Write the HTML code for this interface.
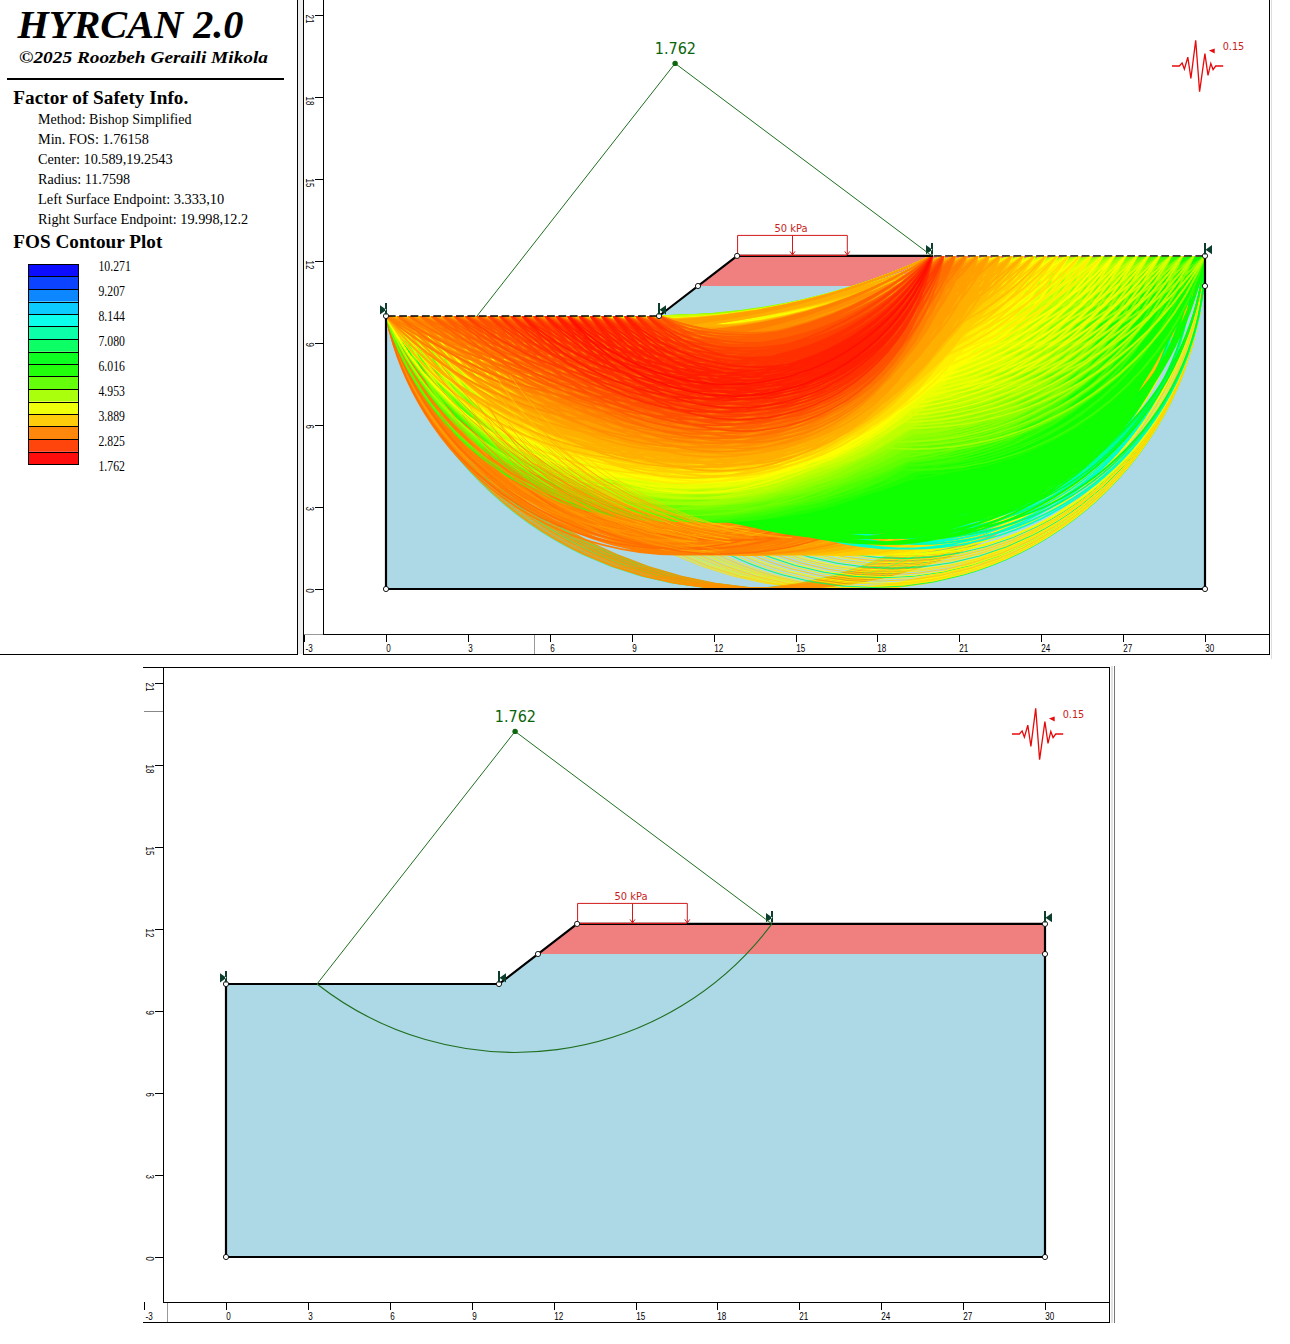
<!DOCTYPE html>
<html><head><meta charset="utf-8"><title>HYRCAN 2.0</title>
<style>
html,body{margin:0;padding:0;background:#fff}
svg{display:block}
svg{font-family:"Liberation Serif",serif}
.tah{font-family:"DejaVu Sans Condensed","DejaVu Sans","Liberation Sans",sans-serif}
.ari{font-family:"Liberation Sans",sans-serif}
.b{font-weight:bold}
.bi{font-weight:bold;font-style:italic}
</style></head><body>
<svg width="1290" height="1344" viewBox="0 0 1290 1344">
<rect width="1290" height="1344" fill="#fff"/>
<text x="17.5" y="38.4" class="bi" font-size="40" textLength="226" lengthAdjust="spacingAndGlyphs">HYRCAN 2.0</text>
<text x="19" y="63.4" class="bi" font-size="17.3" textLength="249" lengthAdjust="spacingAndGlyphs">©2025 Roozbeh Geraili Mikola</text>
<rect x="7" y="78" width="277" height="2" fill="#000"/>
<text x="13.3" y="103.6" class="b" font-size="18.6" textLength="175" lengthAdjust="spacingAndGlyphs">Factor of Safety Info.</text>
<text x="38" y="124" font-size="15" textLength="153.5" lengthAdjust="spacingAndGlyphs">Method: Bishop Simplified</text>
<text x="38" y="144.1" font-size="15" textLength="110.8" lengthAdjust="spacingAndGlyphs">Min. FOS: 1.76158</text>
<text x="38" y="164.1" font-size="15" textLength="134.6" lengthAdjust="spacingAndGlyphs">Center: 10.589,19.2543</text>
<text x="38" y="184.2" font-size="15" textLength="92.1" lengthAdjust="spacingAndGlyphs">Radius: 11.7598</text>
<text x="38" y="204.2" font-size="15" textLength="186.3" lengthAdjust="spacingAndGlyphs">Left Surface Endpoint: 3.333,10</text>
<text x="38" y="224.2" font-size="15" textLength="210.1" lengthAdjust="spacingAndGlyphs">Right Surface Endpoint: 19.998,12.2</text>
<text x="13.3" y="248.2" class="b" font-size="18.6" textLength="149" lengthAdjust="spacingAndGlyphs">FOS Contour Plot</text>
<rect x="28" y="264" width="50" height="12.5" fill="rgb(12,12,255)"/>
<rect x="28" y="276.5" width="50" height="12.5" fill="rgb(12,67,255)"/>
<rect x="28" y="289" width="50" height="12.5" fill="rgb(12,135,255)"/>
<rect x="28" y="301.5" width="50" height="12.5" fill="rgb(12,203,255)"/>
<rect x="28" y="314" width="50" height="12.5" fill="rgb(12,255,237)"/>
<rect x="28" y="326.5" width="50" height="12.5" fill="rgb(12,255,169)"/>
<rect x="28" y="339" width="50" height="12.5" fill="rgb(12,255,101)"/>
<rect x="28" y="351.5" width="50" height="12.5" fill="rgb(12,255,33)"/>
<rect x="28" y="364" width="50" height="12.5" fill="rgb(33,255,12)"/>
<rect x="28" y="376.5" width="50" height="12.5" fill="rgb(101,255,12)"/>
<rect x="28" y="389" width="50" height="12.5" fill="rgb(170,255,12)"/>
<rect x="28" y="401.5" width="50" height="12.5" fill="rgb(238,255,12)"/>
<rect x="28" y="414" width="50" height="12.5" fill="rgb(255,204,12)"/>
<rect x="28" y="426.5" width="50" height="12.5" fill="rgb(255,136,12)"/>
<rect x="28" y="439" width="50" height="12.5" fill="rgb(255,68,12)"/>
<rect x="28" y="451.5" width="50" height="12.5" fill="rgb(255,12,12)"/>
<g stroke="#000" stroke-width="1" fill="none" shape-rendering="crispEdges">
<rect x="28.5" y="264.5" width="50" height="200"/>
<line x1="28" y1="276.5" x2="79" y2="276.5"/>
<line x1="28" y1="289.5" x2="79" y2="289.5"/>
<line x1="28" y1="302.5" x2="79" y2="302.5"/>
<line x1="28" y1="314.5" x2="79" y2="314.5"/>
<line x1="28" y1="326.5" x2="79" y2="326.5"/>
<line x1="28" y1="339.5" x2="79" y2="339.5"/>
<line x1="28" y1="352.5" x2="79" y2="352.5"/>
<line x1="28" y1="364.5" x2="79" y2="364.5"/>
<line x1="28" y1="376.5" x2="79" y2="376.5"/>
<line x1="28" y1="389.5" x2="79" y2="389.5"/>
<line x1="28" y1="402.5" x2="79" y2="402.5"/>
<line x1="28" y1="414.5" x2="79" y2="414.5"/>
<line x1="28" y1="426.5" x2="79" y2="426.5"/>
<line x1="28" y1="439.5" x2="79" y2="439.5"/>
<line x1="28" y1="452.5" x2="79" y2="452.5"/>
</g>
<text x="98.5" y="271.1" font-size="13.6" textLength="32.3" lengthAdjust="spacingAndGlyphs">10.271</text>
<text x="98.5" y="296.1" font-size="13.6" textLength="26.4" lengthAdjust="spacingAndGlyphs">9.207</text>
<text x="98.5" y="321.1" font-size="13.6" textLength="26.4" lengthAdjust="spacingAndGlyphs">8.144</text>
<text x="98.5" y="346.1" font-size="13.6" textLength="26.4" lengthAdjust="spacingAndGlyphs">7.080</text>
<text x="98.5" y="371.1" font-size="13.6" textLength="26.4" lengthAdjust="spacingAndGlyphs">6.016</text>
<text x="98.5" y="396.1" font-size="13.6" textLength="26.4" lengthAdjust="spacingAndGlyphs">4.953</text>
<text x="98.5" y="421.1" font-size="13.6" textLength="26.4" lengthAdjust="spacingAndGlyphs">3.889</text>
<text x="98.5" y="446.1" font-size="13.6" textLength="26.4" lengthAdjust="spacingAndGlyphs">2.825</text>
<text x="98.5" y="471.1" font-size="13.6" textLength="26.4" lengthAdjust="spacingAndGlyphs">1.762</text>
<g stroke="#000" stroke-width="1" shape-rendering="crispEdges"><line x1="297.5" y1="0" x2="297.5" y2="655"/><line x1="0" y1="654.5" x2="298" y2="654.5"/></g>
<rect x="298" y="0" width="5" height="654" fill="#eee"/>
<defs><clipPath id="cp"><polygon points="386,589 1205,589 1205,256 737.1,256 659,316 386,316"/></clipPath></defs>
<polygon points="386,589 1205,589 1205,286 698,286 659,316 386,316" fill="#add8e6"/>
<polygon points="698,286 1205,286 1205,255.9 737.1,255.9" fill="#f08080"/>
<g fill="none" clip-path="url(#cp)" stroke-width="0.8">
<path stroke="#00ffaf" d="M386 316A360.9 360.9 0 0 0 1095.8 256M386 316A375.1 375.1 0 0 0 1119.7 256M386 316A389.8 389.8 0 0 0 1143.6 256M386 316A405 405 0 0 0 1167.5 256M386 316A420.7 420.7 0 0 0 1191.3 256"/>
<path stroke="#00ff1f" d="M386 316A366.9 366.9 0 0 0 1106 256M386 316A383.5 383.5 0 0 0 1133.3 256M386 316A392 392 0 0 0 1147 256M386 316A400.6 400.6 0 0 0 1160.6 256M386 316A409.4 409.4 0 0 0 1174.3 256M386 316A418.4 418.4 0 0 0 1187.9 256M386 316A427.5 427.5 0 0 0 1201.6 256"/>
<path stroke="#dfff00" d="M489.7 316A364.1 364.1 0 0 0 1205 256M517 316A348.3 348.3 0 0 0 1205 256"/>
<path stroke="#ffef00" d="M473.4 316A373.9 373.9 0 0 0 1205 256M500.7 316A357.7 357.7 0 0 0 1205 256M528 316A342.1 342.1 0 0 0 1205 256M484.3 316A367.3 367.3 0 0 0 1205 256M511.6 316A351.4 351.4 0 0 0 1205 256M538.9 316A336.1 336.1 0 0 0 1205 256"/>
<path stroke="#ffdf00" d="M467.9 316A377.2 377.2 0 0 0 1205 256M495.2 316A360.9 360.9 0 0 0 1205 256M522.5 316A345.2 345.2 0 0 0 1205 256"/>
<path stroke="#ffcf00" d="M478.8 316A370.6 370.6 0 0 0 1205 256M506.1 316A354.5 354.5 0 0 0 1205 256M533.4 316A339.1 339.1 0 0 0 1205 256"/>
<path stroke="#ff9f00" d="M386 316A362.9 362.9 0 0 0 1099.2 256M386 316A371 371 0 0 0 1112.9 256M386 316A379.3 379.3 0 0 0 1126.5 256M386 316A387.7 387.7 0 0 0 1140.2 256M386 316A396.3 396.3 0 0 0 1153.8 256M386 316A413.9 413.9 0 0 0 1181.1 256M386 316A423 423 0 0 0 1194.8 256"/>
<path stroke="#ff8f00" d="M386 316A368.9 368.9 0 0 0 1109.5 256M386 316A377.2 377.2 0 0 0 1123.1 256M386 316A385.6 385.6 0 0 0 1136.8 256M386 316A394.1 394.1 0 0 0 1150.4 256M386 316A402.8 402.8 0 0 0 1164.1 256M386 316A411.7 411.7 0 0 0 1177.7 256M386 316A429.8 429.8 0 0 0 1205 256M386 316A364.9 364.9 0 0 0 1102.6 256M386 316A373 373 0 0 0 1116.3 256M386 316A381.4 381.4 0 0 0 1129.9 256M386 316A398.4 398.4 0 0 0 1157.2 256M386 316A407.2 407.2 0 0 0 1170.9 256M386 316A416.1 416.1 0 0 0 1184.5 256M386 316A425.2 425.2 0 0 0 1198.2 256"/>
</g>
<g fill="none" clip-path="url(#cp)" stroke-width="0.9">
<path stroke="#00ff5f" d="M547.1 316A331.7 331.7 0 0 0 1205 256M566.7 316A322 322 0 0 0 1205 256M586.4 316A312.2 312.2 0 0 0 1205 256M606 316A302.5 302.5 0 0 0 1205 256"/>
<path stroke="#ffff00" d="M556.9 316A326.8 326.8 0 0 0 1205 256M570 316A320.3 320.3 0 0 0 1205 256M583.1 316A313.8 313.8 0 0 0 1205 256M596.2 316A307.4 307.4 0 0 0 1205 256M609.3 316A300.9 300.9 0 0 0 1205 256"/>
<path stroke="#ffef00" d="M550.3 316A330.1 330.1 0 0 0 1205 256M563.5 316A323.6 323.6 0 0 0 1205 256M576.6 316A317.1 317.1 0 0 0 1205 256M589.7 316A310.6 310.6 0 0 0 1205 256M602.8 316A304.1 304.1 0 0 0 1205 256"/>
<path stroke="#ffdf00" d="M553.6 316A328.5 328.5 0 0 0 1205 256M579.8 316A315.5 315.5 0 0 0 1205 256M592.9 316A309 309 0 0 0 1205 256"/>
<path stroke="#ffcf00" d="M560.2 316A325.2 325.2 0 0 0 1205 256M573.3 316A318.7 318.7 0 0 0 1205 256M599.5 316A305.7 305.7 0 0 0 1205 256M612.6 316A299.2 299.2 0 0 0 1205 256"/>
</g>
<g fill="none" clip-path="url(#cp)" stroke-width="1.7">
<path stroke="#dfff00" d="M602.1 316A293.2 293.2 0 0 0 1182.2 256"/>
<path stroke="#efff00" d="M613.5 316A298.8 298.8 0 0 0 1205 256M602.1 316A298.8 298.8 0 0 0 1193.6 256M579.4 316A287.5 287.5 0 0 0 1148.1 256"/>
<path stroke="#ffff00" d="M556.6 316A313.9 313.9 0 0 0 1170.9 256M579.4 316A293.2 293.2 0 0 0 1159.5 256M568 316A325.3 325.3 0 0 0 1205 256M545.2 316A313.9 313.9 0 0 0 1159.5 256M533.9 316A276.3 276.3 0 0 0 1079.9 256M568 316A287.5 287.5 0 0 0 1136.8 256M556.6 316A281.9 281.9 0 0 0 1114 256M590.8 316A293.2 293.2 0 0 0 1170.9 256M556.6 316A319.6 319.6 0 0 0 1182.2 256M579.4 316A319.6 319.6 0 0 0 1205 256M511.1 316A270.7 270.7 0 0 0 1045.8 256"/>
<path stroke="#ffef00" d="M579.4 316A298.8 298.8 0 0 0 1170.9 256M533.9 316A313.9 313.9 0 0 0 1148.1 256M522.5 316A281.9 281.9 0 0 0 1079.9 256M545.2 316A281.9 281.9 0 0 0 1102.6 256M545.2 316A319.6 319.6 0 0 0 1170.9 256M533.9 316A281.9 281.9 0 0 0 1091.2 256M568 316A293.2 293.2 0 0 0 1148.1 256M499.8 316A296.8 296.8 0 0 0 1079.9 256M556.6 316A325.2 325.2 0 0 0 1193.6 256M556.6 316A287.5 287.5 0 0 0 1125.4 256M590.8 316A298.8 298.8 0 0 0 1182.2 256M511.1 316A276.3 276.3 0 0 0 1057.1 256M511.1 316A308.2 308.2 0 0 0 1114 256M533.9 316A319.5 319.5 0 0 0 1159.5 256M522.5 316A287.5 287.5 0 0 0 1091.2 256M568 316A319.6 319.6 0 0 0 1193.6 256M545.2 316A287.5 287.5 0 0 0 1114 256"/>
<path stroke="#ffdf00" d="M545.2 316A325.2 325.2 0 0 0 1182.2 256M477 316A291.1 291.1 0 0 0 1045.8 256M533.9 316A287.5 287.5 0 0 0 1102.6 256M568 316A298.8 298.8 0 0 0 1159.5 256M556.6 316A293.2 293.2 0 0 0 1136.8 256M499.8 316A337.9 337.9 0 0 0 1148.1 256M522.5 316A325.2 325.2 0 0 0 1159.5 256M511.1 316A281.9 281.9 0 0 0 1068.5 256M499.8 316A270.7 270.7 0 0 0 1034.4 256M511.1 316A313.8 313.8 0 0 0 1125.4 256M533.9 316A325.2 325.2 0 0 0 1170.9 256M499.8 316A302.5 302.5 0 0 0 1091.2 256M522.5 316A308.2 308.2 0 0 0 1125.4 256M488.4 316A296.8 296.8 0 0 0 1068.5 256M488.4 316A281.9 281.9 0 0 0 1045.8 256M522.5 316A293.2 293.2 0 0 0 1102.6 256M545.2 316A293.2 293.2 0 0 0 1125.4 256M533.9 316A308.2 308.2 0 0 0 1136.8 256M488.4 316A366.5 366.5 0 0 0 1182.2 256M522.5 316A276.3 276.3 0 0 0 1068.5 256M533.9 316A293.2 293.2 0 0 0 1114 256M499.8 316A343.7 343.7 0 0 0 1159.5 256M556.6 316A298.8 298.8 0 0 0 1148.1 256M511.1 316A302.5 302.5 0 0 0 1102.6 256"/>
<path stroke="#ffcf00" d="M488.4 316A313.8 313.8 0 0 0 1102.6 256M511.1 316A343.8 343.8 0 0 0 1170.9 256M488.4 316A374.4 374.4 0 0 0 1193.6 256M465.6 316A332 332 0 0 0 1102.6 256M454.2 316A291 291 0 0 0 1023 256M511.1 316A319.5 319.5 0 0 0 1136.8 256M511.1 316A287.5 287.5 0 0 0 1079.9 256M477 316A296.8 296.8 0 0 0 1057.1 256M499.8 316A276.3 276.3 0 0 0 1045.8 256M465.6 316A270.7 270.7 0 0 0 1000.2 256M477 316A358.7 358.7 0 0 0 1159.5 256M477 316A332 332 0 0 0 1114 256M499.8 316A351.1 351.1 0 0 0 1170.9 256M522.5 316A313.9 313.9 0 0 0 1136.8 256M499.8 316A325.2 325.2 0 0 0 1136.8 256M499.8 316A293.2 293.2 0 0 0 1079.9 256M488.4 316A337.9 337.9 0 0 0 1136.8 256M488.4 316A382.4 382.4 0 0 0 1205 256M511.1 316A351.2 351.2 0 0 0 1182.2 256M488.4 316A287.5 287.5 0 0 0 1057.1 256M522.5 316A298.8 298.8 0 0 0 1114 256M545.2 316A298.8 298.8 0 0 0 1136.8 256M499.8 316A308.2 308.2 0 0 0 1102.6 256M477 316A313.8 313.8 0 0 0 1091.2 256M488.4 316A270.7 270.7 0 0 0 1023 256M477 316A366.4 366.4 0 0 0 1170.9 256M499.8 316A358.8 358.8 0 0 0 1182.2 256M454.2 316A326.1 326.1 0 0 0 1079.9 256M533.9 316A298.8 298.8 0 0 0 1125.4 256M465.6 316A302.4 302.4 0 0 0 1057.1 256M488.4 316A302.5 302.5 0 0 0 1079.9 256M477 316A270.7 270.7 0 0 0 1011.6 256M465.6 316A374.2 374.2 0 0 0 1170.9 256M488.4 316A319.5 319.5 0 0 0 1114 256M511.1 316A325.2 325.2 0 0 0 1148.1 256M511.1 316A293.2 293.2 0 0 0 1091.2 256M499.8 316A281.9 281.9 0 0 0 1057.1 256M477 316A374.3 374.3 0 0 0 1182.2 256M477 316A287.5 287.5 0 0 0 1045.8 256M499.8 316A366.6 366.6 0 0 0 1193.6 256M465.6 316A276.3 276.3 0 0 0 1011.6 256M465.6 316A291.1 291.1 0 0 0 1034.4 256M522.5 316A319.5 319.5 0 0 0 1148.1 256"/>
<path stroke="#ffbf00" d="M488.4 316A343.7 343.7 0 0 0 1148.1 256M465.6 316A382.3 382.3 0 0 0 1182.2 256M465.6 316A337.7 337.7 0 0 0 1114 256M454.2 316A296.7 296.7 0 0 0 1034.4 256M477 316A302.4 302.4 0 0 0 1068.5 256M454.2 316A407.1 407.1 0 0 0 1205 256M442.9 316A276.3 276.3 0 0 0 988.9 256M499.8 316A313.8 313.8 0 0 0 1114 256M477 316A337.8 337.8 0 0 0 1125.4 256M477 316A382.4 382.4 0 0 0 1193.6 256M454.2 316A350.9 350.9 0 0 0 1125.4 256M499.8 316A374.5 374.5 0 0 0 1205 256M477 316A319.4 319.4 0 0 0 1102.6 256M442.9 316A291 291 0 0 0 1011.6 256M488.4 316A276.3 276.3 0 0 0 1034.4 256M431.5 316A270.7 270.7 0 0 0 966.1 256M465.6 316A390.4 390.4 0 0 0 1193.6 256M442.9 316A337.6 337.6 0 0 0 1091.2 256M499.8 316A298.8 298.8 0 0 0 1091.2 256M488.4 316A351.1 351.1 0 0 0 1159.5 256M465.6 316A326.2 326.2 0 0 0 1091.2 256M477 316A276.3 276.3 0 0 0 1023 256M488.4 316A325.1 325.1 0 0 0 1125.4 256M465.6 316A293.2 293.2 0 0 0 1045.8 256M488.4 316A293.2 293.2 0 0 0 1068.5 256M454.2 316A313.7 313.7 0 0 0 1068.5 256M477 316A390.5 390.5 0 0 0 1205 256M454.2 316A358.5 358.5 0 0 0 1136.8 256M454.2 316A331.9 331.9 0 0 0 1091.2 256M499.8 316A287.5 287.5 0 0 0 1068.5 256M465.6 316A281.9 281.9 0 0 0 1023 256M454.2 316A270.7 270.7 0 0 0 988.9 256M465.6 316A308.1 308.1 0 0 0 1068.5 256M488.4 316A308.1 308.1 0 0 0 1091.2 256M465.6 316A398.8 398.8 0 0 0 1205 256M465.6 316A343.5 343.5 0 0 0 1125.4 256M442.9 316A390.3 390.3 0 0 0 1170.9 256M488.4 316A358.7 358.7 0 0 0 1170.9 256M442.9 316A326 326 0 0 0 1068.5 256M420.1 316A270.7 270.7 0 0 0 954.8 256M431.5 316A302.3 302.3 0 0 0 1023 256M454.2 316A287.5 287.5 0 0 0 1023 256M477 316A343.6 343.6 0 0 0 1136.8 256M454.2 316A366.3 366.3 0 0 0 1148.1 256M511.1 316A298.8 298.8 0 0 0 1102.6 256M499.8 316A319.5 319.5 0 0 0 1125.4 256M465.6 316A296.7 296.7 0 0 0 1045.8 256M442.9 316A281.9 281.9 0 0 0 1000.2 256M477 316A293.2 293.2 0 0 0 1057.1 256M442.9 316A308 308 0 0 0 1045.8 256M431.5 316A276.3 276.3 0 0 0 977.5 256M442.9 316A398.6 398.6 0 0 0 1182.2 256M442.9 316A343.4 343.4 0 0 0 1102.6 256M465.6 316A350.9 350.9 0 0 0 1136.8 256M431.5 316A291 291 0 0 0 1000.2 256"/>
<path stroke="#ffaf00" d="M465.6 316A325.1 325.1 0 0 0 1102.6 256M454.2 316A302.4 302.4 0 0 0 1045.8 256M477 316A281.9 281.9 0 0 0 1034.4 256M477 316A308.1 308.1 0 0 0 1079.9 256M431.5 316A382 382 0 0 0 1148.1 256M454.2 316A374.2 374.2 0 0 0 1159.5 256M431.5 316A337.5 337.5 0 0 0 1079.9 256M477 316A351 351 0 0 0 1148.1 256M477 316A325.1 325.1 0 0 0 1114 256M442.9 316A296.7 296.7 0 0 0 1023 256M420.1 316A302.3 302.3 0 0 0 1011.6 256M465.6 316A313.8 313.8 0 0 0 1079.9 256M442.9 316A407 407 0 0 0 1193.6 256M465.6 316A358.6 358.6 0 0 0 1148.1 256M442.9 316A350.8 350.8 0 0 0 1114 256M454.2 316A276.3 276.3 0 0 0 1000.2 256M465.6 316A298.8 298.8 0 0 0 1057.1 256M420.1 316A276.3 276.3 0 0 0 966.1 256M488.4 316A298.8 298.8 0 0 0 1079.9 256M431.5 316A390.2 390.2 0 0 0 1159.5 256M454.2 316A382.2 382.2 0 0 0 1170.9 256M454.2 316A337.7 337.7 0 0 0 1102.6 256M454.2 316A319.4 319.4 0 0 0 1079.9 256M420.1 316A290.9 290.9 0 0 0 988.9 256M431.5 316A325.9 325.9 0 0 0 1057.1 256M408.8 316A276.3 276.3 0 0 0 954.8 256M442.9 316A313.7 313.7 0 0 0 1057.1 256M442.9 316A415.6 415.6 0 0 0 1205 256M465.6 316A287.5 287.5 0 0 0 1034.4 256M420.1 316A381.9 381.9 0 0 0 1136.8 256M442.9 316A358.4 358.4 0 0 0 1125.4 256M465.6 316A366.3 366.3 0 0 0 1159.5 256M420.1 316A337.4 337.4 0 0 0 1068.5 256M442.9 316A331.8 331.8 0 0 0 1079.9 256M408.8 316A290.9 290.9 0 0 0 977.5 256M431.5 316A281.9 281.9 0 0 0 988.9 256M442.9 316A270.7 270.7 0 0 0 977.5 256M442.9 316A298.8 298.8 0 0 0 1034.4 256M431.5 316A308 308 0 0 0 1034.4 256M431.5 316A398.5 398.5 0 0 0 1170.9 256M431.5 316A343.3 343.3 0 0 0 1091.2 256M454.2 316A390.4 390.4 0 0 0 1182.2 256M408.8 316A337.4 337.4 0 0 0 1057.1 256M454.2 316A293.2 293.2 0 0 0 1034.4 256M442.9 316A287.5 287.5 0 0 0 1011.6 256M477 316A298.8 298.8 0 0 0 1068.5 256M420.1 316A390.1 390.1 0 0 0 1148.1 256M442.9 316A366.2 366.2 0 0 0 1136.8 256M420.1 316A325.8 325.8 0 0 0 1045.8 256M397.4 316A325.6 325.6 0 0 0 1023 256M431.5 316A296.7 296.7 0 0 0 1011.6 256"/>
<path stroke="#ff9f00" d="M454.2 316A281.9 281.9 0 0 0 1011.6 256M454.2 316A308.1 308.1 0 0 0 1057.1 256M431.5 316A406.9 406.9 0 0 0 1182.2 256M454.2 316A398.7 398.7 0 0 0 1193.6 256M408.8 316A390 390 0 0 0 1136.8 256M454.2 316A343.5 343.5 0 0 0 1114 256M431.5 316A350.7 350.7 0 0 0 1102.6 256M431.5 316A325 325 0 0 0 1068.5 256M408.8 316A325.7 325.7 0 0 0 1034.4 256M420.1 316A281.9 281.9 0 0 0 977.5 256M397.4 316A296.5 296.5 0 0 0 977.5 256M442.9 316A302.4 302.4 0 0 0 1034.4 256M420.1 316A308 308 0 0 0 1023 256M420.1 316A398.4 398.4 0 0 0 1159.5 256M420.1 316A343.2 343.2 0 0 0 1079.9 256M442.9 316A374.1 374.1 0 0 0 1148.1 256M465.6 316A319.4 319.4 0 0 0 1091.2 256M408.8 316A281.9 281.9 0 0 0 966.1 256M408.8 316A307.9 307.9 0 0 0 1011.6 256M431.5 316A313.7 313.7 0 0 0 1045.8 256M431.5 316A415.5 415.5 0 0 0 1193.6 256M408.8 316A398.3 398.3 0 0 0 1148.1 256M408.8 316A343.2 343.2 0 0 0 1068.5 256M431.5 316A358.4 358.4 0 0 0 1114 256M431.5 316A331.7 331.7 0 0 0 1068.5 256M454.2 316A325.1 325.1 0 0 0 1091.2 256M420.1 316A296.6 296.6 0 0 0 1000.2 256M386 316A319.7 319.7 0 0 0 1000.2 256M431.5 316A298.8 298.8 0 0 0 1023 256M386 316A276.3 276.3 0 0 0 932 256M397.4 316A406.5 406.5 0 0 0 1148.1 256M420.1 316A406.8 406.8 0 0 0 1170.9 256M442.9 316A319.4 319.4 0 0 0 1068.5 256M442.9 316A382.1 382.1 0 0 0 1159.5 256M420.1 316A350.6 350.6 0 0 0 1091.2 256M386 316A290.8 290.8 0 0 0 954.8 256M420.1 316A325 325 0 0 0 1057.1 256M397.4 316A350.5 350.5 0 0 0 1068.5 256M408.8 316A296.6 296.6 0 0 0 988.9 256M397.4 316A270.7 270.7 0 0 0 932 256M431.5 316A287.5 287.5 0 0 0 1000.2 256M431.5 316A424.1 424.1 0 0 0 1205 256M408.8 316A406.7 406.7 0 0 0 1159.5 256M431.5 316A366.1 366.1 0 0 0 1125.4 256M408.8 316A350.5 350.5 0 0 0 1079.9 256M397.4 316A287.5 287.5 0 0 0 966.1 256M454.2 316A298.8 298.8 0 0 0 1045.8 256M397.4 316A313.6 313.6 0 0 0 1011.6 256M420.1 316A313.6 313.6 0 0 0 1034.4 256M397.4 316A415.1 415.1 0 0 0 1159.5 256M420.1 316A415.4 415.4 0 0 0 1182.2 256M420.1 316A358.3 358.3 0 0 0 1102.6 256M397.4 316A358.1 358.1 0 0 0 1079.9 256M420.1 316A331.6 331.6 0 0 0 1057.1 256M397.4 316A331.5 331.5 0 0 0 1034.4 256M442.9 316A293.2 293.2 0 0 0 1023 256M420.1 316A298.8 298.8 0 0 0 1011.6 256"/>
<path stroke="#ff8f00" d="M408.8 316A313.6 313.6 0 0 0 1023 256M386 316A441.4 441.4 0 0 0 1182.2 256M408.8 316A415.2 415.2 0 0 0 1170.9 256M386 316A381.6 381.6 0 0 0 1102.6 256M431.5 316A374 374 0 0 0 1136.8 256M408.8 316A358.2 358.2 0 0 0 1091.2 256M386 316A337.2 337.2 0 0 0 1034.4 256M408.8 316A331.6 331.6 0 0 0 1045.8 256M408.8 316A270.7 270.7 0 0 0 943.4 256M408.8 316A298.8 298.8 0 0 0 1000.2 256M397.4 316A302.2 302.2 0 0 0 988.9 256M420.1 316A287.5 287.5 0 0 0 988.9 256M397.4 316A423.8 423.8 0 0 0 1170.9 256M420.1 316A424 424 0 0 0 1193.6 256M386 316A281.9 281.9 0 0 0 943.4 256M420.1 316A366 366 0 0 0 1114 256M397.4 316A365.8 365.8 0 0 0 1091.2 256M397.4 316A319.8 319.8 0 0 0 1011.6 256M386 316A307.9 307.9 0 0 0 988.9 256M408.8 316A287.5 287.5 0 0 0 977.5 256M397.4 316A276.3 276.3 0 0 0 943.4 256M386 316A450.4 450.4 0 0 0 1193.6 256M408.8 316A423.9 423.9 0 0 0 1182.2 256M431.5 316A319.4 319.4 0 0 0 1057.1 256M386 316A389.7 389.7 0 0 0 1114 256M408.8 316A365.9 365.9 0 0 0 1102.6 256M397.4 316A290.9 290.9 0 0 0 966.1 256M386 316A325.5 325.5 0 0 0 1011.6 256M397.4 316A432.6 432.6 0 0 0 1182.2 256M420.1 316A432.8 432.8 0 0 0 1205 256M420.1 316A373.9 373.9 0 0 0 1125.4 256M397.4 316A373.7 373.7 0 0 0 1102.6 256M442.9 316A325.1 325.1 0 0 0 1079.9 256M386 316A296.5 296.5 0 0 0 966.1 256M408.8 316A302.3 302.3 0 0 0 1000.2 256M386 316A459.6 459.6 0 0 0 1205 256M408.8 316A432.7 432.7 0 0 0 1193.6 256M386 316A398 398 0 0 0 1125.4 256M408.8 316A373.8 373.8 0 0 0 1114 256M386 316A343 343 0 0 0 1045.8 256M431.5 316A293.2 293.2 0 0 0 1011.6 256M397.4 316A441.5 441.5 0 0 0 1193.6 256M397.4 316A293.2 293.2 0 0 0 977.5 256M397.4 316A319.3 319.3 0 0 0 1023 256M420.1 316A319.3 319.3 0 0 0 1045.8 256M397.4 316A381.7 381.7 0 0 0 1114 256M397.4 316A337.3 337.3 0 0 0 1045.8 256"/>
<path stroke="#ff7f00" d="M408.8 316A441.6 441.6 0 0 0 1205 256M408.8 316A319.3 319.3 0 0 0 1034.4 256M386 316A406.4 406.4 0 0 0 1136.8 256M408.8 316A381.8 381.8 0 0 0 1125.4 256M386 316A324.9 324.9 0 0 0 1023 256M397.4 316A281.9 281.9 0 0 0 954.8 256M386 316A350.4 350.4 0 0 0 1057.1 256M386 316A298.8 298.8 0 0 0 977.5 256M397.4 316A307.9 307.9 0 0 0 1000.2 256M397.4 316A450.6 450.6 0 0 0 1205 256M397.4 316A389.9 389.9 0 0 0 1125.4 256M420.1 316A293.2 293.2 0 0 0 1000.2 256M386 316A287.5 287.5 0 0 0 954.8 256M386 316A313.6 313.6 0 0 0 1000.2 256M386 316A415 415 0 0 0 1148.1 256M408.8 316A293.2 293.2 0 0 0 988.9 256M386 316A358 358 0 0 0 1068.5 256M386 316A331.4 331.4 0 0 0 1023 256M397.4 316A398.2 398.2 0 0 0 1136.8 256M397.4 316A343.1 343.1 0 0 0 1057.1 256M386 316A302.2 302.2 0 0 0 977.5 256M386 316A423.7 423.7 0 0 0 1159.5 256M386 316A365.7 365.7 0 0 0 1079.9 256M397.4 316A324.9 324.9 0 0 0 1034.4 256M397.4 316A298.8 298.8 0 0 0 988.9 256M386 316A432.4 432.4 0 0 0 1170.9 256"/>
<path stroke="#ff6f00" d="M386 316A373.6 373.6 0 0 0 1091.2 256M408.8 316A325 325 0 0 0 1045.8 256M386 316A293.2 293.2 0 0 0 966.1 256M386 316A319.2 319.2 0 0 0 1011.6 256"/>
</g>
<g fill="none" clip-path="url(#cp)" stroke-width="1.7">
<path stroke="#00ffcf" d="M613.5 316A287.5 287.5 0 0 0 1182.2 256M613.5 316A293.2 293.2 0 0 0 1193.6 256M613.5 316A302.7 302.7 0 0 0 1205 256M624.9 316A276.3 276.3 0 0 0 1170.9 256M624.9 316A281.9 281.9 0 0 0 1182.2 256M624.9 316A287.5 287.5 0 0 0 1193.6 256M624.9 316A293.2 293.2 0 0 0 1205 256"/>
<path stroke="#00ffbf" d="M602.1 316A308.3 308.3 0 0 0 1205 256M636.2 316A281.9 281.9 0 0 0 1193.6 256M636.2 316A276.3 276.3 0 0 0 1182.2 256M636.2 316A270.7 270.7 0 0 0 1170.9 256"/>
<path stroke="#00ffaf" d="M636.2 316A265.1 265.1 0 0 0 1159.5 256M624.9 316A291.4 291.4 0 0 0 1193.6 256M636.2 316A287.5 287.5 0 0 0 1205 256M636.2 316A285.7 285.7 0 0 0 1193.6 256M636.2 316A280.1 280.1 0 0 0 1182.2 256"/>
<path stroke="#00ff9f" d="M624.9 316A285.7 285.7 0 0 0 1182.2 256M613.5 316A297 297 0 0 0 1193.6 256M636.2 316A291.4 291.4 0 0 0 1205 256M624.9 316A297 297 0 0 0 1205 256"/>
<path stroke="#00ff8f" d="M602.1 316A315.4 315.4 0 0 0 1205 256M636.2 316A274.4 274.4 0 0 0 1170.9 256"/>
<path stroke="#00ff7f" d="M647.6 316A276.3 276.3 0 0 0 1193.6 256M613.5 316A309.7 309.7 0 0 0 1205 256M647.6 316A270.7 270.7 0 0 0 1182.2 256"/>
<path stroke="#00ff6f" d="M647.6 316A265.1 265.1 0 0 0 1170.9 256M647.6 316A253.9 253.9 0 0 0 1148.1 256M647.6 316A281.9 281.9 0 0 0 1205 256M647.6 316A259.5 259.5 0 0 0 1159.5 256"/>
<path stroke="#00ff5f" d="M647.6 316A280.1 280.1 0 0 0 1193.6 256M647.6 316A274.4 274.4 0 0 0 1182.2 256M647.6 316A268.8 268.8 0 0 0 1170.9 256M647.6 316A263.2 263.2 0 0 0 1159.5 256M613.5 316A303.9 303.9 0 0 0 1193.6 256"/>
<path stroke="#00ff4f" d="M647.6 316A285.7 285.7 0 0 0 1205 256M624.9 316A298.2 298.2 0 0 0 1193.6 256M636.2 316A292.5 292.5 0 0 0 1193.6 256M624.9 316A303.9 303.9 0 0 0 1205 256M636.2 316A298.2 298.2 0 0 0 1205 256"/>
<path stroke="#00ff3f" d="M647.6 316A269.6 269.6 0 0 0 1159.5 256M636.2 316A286.7 286.7 0 0 0 1182.2 256M647.6 316A292.5 292.5 0 0 0 1205 256M624.9 316A292.4 292.4 0 0 0 1182.2 256M613.5 316A320.8 320.8 0 0 0 1205 256M659 316A242.7 242.7 0 0 0 1136.8 256M647.6 316A286.8 286.8 0 0 0 1193.6 256"/>
<path stroke="#00ff2f" d="M659 316A270.7 270.7 0 0 0 1193.6 256M647.6 316A281.1 281.1 0 0 0 1182.2 256M659 316A265.1 265.1 0 0 0 1182.2 256M659 316A259.5 259.5 0 0 0 1170.9 256"/>
<path stroke="#00ff1f" d="M659 316A276.3 276.3 0 0 0 1205 256M659 316A248.2 248.2 0 0 0 1148.1 256M647.6 316A275.3 275.3 0 0 0 1170.9 256M659 316A253.9 253.9 0 0 0 1159.5 256M659 316A274.5 274.5 0 0 0 1193.6 256M659 316A268.8 268.8 0 0 0 1182.2 256M659 316A251.9 251.9 0 0 0 1148.1 256M659 316A263.2 263.2 0 0 0 1170.9 256"/>
<path stroke="#00ff0f" d="M624.9 316A315 315 0 0 0 1205 256M659 316A257.5 257.5 0 0 0 1159.5 256M659 316A280.1 280.1 0 0 0 1205 256M624.9 316A309.1 309.1 0 0 0 1193.6 256M659 316A258.2 258.2 0 0 0 1148.1 256M636.2 316A281 281 0 0 0 1170.9 256M659 316A275.4 275.4 0 0 0 1182.2 256M659 316A281.1 281.1 0 0 0 1193.6 256"/>
<path stroke="#00ff00" d="M659 316A269.6 269.6 0 0 0 1170.9 256M659 316A263.9 263.9 0 0 0 1159.5 256M659 316A286.8 286.8 0 0 0 1205 256"/>
<path stroke="#0fff00" d="M386 316A405.6 405.6 0 0 0 1114 256M386 316A414.8 414.8 0 0 0 1125.4 256M386 316A424.2 424.2 0 0 0 1136.8 256M386 316A459.9 459.9 0 0 0 1148.1 256M386 316A433.7 433.7 0 0 0 1148.1 256M386 316A470.8 470.8 0 0 0 1159.5 256M386 316A443.4 443.4 0 0 0 1159.5 256M386 316A521.8 521.8 0 0 0 1170.9 256M386 316A481.8 481.8 0 0 0 1170.9 256M386 316A453.1 453.1 0 0 0 1170.9 256M386 316A534.7 534.7 0 0 0 1182.2 256M386 316A493.1 493.1 0 0 0 1182.2 256M386 316A463.1 463.1 0 0 0 1182.2 256M386 316A609 609 0 0 0 1193.6 256M386 316A547.8 547.8 0 0 0 1193.6 256M386 316A504.4 504.4 0 0 0 1193.6 256M386 316A473.1 473.1 0 0 0 1193.6 256M386 316A1566 1566 0 0 0 1205 256M386 316A1099.1 1099.1 0 0 0 1205 256M386 316A717.3 717.3 0 0 0 1205 256M386 316A624.6 624.6 0 0 0 1205 256M386 316A561 561 0 0 0 1205 256M386 316A515.9 515.9 0 0 0 1205 256M386 316A483.4 483.4 0 0 0 1205 256M397.4 316A387.9 387.9 0 0 0 1102.6 256M397.4 316A396.8 396.8 0 0 0 1114 256M397.4 316A405.9 405.9 0 0 0 1125.4 256M397.4 316A415.1 415.1 0 0 0 1136.8 256M397.4 316A449.6 449.6 0 0 0 1148.1 256M397.4 316A424.4 424.4 0 0 0 1148.1 256M397.4 316A460.4 460.4 0 0 0 1159.5 256M397.4 316A434 434 0 0 0 1159.5 256M397.4 316A510.1 510.1 0 0 0 1170.9 256M397.4 316A471.3 471.3 0 0 0 1170.9 256M397.4 316A443.6 443.6 0 0 0 1170.9 256M397.4 316A580.1 580.1 0 0 0 1182.2 256M397.4 316A522.7 522.7 0 0 0 1182.2 256M397.4 316A482.3 482.3 0 0 0 1182.2 256M397.4 316A453.4 453.4 0 0 0 1182.2 256M397.4 316A595.2 595.2 0 0 0 1193.6 256M397.4 316A535.6 535.6 0 0 0 1193.6 256M397.4 316A493.6 493.6 0 0 0 1193.6 256M397.4 316A463.4 463.4 0 0 0 1193.6 256M397.4 316A2805.6 2805.6 0 0 0 1205 256M397.4 316A1539.1 1539.1 0 0 0 1205 256M397.4 316A1076.4 1076.4 0 0 0 1205 256M397.4 316A840.9 840.9 0 0 0 1205 256M397.4 316A701.1 701.1 0 0 0 1205 256M397.4 316A610.5 610.5 0 0 0 1205 256M397.4 316A548.6 548.6 0 0 0 1205 256M397.4 316A504.9 504.9 0 0 0 1205 256M397.4 316A473.4 473.4 0 0 0 1205 256M408.8 316A379.3 379.3 0 0 0 1102.6 256M408.8 316A388.1 388.1 0 0 0 1114 256M408.8 316A397 397 0 0 0 1125.4 256M408.8 316A406.1 406.1 0 0 0 1136.8 256M408.8 316A439.6 439.6 0 0 0 1148.1 256M408.8 316A415.3 415.3 0 0 0 1148.1 256M408.8 316A450.1 450.1 0 0 0 1159.5 256M408.8 316A424.7 424.7 0 0 0 1159.5 256M408.8 316A498.4 498.4 0 0 0 1170.9 256M408.8 316A460.9 460.9 0 0 0 1170.9 256M408.8 316A434.2 434.2 0 0 0 1170.9 256M408.8 316A566.7 566.7 0 0 0 1182.2 256M408.8 316A510.9 510.9 0 0 0 1182.2 256M408.8 316A471.8 471.8 0 0 0 1182.2 256M408.8 316A443.9 443.9 0 0 0 1182.2 256M408.8 316A666.8 666.8 0 0 0 1193.6 256M408.8 316A581.5 581.5 0 0 0 1193.6 256M408.8 316A523.5 523.5 0 0 0 1193.6 256M408.8 316A482.8 482.8 0 0 0 1193.6 256M408.8 316A453.6 453.6 0 0 0 1193.6 256M408.8 316A2786.4 2786.4 0 0 0 1205 256M408.8 316A1512.4 1512.4 0 0 0 1205 256M408.8 316A1053.9 1053.9 0 0 0 1205 256M408.8 316A822.1 822.1 0 0 0 1205 256M408.8 316A685.1 685.1 0 0 0 1205 256M408.8 316A596.7 596.7 0 0 0 1205 256M408.8 316A536.5 536.5 0 0 0 1205 256M408.8 316A494 494 0 0 0 1205 256M408.8 316A463.6 463.6 0 0 0 1205 256M420.1 316A370.9 370.9 0 0 0 1102.6 256M420.1 316A379.5 379.5 0 0 0 1114 256M420.1 316A388.3 388.3 0 0 0 1125.4 256M420.1 316A397.2 397.2 0 0 0 1136.8 256M420.1 316A429.6 429.6 0 0 0 1148.1 256M420.1 316A406.3 406.3 0 0 0 1148.1 256M420.1 316A474.7 474.7 0 0 0 1159.5 256M420.1 316A440 440 0 0 0 1159.5 256M420.1 316A415.6 415.6 0 0 0 1159.5 256M420.1 316A486.8 486.8 0 0 0 1170.9 256M420.1 316A450.5 450.5 0 0 0 1170.9 256M420.1 316A424.9 424.9 0 0 0 1170.9 256M420.1 316A553.4 553.4 0 0 0 1182.2 256M420.1 316A499.2 499.2 0 0 0 1182.2 256M420.1 316A461.3 461.3 0 0 0 1182.2 256M420.1 316A434.5 434.5 0 0 0 1182.2 256M420.1 316A1437.3 1437.3 0 0 0 1193.6 256M420.1 316A1000.4 1000.4 0 0 0 1193.6 256M420.1 316A780.7 780.7 0 0 0 1193.6 256M420.1 316A651.3 651.3 0 0 0 1193.6 256M420.1 316A568.1 568.1 0 0 0 1193.6 256M420.1 316A511.7 511.7 0 0 0 1193.6 256M420.1 316A472.2 472.2 0 0 0 1193.6 256M420.1 316A444.1 444.1 0 0 0 1193.6 256M420.1 316A2767.6 2767.6 0 0 0 1205 256M420.1 316A1485.4 1485.4 0 0 0 1205 256M420.1 316A1031.4 1031.4 0 0 0 1205 256M420.1 316A803.4 803.4 0 0 0 1205 256M420.1 316A669.2 669.2 0 0 0 1205 256M420.1 316A582.9 582.9 0 0 0 1205 256M420.1 316A524.3 524.3 0 0 0 1205 256M420.1 316A483.2 483.2 0 0 0 1205 256M420.1 316A453.9 453.9 0 0 0 1205 256M431.5 316A362.6 362.6 0 0 0 1102.6 256M431.5 316A371.1 371.1 0 0 0 1114 256M431.5 316A379.7 379.7 0 0 0 1125.4 256M431.5 316A409.6 409.6 0 0 0 1136.8 256M431.5 316A388.5 388.5 0 0 0 1136.8 256M431.5 316A419.7 419.7 0 0 0 1148.1 256M431.5 316A397.4 397.4 0 0 0 1148.1 256M431.5 316A463.4 463.4 0 0 0 1159.5 256M431.5 316A430 430 0 0 0 1159.5 256M431.5 316A406.5 406.5 0 0 0 1159.5 256M431.5 316A475.4 475.4 0 0 0 1170.9 256M431.5 316A440.4 440.4 0 0 0 1170.9 256M431.5 316A415.8 415.8 0 0 0 1170.9 256M431.5 316A540.1 540.1 0 0 0 1182.2 256M431.5 316A487.5 487.5 0 0 0 1182.2 256M431.5 316A450.9 450.9 0 0 0 1182.2 256M431.5 316A425.1 425.1 0 0 0 1182.2 256M431.5 316A2644.5 2644.5 0 0 0 1193.6 256M431.5 316A1411 1411 0 0 0 1193.6 256M431.5 316A978.5 978.5 0 0 0 1193.6 256M431.5 316A762.4 762.4 0 0 0 1193.6 256M431.5 316A635.8 635.8 0 0 0 1193.6 256M431.5 316A554.7 554.7 0 0 0 1193.6 256M431.5 316A499.9 499.9 0 0 0 1193.6 256M431.5 316A461.8 461.8 0 0 0 1193.6 256M431.5 316A434.7 434.7 0 0 0 1193.6 256M431.5 316A2749.1 2749.1 0 0 0 1205 256M431.5 316A1458.9 1458.9 0 0 0 1205 256M431.5 316A1009.2 1009.2 0 0 0 1205 256M431.5 316A785 785 0 0 0 1205 256M431.5 316A653.6 653.6 0 0 0 1205 256M431.5 316A569.4 569.4 0 0 0 1205 256M431.5 316A512.5 512.5 0 0 0 1205 256M431.5 316A472.7 472.7 0 0 0 1205 256M431.5 316A444.4 444.4 0 0 0 1205 256M442.9 316A354.6 354.6 0 0 0 1102.6 256M442.9 316A362.8 362.8 0 0 0 1114 256M442.9 316A371.3 371.3 0 0 0 1125.4 256M442.9 316A400.1 400.1 0 0 0 1136.8 256M442.9 316A379.9 379.9 0 0 0 1136.8 256M442.9 316A410 410 0 0 0 1148.1 256M442.9 316A388.7 388.7 0 0 0 1148.1 256M442.9 316A452.4 452.4 0 0 0 1159.5 256M442.9 316A420.1 420.1 0 0 0 1159.5 256M442.9 316A397.6 397.6 0 0 0 1159.5 256M442.9 316A464.1 464.1 0 0 0 1170.9 256M442.9 316A430.4 430.4 0 0 0 1170.9 256M442.9 316A406.7 406.7 0 0 0 1170.9 256M442.9 316A527.2 527.2 0 0 0 1182.2 256M442.9 316A476.1 476.1 0 0 0 1182.2 256M442.9 316A440.8 440.8 0 0 0 1182.2 256M442.9 316A416 416 0 0 0 1182.2 256M442.9 316A2626.6 2626.6 0 0 0 1193.6 256M442.9 316A1384.6 1384.6 0 0 0 1193.6 256M442.9 316A956.5 956.5 0 0 0 1193.6 256M442.9 316A744.2 744.2 0 0 0 1193.6 256M442.9 316A620.4 620.4 0 0 0 1193.6 256M442.9 316A541.4 541.4 0 0 0 1193.6 256M442.9 316A488.3 488.3 0 0 0 1193.6 256M442.9 316A451.4 451.4 0 0 0 1193.6 256M442.9 316A425.3 425.3 0 0 0 1193.6 256M442.9 316A2730.9 2730.9 0 0 0 1205 256M442.9 316A1432.1 1432.1 0 0 0 1205 256M442.9 316A987 987 0 0 0 1205 256M442.9 316A766.6 766.6 0 0 0 1205 256M442.9 316A638.1 638.1 0 0 0 1205 256M442.9 316A556 556 0 0 0 1205 256M442.9 316A500.7 500.7 0 0 0 1205 256M442.9 316A462.2 462.2 0 0 0 1205 256M442.9 316A434.9 434.9 0 0 0 1205 256M454.2 316A320.3 320.3 0 0 0 1068.5 256M454.2 316A348.8 348.8 0 0 0 1102.6 256M454.2 316A354.8 354.8 0 0 0 1114 256M454.2 316A363 363 0 0 0 1125.4 256M454.2 316A390.7 390.7 0 0 0 1136.8 256M454.2 316A371.5 371.5 0 0 0 1136.8 256M454.2 316A400.5 400.5 0 0 0 1148.1 256M454.2 316A380.1 380.1 0 0 0 1148.1 256M454.2 316A441.4 441.4 0 0 0 1159.5 256M454.2 316A410.4 410.4 0 0 0 1159.5 256M454.2 316A388.9 388.9 0 0 0 1159.5 256M454.2 316A500.4 500.4 0 0 0 1170.9 256M454.2 316A453 453 0 0 0 1170.9 256M454.2 316A420.5 420.5 0 0 0 1170.9 256M454.2 316A397.8 397.8 0 0 0 1170.9 256M454.2 316A905.4 905.4 0 0 0 1182.2 256M454.2 316A588.2 588.2 0 0 0 1182.2 256M454.2 316A514.3 514.3 0 0 0 1182.2 256M454.2 316A464.8 464.8 0 0 0 1182.2 256M454.2 316A430.7 430.7 0 0 0 1182.2 256M454.2 316A406.9 406.9 0 0 0 1182.2 256M454.2 316A2609 2609 0 0 0 1193.6 256M454.2 316A1358.6 1358.6 0 0 0 1193.6 256M454.2 316A934.9 934.9 0 0 0 1193.6 256M454.2 316A726.4 726.4 0 0 0 1193.6 256M454.2 316A605.3 605.3 0 0 0 1193.6 256M454.2 316A528.4 528.4 0 0 0 1193.6 256M454.2 316A476.8 476.8 0 0 0 1193.6 256M454.2 316A441.2 441.2 0 0 0 1193.6 256M454.2 316A416.2 416.2 0 0 0 1193.6 256M454.2 316A2713.1 2713.1 0 0 0 1205 256M454.2 316A1405.2 1405.2 0 0 0 1205 256M454.2 316A964.7 964.7 0 0 0 1205 256M454.2 316A748.2 748.2 0 0 0 1205 256M454.2 316A622.6 622.6 0 0 0 1205 256M454.2 316A542.6 542.6 0 0 0 1205 256M454.2 316A489 489 0 0 0 1205 256M454.2 316A451.7 451.7 0 0 0 1205 256M454.2 316A425.5 425.5 0 0 0 1205 256M465.6 316A320.4 320.4 0 0 0 1079.9 256M465.6 316A348.9 348.9 0 0 0 1114 256M465.6 316A354.9 354.9 0 0 0 1125.4 256M465.6 316A381.4 381.4 0 0 0 1136.8 256M465.6 316A363.1 363.1 0 0 0 1136.8 256M465.6 316A391.1 391.1 0 0 0 1148.1 256M465.6 316A371.7 371.7 0 0 0 1148.1 256M465.6 316A430.7 430.7 0 0 0 1159.5 256M465.6 316A400.8 400.8 0 0 0 1159.5 256M465.6 316A380.3 380.3 0 0 0 1159.5 256M465.6 316A488 488 0 0 0 1170.9 256M465.6 316A442.1 442.1 0 0 0 1170.9 256M465.6 316A410.7 410.7 0 0 0 1170.9 256M465.6 316A389.1 389.1 0 0 0 1170.9 256M465.6 316A1286.9 1286.9 0 0 0 1182.2 256M465.6 316A884.2 884.2 0 0 0 1182.2 256M465.6 316A687.3 687.3 0 0 0 1182.2 256M465.6 316A573.5 573.5 0 0 0 1182.2 256M465.6 316A501.6 501.6 0 0 0 1182.2 256M465.6 316A453.7 453.7 0 0 0 1182.2 256M465.6 316A420.8 420.8 0 0 0 1182.2 256M465.6 316A398 398 0 0 0 1182.2 256M465.6 316A2591.9 2591.9 0 0 0 1193.6 256M465.6 316A1332.4 1332.4 0 0 0 1193.6 256M465.6 316A913.3 913.3 0 0 0 1193.6 256M465.6 316A708.6 708.6 0 0 0 1193.6 256M465.6 316A590.3 590.3 0 0 0 1193.6 256M465.6 316A515.4 515.4 0 0 0 1193.6 256M465.6 316A465.5 465.5 0 0 0 1193.6 256M465.6 316A431.1 431.1 0 0 0 1193.6 256M465.6 316A407.1 407.1 0 0 0 1193.6 256M465.6 316A2695.8 2695.8 0 0 0 1205 256M465.6 316A1378.7 1378.7 0 0 0 1205 256M465.6 316A942.9 942.9 0 0 0 1205 256M465.6 316A730.2 730.2 0 0 0 1205 256M465.6 316A607.4 607.4 0 0 0 1205 256M465.6 316A529.6 529.6 0 0 0 1205 256M465.6 316A477.5 477.5 0 0 0 1205 256M465.6 316A441.6 441.6 0 0 0 1205 256M465.6 316A416.4 416.4 0 0 0 1205 256M477 316A314.7 314.7 0 0 0 1079.9 256M477 316A320.5 320.5 0 0 0 1091.2 256M477 316A326.3 326.3 0 0 0 1102.6 256M477 316A343.1 343.1 0 0 0 1114 256M477 316A349.1 349.1 0 0 0 1125.4 256M477 316A372.5 372.5 0 0 0 1136.8 256M477 316A355.1 355.1 0 0 0 1136.8 256M477 316A381.8 381.8 0 0 0 1148.1 256M477 316A363.3 363.3 0 0 0 1148.1 256M477 316A420.1 420.1 0 0 0 1159.5 256M477 316A391.4 391.4 0 0 0 1159.5 256M477 316A371.8 371.8 0 0 0 1159.5 256M477 316A475.7 475.7 0 0 0 1170.9 256M477 316A431.3 431.3 0 0 0 1170.9 256M477 316A401.1 401.1 0 0 0 1170.9 256M477 316A380.5 380.5 0 0 0 1170.9 256M477 316A1261.4 1261.4 0 0 0 1182.2 256M477 316A863.2 863.2 0 0 0 1182.2 256M477 316A670 670 0 0 0 1182.2 256M477 316A558.9 558.9 0 0 0 1182.2 256M477 316A489 489 0 0 0 1182.2 256M477 316A442.7 442.7 0 0 0 1182.2 256M477 316A411.1 411.1 0 0 0 1182.2 256M477 316A389.2 389.2 0 0 0 1182.2 256M477 316A2575.1 2575.1 0 0 0 1193.6 256M477 316A1306.3 1306.3 0 0 0 1193.6 256M477 316A891.8 891.8 0 0 0 1193.6 256M477 316A690.9 690.9 0 0 0 1193.6 256M477 316A575.5 575.5 0 0 0 1193.6 256M477 316A502.7 502.7 0 0 0 1193.6 256M477 316A454.3 454.3 0 0 0 1193.6 256M477 316A421.2 421.2 0 0 0 1193.6 256M477 316A398.2 398.2 0 0 0 1193.6 256M477 316A2678.8 2678.8 0 0 0 1205 256M477 316A1352 1352 0 0 0 1205 256M477 316A921 921 0 0 0 1205 256M477 316A712.3 712.3 0 0 0 1205 256M477 316A592.3 592.3 0 0 0 1205 256M477 316A516.6 516.6 0 0 0 1205 256M477 316A466.1 466.1 0 0 0 1205 256M477 316A431.4 431.4 0 0 0 1205 256M477 316A407.3 407.3 0 0 0 1205 256M488.4 316A291.1 291.1 0 0 0 1057.1 256M488.4 316A314.8 314.8 0 0 0 1091.2 256M488.4 316A320.5 320.5 0 0 0 1102.6 256M488.4 316A337.3 337.3 0 0 0 1114 256M488.4 316A326.3 326.3 0 0 0 1114 256M488.4 316A343.2 343.2 0 0 0 1125.4 256M488.4 316A332.1 332.1 0 0 0 1125.4 256M488.4 316A366.5 366.5 0 0 0 1136.8 256M488.4 316A349.2 349.2 0 0 0 1136.8 256M488.4 316A372.8 372.8 0 0 0 1148.1 256M488.4 316A355.2 355.2 0 0 0 1148.1 256M488.4 316A409.6 409.6 0 0 0 1159.5 256M488.4 316A382.1 382.1 0 0 0 1159.5 256M488.4 316A363.4 363.4 0 0 0 1159.5 256M488.4 316A463.5 463.5 0 0 0 1170.9 256M488.4 316A420.7 420.7 0 0 0 1170.9 256M488.4 316A391.7 391.7 0 0 0 1170.9 256M488.4 316A372 372 0 0 0 1170.9 256M488.4 316A2457.4 2457.4 0 0 0 1182.2 256M488.4 316A1236 1236 0 0 0 1182.2 256M488.4 316A842.4 842.4 0 0 0 1182.2 256M488.4 316A652.9 652.9 0 0 0 1182.2 256M488.4 316A544.6 544.6 0 0 0 1182.2 256M488.4 316A476.7 476.7 0 0 0 1182.2 256M488.4 316A431.9 431.9 0 0 0 1182.2 256M488.4 316A401.5 401.5 0 0 0 1182.2 256M488.4 316A380.6 380.6 0 0 0 1182.2 256M488.4 316A2558.8 2558.8 0 0 0 1193.6 256M488.4 316A1280.3 1280.3 0 0 0 1193.6 256M488.4 316A870.6 870.6 0 0 0 1193.6 256M488.4 316A673.5 673.5 0 0 0 1193.6 256M488.4 316A560.8 560.8 0 0 0 1193.6 256M488.4 316A490.1 490.1 0 0 0 1193.6 256M488.4 316A443.3 443.3 0 0 0 1193.6 256M488.4 316A411.4 411.4 0 0 0 1193.6 256M488.4 316A389.4 389.4 0 0 0 1193.6 256M488.4 316A2662.4 2662.4 0 0 0 1205 256M488.4 316A1325.5 1325.5 0 0 0 1205 256M488.4 316A899.3 899.3 0 0 0 1205 256M488.4 316A694.5 694.5 0 0 0 1205 256M488.4 316A577.4 577.4 0 0 0 1205 256M488.4 316A503.7 503.7 0 0 0 1205 256M488.4 316A454.9 454.9 0 0 0 1205 256M488.4 316A421.5 421.5 0 0 0 1205 256M488.4 316A398.4 398.4 0 0 0 1205 256M499.8 316A265.1 265.1 0 0 0 1023 256M499.8 316A285.5 285.5 0 0 0 1057.1 256M499.8 316A291.2 291.2 0 0 0 1068.5 256M499.8 316A309.1 309.1 0 0 0 1091.2 256M499.8 316A314.8 314.8 0 0 0 1102.6 256M499.8 316A331.4 331.4 0 0 0 1114 256M499.8 316A320.6 320.6 0 0 0 1114 256M499.8 316A337.4 337.4 0 0 0 1125.4 256M499.8 316A326.4 326.4 0 0 0 1125.4 256M499.8 316A360.4 360.4 0 0 0 1136.8 256M499.8 316A343.4 343.4 0 0 0 1136.8 256M499.8 316A332.2 332.2 0 0 0 1136.8 256M499.8 316A366.8 366.8 0 0 0 1148.1 256M499.8 316A349.4 349.4 0 0 0 1148.1 256M499.8 316A399.5 399.5 0 0 0 1159.5 256M499.8 316A373.1 373.1 0 0 0 1159.5 256M499.8 316A355.4 355.4 0 0 0 1159.5 256M499.8 316A794.4 794.4 0 0 0 1170.9 256M499.8 316A451.5 451.5 0 0 0 1170.9 256M499.8 316A410.1 410.1 0 0 0 1170.9 256M499.8 316A382.4 382.4 0 0 0 1170.9 256M499.8 316A363.6 363.6 0 0 0 1170.9 256M499.8 316A2441.8 2441.8 0 0 0 1182.2 256M499.8 316A1210.7 1210.7 0 0 0 1182.2 256M499.8 316A821.8 821.8 0 0 0 1182.2 256M499.8 316A636.1 636.1 0 0 0 1182.2 256M499.8 316A530.4 530.4 0 0 0 1182.2 256M499.8 316A464.5 464.5 0 0 0 1182.2 256M499.8 316A421.2 421.2 0 0 0 1182.2 256M499.8 316A392 392 0 0 0 1182.2 256M499.8 316A372.1 372.1 0 0 0 1182.2 256M499.8 316A2543.1 2543.1 0 0 0 1193.6 256M499.8 316A1254.4 1254.4 0 0 0 1193.6 256M499.8 316A849.5 849.5 0 0 0 1193.6 256M499.8 316A656.3 656.3 0 0 0 1193.6 256M499.8 316A546.4 546.4 0 0 0 1193.6 256M499.8 316A477.7 477.7 0 0 0 1193.6 256M499.8 316A432.4 432.4 0 0 0 1193.6 256M499.8 316A401.8 401.8 0 0 0 1193.6 256M499.8 316A380.8 380.8 0 0 0 1193.6 256M499.8 316A2646.4 2646.4 0 0 0 1205 256M499.8 316A1299 1299 0 0 0 1205 256M499.8 316A877.8 877.8 0 0 0 1205 256M499.8 316A677 677 0 0 0 1205 256M499.8 316A562.6 562.6 0 0 0 1205 256M499.8 316A491.1 491.1 0 0 0 1205 256M499.8 316A443.8 443.8 0 0 0 1205 256M499.8 316A411.7 411.7 0 0 0 1205 256M499.8 316A389.6 389.6 0 0 0 1205 256M511.1 316A265.1 265.1 0 0 0 1034.4 256M511.1 316A285.5 285.5 0 0 0 1068.5 256M511.1 316A291.2 291.2 0 0 0 1079.9 256M511.1 316A296.8 296.8 0 0 0 1091.2 256M511.1 316A309.1 309.1 0 0 0 1102.6 256M511.1 316A314.9 314.9 0 0 0 1114 256M511.1 316A331.6 331.6 0 0 0 1125.4 256M511.1 316A320.7 320.7 0 0 0 1125.4 256M511.1 316A337.6 337.6 0 0 0 1136.8 256M511.1 316A326.5 326.5 0 0 0 1136.8 256M511.1 316A360.7 360.7 0 0 0 1148.1 256M511.1 316A343.5 343.5 0 0 0 1148.1 256M511.1 316A332.2 332.2 0 0 0 1148.1 256M511.1 316A393.2 393.2 0 0 0 1159.5 256M511.1 316A367 367 0 0 0 1159.5 256M511.1 316A349.5 349.5 0 0 0 1159.5 256M511.1 316A338 338 0 0 0 1159.5 256M511.1 316A774.8 774.8 0 0 0 1170.9 256M511.1 316A440 440 0 0 0 1170.9 256M511.1 316A400 400 0 0 0 1170.9 256M511.1 316A373.4 373.4 0 0 0 1170.9 256M511.1 316A355.5 355.5 0 0 0 1170.9 256M511.1 316A2426.8 2426.8 0 0 0 1182.2 256M511.1 316A1185.2 1185.2 0 0 0 1182.2 256M511.1 316A801.1 801.1 0 0 0 1182.2 256M511.1 316A619.2 619.2 0 0 0 1182.2 256M511.1 316A516.3 516.3 0 0 0 1182.2 256M511.1 316A452.4 452.4 0 0 0 1182.2 256M511.1 316A410.7 410.7 0 0 0 1182.2 256M511.1 316A382.6 382.6 0 0 0 1182.2 256M511.1 316A363.7 363.7 0 0 0 1182.2 256M511.1 316A2527.8 2527.8 0 0 0 1193.6 256M511.1 316A1228.7 1228.7 0 0 0 1193.6 256M511.1 316A828.6 828.6 0 0 0 1193.6 256M511.1 316A639.3 639.3 0 0 0 1193.6 256M511.1 316A532.1 532.1 0 0 0 1193.6 256M511.1 316A465.5 465.5 0 0 0 1193.6 256M511.1 316A421.8 421.8 0 0 0 1193.6 256M511.1 316A392.3 392.3 0 0 0 1193.6 256M511.1 316A372.3 372.3 0 0 0 1193.6 256M511.1 316A358.9 358.9 0 0 0 1193.6 256M511.1 316A2631 2631 0 0 0 1205 256M511.1 316A1272.7 1272.7 0 0 0 1205 256M511.1 316A856.4 856.4 0 0 0 1205 256M511.1 316A659.6 659.6 0 0 0 1205 256M511.1 316A548.1 548.1 0 0 0 1205 256M511.1 316A478.6 478.6 0 0 0 1205 256M511.1 316A433 433 0 0 0 1205 256M511.1 316A402.1 402.1 0 0 0 1205 256M511.1 316A380.9 380.9 0 0 0 1205 256M511.1 316A366.6 366.6 0 0 0 1205 256M522.5 316A259.5 259.5 0 0 0 1034.4 256M522.5 316A265.1 265.1 0 0 0 1045.8 256M522.5 316A270.7 270.7 0 0 0 1057.1 256M522.5 316A279.9 279.9 0 0 0 1068.5 256M522.5 316A285.5 285.5 0 0 0 1079.9 256M522.5 316A291.2 291.2 0 0 0 1091.2 256M522.5 316A303.4 303.4 0 0 0 1102.6 256M522.5 316A296.9 296.9 0 0 0 1102.6 256M522.5 316A309.2 309.2 0 0 0 1114 256M522.5 316A302.5 302.5 0 0 0 1114 256M522.5 316A325.8 325.8 0 0 0 1125.4 256M522.5 316A315 315 0 0 0 1125.4 256M522.5 316A331.7 331.7 0 0 0 1136.8 256M522.5 316A320.7 320.7 0 0 0 1136.8 256M522.5 316A354.7 354.7 0 0 0 1148.1 256M522.5 316A337.7 337.7 0 0 0 1148.1 256M522.5 316A326.5 326.5 0 0 0 1148.1 256M522.5 316A386.8 386.8 0 0 0 1159.5 256M522.5 316A361 361 0 0 0 1159.5 256M522.5 316A343.7 343.7 0 0 0 1159.5 256M522.5 316A332.3 332.3 0 0 0 1159.5 256M522.5 316A1130.1 1130.1 0 0 0 1170.9 256M522.5 316A764.4 764.4 0 0 0 1170.9 256M522.5 316A433.1 433.1 0 0 0 1170.9 256M522.5 316A393.7 393.7 0 0 0 1170.9 256M522.5 316A367.3 367.3 0 0 0 1170.9 256M522.5 316A349.7 349.7 0 0 0 1170.9 256M522.5 316A338.1 338.1 0 0 0 1170.9 256M522.5 316A2412.3 2412.3 0 0 0 1182.2 256M522.5 316A1160.7 1160.7 0 0 0 1182.2 256M522.5 316A781.3 781.3 0 0 0 1182.2 256M522.5 316A603.1 603.1 0 0 0 1182.2 256M522.5 316A502.8 502.8 0 0 0 1182.2 256M522.5 316A440.8 440.8 0 0 0 1182.2 256M522.5 316A400.5 400.5 0 0 0 1182.2 256M522.5 316A373.6 373.6 0 0 0 1182.2 256M522.5 316A355.6 355.6 0 0 0 1182.2 256M522.5 316A343.8 343.8 0 0 0 1182.2 256M522.5 316A2513.2 2513.2 0 0 0 1193.6 256M522.5 316A1202.7 1202.7 0 0 0 1193.6 256M522.5 316A807.7 807.7 0 0 0 1193.6 256M522.5 316A622.3 622.3 0 0 0 1193.6 256M522.5 316A517.9 517.9 0 0 0 1193.6 256M522.5 316A453.3 453.3 0 0 0 1193.6 256M522.5 316A411.2 411.2 0 0 0 1193.6 256M522.5 316A382.9 382.9 0 0 0 1193.6 256M522.5 316A363.9 363.9 0 0 0 1193.6 256M522.5 316A351.3 351.3 0 0 0 1193.6 256M522.5 316A2616.2 2616.2 0 0 0 1205 256M522.5 316A1246.4 1246.4 0 0 0 1205 256M522.5 316A835.3 835.3 0 0 0 1205 256M522.5 316A642.5 642.5 0 0 0 1205 256M522.5 316A533.8 533.8 0 0 0 1205 256M522.5 316A466.4 466.4 0 0 0 1205 256M522.5 316A422.3 422.3 0 0 0 1205 256M522.5 316A392.6 392.6 0 0 0 1205 256M522.5 316A372.4 372.4 0 0 0 1205 256M522.5 316A358.9 358.9 0 0 0 1205 256M533.9 316A259.5 259.5 0 0 0 1045.8 256M533.9 316A265.1 265.1 0 0 0 1057.1 256M533.9 316A274.3 274.3 0 0 0 1068.5 256M533.9 316A270.7 270.7 0 0 0 1068.5 256M533.9 316A279.9 279.9 0 0 0 1079.9 256M533.9 316A285.6 285.6 0 0 0 1091.2 256M533.9 316A297.7 297.7 0 0 0 1102.6 256M533.9 316A291.2 291.2 0 0 0 1102.6 256M533.9 316A303.5 303.5 0 0 0 1114 256M533.9 316A296.9 296.9 0 0 0 1114 256M533.9 316A309.3 309.3 0 0 0 1125.4 256M533.9 316A302.5 302.5 0 0 0 1125.4 256M533.9 316A325.9 325.9 0 0 0 1136.8 256M533.9 316A315 315 0 0 0 1136.8 256M533.9 316A348.7 348.7 0 0 0 1148.1 256M533.9 316A331.9 331.9 0 0 0 1148.1 256M533.9 316A320.8 320.8 0 0 0 1148.1 256M533.9 316A380.5 380.5 0 0 0 1159.5 256M533.9 316A355 355 0 0 0 1159.5 256M533.9 316A337.8 337.8 0 0 0 1159.5 256M533.9 316A326.6 326.6 0 0 0 1159.5 256M533.9 316A1116.9 1116.9 0 0 0 1170.9 256M533.9 316A754 754 0 0 0 1170.9 256M533.9 316A426.3 426.3 0 0 0 1170.9 256M533.9 316A387.3 387.3 0 0 0 1170.9 256M533.9 316A361.3 361.3 0 0 0 1170.9 256M533.9 316A343.8 343.8 0 0 0 1170.9 256M533.9 316A332.3 332.3 0 0 0 1170.9 256M533.9 316A2398.4 2398.4 0 0 0 1182.2 256M533.9 316A1147.3 1147.3 0 0 0 1182.2 256M533.9 316A770.8 770.8 0 0 0 1182.2 256M533.9 316A594.4 594.4 0 0 0 1182.2 256M533.9 316A495.2 495.2 0 0 0 1182.2 256M533.9 316A434 434 0 0 0 1182.2 256M533.9 316A394.2 394.2 0 0 0 1182.2 256M533.9 316A367.6 367.6 0 0 0 1182.2 256M533.9 316A349.8 349.8 0 0 0 1182.2 256M533.9 316A338.1 338.1 0 0 0 1182.2 256M533.9 316A2499.2 2499.2 0 0 0 1193.6 256M533.9 316A1177.7 1177.7 0 0 0 1193.6 256M533.9 316A787.7 787.7 0 0 0 1193.6 256M533.9 316A606.1 606.1 0 0 0 1193.6 256M533.9 316A504.4 504.4 0 0 0 1193.6 256M533.9 316A441.7 441.7 0 0 0 1193.6 256M533.9 316A401 401 0 0 0 1193.6 256M533.9 316A373.9 373.9 0 0 0 1193.6 256M533.9 316A355.8 355.8 0 0 0 1193.6 256M533.9 316A343.9 343.9 0 0 0 1193.6 256M533.9 316A2602.1 2602.1 0 0 0 1205 256M533.9 316A1220 1220 0 0 0 1205 256M533.9 316A814.2 814.2 0 0 0 1205 256M533.9 316A625.3 625.3 0 0 0 1205 256M533.9 316A519.5 519.5 0 0 0 1205 256M533.9 316A454.2 454.2 0 0 0 1205 256M533.9 316A411.6 411.6 0 0 0 1205 256M533.9 316A383.2 383.2 0 0 0 1205 256M533.9 316A364 364 0 0 0 1205 256M533.9 316A351.3 351.3 0 0 0 1205 256M545.2 316A253.9 253.9 0 0 0 1045.8 256M545.2 316A259.5 259.5 0 0 0 1057.1 256M545.2 316A265.1 265.1 0 0 0 1068.5 256M545.2 316A274.3 274.3 0 0 0 1079.9 256M545.2 316A270.7 270.7 0 0 0 1079.9 256M545.2 316A279.9 279.9 0 0 0 1091.2 256M545.2 316A276.3 276.3 0 0 0 1091.2 256M545.2 316A285.6 285.6 0 0 0 1102.6 256M545.2 316A297.8 297.8 0 0 0 1114 256M545.2 316A291.2 291.2 0 0 0 1114 256M545.2 316A303.6 303.6 0 0 0 1125.4 256M545.2 316A296.9 296.9 0 0 0 1125.4 256M545.2 316A320.1 320.1 0 0 0 1136.8 256M545.2 316A309.3 309.3 0 0 0 1136.8 256M545.2 316A302.6 302.6 0 0 0 1136.8 256M545.2 316A326.1 326.1 0 0 0 1148.1 256M545.2 316A315.1 315.1 0 0 0 1148.1 256M545.2 316A308.2 308.2 0 0 0 1148.1 256M545.2 316A374.1 374.1 0 0 0 1159.5 256M545.2 316A348.9 348.9 0 0 0 1159.5 256M545.2 316A332 332 0 0 0 1159.5 256M545.2 316A320.9 320.9 0 0 0 1159.5 256M545.2 316A1103.7 1103.7 0 0 0 1170.9 256M545.2 316A743.6 743.6 0 0 0 1170.9 256M545.2 316A419.5 419.5 0 0 0 1170.9 256M545.2 316A381 381 0 0 0 1170.9 256M545.2 316A355.2 355.2 0 0 0 1170.9 256M545.2 316A338 338 0 0 0 1170.9 256M545.2 316A326.6 326.6 0 0 0 1170.9 256M545.2 316A2385.2 2385.2 0 0 0 1182.2 256M545.2 316A1134 1134 0 0 0 1182.2 256M545.2 316A760.4 760.4 0 0 0 1182.2 256M545.2 316A585.7 585.7 0 0 0 1182.2 256M545.2 316A487.7 487.7 0 0 0 1182.2 256M545.2 316A427.2 427.2 0 0 0 1182.2 256M545.2 316A387.8 387.8 0 0 0 1182.2 256M545.2 316A361.5 361.5 0 0 0 1182.2 256M545.2 316A343.9 343.9 0 0 0 1182.2 256M545.2 316A332.4 332.4 0 0 0 1182.2 256M545.2 316A2485.9 2485.9 0 0 0 1193.6 256M545.2 316A1164.3 1164.3 0 0 0 1193.6 256M545.2 316A777.2 777.2 0 0 0 1193.6 256M545.2 316A597.4 597.4 0 0 0 1193.6 256M545.2 316A496.8 496.8 0 0 0 1193.6 256M545.2 316A434.8 434.8 0 0 0 1193.6 256M545.2 316A394.6 394.6 0 0 0 1193.6 256M545.2 316A367.8 367.8 0 0 0 1193.6 256M545.2 316A349.9 349.9 0 0 0 1193.6 256M545.2 316A338.2 338.2 0 0 0 1193.6 256M545.2 316A2588.7 2588.7 0 0 0 1205 256M545.2 316A1194.6 1194.6 0 0 0 1205 256M545.2 316A793.9 793.9 0 0 0 1205 256M545.2 316A609 609 0 0 0 1205 256M545.2 316A505.9 505.9 0 0 0 1205 256M545.2 316A442.5 442.5 0 0 0 1205 256M545.2 316A401.4 401.4 0 0 0 1205 256M545.2 316A374.1 374.1 0 0 0 1205 256M545.2 316A355.9 355.9 0 0 0 1205 256M545.2 316A343.9 343.9 0 0 0 1205 256M556.6 316A253.9 253.9 0 0 0 1057.1 256M556.6 316A259.5 259.5 0 0 0 1068.5 256M556.6 316A265.1 265.1 0 0 0 1079.9 256M556.6 316A274.3 274.3 0 0 0 1091.2 256M556.6 316A270.7 270.7 0 0 0 1091.2 256M556.6 316A280 280 0 0 0 1102.6 256M556.6 316A276.3 276.3 0 0 0 1102.6 256M556.6 316A292.1 292.1 0 0 0 1114 256M556.6 316A285.6 285.6 0 0 0 1114 256M556.6 316A297.9 297.9 0 0 0 1125.4 256M556.6 316A291.3 291.3 0 0 0 1125.4 256M556.6 316A314.3 314.3 0 0 0 1136.8 256M556.6 316A303.6 303.6 0 0 0 1136.8 256M556.6 316A296.9 296.9 0 0 0 1136.8 256M556.6 316A320.2 320.2 0 0 0 1148.1 256M556.6 316A309.4 309.4 0 0 0 1148.1 256M556.6 316A302.6 302.6 0 0 0 1148.1 256M556.6 316A342.9 342.9 0 0 0 1159.5 256M556.6 316A326.2 326.2 0 0 0 1159.5 256M556.6 316A315.2 315.2 0 0 0 1159.5 256M556.6 316A308.2 308.2 0 0 0 1159.5 256M556.6 316A1090.7 1090.7 0 0 0 1170.9 256M556.6 316A733.3 733.3 0 0 0 1170.9 256M556.6 316A412.6 412.6 0 0 0 1170.9 256M556.6 316A374.6 374.6 0 0 0 1170.9 256M556.6 316A349.2 349.2 0 0 0 1170.9 256M556.6 316A332.1 332.1 0 0 0 1170.9 256M556.6 316A320.9 320.9 0 0 0 1170.9 256M556.6 316A2372.7 2372.7 0 0 0 1182.2 256M556.6 316A1120.7 1120.7 0 0 0 1182.2 256M556.6 316A749.9 749.9 0 0 0 1182.2 256M556.6 316A577.1 577.1 0 0 0 1182.2 256M556.6 316A480.1 480.1 0 0 0 1182.2 256M556.6 316A420.3 420.3 0 0 0 1182.2 256M556.6 316A381.4 381.4 0 0 0 1182.2 256M556.6 316A355.5 355.5 0 0 0 1182.2 256M556.6 316A338.1 338.1 0 0 0 1182.2 256M556.6 316A326.7 326.7 0 0 0 1182.2 256M556.6 316A2473.3 2473.3 0 0 0 1193.6 256M556.6 316A1150.9 1150.9 0 0 0 1193.6 256M556.6 316A766.6 766.6 0 0 0 1193.6 256M556.6 316A588.6 588.6 0 0 0 1193.6 256M556.6 316A489.2 489.2 0 0 0 1193.6 256M556.6 316A428 428 0 0 0 1193.6 256M556.6 316A388.3 388.3 0 0 0 1193.6 256M556.6 316A361.8 361.8 0 0 0 1193.6 256M556.6 316A344.1 344.1 0 0 0 1193.6 256M556.6 316A332.5 332.5 0 0 0 1193.6 256M556.6 316A2576 2576 0 0 0 1205 256M556.6 316A1181 1181 0 0 0 1205 256M556.6 316A783.3 783.3 0 0 0 1205 256M556.6 316A600.2 600.2 0 0 0 1205 256M556.6 316A498.3 498.3 0 0 0 1205 256M556.6 316A435.7 435.7 0 0 0 1205 256M556.6 316A395.1 395.1 0 0 0 1205 256M556.6 316A368.1 368.1 0 0 0 1205 256M556.6 316A350 350 0 0 0 1205 256M556.6 316A338.2 338.2 0 0 0 1205 256M568 316A242.7 242.7 0 0 0 1045.8 256M568 316A248.2 248.2 0 0 0 1057.1 256M568 316A253.9 253.9 0 0 0 1068.5 256M568 316A263 263 0 0 0 1079.9 256M568 316A259.5 259.5 0 0 0 1079.9 256M568 316A268.7 268.7 0 0 0 1091.2 256M568 316A265.1 265.1 0 0 0 1091.2 256M568 316A274.3 274.3 0 0 0 1102.6 256M568 316A270.7 270.7 0 0 0 1102.6 256M568 316A286.4 286.4 0 0 0 1114 256M568 316A280 280 0 0 0 1114 256M568 316A276.3 276.3 0 0 0 1114 256M568 316A292.2 292.2 0 0 0 1125.4 256M568 316A285.6 285.6 0 0 0 1125.4 256M568 316A281.9 281.9 0 0 0 1125.4 256M568 316A297.9 297.9 0 0 0 1136.8 256M568 316A291.3 291.3 0 0 0 1136.8 256M568 316A314.4 314.4 0 0 0 1148.1 256M568 316A303.7 303.7 0 0 0 1148.1 256M568 316A296.9 296.9 0 0 0 1148.1 256M568 316A336.9 336.9 0 0 0 1159.5 256M568 316A320.4 320.4 0 0 0 1159.5 256M568 316A309.4 309.4 0 0 0 1159.5 256M568 316A302.6 302.6 0 0 0 1159.5 256M568 316A1077.7 1077.7 0 0 0 1170.9 256M568 316A722.9 722.9 0 0 0 1170.9 256M568 316A368.3 368.3 0 0 0 1170.9 256M568 316A343.2 343.2 0 0 0 1170.9 256M568 316A326.3 326.3 0 0 0 1170.9 256M568 316A315.2 315.2 0 0 0 1170.9 256M568 316A308.3 308.3 0 0 0 1170.9 256M568 316A2361.1 2361.1 0 0 0 1182.2 256M568 316A1107.6 1107.6 0 0 0 1182.2 256M568 316A739.5 739.5 0 0 0 1182.2 256M568 316A568.4 568.4 0 0 0 1182.2 256M568 316A472.6 472.6 0 0 0 1182.2 256M568 316A413.5 413.5 0 0 0 1182.2 256M568 316A375.1 375.1 0 0 0 1182.2 256M568 316A349.4 349.4 0 0 0 1182.2 256M568 316A332.3 332.3 0 0 0 1182.2 256M568 316A321 321 0 0 0 1182.2 256M568 316A313.9 313.9 0 0 0 1182.2 256M568 316A2461.5 2461.5 0 0 0 1193.6 256M568 316A1137.5 1137.5 0 0 0 1193.6 256M568 316A756.1 756.1 0 0 0 1193.6 256M568 316A579.9 579.9 0 0 0 1193.6 256M568 316A481.6 481.6 0 0 0 1193.6 256M568 316A421.1 421.1 0 0 0 1193.6 256M568 316A381.9 381.9 0 0 0 1193.6 256M568 316A355.7 355.7 0 0 0 1193.6 256M568 316A338.2 338.2 0 0 0 1193.6 256M568 316A326.7 326.7 0 0 0 1193.6 256M568 316A2564.1 2564.1 0 0 0 1205 256M568 316A1167.6 1167.6 0 0 0 1205 256M568 316A772.7 772.7 0 0 0 1205 256M568 316A591.5 591.5 0 0 0 1205 256M568 316A490.7 490.7 0 0 0 1205 256M568 316A428.8 428.8 0 0 0 1205 256M568 316A388.7 388.7 0 0 0 1205 256M568 316A362 362 0 0 0 1205 256M568 316A344.2 344.2 0 0 0 1205 256M568 316A332.5 332.5 0 0 0 1205 256M579.4 316A242.7 242.7 0 0 0 1057.1 256M579.4 316A248.2 248.2 0 0 0 1068.5 256M579.4 316A253.9 253.9 0 0 0 1079.9 256M579.4 316A263 263 0 0 0 1091.2 256M579.4 316A259.5 259.5 0 0 0 1091.2 256M579.4 316A268.7 268.7 0 0 0 1102.6 256M579.4 316A265.1 265.1 0 0 0 1102.6 256M579.4 316A274.3 274.3 0 0 0 1114 256M579.4 316A270.7 270.7 0 0 0 1114 256M579.4 316A280 280 0 0 0 1125.4 256M579.4 316A276.3 276.3 0 0 0 1125.4 256M579.4 316A292.2 292.2 0 0 0 1136.8 256M579.4 316A285.6 285.6 0 0 0 1136.8 256M579.4 316A281.9 281.9 0 0 0 1136.8 256M579.4 316A298 298 0 0 0 1148.1 256M579.4 316A291.3 291.3 0 0 0 1148.1 256M579.4 316A314.5 314.5 0 0 0 1159.5 256M579.4 316A303.7 303.7 0 0 0 1159.5 256M579.4 316A297 297 0 0 0 1159.5 256M579.4 316A1064.9 1064.9 0 0 0 1170.9 256M579.4 316A712.6 712.6 0 0 0 1170.9 256M579.4 316A361.9 361.9 0 0 0 1170.9 256M579.4 316A337.1 337.1 0 0 0 1170.9 256M579.4 316A320.5 320.5 0 0 0 1170.9 256M579.4 316A309.5 309.5 0 0 0 1170.9 256M579.4 316A302.6 302.6 0 0 0 1170.9 256M579.4 316A2350.3 2350.3 0 0 0 1182.2 256M579.4 316A1094.6 1094.6 0 0 0 1182.2 256M579.4 316A729.2 729.2 0 0 0 1182.2 256M579.4 316A559.8 559.8 0 0 0 1182.2 256M579.4 316A406.7 406.7 0 0 0 1182.2 256M579.4 316A368.7 368.7 0 0 0 1182.2 256M579.4 316A343.4 343.4 0 0 0 1182.2 256M579.4 316A326.4 326.4 0 0 0 1182.2 256M579.4 316A315.3 315.3 0 0 0 1182.2 256M579.4 316A308.3 308.3 0 0 0 1182.2 256M579.4 316A2450.7 2450.7 0 0 0 1193.6 256M579.4 316A1124.3 1124.3 0 0 0 1193.6 256M579.4 316A745.7 745.7 0 0 0 1193.6 256M579.4 316A571.3 571.3 0 0 0 1193.6 256M579.4 316A474.1 474.1 0 0 0 1193.6 256M579.4 316A414.3 414.3 0 0 0 1193.6 256M579.4 316A375.5 375.5 0 0 0 1193.6 256M579.4 316A349.7 349.7 0 0 0 1193.6 256M579.4 316A332.4 332.4 0 0 0 1193.6 256M579.4 316A321 321 0 0 0 1193.6 256M579.4 316A313.9 313.9 0 0 0 1193.6 256M579.4 316A2553.2 2553.2 0 0 0 1205 256M579.4 316A1154.2 1154.2 0 0 0 1205 256M579.4 316A762.2 762.2 0 0 0 1205 256M579.4 316A582.8 582.8 0 0 0 1205 256M579.4 316A483.1 483.1 0 0 0 1205 256M579.4 316A421.9 421.9 0 0 0 1205 256M579.4 316A382.3 382.3 0 0 0 1205 256M579.4 316A356 356 0 0 0 1205 256M579.4 316A338.3 338.3 0 0 0 1205 256M579.4 316A326.8 326.8 0 0 0 1205 256M590.8 316A237.1 237.1 0 0 0 1057.1 256M590.8 316A242.7 242.7 0 0 0 1068.5 256M590.8 316A248.2 248.2 0 0 0 1079.9 256M590.8 316A253.9 253.9 0 0 0 1091.2 256M590.8 316A263.1 263.1 0 0 0 1102.6 256M590.8 316A259.5 259.5 0 0 0 1102.6 256M590.8 316A268.7 268.7 0 0 0 1114 256M590.8 316A265.1 265.1 0 0 0 1114 256M590.8 316A274.4 274.4 0 0 0 1125.4 256M590.8 316A270.7 270.7 0 0 0 1125.4 256M590.8 316A286.5 286.5 0 0 0 1136.8 256M590.8 316A280 280 0 0 0 1136.8 256M590.8 316A276.3 276.3 0 0 0 1136.8 256M590.8 316A292.3 292.3 0 0 0 1148.1 256M590.8 316A285.7 285.7 0 0 0 1148.1 256M590.8 316A281.9 281.9 0 0 0 1148.1 256M590.8 316A308.7 308.7 0 0 0 1159.5 256M590.8 316A298 298 0 0 0 1159.5 256M590.8 316A291.3 291.3 0 0 0 1159.5 256M590.8 316A287.5 287.5 0 0 0 1159.5 256M590.8 316A1052.1 1052.1 0 0 0 1170.9 256M590.8 316A702.4 702.4 0 0 0 1170.9 256M590.8 316A331.1 331.1 0 0 0 1170.9 256M590.8 316A314.7 314.7 0 0 0 1170.9 256M590.8 316A303.8 303.8 0 0 0 1170.9 256M590.8 316A297 297 0 0 0 1170.9 256M590.8 316A2340.5 2340.5 0 0 0 1182.2 256M590.8 316A1081.6 1081.6 0 0 0 1182.2 256M590.8 316A718.8 718.8 0 0 0 1182.2 256M590.8 316A551.1 551.1 0 0 0 1182.2 256M590.8 316A362.4 362.4 0 0 0 1182.2 256M590.8 316A337.4 337.4 0 0 0 1182.2 256M590.8 316A320.6 320.6 0 0 0 1182.2 256M590.8 316A309.6 309.6 0 0 0 1182.2 256M590.8 316A302.6 302.6 0 0 0 1182.2 256M590.8 316A2440.8 2440.8 0 0 0 1193.6 256M590.8 316A1111.2 1111.2 0 0 0 1193.6 256M590.8 316A735.3 735.3 0 0 0 1193.6 256M590.8 316A562.6 562.6 0 0 0 1193.6 256M590.8 316A466.5 466.5 0 0 0 1193.6 256M590.8 316A407.5 407.5 0 0 0 1193.6 256M590.8 316A369.2 369.2 0 0 0 1193.6 256M590.8 316A343.7 343.7 0 0 0 1193.6 256M590.8 316A326.6 326.6 0 0 0 1193.6 256M590.8 316A315.3 315.3 0 0 0 1193.6 256M590.8 316A308.3 308.3 0 0 0 1193.6 256M590.8 316A2543.3 2543.3 0 0 0 1205 256M590.8 316A1140.9 1140.9 0 0 0 1205 256M590.8 316A751.7 751.7 0 0 0 1205 256M590.8 316A574 574 0 0 0 1205 256M590.8 316A475.5 475.5 0 0 0 1205 256M590.8 316A415.1 415.1 0 0 0 1205 256M590.8 316A376 376 0 0 0 1205 256M590.8 316A349.9 349.9 0 0 0 1205 256M590.8 316A332.5 332.5 0 0 0 1205 256M590.8 316A321.1 321.1 0 0 0 1205 256M590.8 316A314 314 0 0 0 1205 256M602.1 316A225.9 225.9 0 0 0 1045.8 256M602.1 316A231.5 231.5 0 0 0 1057.1 256M602.1 316A237.1 237.1 0 0 0 1068.5 256M602.1 316A246.2 246.2 0 0 0 1079.9 256M602.1 316A242.7 242.7 0 0 0 1079.9 256M602.1 316A251.8 251.8 0 0 0 1091.2 256M602.1 316A248.2 248.2 0 0 0 1091.2 256M602.1 316A257.4 257.4 0 0 0 1102.6 256M602.1 316A253.9 253.9 0 0 0 1102.6 256M602.1 316A263.1 263.1 0 0 0 1114 256M602.1 316A259.5 259.5 0 0 0 1114 256M602.1 316A268.7 268.7 0 0 0 1125.4 256M602.1 316A265.1 265.1 0 0 0 1125.4 256M602.1 316A274.4 274.4 0 0 0 1136.8 256M602.1 316A270.7 270.7 0 0 0 1136.8 256M602.1 316A286.6 286.6 0 0 0 1148.1 256M602.1 316A280 280 0 0 0 1148.1 256M602.1 316A276.3 276.3 0 0 0 1148.1 256M602.1 316A292.3 292.3 0 0 0 1159.5 256M602.1 316A285.7 285.7 0 0 0 1159.5 256M602.1 316A281.9 281.9 0 0 0 1159.5 256M602.1 316A1039.5 1039.5 0 0 0 1170.9 256M602.1 316A692.2 692.2 0 0 0 1170.9 256M602.1 316A308.8 308.8 0 0 0 1170.9 256M602.1 316A298.1 298.1 0 0 0 1170.9 256M602.1 316A291.3 291.3 0 0 0 1170.9 256M602.1 316A287.5 287.5 0 0 0 1170.9 256M602.1 316A2331.8 2331.8 0 0 0 1182.2 256M602.1 316A1068.8 1068.8 0 0 0 1182.2 256M602.1 316A708.5 708.5 0 0 0 1182.2 256M602.1 316A331.4 331.4 0 0 0 1182.2 256M602.1 316A314.8 314.8 0 0 0 1182.2 256M602.1 316A303.8 303.8 0 0 0 1182.2 256M602.1 316A297 297 0 0 0 1182.2 256M602.1 316A2432.1 2432.1 0 0 0 1193.6 256M602.1 316A1098.2 1098.2 0 0 0 1193.6 256M602.1 316A724.9 724.9 0 0 0 1193.6 256M602.1 316A553.9 553.9 0 0 0 1193.6 256M602.1 316A362.8 362.8 0 0 0 1193.6 256M602.1 316A337.6 337.6 0 0 0 1193.6 256M602.1 316A320.7 320.7 0 0 0 1193.6 256M602.1 316A309.6 309.6 0 0 0 1193.6 256M602.1 316A302.6 302.6 0 0 0 1193.6 256M602.1 316A2534.5 2534.5 0 0 0 1205 256M602.1 316A1127.7 1127.7 0 0 0 1205 256M602.1 316A741.2 741.2 0 0 0 1205 256M602.1 316A565.3 565.3 0 0 0 1205 256M602.1 316A467.9 467.9 0 0 0 1205 256M602.1 316A408.2 408.2 0 0 0 1205 256M602.1 316A369.6 369.6 0 0 0 1205 256M602.1 316A343.9 343.9 0 0 0 1205 256M602.1 316A326.7 326.7 0 0 0 1205 256M613.5 316A220.3 220.3 0 0 0 1045.8 256M613.5 316A225.9 225.9 0 0 0 1057.1 256M613.5 316A231.5 231.5 0 0 0 1068.5 256M613.5 316A237.1 237.1 0 0 0 1079.9 256M613.5 316A246.2 246.2 0 0 0 1091.2 256M613.5 316A242.7 242.7 0 0 0 1091.2 256M613.5 316A251.8 251.8 0 0 0 1102.6 256M613.5 316A248.2 248.2 0 0 0 1102.6 256M613.5 316A257.5 257.5 0 0 0 1114 256M613.5 316A253.9 253.9 0 0 0 1114 256M613.5 316A263.1 263.1 0 0 0 1125.4 256M613.5 316A259.5 259.5 0 0 0 1125.4 256M613.5 316A275.2 275.2 0 0 0 1136.8 256M613.5 316A268.7 268.7 0 0 0 1136.8 256M613.5 316A265.1 265.1 0 0 0 1136.8 256M613.5 316A274.4 274.4 0 0 0 1148.1 256M613.5 316A270.7 270.7 0 0 0 1148.1 256M613.5 316A286.6 286.6 0 0 0 1159.5 256M613.5 316A280 280 0 0 0 1159.5 256M613.5 316A276.3 276.3 0 0 0 1159.5 256M613.5 316A292.4 292.4 0 0 0 1170.9 256M613.5 316A285.7 285.7 0 0 0 1170.9 256M613.5 316A281.9 281.9 0 0 0 1170.9 256M613.5 316A2324.3 2324.3 0 0 0 1182.2 256M613.5 316A1056.2 1056.2 0 0 0 1182.2 256M613.5 316A698.3 698.3 0 0 0 1182.2 256M613.5 316A309 309 0 0 0 1182.2 256M613.5 316A298.1 298.1 0 0 0 1182.2 256M613.5 316A291.3 291.3 0 0 0 1182.2 256M613.5 316A2424.5 2424.5 0 0 0 1193.6 256M613.5 316A1085.4 1085.4 0 0 0 1193.6 256M613.5 316A714.5 714.5 0 0 0 1193.6 256M613.5 316A545.3 545.3 0 0 0 1193.6 256M613.5 316A331.6 331.6 0 0 0 1193.6 256M613.5 316A314.9 314.9 0 0 0 1193.6 256M613.5 316A2526.9 2526.9 0 0 0 1205 256M613.5 316A1114.7 1114.7 0 0 0 1205 256M613.5 316A730.8 730.8 0 0 0 1205 256M613.5 316A556.7 556.7 0 0 0 1205 256M613.5 316A363.2 363.2 0 0 0 1205 256M613.5 316A337.8 337.8 0 0 0 1205 256M624.9 316A203.6 203.6 0 0 0 1023 256M624.9 316A209.2 209.2 0 0 0 1034.4 256M624.9 316A214.7 214.7 0 0 0 1045.8 256M624.9 316A223.7 223.7 0 0 0 1057.1 256M624.9 316A220.3 220.3 0 0 0 1057.1 256M624.9 316A229.3 229.3 0 0 0 1068.5 256M624.9 316A225.9 225.9 0 0 0 1068.5 256M624.9 316A235 235 0 0 0 1079.9 256M624.9 316A231.5 231.5 0 0 0 1079.9 256M624.9 316A240.6 240.6 0 0 0 1091.2 256M624.9 316A237.1 237.1 0 0 0 1091.2 256M624.9 316A246.2 246.2 0 0 0 1102.6 256M624.9 316A242.7 242.7 0 0 0 1102.6 256M624.9 316A251.8 251.8 0 0 0 1114 256M624.9 316A248.2 248.2 0 0 0 1114 256M624.9 316A257.5 257.5 0 0 0 1125.4 256M624.9 316A253.9 253.9 0 0 0 1125.4 256M624.9 316A263.1 263.1 0 0 0 1136.8 256M624.9 316A259.5 259.5 0 0 0 1136.8 256M624.9 316A268.8 268.8 0 0 0 1148.1 256M624.9 316A265.1 265.1 0 0 0 1148.1 256M624.9 316A281 281 0 0 0 1159.5 256M624.9 316A274.4 274.4 0 0 0 1159.5 256M624.9 316A270.7 270.7 0 0 0 1159.5 256M624.9 316A286.7 286.7 0 0 0 1170.9 256M624.9 316A280.1 280.1 0 0 0 1170.9 256M624.9 316A2318.1 2318.1 0 0 0 1182.2 256M624.9 316A1043.6 1043.6 0 0 0 1182.2 256M624.9 316A688 688 0 0 0 1182.2 256M624.9 316A303.1 303.1 0 0 0 1182.2 256M624.9 316A2418.3 2418.3 0 0 0 1193.6 256M624.9 316A1072.6 1072.6 0 0 0 1193.6 256M624.9 316A704.2 704.2 0 0 0 1193.6 256M624.9 316A2520.7 2520.7 0 0 0 1205 256M624.9 316A1101.7 1101.7 0 0 0 1205 256M624.9 316A720.4 720.4 0 0 0 1205 256M624.9 316A548 548 0 0 0 1205 256M636.2 316A192.5 192.5 0 0 0 1011.6 256M636.2 316A198 198 0 0 0 1023 256M636.2 316A206.9 206.9 0 0 0 1034.4 256M636.2 316A203.6 203.6 0 0 0 1034.4 256M636.2 316A212.5 212.5 0 0 0 1045.8 256M636.2 316A209.2 209.2 0 0 0 1045.8 256M636.2 316A218.1 218.1 0 0 0 1057.1 256M636.2 316A214.7 214.7 0 0 0 1057.1 256M636.2 316A223.7 223.7 0 0 0 1068.5 256M636.2 316A220.3 220.3 0 0 0 1068.5 256M636.2 316A229.4 229.4 0 0 0 1079.9 256M636.2 316A225.9 225.9 0 0 0 1079.9 256M636.2 316A235 235 0 0 0 1091.2 256M636.2 316A231.5 231.5 0 0 0 1091.2 256M636.2 316A240.6 240.6 0 0 0 1102.6 256M636.2 316A237.1 237.1 0 0 0 1102.6 256M636.2 316A252.3 252.3 0 0 0 1114 256M636.2 316A246.2 246.2 0 0 0 1114 256M636.2 316A242.7 242.7 0 0 0 1114 256M636.2 316A258.1 258.1 0 0 0 1125.4 256M636.2 316A251.9 251.9 0 0 0 1125.4 256M636.2 316A248.2 248.2 0 0 0 1125.4 256M636.2 316A263.8 263.8 0 0 0 1136.8 256M636.2 316A257.5 257.5 0 0 0 1136.8 256M636.2 316A253.9 253.9 0 0 0 1136.8 256M636.2 316A263.1 263.1 0 0 0 1148.1 256M636.2 316A259.5 259.5 0 0 0 1148.1 256M636.2 316A268.8 268.8 0 0 0 1159.5 256M636.2 316A2215.4 2215.4 0 0 0 1170.9 256M636.2 316A2313.4 2313.4 0 0 0 1182.2 256M636.2 316A1031.2 1031.2 0 0 0 1182.2 256M636.2 316A2413.6 2413.6 0 0 0 1193.6 256M636.2 316A1060.1 1060.1 0 0 0 1193.6 256M636.2 316A693.9 693.9 0 0 0 1193.6 256M636.2 316A2516 2516 0 0 0 1205 256M636.2 316A1088.9 1088.9 0 0 0 1205 256M636.2 316A710 710 0 0 0 1205 256M647.6 316A175.9 175.9 0 0 0 988.9 256M647.6 316A181.4 181.4 0 0 0 1000.2 256M647.6 316A187 187 0 0 0 1011.6 256M647.6 316A195.8 195.8 0 0 0 1023 256M647.6 316A192.5 192.5 0 0 0 1023 256M647.6 316A201.4 201.4 0 0 0 1034.4 256M647.6 316A198 198 0 0 0 1034.4 256M647.6 316A207 207 0 0 0 1045.8 256M647.6 316A203.6 203.6 0 0 0 1045.8 256M647.6 316A212.6 212.6 0 0 0 1057.1 256M647.6 316A209.2 209.2 0 0 0 1057.1 256M647.6 316A218.2 218.2 0 0 0 1068.5 256M647.6 316A214.7 214.7 0 0 0 1068.5 256M647.6 316A229.5 229.5 0 0 0 1079.9 256M647.6 316A223.8 223.8 0 0 0 1079.9 256M647.6 316A220.3 220.3 0 0 0 1079.9 256M647.6 316A235.2 235.2 0 0 0 1091.2 256M647.6 316A229.4 229.4 0 0 0 1091.2 256M647.6 316A225.9 225.9 0 0 0 1091.2 256M647.6 316A240.9 240.9 0 0 0 1102.6 256M647.6 316A235 235 0 0 0 1102.6 256M647.6 316A231.5 231.5 0 0 0 1102.6 256M647.6 316A246.7 246.7 0 0 0 1114 256M647.6 316A240.6 240.6 0 0 0 1114 256M647.6 316A237.1 237.1 0 0 0 1114 256M647.6 316A252.4 252.4 0 0 0 1125.4 256M647.6 316A246.3 246.3 0 0 0 1125.4 256M647.6 316A242.7 242.7 0 0 0 1125.4 256M647.6 316A258.1 258.1 0 0 0 1136.8 256M647.6 316A251.9 251.9 0 0 0 1136.8 256M647.6 316A248.2 248.2 0 0 0 1136.8 256M647.6 316A263.8 263.8 0 0 0 1148.1 256M647.6 316A257.5 257.5 0 0 0 1148.1 256M647.6 316A2212.4 2212.4 0 0 0 1170.9 256M647.6 316A2310.4 2310.4 0 0 0 1182.2 256M647.6 316A1019 1019 0 0 0 1182.2 256M647.6 316A2410.6 2410.6 0 0 0 1193.6 256M647.6 316A1047.6 1047.6 0 0 0 1193.6 256M647.6 316A683.7 683.7 0 0 0 1193.6 256M647.6 316A2513 2513 0 0 0 1205 256M647.6 316A1076.3 1076.3 0 0 0 1205 256M647.6 316A699.7 699.7 0 0 0 1205 256M659 316A159.4 159.4 0 0 0 966.1 256M659 316A164.9 164.9 0 0 0 977.5 256M659 316A173.6 173.6 0 0 0 988.9 256M659 316A170.4 170.4 0 0 0 988.9 256M659 316A179.1 179.1 0 0 0 1000.2 256M659 316A175.9 175.9 0 0 0 1000.2 256M659 316A184.7 184.7 0 0 0 1011.6 256M659 316A181.4 181.4 0 0 0 1011.6 256M659 316A190.3 190.3 0 0 0 1023 256M659 316A187 187 0 0 0 1023 256M659 316A201.1 201.1 0 0 0 1034.4 256M659 316A195.8 195.8 0 0 0 1034.4 256M659 316A192.5 192.5 0 0 0 1034.4 256M659 316A206.8 206.8 0 0 0 1045.8 256M659 316A201.4 201.4 0 0 0 1045.8 256M659 316A198 198 0 0 0 1045.8 256M659 316A212.5 212.5 0 0 0 1057.1 256M659 316A207 207 0 0 0 1057.1 256M659 316A203.6 203.6 0 0 0 1057.1 256M659 316A218.2 218.2 0 0 0 1068.5 256M659 316A212.6 212.6 0 0 0 1068.5 256M659 316A209.2 209.2 0 0 0 1068.5 256M659 316A232.6 232.6 0 0 0 1079.9 256M659 316A223.9 223.9 0 0 0 1079.9 256M659 316A218.2 218.2 0 0 0 1079.9 256M659 316A214.7 214.7 0 0 0 1079.9 256M659 316A238.5 238.5 0 0 0 1091.2 256M659 316A229.6 229.6 0 0 0 1091.2 256M659 316A223.8 223.8 0 0 0 1091.2 256M659 316A220.3 220.3 0 0 0 1091.2 256M659 316A235.3 235.3 0 0 0 1102.6 256M659 316A229.4 229.4 0 0 0 1102.6 256M659 316A225.9 225.9 0 0 0 1102.6 256M659 316A241 241 0 0 0 1114 256M659 316A235 235 0 0 0 1114 256M659 316A231.5 231.5 0 0 0 1114 256M659 316A246.7 246.7 0 0 0 1125.4 256M659 316A240.6 240.6 0 0 0 1125.4 256M659 316A237.1 237.1 0 0 0 1125.4 256M659 316A252.4 252.4 0 0 0 1136.8 256M659 316A246.3 246.3 0 0 0 1136.8 256M659 316A2309.3 2309.3 0 0 0 1182.2 256M659 316A2409.5 2409.5 0 0 0 1193.6 256M659 316A1035.4 1035.4 0 0 0 1193.6 256M659 316A2511.9 2511.9 0 0 0 1205 256M659 316A1063.9 1063.9 0 0 0 1205 256M511.1 316A354.4 354.4 0 0 0 1136.8 256M386 316A859.9 859.9 0 0 0 1205 256M420.1 316A2662.8 2662.8 0 0 0 1193.6 256M613.5 316A1027 1027 0 0 0 1170.9 256M556.6 316A565.4 565.4 0 0 0 1170.9 256M636.2 316A187 187 0 0 0 1000.2 256M442.9 316A320.2 320.2 0 0 0 1057.1 256M545.2 316A574.1 574.1 0 0 0 1170.9 256M533.9 316A582.7 582.7 0 0 0 1170.9 256M613.5 316A303 303 0 0 0 1170.9 256M386 316A2825.1 2825.1 0 0 0 1205 256M420.1 316A362.4 362.4 0 0 0 1091.2 256M659 316A195.5 195.5 0 0 0 1023 256M442.9 316A513.1 513.1 0 0 0 1170.9 256M545.2 316A342.6 342.6 0 0 0 1148.1 256M659 316A689.4 689.4 0 0 0 1205 256M511.1 316A1143.4 1143.4 0 0 0 1170.9 256M556.6 316A268.6 268.6 0 0 0 1079.9 256M613.5 316A280.9 280.9 0 0 0 1148.1 256M488.4 316A814.8 814.8 0 0 0 1170.9 256M408.8 316A486 486 0 0 0 1159.5 256M579.4 316A465 465 0 0 0 1182.2 256M386 316A396.5 396.5 0 0 0 1102.6 256M465.6 316A342.9 342.9 0 0 0 1102.6 256M420.1 316A419.3 419.3 0 0 0 1136.8 256M636.2 316A275.3 275.3 0 0 0 1159.5 256M602.1 316A220.3 220.3 0 0 0 1034.4 256M442.9 316A926.8 926.8 0 0 0 1182.2 256M522.5 316A591.4 591.4 0 0 0 1170.9 256M408.8 316A429.1 429.1 0 0 0 1136.8 256M659 316A2211.3 2211.3 0 0 0 1170.9 256M579.4 316A330.9 330.9 0 0 0 1159.5 256M624.9 316A331.8 331.8 0 0 0 1205 256M613.5 316A682 682 0 0 0 1170.9 256M397.4 316A682.6 682.6 0 0 0 1193.6 256M397.4 316A439.1 439.1 0 0 0 1136.8 256M624.9 316A2220.1 2220.1 0 0 0 1170.9 256M579.4 316A286.5 286.5 0 0 0 1125.4 256M579.4 316A308.6 308.6 0 0 0 1148.1 256M408.8 316A1022.3 1022.3 0 0 0 1193.6 256M431.5 316A354.4 354.4 0 0 0 1091.2 256M613.5 316A2226.2 2226.2 0 0 0 1170.9 256M454.2 316A1312.5 1312.5 0 0 0 1182.2 256M602.1 316A459 459 0 0 0 1193.6 256M568 316A556.8 556.8 0 0 0 1170.9 256M613.5 316A356.5 356.5 0 0 0 1193.6 256M533.9 316A319.9 319.9 0 0 0 1125.4 256M636.2 316A309.2 309.2 0 0 0 1205 256M465.6 316A314.6 314.6 0 0 0 1068.5 256M579.4 316A2252.1 2252.1 0 0 0 1170.9 256M590.8 316A399.8 399.8 0 0 0 1182.2 256M442.9 316A603.2 603.2 0 0 0 1182.2 256M590.8 316A257.4 257.4 0 0 0 1091.2 256M556.6 316A367.8 367.8 0 0 0 1159.5 256M647.6 316A190.2 190.2 0 0 0 1011.6 256M488.4 316A265.1 265.1 0 0 0 1011.6 256M511.1 316A303.4 303.4 0 0 0 1091.2 256M499.8 316A1167.5 1167.5 0 0 0 1170.9 256M602.1 316A280.8 280.8 0 0 0 1136.8 256M613.5 316A460.4 460.4 0 0 0 1205 256M602.1 316A542.5 542.5 0 0 0 1182.2 256M522.5 316A493.7 493.7 0 0 0 1170.9 256M488.4 316A309 309 0 0 0 1079.9 256M477 316A2473.5 2473.5 0 0 0 1182.2 256M636.2 316A303.3 303.3 0 0 0 1193.6 256M533.9 316A486.1 486.1 0 0 0 1170.9 256M533.9 316A253.9 253.9 0 0 0 1034.4 256M579.4 316A548.2 548.2 0 0 0 1170.9 256M465.6 316A372.2 372.2 0 0 0 1125.4 256M659 316A268 268 0 0 0 1148.1 256M511.1 316A600 600 0 0 0 1170.9 256M556.6 316A716.5 716.5 0 0 0 1159.5 256M408.8 316A370.7 370.7 0 0 0 1091.2 256M568 316A405.8 405.8 0 0 0 1170.9 256M659 316A244.3 244.3 0 0 0 1102.6 256M602.1 316A400.6 400.6 0 0 0 1193.6 256M590.8 316A457.5 457.5 0 0 0 1182.2 256M488.4 316A399 399 0 0 0 1148.1 256M590.8 316A231.5 231.5 0 0 0 1045.8 256M613.5 316A325.3 325.3 0 0 0 1182.2 256M579.4 316A696.1 696.1 0 0 0 1159.5 256M511.1 316A501.2 501.2 0 0 0 1170.9 256M454.2 316A704.7 704.7 0 0 0 1182.2 256M568 316A2262.8 2262.8 0 0 0 1170.9 256M545.2 316A314.1 314.1 0 0 0 1125.4 256M556.6 316A336.6 336.6 0 0 0 1148.1 256M613.5 316A533.9 533.9 0 0 0 1182.2 256M545.2 316A478.6 478.6 0 0 0 1170.9 256M556.6 316A248.2 248.2 0 0 0 1045.8 256M465.6 316A2490.1 2490.1 0 0 0 1182.2 256M477 316A835.2 835.2 0 0 0 1170.9 256M590.8 316A2242.3 2242.3 0 0 0 1170.9 256M386 316A593.7 593.7 0 0 0 1182.2 256M602.1 316A2233.7 2233.7 0 0 0 1170.9 256M624.9 316A1014.7 1014.7 0 0 0 1170.9 256M659 316A189.8 189.8 0 0 0 1011.6 256M499.8 316A514.6 514.6 0 0 0 1170.9 256M659 316A1007 1007 0 0 0 1182.2 256M545.2 316A726.8 726.8 0 0 0 1159.5 256M556.6 316A2274.3 2274.3 0 0 0 1170.9 256M602.1 316A275.1 275.1 0 0 0 1125.4 256M511.1 316A325.6 325.6 0 0 0 1114 256M397.4 316A1044.6 1044.6 0 0 0 1193.6 256M568 316A706.3 706.3 0 0 0 1159.5 256M659 316A279.8 279.8 0 0 0 1170.9 256M522.5 316A297.7 297.7 0 0 0 1091.2 256M431.5 316A618.2 618.2 0 0 0 1182.2 256M499.8 316A616 616 0 0 0 1170.9 256M442.9 316A348.6 348.6 0 0 0 1091.2 256M533.9 316A737.1 737.1 0 0 0 1159.5 256M442.9 316A1338.2 1338.2 0 0 0 1182.2 256M397.4 316A2700.3 2700.3 0 0 0 1193.6 256M522.5 316A348.4 348.4 0 0 0 1136.8 256M431.5 316A948.1 948.1 0 0 0 1182.2 256M659 316A273.9 273.9 0 0 0 1159.5 256M386 316A698.5 698.5 0 0 0 1193.6 256M408.8 316A1463.4 1463.4 0 0 0 1193.6 256M556.6 316A471 471 0 0 0 1170.9 256M386 316A387.6 387.6 0 0 0 1091.2 256M545.2 316A292 292 0 0 0 1102.6 256M499.8 316A303.3 303.3 0 0 0 1079.9 256M602.1 316A356 356 0 0 0 1182.2 256M636.2 316A1002.5 1002.5 0 0 0 1170.9 256M499.8 316A439 439 0 0 0 1159.5 256M431.5 316A525.9 525.9 0 0 0 1170.9 256M602.1 316A325.1 325.1 0 0 0 1170.9 256M590.8 316A280.8 280.8 0 0 0 1125.4 256M624.9 316A536.7 536.7 0 0 0 1193.6 256M613.5 316A451.4 451.4 0 0 0 1193.6 256M511.1 316A386.3 386.3 0 0 0 1148.1 256M568 316A308.4 308.4 0 0 0 1136.8 256M488.4 316A1192.5 1192.5 0 0 0 1170.9 256M397.4 316A379.1 379.1 0 0 0 1091.2 256M545.2 316A2286.7 2286.7 0 0 0 1170.9 256M602.1 316A302.9 302.9 0 0 0 1159.5 256M613.5 316A214.7 214.7 0 0 0 1034.4 256M533.9 316A342.4 342.4 0 0 0 1136.8 256M454.2 316A430.1 430.1 0 0 0 1148.1 256M636.2 316A677.9 677.9 0 0 0 1182.2 256M465.6 316A419.5 419.5 0 0 0 1148.1 256M397.4 316A1489.8 1489.8 0 0 0 1193.6 256M477 316A409.1 409.1 0 0 0 1148.1 256M499.8 316A392.7 392.7 0 0 0 1148.1 256M465.6 316A855.7 855.7 0 0 0 1170.9 256M522.5 316A425.4 425.4 0 0 0 1159.5 256M511.1 316A432.2 432.2 0 0 0 1159.5 256M488.4 316A285.5 285.5 0 0 0 1045.8 256M454.2 316A2507 2507 0 0 0 1182.2 256M408.8 316A798.9 798.9 0 0 0 1193.6 256M397.4 316A497.6 497.6 0 0 0 1159.5 256M636.2 316A201.4 201.4 0 0 0 1023 256M579.4 316A1035.3 1035.3 0 0 0 1159.5 256M386 316A2719.5 2719.5 0 0 0 1193.6 256M522.5 316A747.4 747.4 0 0 0 1159.5 256M499.8 316A279.8 279.8 0 0 0 1045.8 256M454.2 316A381.1 381.1 0 0 0 1125.4 256M533.9 316A2299.7 2299.7 0 0 0 1170.9 256M556.6 316A286.3 286.3 0 0 0 1102.6 256M568 316A361.5 361.5 0 0 0 1159.5 256M442.9 316A390.4 390.4 0 0 0 1125.4 256M488.4 316A528.7 528.7 0 0 0 1170.9 256M624.9 316A452.8 452.8 0 0 0 1205 256M408.8 316A2681.4 2681.4 0 0 0 1193.6 256M590.8 316A355.6 355.6 0 0 0 1170.9 256M556.6 316A1060.7 1060.7 0 0 0 1159.5 256M442.9 316A722.4 722.4 0 0 0 1182.2 256M420.1 316A538.8 538.8 0 0 0 1170.9 256M420.1 316A354.2 354.2 0 0 0 1079.9 256M477 316A366.2 366.2 0 0 0 1125.4 256M386 316A449.2 449.2 0 0 0 1136.8 256M579.4 316A399 399 0 0 0 1170.9 256M613.5 316A401.4 401.4 0 0 0 1205 256M488.4 316A450.5 450.5 0 0 0 1159.5 256M431.5 316A1363.8 1363.8 0 0 0 1182.2 256M477 316A462.5 462.5 0 0 0 1159.5 256M522.5 316A2313.5 2313.5 0 0 0 1170.9 256M442.9 316A2524.4 2524.4 0 0 0 1182.2 256M590.8 316A686 686 0 0 0 1159.5 256M386 316A509.2 509.2 0 0 0 1159.5 256M533.9 316A418.6 418.6 0 0 0 1159.5 256M590.8 316A251.8 251.8 0 0 0 1079.9 256M477 316A337.1 337.1 0 0 0 1102.6 256M488.4 316A331.3 331.3 0 0 0 1102.6 256M636.2 316A539.4 539.4 0 0 0 1205 256M431.5 316A320.1 320.1 0 0 0 1045.8 256M568 316A1048 1048 0 0 0 1159.5 256M488.4 316A632.7 632.7 0 0 0 1170.9 256M568 316A463.5 463.5 0 0 0 1170.9 256M477 316A1217.3 1217.3 0 0 0 1170.9 256M386 316A1066.8 1066.8 0 0 0 1193.6 256M522.5 316A380 380 0 0 0 1148.1 256M477 316A542.7 542.7 0 0 0 1170.9 256M511.1 316A757.8 757.8 0 0 0 1159.5 256M511.1 316A279.9 279.9 0 0 0 1057.1 256M397.4 316A370.5 370.5 0 0 0 1079.9 256"/>
<path stroke="#1fff00" d="M545.2 316A1073.6 1073.6 0 0 0 1159.5 256M522.5 316A274.2 274.2 0 0 0 1057.1 256M511.1 316A259.5 259.5 0 0 0 1023 256M624.9 316A671.9 671.9 0 0 0 1170.9 256M431.5 316A2542.1 2542.1 0 0 0 1182.2 256M590.8 316A539.7 539.7 0 0 0 1170.9 256M613.5 316A240.6 240.6 0 0 0 1079.9 256M386 316A1516.1 1516.1 0 0 0 1193.6 256M511.1 316A2327.8 2327.8 0 0 0 1170.9 256M602.1 316A675.8 675.8 0 0 0 1159.5 256M408.8 316A552 552 0 0 0 1170.9 256M397.4 316A817.5 817.5 0 0 0 1193.6 256M533.9 316A1086.6 1086.6 0 0 0 1159.5 256M545.2 316A411.8 411.8 0 0 0 1159.5 256M590.8 316A1022.7 1022.7 0 0 0 1159.5 256M465.6 316A1242.3 1242.3 0 0 0 1170.9 256M408.8 316A362.2 362.2 0 0 0 1079.9 256M602.1 316A1010.3 1010.3 0 0 0 1159.5 256M465.6 316A557 557 0 0 0 1170.9 256M533.9 316A373.6 373.6 0 0 0 1148.1 256M499.8 316A2342.7 2342.7 0 0 0 1170.9 256M613.5 316A393.8 393.8 0 0 0 1193.6 256M442.9 316A440.8 440.8 0 0 0 1148.1 256M590.8 316A324.8 324.8 0 0 0 1159.5 256M408.8 316A319.9 319.9 0 0 0 1023 256M408.8 316A418.9 418.9 0 0 0 1125.4 256M579.4 316A280.7 280.7 0 0 0 1114 256M647.6 316A990.5 990.5 0 0 0 1170.9 256M420.1 316A409.2 409.2 0 0 0 1125.4 256M590.8 316A275 275 0 0 0 1114 256M431.5 316A399.7 399.7 0 0 0 1125.4 256M545.2 316A268.6 268.6 0 0 0 1068.5 256M431.5 316A740.1 740.1 0 0 0 1182.2 256M636.2 316A269.5 269.5 0 0 0 1148.1 256M420.1 316A633.5 633.5 0 0 0 1182.2 256M624.9 316A252.3 252.3 0 0 0 1102.6 256M499.8 316A768.1 768.1 0 0 0 1159.5 256M431.5 316A451.7 451.7 0 0 0 1148.1 256M579.4 316A302.6 302.6 0 0 0 1136.8 256M522.5 316A1099.6 1099.6 0 0 0 1159.5 256M477 316A265.1 265.1 0 0 0 1000.2 256M579.4 316A456 456 0 0 0 1170.9 256M477 316A649.4 649.4 0 0 0 1170.9 256M454.2 316A314.5 314.5 0 0 0 1057.1 256M624.9 316A325.6 325.6 0 0 0 1193.6 256M556.6 316A263 263 0 0 0 1068.5 256M465.6 316A474.6 474.6 0 0 0 1159.5 256M522.5 316A319.8 319.8 0 0 0 1114 256M624.9 316A356.9 356.9 0 0 0 1205 256M636.2 316A297.3 297.3 0 0 0 1182.2 256M420.1 316A462.7 462.7 0 0 0 1148.1 256M568 316A330.6 330.6 0 0 0 1148.1 256M454.2 316A876.5 876.5 0 0 0 1170.9 256M499.8 316A354.1 354.1 0 0 0 1125.4 256M488.4 316A360.1 360.1 0 0 0 1125.4 256M420.1 316A969.8 969.8 0 0 0 1182.2 256M465.6 316A336.9 336.9 0 0 0 1091.2 256M647.6 316A667.8 667.8 0 0 0 1182.2 256M465.6 316A285.4 285.4 0 0 0 1023 256M579.4 316A257.4 257.4 0 0 0 1079.9 256M579.4 316A237.1 237.1 0 0 0 1045.8 256M477 316A308.9 308.9 0 0 0 1068.5 256M454.2 316A342.8 342.8 0 0 0 1091.2 256M636.2 316A2119.5 2119.5 0 0 0 1159.5 256M556.6 316A405 405 0 0 0 1159.5 256M488.4 316A2358.2 2358.2 0 0 0 1170.9 256M545.2 316A336.3 336.3 0 0 0 1136.8 256M454.2 316A486.8 486.8 0 0 0 1159.5 256M465.6 316A2390.4 2390.4 0 0 0 1170.9 256M386 316A378.9 378.9 0 0 0 1079.9 256M613.5 316A998 998 0 0 0 1159.5 256M579.4 316A355.1 355.1 0 0 0 1159.5 256M556.6 316A308.3 308.3 0 0 0 1125.4 256M624.9 316A263.7 263.7 0 0 0 1125.4 256M533.9 316A314 314 0 0 0 1114 256M511.1 316A1112.7 1112.7 0 0 0 1159.5 256M408.8 316A648.8 648.8 0 0 0 1182.2 256M624.9 316A297.2 297.2 0 0 0 1170.9 256M465.6 316A666.4 666.4 0 0 0 1170.9 256M636.2 316A661.8 661.8 0 0 0 1170.9 256M386 316A836.1 836.1 0 0 0 1193.6 256M442.9 316A499.3 499.3 0 0 0 1159.5 256M659 316A673.6 673.6 0 0 0 1193.6 256M477 316A2374.1 2374.1 0 0 0 1170.9 256M408.8 316A2578.5 2578.5 0 0 0 1182.2 256M545.2 316A367.3 367.3 0 0 0 1148.1 256M533.9 316A292 292 0 0 0 1091.2 256M579.4 316A2156 2156 0 0 0 1159.5 256M408.8 316A991.5 991.5 0 0 0 1182.2 256M545.2 316A308.2 308.2 0 0 0 1114 256M454.2 316A571.5 571.5 0 0 0 1170.9 256M613.5 316A2130.3 2130.3 0 0 0 1159.5 256M420.1 316A1389.7 1389.7 0 0 0 1182.2 256M590.8 316A302.8 302.8 0 0 0 1148.1 256M556.6 316A242.7 242.7 0 0 0 1034.4 256M647.6 316A303.4 303.4 0 0 0 1205 256M556.6 316A553.8 553.8 0 0 0 1159.5 256M659 316A2115.5 2115.5 0 0 0 1159.5 256M488.4 316A787.5 787.5 0 0 0 1159.5 256M613.5 316A665.8 665.8 0 0 0 1159.5 256M454.2 316A1267.3 1267.3 0 0 0 1170.9 256M602.1 316A2137.7 2137.7 0 0 0 1159.5 256M624.9 316A258 258 0 0 0 1114 256M442.9 316A342.6 342.6 0 0 0 1079.9 256M545.2 316A562.4 562.4 0 0 0 1159.5 256M499.8 316A1126 1126 0 0 0 1159.5 256M533.9 316A571 571 0 0 0 1159.5 256M613.5 316A234.9 234.9 0 0 0 1068.5 256M397.4 316A2597.2 2597.2 0 0 0 1182.2 256M442.9 316A897.4 897.4 0 0 0 1170.9 256M511.1 316A297.6 297.6 0 0 0 1079.9 256M647.6 316A212.4 212.4 0 0 0 1045.8 256M499.8 316A325.5 325.5 0 0 0 1102.6 256M556.6 316A330.3 330.3 0 0 0 1136.8 256M624.9 316A275.2 275.2 0 0 0 1148.1 256M397.4 316A565.3 565.3 0 0 0 1170.9 256M602.1 316A450 450 0 0 0 1182.2 256M590.8 316A225.9 225.9 0 0 0 1034.4 256M590.8 316A246.1 246.1 0 0 0 1068.5 256M522.5 316A291.9 291.9 0 0 0 1079.9 256M431.5 316A348.4 348.4 0 0 0 1079.9 256M545.2 316A286.3 286.3 0 0 0 1091.2 256M408.8 316A1415.5 1415.5 0 0 0 1182.2 256M397.4 316A362 362 0 0 0 1068.5 256M613.5 316A349.7 349.7 0 0 0 1182.2 256M624.9 316A394.6 394.6 0 0 0 1205 256M420.1 316A320 320 0 0 0 1034.4 256M647.6 316A2116.5 2116.5 0 0 0 1159.5 256M522.5 316A253.9 253.9 0 0 0 1023 256M602.1 316A393 393 0 0 0 1182.2 256M420.1 316A2560.1 2560.1 0 0 0 1182.2 256M659 316A184.1 184.1 0 0 0 1000.2 256M522.5 316A579.6 579.6 0 0 0 1159.5 256M568 316A302.5 302.5 0 0 0 1125.4 256M477 316A285.4 285.4 0 0 0 1034.4 256M488.4 316A303.2 303.2 0 0 0 1068.5 256M556.6 316A2178.1 2178.1 0 0 0 1159.5 256M590.8 316A2146.3 2146.3 0 0 0 1159.5 256M397.4 316A428.7 428.7 0 0 0 1125.4 256M511.1 316A319.6 319.6 0 0 0 1102.6 256M454.2 316A371.9 371.9 0 0 0 1114 256M397.4 316A664.2 664.2 0 0 0 1182.2 256M568 316A689.7 689.7 0 0 0 1148.1 256M465.6 316A308.8 308.8 0 0 0 1057.1 256M602.1 316A531.1 531.1 0 0 0 1170.9 256M386 316A438.6 438.6 0 0 0 1125.4 256M511.1 316A348.1 348.1 0 0 0 1125.4 256M556.6 316A361 361 0 0 0 1148.1 256M488.4 316A279.8 279.8 0 0 0 1034.4 256M488.4 316A392.1 392.1 0 0 0 1136.8 256M590.8 316A392.2 392.2 0 0 0 1170.9 256M442.9 316A586.1 586.1 0 0 0 1170.9 256M477 316A807.6 807.6 0 0 0 1159.5 256M568 316A2166.6 2166.6 0 0 0 1159.5 256M568 316A398.2 398.2 0 0 0 1159.5 256M613.5 316A297.1 297.1 0 0 0 1159.5 256M408.8 316A473.9 473.9 0 0 0 1148.1 256M568 316A545.3 545.3 0 0 0 1159.5 256M556.6 316A699.8 699.8 0 0 0 1148.1 256M408.8 316A354 354 0 0 0 1068.5 256M522.5 316A484.5 484.5 0 0 0 1159.5 256M568 316A280.7 280.7 0 0 0 1102.6 256M454.2 316A2407.2 2407.2 0 0 0 1170.9 256M545.2 316A710 710 0 0 0 1148.1 256M386 316A370.3 370.3 0 0 0 1068.5 256M522.5 316A342.1 342.1 0 0 0 1125.4 256M647.6 316A223.8 223.8 0 0 0 1068.5 256M420.1 316A758.1 758.1 0 0 0 1182.2 256M386 316A361.8 361.8 0 0 0 1057.1 256M579.4 316A536.7 536.7 0 0 0 1159.5 256M647.6 316A206.7 206.7 0 0 0 1034.4 256M533.9 316A477 477 0 0 0 1159.5 256M442.9 316A1292.4 1292.4 0 0 0 1170.9 256M624.9 316A2124.2 2124.2 0 0 0 1159.5 256M545.2 316A248.2 248.2 0 0 0 1034.4 256M590.8 316A269.3 269.3 0 0 0 1102.6 256M590.8 316A669.5 669.5 0 0 0 1148.1 256M545.2 316A2190.3 2190.3 0 0 0 1159.5 256M511.1 316A588.2 588.2 0 0 0 1159.5 256M579.4 316A324.6 324.6 0 0 0 1148.1 256M624.9 316A269.5 269.5 0 0 0 1136.8 256M465.6 316A408.5 408.5 0 0 0 1136.8 256M386 316A578.6 578.6 0 0 0 1170.9 256"/>
<path stroke="#2fff00" d="M533.9 316A2203.2 2203.2 0 0 0 1159.5 256M511.1 316A492 492 0 0 0 1159.5 256M397.4 316A1013.1 1013.1 0 0 0 1182.2 256M397.4 316A485.2 485.2 0 0 0 1148.1 256M636.2 316A973.9 973.9 0 0 0 1159.5 256M477 316A398.5 398.5 0 0 0 1136.8 256M545.2 316A469.4 469.4 0 0 0 1159.5 256M579.4 316A679.6 679.6 0 0 0 1148.1 256M647.6 316A218.1 218.1 0 0 0 1057.1 256M647.6 316A184.7 184.7 0 0 0 1000.2 256M442.9 316A2424.3 2424.3 0 0 0 1170.9 256M397.4 316A1441.1 1441.1 0 0 0 1182.2 256M454.2 316A683.5 683.5 0 0 0 1170.9 256M533.9 316A720.2 720.2 0 0 0 1148.1 256M499.8 316A499.5 499.5 0 0 0 1159.5 256M488.4 316A1149.6 1149.6 0 0 0 1159.5 256M590.8 316A993.4 993.4 0 0 0 1148.1 256M431.5 316A511.9 511.9 0 0 0 1159.5 256M465.6 316A265.1 265.1 0 0 0 988.9 256M499.8 316A259.5 259.5 0 0 0 1011.6 256M613.5 316A209.2 209.2 0 0 0 1023 256M568 316A1018.2 1018.2 0 0 0 1148.1 256M522.5 316A2216.8 2216.8 0 0 0 1159.5 256M511.1 316A379.4 379.4 0 0 0 1136.8 256M624.9 316A525.4 525.4 0 0 0 1182.2 256M579.4 316A275 275 0 0 0 1102.6 256M590.8 316A448.5 448.5 0 0 0 1170.9 256M602.1 316A349.3 349.3 0 0 0 1170.9 256M431.5 316A390 390 0 0 0 1114 256M397.4 316A353.8 353.8 0 0 0 1057.1 256M499.8 316A596.9 596.9 0 0 0 1159.5 256M477 316A331.1 331.1 0 0 0 1091.2 256M499.8 316A385.8 385.8 0 0 0 1136.8 256M613.5 316A229.3 229.3 0 0 0 1057.1 256M613.5 316A442.5 442.5 0 0 0 1182.2 256M511.1 316A274.2 274.2 0 0 0 1045.8 256M636.2 316A235.2 235.2 0 0 0 1079.9 256M386 316A496.7 496.7 0 0 0 1148.1 256M556.6 316A461.9 461.9 0 0 0 1159.5 256M442.9 316A380.8 380.8 0 0 0 1114 256M477 316A359.8 359.8 0 0 0 1114 256M442.9 316A314.4 314.4 0 0 0 1045.8 256M647.6 316A170.4 170.4 0 0 0 977.5 256M477 316A1174.1 1174.1 0 0 0 1159.5 256M465.6 316A365.9 365.9 0 0 0 1114 256M511.1 316A2231 2231 0 0 0 1159.5 256M624.9 316A985.9 985.9 0 0 0 1159.5 256M613.5 316A319.1 319.1 0 0 0 1170.9 256M408.8 316A776.2 776.2 0 0 0 1182.2 256M556.6 316A1030.8 1030.8 0 0 0 1148.1 256M454.2 316A285.4 285.4 0 0 0 1011.6 256M579.4 316A1005.8 1005.8 0 0 0 1148.1 256M511.1 316A424.5 424.5 0 0 0 1148.1 256M420.1 316A399.4 399.4 0 0 0 1114 256M522.5 316A730.4 730.4 0 0 0 1148.1 256M545.2 316A1043.5 1043.5 0 0 0 1148.1 256M420.1 316A348.2 348.2 0 0 0 1068.5 256M420.1 316A524.6 524.6 0 0 0 1159.5 256M499.8 316A2245.8 2245.8 0 0 0 1159.5 256M636.2 316A229.5 229.5 0 0 0 1068.5 256M488.4 316A438.1 438.1 0 0 0 1148.1 256M636.2 316A181.4 181.4 0 0 0 988.9 256M613.5 316A522.6 522.6 0 0 0 1170.9 256M408.8 316A265.1 265.1 0 0 0 932 256M579.4 316A251.8 251.8 0 0 0 1068.5 256M556.6 316A257.4 257.4 0 0 0 1057.1 256M647.6 316A261.9 261.9 0 0 0 1125.4 256M579.4 316A391.4 391.4 0 0 0 1159.5 256M533.9 316A268.6 268.6 0 0 0 1057.1 256M636.2 316A528.1 528.1 0 0 0 1193.6 256M454.2 316A418.9 418.9 0 0 0 1136.8 256M488.4 316A512.9 512.9 0 0 0 1159.5 256M613.5 316A269.4 269.4 0 0 0 1125.4 256M522.5 316A417.7 417.7 0 0 0 1148.1 256M431.5 316A918.4 918.4 0 0 0 1170.9 256M442.9 316A700.8 700.8 0 0 0 1170.9 256M533.9 316A1056.3 1056.3 0 0 0 1148.1 256M590.8 316A348.8 348.8 0 0 0 1159.5 256M499.8 316A431.3 431.3 0 0 0 1148.1 256M442.9 316A429.4 429.4 0 0 0 1136.8 256M533.9 316A410.9 410.9 0 0 0 1148.1 256M602.1 316A318.8 318.8 0 0 0 1159.5 256M522.5 316A373.1 373.1 0 0 0 1136.8 256M465.6 316A827.7 827.7 0 0 0 1159.5 256M568 316A257.4 257.4 0 0 0 1068.5 256M602.1 316A297 297 0 0 0 1148.1 256M511.1 316A740.7 740.7 0 0 0 1148.1 256M568 316A354.6 354.6 0 0 0 1148.1 256M602.1 316A981.2 981.2 0 0 0 1148.1 256M579.4 316A231.5 231.5 0 0 0 1034.4 256M590.8 316A296.8 296.8 0 0 0 1136.8 256M431.5 316A601 601 0 0 0 1170.9 256M613.5 316A263.7 263.7 0 0 0 1114 256M477 316A2276.7 2276.7 0 0 0 1159.5 256M533.9 316A366.8 366.8 0 0 0 1136.8 256M408.8 316A537.5 537.5 0 0 0 1159.5 256M477 316A526.8 526.8 0 0 0 1159.5 256M602.1 316A659.5 659.5 0 0 0 1148.1 256M420.1 316A2459.6 2459.6 0 0 0 1170.9 256M659 316A978.7 978.7 0 0 0 1170.9 256M431.5 316A440.1 440.1 0 0 0 1136.8 256M477 316A303.1 303.1 0 0 0 1057.1 256M533.9 316A336.1 336.1 0 0 0 1125.4 256M613.5 316A386.2 386.2 0 0 0 1182.2 256M488.4 316A259.5 259.5 0 0 0 1000.2 256M568 316A324.3 324.3 0 0 0 1136.8 256M454.2 316A336.8 336.8 0 0 0 1079.9 256M386 316A2616.1 2616.1 0 0 0 1182.2 256M386 316A680 680 0 0 0 1182.2 256M624.9 316A291.3 291.3 0 0 0 1159.5 256M488.4 316A612.7 612.7 0 0 0 1159.5 256M568 316A454.4 454.4 0 0 0 1159.5 256M499.8 316A297.5 297.5 0 0 0 1068.5 256M556.6 316A302.3 302.3 0 0 0 1114 256M590.8 316A528.2 528.2 0 0 0 1159.5 256M522.5 316A313.8 313.8 0 0 0 1102.6 256M420.1 316A314.2 314.2 0 0 0 1023 256M522.5 316A268.6 268.6 0 0 0 1045.8 256M624.9 316A319.3 319.3 0 0 0 1182.2 256M545.2 316A263 263 0 0 0 1057.1 256M522.5 316A1069.2 1069.2 0 0 0 1148.1 256M488.4 316A2261 2261 0 0 0 1159.5 256M408.8 316A2477.7 2477.7 0 0 0 1170.9 256M431.5 316A1317.7 1317.7 0 0 0 1170.9 256M647.6 316A297.4 297.4 0 0 0 1193.6 256M397.4 316A794.3 794.3 0 0 0 1182.2 256M386 316A353.6 353.6 0 0 0 1045.8 256M477 316A449.5 449.5 0 0 0 1148.1 256M545.2 316A330 330 0 0 0 1125.4 256M545.2 316A404.1 404.1 0 0 0 1148.1 256M499.8 316A347.8 347.8 0 0 0 1114 256M386 316A428.2 428.2 0 0 0 1114 256M533.9 316A308 308 0 0 0 1102.6 256M420.1 316A939.5 939.5 0 0 0 1170.9 256M636.2 316A246.6 246.6 0 0 0 1102.6 256M408.8 316A408.8 408.8 0 0 0 1114 256M397.4 316A418.4 418.4 0 0 0 1114 256M488.4 316A353.8 353.8 0 0 0 1114 256M431.5 316A314.3 314.3 0 0 0 1034.4 256M420.1 316A615.9 615.9 0 0 0 1170.9 256M465.6 316A1198.5 1198.5 0 0 0 1159.5 256M431.5 316A2441.8 2441.8 0 0 0 1170.9 256M647.6 316A651.8 651.8 0 0 0 1170.9 256M420.1 316A1342.8 1342.8 0 0 0 1170.9 256M477 316A629.3 629.3 0 0 0 1159.5 256M590.8 316A2052.4 2052.4 0 0 0 1148.1 256M465.6 316A461.5 461.5 0 0 0 1148.1 256M636.2 316A2025.8 2025.8 0 0 0 1148.1 256M624.9 316A2030.4 2030.4 0 0 0 1148.1 256M624.9 316A655.7 655.7 0 0 0 1159.5 256M579.4 316A446.9 446.9 0 0 0 1159.5 256M431.5 316A342.4 342.4 0 0 0 1068.5 256M511.1 316A1082.1 1082.1 0 0 0 1148.1 256M613.5 316A969.1 969.1 0 0 0 1148.1 256M442.9 316A2326.3 2326.3 0 0 0 1159.5 256M454.2 316A848 848 0 0 0 1159.5 256M454.2 316A265.1 265.1 0 0 0 977.5 256M533.9 316A286.2 286.2 0 0 0 1079.9 256M636.2 316A240.9 240.9 0 0 0 1091.2 256M602.1 316A269.4 269.4 0 0 0 1114 256M556.6 316A280.6 280.6 0 0 0 1091.2 256M624.9 316A443.9 443.9 0 0 0 1193.6 256M624.9 316A350.1 350.1 0 0 0 1193.6 256M454.2 316A473.5 473.5 0 0 0 1148.1 256M579.4 316A296.7 296.7 0 0 0 1125.4 256M659 316A291.6 291.6 0 0 0 1193.6 256M408.8 316A348 348 0 0 0 1057.1 256M499.8 316A751 751 0 0 0 1148.1 256M568 316A296.5 296.5 0 0 0 1114 256M408.8 316A285.2 285.2 0 0 0 966.1 256M511.1 316A291.8 291.8 0 0 0 1068.5 256M556.6 316A397.3 397.3 0 0 0 1148.1 256M386 316A1035.1 1035.1 0 0 0 1182.2 256M624.9 316A957.1 957.1 0 0 0 1148.1 256M477 316A279.8 279.8 0 0 0 1023 256M602.1 316A519.7 519.7 0 0 0 1159.5 256M636.2 316A645.8 645.8 0 0 0 1159.5 256M647.6 316A179.1 179.1 0 0 0 988.9 256M488.4 316A297.4 297.4 0 0 0 1057.1 256M488.4 316A325.3 325.3 0 0 0 1091.2 256M579.4 316A269.2 269.2 0 0 0 1091.2 256M659 316A657.7 657.7 0 0 0 1182.2 256M602.1 316A240.5 240.5 0 0 0 1068.5 256M568 316A2072.6 2072.6 0 0 0 1148.1 256M386 316A1467 1467 0 0 0 1182.2 256M465.6 316A2292.9 2292.9 0 0 0 1159.5 256M613.5 316A223.7 223.7 0 0 0 1045.8 256M613.5 316A2036.5 2036.5 0 0 0 1148.1 256M499.8 316A319.5 319.5 0 0 0 1091.2 256M454.2 316A308.7 308.7 0 0 0 1045.8 256M545.2 316A280.5 280.5 0 0 0 1079.9 256M465.6 316A540.8 540.8 0 0 0 1159.5 256M568 316A274.9 274.9 0 0 0 1091.2 256M602.1 316A2043.9 2043.9 0 0 0 1148.1 256M659 316A285.7 285.7 0 0 0 1182.2 256M613.5 316A257.9 257.9 0 0 0 1102.6 256M545.2 316A360.5 360.5 0 0 0 1136.8 256M454.2 316A1222.9 1222.9 0 0 0 1159.5 256"/>
<path stroke="#3fff00" d="M442.9 316A868.5 868.5 0 0 0 1159.5 256M442.9 316A371.5 371.5 0 0 0 1102.6 256M408.8 316A631.1 631.1 0 0 0 1170.9 256M420.1 316A450.9 450.9 0 0 0 1136.8 256M647.6 316A962.1 962.1 0 0 0 1159.5 256M659 316A2021.7 2021.7 0 0 0 1148.1 256M579.4 316A2062 2062 0 0 0 1148.1 256M488.4 316A761.3 761.3 0 0 0 1148.1 256M454.2 316A365.5 365.5 0 0 0 1102.6 256M408.8 316A1368.2 1368.2 0 0 0 1170.9 256M454.2 316A2309.4 2309.4 0 0 0 1159.5 256M613.5 316A649.5 649.5 0 0 0 1148.1 256M590.8 316A318.6 318.6 0 0 0 1148.1 256M408.8 316A960.9 960.9 0 0 0 1170.9 256M442.9 316A285.3 285.3 0 0 0 1000.2 256M442.9 316A1247.5 1247.5 0 0 0 1159.5 256M602.1 316A385.4 385.4 0 0 0 1170.9 256M511.1 316A253.9 253.9 0 0 0 1011.6 256M613.5 316A203.6 203.6 0 0 0 1011.6 256M556.6 316A2083.9 2083.9 0 0 0 1148.1 256M579.4 316A348.3 348.3 0 0 0 1148.1 256M568 316A237.1 237.1 0 0 0 1034.4 256M545.2 316A2096 2096 0 0 0 1148.1 256M659 316A168.1 168.1 0 0 0 977.5 256M431.5 316A718.3 718.3 0 0 0 1170.9 256M647.6 316A2022.8 2022.8 0 0 0 1148.1 256M408.8 316A461.9 461.9 0 0 0 1136.8 256M431.5 316A380.4 380.4 0 0 0 1102.6 256M579.4 316A318.3 318.3 0 0 0 1136.8 256M602.1 316A441 441 0 0 0 1170.9 256M397.4 316A550.6 550.6 0 0 0 1159.5 256M465.6 316A397.9 397.9 0 0 0 1125.4 256M499.8 316A1095.2 1095.2 0 0 0 1148.1 256M659 316A209.1 209.1 0 0 0 1034.4 256M545.2 316A550.7 550.7 0 0 0 1148.1 256M533.9 316A2108.9 2108.9 0 0 0 1148.1 256M659 316A250.2 250.2 0 0 0 1114 256M454.2 316A555 555 0 0 0 1159.5 256M442.9 316A308.6 308.6 0 0 0 1034.4 256M511.1 316A341.8 341.8 0 0 0 1114 256M545.2 316A242.7 242.7 0 0 0 1023 256M408.8 316A314.1 314.1 0 0 0 1011.6 256M556.6 316A354.1 354.1 0 0 0 1136.8 256M647.6 316A530.7 530.7 0 0 0 1205 256M397.4 316A473.1 473.1 0 0 0 1136.8 256M386 316A285.1 285.1 0 0 0 943.4 256M556.6 316A542.2 542.2 0 0 0 1148.1 256M397.4 316A285.2 285.2 0 0 0 954.8 256M568 316A533.7 533.7 0 0 0 1148.1 256M533.9 316A559.3 559.3 0 0 0 1148.1 256M590.8 316A384.6 384.6 0 0 0 1159.5 256M568 316A390.5 390.5 0 0 0 1148.1 256M522.5 316A2122.3 2122.3 0 0 0 1148.1 256M579.4 316A246.1 246.1 0 0 0 1057.1 256M602.1 316A291 291 0 0 0 1136.8 256M499.8 316A274.2 274.2 0 0 0 1034.4 256M465.6 316A645.8 645.8 0 0 0 1159.5 256M488.4 316A1108.3 1108.3 0 0 0 1148.1 256M602.1 316A263.6 263.6 0 0 0 1102.6 256M568 316A673 673 0 0 0 1136.8 256M636.2 316A945.4 945.4 0 0 0 1148.1 256M556.6 316A683.1 683.1 0 0 0 1136.8 256M636.2 316A325.8 325.8 0 0 0 1205 256M442.9 316A485.7 485.7 0 0 0 1148.1 256M511.1 316A2136.4 2136.4 0 0 0 1148.1 256M442.9 316A569.4 569.4 0 0 0 1159.5 256M556.6 316A237.1 237.1 0 0 0 1023 256M442.9 316A265.1 265.1 0 0 0 966.1 256M465.6 316A330.9 330.9 0 0 0 1079.9 256M624.9 316A639.6 639.6 0 0 0 1148.1 256M386 316A563.8 563.8 0 0 0 1159.5 256M533.9 316A248.2 248.2 0 0 0 1023 256M545.2 316A693.2 693.2 0 0 0 1136.8 256M522.5 316A567.8 567.8 0 0 0 1148.1 256M420.1 316A735.8 735.8 0 0 0 1170.9 256M556.6 316A324 324 0 0 0 1125.4 256M647.6 316A291.5 291.5 0 0 0 1182.2 256M397.4 316A408.4 408.4 0 0 0 1102.6 256M477 316A391.5 391.5 0 0 0 1125.4 256M590.8 316A290.9 290.9 0 0 0 1125.4 256M579.4 316A663 663 0 0 0 1136.8 256M431.5 316A2343.5 2343.5 0 0 0 1159.5 256M613.5 316A342.9 342.9 0 0 0 1170.9 256M613.5 316A291.1 291.1 0 0 0 1148.1 256M602.1 316A342.5 342.5 0 0 0 1159.5 256M386 316A812.7 812.7 0 0 0 1182.2 256M533.9 316A703.3 703.3 0 0 0 1136.8 256M613.5 316A252.2 252.2 0 0 0 1091.2 256M408.8 316A398.9 398.9 0 0 0 1102.6 256M568 316A988.6 988.6 0 0 0 1136.8 256M533.9 316A467.8 467.8 0 0 0 1148.1 256M465.6 316A303 303 0 0 0 1045.8 256M431.5 316A498 498 0 0 0 1148.1 256M636.2 316A291.4 291.4 0 0 0 1170.9 256M624.9 316A218.1 218.1 0 0 0 1045.8 256M420.1 316A389.6 389.6 0 0 0 1102.6 256M533.9 316A263 263 0 0 0 1045.8 256M397.4 316A2496.1 2496.1 0 0 0 1170.9 256M488.4 316A2166 2166 0 0 0 1148.1 256M545.2 316A302.2 302.2 0 0 0 1102.6 256M624.9 316A514.1 514.1 0 0 0 1170.9 256M556.6 316A1001 1001 0 0 0 1136.8 256M590.8 316A653.1 653.1 0 0 0 1136.8 256M511.1 316A576.4 576.4 0 0 0 1148.1 256M647.6 316A519.5 519.5 0 0 0 1193.6 256M659 316A214.9 214.9 0 0 0 1045.8 256M420.1 316A2361.1 2361.1 0 0 0 1159.5 256M522.5 316A475.3 475.3 0 0 0 1148.1 256M386 316A347.6 347.6 0 0 0 1034.4 256M579.4 316A976.3 976.3 0 0 0 1136.8 256M579.4 316A525.2 525.2 0 0 0 1148.1 256M477 316A780.4 780.4 0 0 0 1148.1 256M545.2 316A460.3 460.3 0 0 0 1148.1 256M590.8 316A439.5 439.5 0 0 0 1159.5 256M590.8 316A964.1 964.1 0 0 0 1136.8 256M499.8 316A378.9 378.9 0 0 0 1125.4 256M511.1 316A482.8 482.8 0 0 0 1148.1 256M465.6 316A359.5 359.5 0 0 0 1102.6 256M624.9 316A198 198 0 0 0 1011.6 256M477 316A325.1 325.1 0 0 0 1079.9 256M454.2 316A407.9 407.9 0 0 0 1125.4 256M545.2 316A1013.5 1013.5 0 0 0 1136.8 256M624.9 316A387 387 0 0 0 1193.6 256M386 316A2514.7 2514.7 0 0 0 1170.9 256M477 316A259.5 259.5 0 0 0 988.9 256M454.2 316A662.6 662.6 0 0 0 1159.5 256M659 316A297.5 297.5 0 0 0 1205 256M499.8 316A2150.9 2150.9 0 0 0 1148.1 256M442.9 316A418.3 418.3 0 0 0 1125.4 256M408.8 316A2378.9 2378.9 0 0 0 1159.5 256M590.8 316A516.7 516.7 0 0 0 1148.1 256M397.4 316A314 314 0 0 0 1000.2 256M659 316A220.8 220.8 0 0 0 1057.1 256M420.1 316A510.6 510.6 0 0 0 1148.1 256M533.9 316A1026.1 1026.1 0 0 0 1136.8 256M442.9 316A336.6 336.6 0 0 0 1068.5 256M568 316A251.7 251.7 0 0 0 1057.1 256M556.6 316A452.8 452.8 0 0 0 1148.1 256M488.4 316A385.2 385.2 0 0 0 1125.4 256M613.5 316A285.2 285.2 0 0 0 1136.8 256M511.1 316A313.7 313.7 0 0 0 1091.2 256M556.6 316A296.4 296.4 0 0 0 1102.6 256M659 316A178.5 178.5 0 0 0 988.9 256M522.5 316A713.4 713.4 0 0 0 1136.8 256M397.4 316A646.3 646.3 0 0 0 1170.9 256M545.2 316A257.3 257.3 0 0 0 1045.8 256M431.5 316A285.3 285.3 0 0 0 988.9 256M522.5 316A335.8 335.8 0 0 0 1114 256M431.5 316A889.1 889.1 0 0 0 1159.5 256M397.4 316A347.8 347.8 0 0 0 1045.8 256M602.1 316A234.9 234.9 0 0 0 1057.1 256M431.5 316A1272.1 1272.1 0 0 0 1159.5 256M568 316A318 318 0 0 0 1125.4 256M511.1 316A416.7 416.7 0 0 0 1136.8 256M636.2 316A516.8 516.8 0 0 0 1182.2 256M613.5 316A511.2 511.2 0 0 0 1159.5 256M636.2 316A445.3 445.3 0 0 0 1205 256M408.8 316A753.7 753.7 0 0 0 1170.9 256M454.2 316A2213.7 2213.7 0 0 0 1148.1 256M477 316A1131.5 1131.5 0 0 0 1148.1 256M602.1 316A952.1 952.1 0 0 0 1136.8 256M488.4 316A430.3 430.3 0 0 0 1136.8 256M568 316A347.8 347.8 0 0 0 1136.8 256M533.9 316A329.7 329.7 0 0 0 1114 256M636.2 316A319.5 319.5 0 0 0 1193.6 256M579.4 316A383.7 383.7 0 0 0 1148.1 256M420.1 316A342.2 342.2 0 0 0 1057.1 256M499.8 316A490.3 490.3 0 0 0 1148.1 256M602.1 316A285.1 285.1 0 0 0 1125.4 256M659 316A950.5 950.5 0 0 0 1159.5 256M659 316A256.1 256.1 0 0 0 1125.4 256M465.6 316A279.7 279.7 0 0 0 1011.6 256M442.9 316A679.6 679.6 0 0 0 1159.5 256M522.5 316A307.8 307.8 0 0 0 1091.2 256M522.5 316A366.2 366.2 0 0 0 1125.4 256M488.4 316A497.8 497.8 0 0 0 1148.1 256M533.9 316A403.1 403.1 0 0 0 1136.8 256M499.8 316A585 585 0 0 0 1148.1 256M613.5 316A312.8 312.8 0 0 0 1159.5 256M386 316A484.3 484.3 0 0 0 1136.8 256M511.1 316A372.6 372.6 0 0 0 1125.4 256M397.4 316A1393.4 1393.4 0 0 0 1170.9 256M602.1 316A643.1 643.1 0 0 0 1136.8 256M499.8 316A423.5 423.5 0 0 0 1136.8 256M511.1 316A723.6 723.6 0 0 0 1136.8 256M465.6 316A800.3 800.3 0 0 0 1148.1 256M568 316A445.4 445.4 0 0 0 1148.1 256M590.8 316A342 342 0 0 0 1148.1 256M511.1 316A268.5 268.5 0 0 0 1034.4 256M522.5 316A1038.8 1038.8 0 0 0 1136.8 256M397.4 316A982.3 982.3 0 0 0 1170.9 256M579.4 316A290.7 290.7 0 0 0 1114 256M522.5 316A409.9 409.9 0 0 0 1136.8 256M522.5 316A248.2 248.2 0 0 0 1011.6 256M613.5 316A433.5 433.5 0 0 0 1170.9 256M545.2 316A323.7 323.7 0 0 0 1114 256M477 316A2181.5 2181.5 0 0 0 1148.1 256M397.4 316A2397.1 2397.1 0 0 0 1159.5 256M556.6 316A274.8 274.8 0 0 0 1079.9 256M431.5 316A583.9 583.9 0 0 0 1159.5 256M431.5 316A265.1 265.1 0 0 0 954.8 256M522.5 316A286.1 286.1 0 0 0 1068.5 256M431.5 316A308.5 308.5 0 0 0 1023 256M533.9 316A280.4 280.4 0 0 0 1068.5 256M568 316A269.1 269.1 0 0 0 1079.9 256M602.1 316A214.7 214.7 0 0 0 1023 256M488.4 316A347.5 347.5 0 0 0 1102.6 256"/>
<path stroke="#4fff00" d="M488.4 316A593.6 593.6 0 0 0 1148.1 256M420.1 316A1296.9 1296.9 0 0 0 1159.5 256M465.6 316A2197.4 2197.4 0 0 0 1148.1 256M386 316A2415.5 2415.5 0 0 0 1159.5 256M602.1 316A257.9 257.9 0 0 0 1091.2 256M465.6 316A1155.5 1155.5 0 0 0 1148.1 256M454.2 316A330.7 330.7 0 0 0 1068.5 256M408.8 316A342 342 0 0 0 1045.8 256M602.1 316A377.8 377.8 0 0 0 1159.5 256M511.1 316A1051.6 1051.6 0 0 0 1136.8 256M579.4 316A225.9 225.9 0 0 0 1023 256M624.9 316A313.1 313.1 0 0 0 1170.9 256M386 316A661.6 661.6 0 0 0 1170.9 256M499.8 316A291.7 291.7 0 0 0 1057.1 256M624.9 316A1938.8 1938.8 0 0 0 1136.8 256M477 316A437.1 437.1 0 0 0 1136.8 256M477 316A297.3 297.3 0 0 0 1045.8 256M454.2 316A1179.4 1179.4 0 0 0 1148.1 256M454.2 316A820.1 820.1 0 0 0 1148.1 256M602.1 316A312.6 312.6 0 0 0 1148.1 256M420.1 316A909.9 909.9 0 0 0 1159.5 256M624.9 316A343.4 343.4 0 0 0 1182.2 256M477 316A353.5 353.5 0 0 0 1102.6 256M386 316A418 418 0 0 0 1102.6 256M465.6 316A448.5 448.5 0 0 0 1136.8 256M431.5 316A428.8 428.8 0 0 0 1125.4 256M386 316A313.9 313.9 0 0 0 988.9 256M659 316A1930.2 1930.2 0 0 0 1136.8 256M613.5 316A378.6 378.6 0 0 0 1170.9 256M602.1 316A432 432 0 0 0 1159.5 256M647.6 316A279.7 279.7 0 0 0 1159.5 256M590.8 316A312.3 312.3 0 0 0 1136.8 256M545.2 316A396.4 396.4 0 0 0 1136.8 256M488.4 316A319.3 319.3 0 0 0 1079.9 256M590.8 316A1960.7 1960.7 0 0 0 1136.8 256M613.5 316A949.7 949.7 0 0 0 988.9 256M624.9 316A435 435 0 0 0 1182.2 256M420.1 316A439.4 439.4 0 0 0 1125.4 256M420.1 316A380.1 380.1 0 0 0 1091.2 256M602.1 316A1952.2 1952.2 0 0 0 1136.8 256M568 316A1980.7 1980.7 0 0 0 1136.8 256M624.9 316A928.5 928.5 0 0 0 1136.8 256M579.4 316A1970.2 1970.2 0 0 0 1136.8 256M590.8 316A284.9 284.9 0 0 0 1114 256M386 316A1418.6 1418.6 0 0 0 1170.9 256M420.1 316A598.7 598.7 0 0 0 1159.5 256M499.8 316A733.8 733.8 0 0 0 1136.8 256M556.6 316A1991.9 1991.9 0 0 0 1136.8 256M533.9 316A2016.6 2016.6 0 0 0 1136.8 256M408.8 316A450.2 450.2 0 0 0 1125.4 256M533.9 316A359.9 359.9 0 0 0 1125.4 256M420.1 316A285.3 285.3 0 0 0 977.5 256M545.2 316A2003.9 2003.9 0 0 0 1136.8 256M636.2 316A629.7 629.7 0 0 0 1148.1 256M477 316A511.1 511.1 0 0 0 1148.1 256M408.8 316A523.3 523.3 0 0 0 1148.1 256M613.5 316A940.2 940.2 0 0 0 1136.8 256M397.4 316A308.2 308.2 0 0 0 988.9 256M408.8 316A1321.5 1321.5 0 0 0 1159.5 256M499.8 316A313.5 313.5 0 0 0 1079.9 256M590.8 316A263.5 263.5 0 0 0 1091.2 256M431.5 316A371.2 371.2 0 0 0 1091.2 256M511.1 316A248.2 248.2 0 0 0 1000.2 256M568 316A231.5 231.5 0 0 0 1023 256M647.6 316A267.8 267.8 0 0 0 1136.8 256M545.2 316A353.6 353.6 0 0 0 1125.4 256M556.6 316A389.6 389.6 0 0 0 1136.8 256M647.6 316A933.8 933.8 0 0 0 1148.1 256M624.9 316A944.1 944.1 0 0 0 988.9 256M386 316A1003.6 1003.6 0 0 0 1170.9 256M499.8 316A253.9 253.9 0 0 0 1000.2 256M659 316A162.6 162.6 0 0 0 966.1 256M499.8 316A1064.5 1064.5 0 0 0 1136.8 256M579.4 316A437.9 437.9 0 0 0 1148.1 256M602.1 316A508.2 508.2 0 0 0 1148.1 256M590.8 316A377 377 0 0 0 1148.1 256M579.4 316A341.5 341.5 0 0 0 1136.8 256M420.1 316A265.1 265.1 0 0 0 943.4 256M488.4 316A274.1 274.1 0 0 0 1023 256M624.9 316A212.5 212.5 0 0 0 1034.4 256M636.2 316A1934.2 1934.2 0 0 0 1136.8 256M522.5 316A2029.9 2029.9 0 0 0 1136.8 256M442.9 316A2230.4 2230.4 0 0 0 1148.1 256M636.2 316A505.6 505.6 0 0 0 1170.9 256M659 316A154 154 0 0 0 954.8 256M511.1 316A2043.8 2043.8 0 0 0 1136.8 256M613.5 316A1944.9 1944.9 0 0 0 1136.8 256M647.6 316A1931.3 1931.3 0 0 0 1136.8 256M647.6 316A285.6 285.6 0 0 0 1170.9 256M442.9 316A365.2 365.2 0 0 0 1091.2 256M454.2 316A302.9 302.9 0 0 0 1034.4 256M499.8 316A268.5 268.5 0 0 0 1023 256M488.4 316A744 744 0 0 0 1136.8 256M420.1 316A308.4 308.4 0 0 0 1011.6 256M408.8 316A930.7 930.7 0 0 0 1159.5 256M408.8 316A389.2 389.2 0 0 0 1091.2 256M465.6 316A524.9 524.9 0 0 0 1148.1 256M431.5 316A2247.4 2247.4 0 0 0 1148.1 256M397.4 316A536.1 536.1 0 0 0 1148.1 256M386 316A308.1 308.1 0 0 0 977.5 256M408.8 316A613.5 613.5 0 0 0 1159.5 256M659 316A262.1 262.1 0 0 0 1136.8 256M477 316A609.3 609.3 0 0 0 1148.1 256M465.6 316A324.9 324.9 0 0 0 1068.5 256M636.2 316A939.8 939.8 0 0 0 988.9 256M590.8 316A240.5 240.5 0 0 0 1057.1 256M511.1 316A335.4 335.4 0 0 0 1102.6 256M488.4 316A1077.4 1077.4 0 0 0 1136.8 256M397.4 316A341.8 341.8 0 0 0 1034.4 256M488.4 316A2073.1 2073.1 0 0 0 1136.8 256M499.8 316A341.5 341.5 0 0 0 1102.6 256M420.1 316A2264.7 2264.7 0 0 0 1148.1 256M431.5 316A696.7 696.7 0 0 0 1159.5 256M499.8 316A2058.2 2058.2 0 0 0 1136.8 256M647.6 316A635.8 635.8 0 0 0 1159.5 256M431.5 316A279.6 279.6 0 0 0 977.5 256M397.4 316A771.6 771.6 0 0 0 1170.9 256M454.2 316A460.4 460.4 0 0 0 1136.8 256M613.5 316A633.3 633.3 0 0 0 1136.8 256M465.6 316A259.5 259.5 0 0 0 977.5 256M624.9 316A246.5 246.5 0 0 0 1091.2 256M579.4 316A312 312 0 0 0 1125.4 256M602.1 316A956.3 956.3 0 0 0 988.9 256M533.9 316A302 302 0 0 0 1091.2 256M454.2 316A538.8 538.8 0 0 0 1148.1 256M431.5 316A259.5 259.5 0 0 0 943.4 256M556.6 316A317.7 317.7 0 0 0 1114 256M602.1 316A229.3 229.3 0 0 0 1045.8 256M568 316A290.6 290.6 0 0 0 1102.6 256M590.8 316A430.4 430.4 0 0 0 1148.1 256M533.9 316A242.7 242.7 0 0 0 1011.6 256M386 316A549.1 549.1 0 0 0 1148.1 256M568 316A656.4 656.4 0 0 0 1125.4 256M556.6 316A530.5 530.5 0 0 0 1136.8 256M545.2 316A539 539 0 0 0 1136.8 256M556.6 316A666.3 666.3 0 0 0 1125.4 256M522.5 316A262.9 262.9 0 0 0 1034.4 256M568 316A382.8 382.8 0 0 0 1136.8 256M659 316A226.7 226.7 0 0 0 1068.5 256M442.9 316A472.3 472.3 0 0 0 1136.8 256M647.6 316A273.7 273.7 0 0 0 1148.1 256M454.2 316A279.7 279.7 0 0 0 1000.2 256M533.9 316A547.5 547.5 0 0 0 1136.8 256M579.4 316A646.5 646.5 0 0 0 1125.4 256M579.4 316A947 947 0 0 0 1125.4 256M647.6 316A937 937 0 0 0 988.9 256M624.9 316A623.4 623.4 0 0 0 1136.8 256M442.9 316A1203.4 1203.4 0 0 0 1148.1 256M442.9 316A330.5 330.5 0 0 0 1057.1 256M568 316A959.1 959.1 0 0 0 1125.4 256M545.2 316A296.2 296.2 0 0 0 1091.2 256M465.6 316A2104.1 2104.1 0 0 0 1136.8 256M420.1 316A259.5 259.5 0 0 0 932 256M602.1 316A252.1 252.1 0 0 0 1079.9 256M454.2 316A397.3 397.3 0 0 0 1114 256M659 316A522.1 522.1 0 0 0 1205 256M556.6 316A971.3 971.3 0 0 0 1125.4 256M386 316A407.9 407.9 0 0 0 1091.2 256M420.1 316A336.2 336.2 0 0 0 1045.8 256M568 316A246.1 246.1 0 0 0 1045.8 256M442.9 316A840.1 840.1 0 0 0 1148.1 256M545.2 316A676.3 676.3 0 0 0 1125.4 256M568 316A522.1 522.1 0 0 0 1136.8 256M636.2 316A350.6 350.6 0 0 0 1205 256M397.4 316A398.5 398.5 0 0 0 1091.2 256M624.9 316A379.4 379.4 0 0 0 1182.2 256M431.5 316A336.4 336.4 0 0 0 1057.1 256M477 316A384.6 384.6 0 0 0 1114 256M465.6 316A625.7 625.7 0 0 0 1148.1 256M545.2 316A983.6 983.6 0 0 0 1125.4 256M465.6 316A353.1 353.1 0 0 0 1091.2 256M590.8 316A935 935 0 0 0 1125.4 256M556.6 316A347.3 347.3 0 0 0 1125.4 256M431.5 316A484.5 484.5 0 0 0 1136.8 256M397.4 316A1346.4 1346.4 0 0 0 1159.5 256M636.2 316A313.3 313.3 0 0 0 1182.2 256M659 316A641.8 641.8 0 0 0 1170.9 256M397.4 316A461.2 461.2 0 0 0 1125.4 256M397.4 316A2300.2 2300.2 0 0 0 1148.1 256M477 316A274.1 274.1 0 0 0 1011.6 256M420.1 316A714.1 714.1 0 0 0 1159.5 256M590.8 316A636.6 636.6 0 0 0 1125.4 256M465.6 316A274.1 274.1 0 0 0 1000.2 256M647.6 316A508.3 508.3 0 0 0 1182.2 256M408.8 316A2282.3 2282.3 0 0 0 1148.1 256M613.5 316A336.2 336.2 0 0 0 1159.5 256M636.2 316A916.9 916.9 0 0 0 1136.8 256M522.5 316A556 556 0 0 0 1136.8 256M636.2 316A285.5 285.5 0 0 0 1159.5 256M386 316A2318.3 2318.3 0 0 0 1148.1 256M636.2 316A261.8 261.8 0 0 0 1114 256M568 316A311.7 311.7 0 0 0 1114 256M659 316A935.9 935.9 0 0 0 988.9 256M499.8 316A372 372 0 0 0 1114 256M533.9 316A458.6 458.6 0 0 0 1136.8 256M602.1 316A335.7 335.7 0 0 0 1148.1 256M442.9 316A302.8 302.8 0 0 0 1023 256M386 316A472.3 472.3 0 0 0 1125.4 256M579.4 316A284.8 284.8 0 0 0 1102.6 256M477 316A754.3 754.3 0 0 0 1136.8 256M465.6 316A391 391 0 0 0 1114 256M533.9 316A686.4 686.4 0 0 0 1125.4 256M454.2 316A359.2 359.2 0 0 0 1091.2 256M386 316A789.5 789.5 0 0 0 1170.9 256M477 316A2088.4 2088.4 0 0 0 1136.8 256M431.5 316A1227.4 1227.4 0 0 0 1148.1 256M533.9 316A996 996 0 0 0 1125.4 256M579.4 316A513.6 513.6 0 0 0 1136.8 256M431.5 316A2153.4 2153.4 0 0 0 1136.8 256M420.1 316A279.6 279.6 0 0 0 966.1 256M454.2 316A642.1 642.1 0 0 0 1148.1 256"/>
<path stroke="#5fff00" d="M545.2 316A274.8 274.8 0 0 0 1068.5 256M511.1 316A564.6 564.6 0 0 0 1136.8 256M624.9 316A240.8 240.8 0 0 0 1079.9 256M477 316A1090.4 1090.4 0 0 0 1136.8 256M522.5 316A301.9 301.9 0 0 0 1079.9 256M556.6 316A251.7 251.7 0 0 0 1045.8 256M636.2 316A436.4 436.4 0 0 0 1193.6 256M590.8 316A257.8 257.8 0 0 0 1079.9 256M511.1 316A473.6 473.6 0 0 0 1136.8 256M522.5 316A329.4 329.4 0 0 0 1102.6 256M522.5 316A466.1 466.1 0 0 0 1136.8 256M545.2 316A451.2 451.2 0 0 0 1136.8 256M613.5 316A888.2 888.2 0 0 0 977.5 256M602.1 316A306.3 306.3 0 0 0 1136.8 256M533.9 316A323.4 323.4 0 0 0 1102.6 256M659 316A922.4 922.4 0 0 0 1148.1 256M488.4 316A378.3 378.3 0 0 0 1114 256M465.6 316A1113.2 1113.2 0 0 0 1136.8 256M533.9 316A257.3 257.3 0 0 0 1034.4 256M636.2 316A387.8 387.8 0 0 0 1205 256M431.5 316A860.3 860.3 0 0 0 1148.1 256M511.1 316A307.7 307.7 0 0 0 1079.9 256M613.5 316A911.5 911.5 0 0 0 1125.4 256M590.8 316A279 279 0 0 0 1102.6 256M386 316A1371.2 1371.2 0 0 0 1159.5 256M522.5 316A696.4 696.4 0 0 0 1125.4 256M522.5 316A1008.6 1008.6 0 0 0 1125.4 256M420.1 316A370.8 370.8 0 0 0 1079.9 256M397.4 316A951.8 951.8 0 0 0 1159.5 256M568 316A341 341 0 0 0 1125.4 256M545.2 316A237.1 237.1 0 0 0 1011.6 256M624.9 316A206.9 206.9 0 0 0 1023 256M397.4 316A628.6 628.6 0 0 0 1159.5 256M624.9 316A235.1 235.1 0 0 0 1068.5 256M602.1 316A923.2 923.2 0 0 0 1125.4 256M613.5 316A499.8 499.8 0 0 0 1148.1 256M522.5 316A280.4 280.4 0 0 0 1057.1 256M408.8 316A308.3 308.3 0 0 0 1000.2 256M556.6 316A269.1 269.1 0 0 0 1068.5 256M579.4 316A263.5 263.5 0 0 0 1079.9 256M465.6 316A773.1 773.1 0 0 0 1136.8 256M556.6 316A443.7 443.7 0 0 0 1136.8 256M511.1 316A286 286 0 0 0 1057.1 256M442.9 316A407.2 407.2 0 0 0 1114 256M590.8 316A335.2 335.2 0 0 0 1136.8 256M442.9 316A552.9 552.9 0 0 0 1148.1 256M579.4 316A376.1 376.1 0 0 0 1136.8 256M624.9 316A285.3 285.3 0 0 0 1148.1 256M386 316A279.5 279.5 0 0 0 932 256M431.5 316A417.6 417.6 0 0 0 1114 256M624.9 316A882.7 882.7 0 0 0 977.5 256M386 316A341.5 341.5 0 0 0 1023 256M465.6 316A297.3 297.3 0 0 0 1034.4 256M624.9 316A502.7 502.7 0 0 0 1159.5 256M420.1 316A1251.6 1251.6 0 0 0 1148.1 256M590.8 316A505.2 505.2 0 0 0 1136.8 256M499.8 316A286 286 0 0 0 1045.8 256M408.8 316A731.5 731.5 0 0 0 1159.5 256M488.4 316A291.6 291.6 0 0 0 1045.8 256M590.8 316A306 306 0 0 0 1125.4 256M613.5 316A424.6 424.6 0 0 0 1159.5 256M408.8 316A279.6 279.6 0 0 0 954.8 256M613.5 316A1855.4 1855.4 0 0 0 1125.4 256M511.1 316A365.7 365.7 0 0 0 1114 256M545.2 316A1914 1914 0 0 0 1125.4 256M579.4 316A1880.6 1880.6 0 0 0 1125.4 256M499.8 316A481 481 0 0 0 1136.8 256M454.2 316A2120.2 2120.2 0 0 0 1136.8 256M568 316A1890.9 1890.9 0 0 0 1125.4 256M556.6 316A1902.1 1902.1 0 0 0 1125.4 256M602.1 316A626.8 626.8 0 0 0 1125.4 256M590.8 316A1871.2 1871.2 0 0 0 1125.4 256M397.4 316A388.8 388.8 0 0 0 1079.9 256M602.1 316A894.7 894.7 0 0 0 977.5 256M397.4 316A279.5 279.5 0 0 0 943.4 256M602.1 316A370.2 370.2 0 0 0 1148.1 256M420.1 316A428 428 0 0 0 1114 256M499.8 316A573.1 573.1 0 0 0 1136.8 256M488.4 316A488.5 488.5 0 0 0 1136.8 256M613.5 316A306.6 306.6 0 0 0 1148.1 256M477 316A319.1 319.1 0 0 0 1068.5 256M499.8 316A415.7 415.7 0 0 0 1125.4 256M613.5 316A371 371 0 0 0 1159.5 256M636.2 316A878.4 878.4 0 0 0 977.5 256M522.5 316A402.2 402.2 0 0 0 1125.4 256M442.9 316A2136.6 2136.6 0 0 0 1136.8 256M624.9 316A306.8 306.8 0 0 0 1159.5 256M477 316A347.1 347.1 0 0 0 1091.2 256M511.1 316A1021.2 1021.2 0 0 0 1125.4 256M568 316A436.3 436.3 0 0 0 1136.8 256M465.6 316A436.1 436.1 0 0 0 1125.4 256M408.8 316A379.7 379.7 0 0 0 1079.9 256M533.9 316A1926.5 1926.5 0 0 0 1125.4 256M624.9 316A336.6 336.6 0 0 0 1170.9 256M420.1 316A496.8 496.8 0 0 0 1136.8 256M431.5 316A567.2 567.2 0 0 0 1148.1 256M659 316A1840.8 1840.8 0 0 0 1125.4 256M590.8 316A220.3 220.3 0 0 0 1023 256M522.5 316A1939.7 1939.7 0 0 0 1125.4 256M511.1 316A706.5 706.5 0 0 0 1125.4 256M454.2 316A259.5 259.5 0 0 0 966.1 256M386 316A643.7 643.7 0 0 0 1159.5 256M613.5 316A617 617 0 0 0 1125.4 256M420.1 316A880.7 880.7 0 0 0 1148.1 256M420.1 316A302.6 302.6 0 0 0 1000.2 256M647.6 316A238.3 238.3 0 0 0 1079.9 256M442.9 316A279.7 279.7 0 0 0 988.9 256M624.9 316A426 426 0 0 0 1170.9 256M647.6 316A164.9 164.9 0 0 0 966.1 256M511.1 316A408.9 408.9 0 0 0 1125.4 256M624.9 316A192.5 192.5 0 0 0 1000.2 256M386 316A972.9 972.9 0 0 0 1159.5 256M488.4 316A253.9 253.9 0 0 0 988.9 256M477 316A429.3 429.3 0 0 0 1125.4 256M590.8 316A234.9 234.9 0 0 0 1045.8 256M613.5 316A279.3 279.3 0 0 0 1125.4 256M488.4 316A581.6 581.6 0 0 0 1136.8 256M488.4 316A268.5 268.5 0 0 0 1011.6 256M602.1 316A1862.7 1862.7 0 0 0 1125.4 256M602.1 316A423 423 0 0 0 1148.1 256M624.9 316A1849.4 1849.4 0 0 0 1125.4 256M511.1 316A1953.4 1953.4 0 0 0 1125.4 256M499.8 316A1033.8 1033.8 0 0 0 1125.4 256M499.8 316A248.2 248.2 0 0 0 988.9 256M499.8 316A1967.6 1967.6 0 0 0 1125.4 256M545.2 316A388.6 388.6 0 0 0 1125.4 256M647.6 316A905.6 905.6 0 0 0 1136.8 256M647.6 316A875.6 875.6 0 0 0 977.5 256M636.2 316A273.6 273.6 0 0 0 1136.8 256M442.9 316A358.8 358.8 0 0 0 1079.9 256M533.9 316A395.4 395.4 0 0 0 1125.4 256M647.6 316A244.2 244.2 0 0 0 1091.2 256M408.8 316A509.2 509.2 0 0 0 1136.8 256M533.9 316A353.1 353.1 0 0 0 1114 256M636.2 316A343.8 343.8 0 0 0 1193.6 256M488.4 316A313.3 313.3 0 0 0 1068.5 256M499.8 316A716.6 716.6 0 0 0 1125.4 256M556.6 316A290.4 290.4 0 0 0 1091.2 256M636.2 316A1844.8 1844.8 0 0 0 1125.4 256M488.4 316A422.5 422.5 0 0 0 1125.4 256M522.5 316A359.4 359.4 0 0 0 1114 256M602.1 316A279.1 279.1 0 0 0 1114 256M624.9 316A229.4 229.4 0 0 0 1057.1 256M613.5 316A1013.3 1013.3 0 0 0 1000.2 256M636.2 316A267.7 267.7 0 0 0 1125.4 256M408.8 316A335.9 335.9 0 0 0 1034.4 256M545.2 316A346.8 346.8 0 0 0 1114 256M420.1 316A581.7 581.7 0 0 0 1148.1 256M624.9 316A900 900 0 0 0 1125.4 256M442.9 316A658.8 658.8 0 0 0 1148.1 256M454.2 316A324.7 324.7 0 0 0 1057.1 256M465.6 316A2012.9 2012.9 0 0 0 1125.4 256M477 316A1997.4 1997.4 0 0 0 1125.4 256M602.1 316A209.2 209.2 0 0 0 1011.6 256M624.9 316A279.4 279.4 0 0 0 1136.8 256M454.2 316A1136.7 1136.7 0 0 0 1136.8 256M454.2 316A274 274 0 0 0 988.9 256M386 316A398.1 398.1 0 0 0 1079.9 256M408.8 316A2187.8 2187.8 0 0 0 1136.8 256M545.2 316A317.4 317.4 0 0 0 1102.6 256M636.2 316A494.3 494.3 0 0 0 1159.5 256M397.4 316A521.9 521.9 0 0 0 1136.8 256M477 316A496 496 0 0 0 1136.8 256M659 316A874.5 874.5 0 0 0 977.5 256M624.9 316A491.4 491.4 0 0 0 1148.1 256M431.5 316A364.8 364.8 0 0 0 1079.9 256M647.6 316A619.9 619.9 0 0 0 1148.1 256M579.4 316A428.8 428.8 0 0 0 1136.8 256M602.1 316A496.8 496.8 0 0 0 1136.8 256M397.4 316A2205.3 2205.3 0 0 0 1136.8 256M624.9 316A273.5 273.5 0 0 0 1125.4 256M624.9 316A1007.7 1007.7 0 0 0 1000.2 256M579.4 316A334.7 334.7 0 0 0 1125.4 256M420.1 316A2170.4 2170.4 0 0 0 1136.8 256M590.8 316A369.3 369.3 0 0 0 1136.8 256M408.8 316A1275.9 1275.9 0 0 0 1148.1 256M431.5 316A330.3 330.3 0 0 0 1045.8 256M568 316A284.6 284.6 0 0 0 1091.2 256M579.4 316A305.8 305.8 0 0 0 1114 256M454.2 316A792.7 792.7 0 0 0 1136.8 256M602.1 316A223.7 223.7 0 0 0 1034.4 256M408.8 316A438.6 438.6 0 0 0 1114 256M659 316A894.4 894.4 0 0 0 1136.8 256M499.8 316A335.1 335.1 0 0 0 1091.2 256M636.2 316A613.7 613.7 0 0 0 1136.8 256M386 316A335.5 335.5 0 0 0 1011.6 256M465.6 316A509.2 509.2 0 0 0 1136.8 256M431.5 316A302.7 302.7 0 0 0 1011.6 256M556.6 316A381.9 381.9 0 0 0 1125.4 256M454.2 316A447.4 447.4 0 0 0 1125.4 256M556.6 316A311.4 311.4 0 0 0 1102.6 256M511.1 316A262.9 262.9 0 0 0 1023 256M408.8 316A302.5 302.5 0 0 0 988.9 256M397.4 316A449.4 449.4 0 0 0 1114 256M533.9 316A296.1 296.1 0 0 0 1079.9 256M579.4 316A278.8 278.8 0 0 0 1091.2 256M442.9 316A2044.9 2044.9 0 0 0 1125.4 256M465.6 316A253.9 253.9 0 0 0 966.1 256M488.4 316A1982.3 1982.3 0 0 0 1125.4 256M488.4 316A341.1 341.1 0 0 0 1091.2 256M602.1 316A300 300 0 0 0 1125.4 256M647.6 316A1841.9 1841.9 0 0 0 1125.4 256M613.5 316A246.5 246.5 0 0 0 1079.9 256M568 316A929.6 929.6 0 0 0 1114 256M602.1 316A1020 1020 0 0 0 1000.2 256M386 316A460.3 460.3 0 0 0 1114 256M397.4 316A749.2 749.2 0 0 0 1159.5 256M431.5 316A1183.6 1183.6 0 0 0 1136.8 256M579.4 316A917.7 917.7 0 0 0 1114 256M624.9 316A371.9 371.9 0 0 0 1170.9 256M442.9 316A1160.1 1160.1 0 0 0 1136.8 256M590.8 316A252.1 252.1 0 0 0 1068.5 256M613.5 316A273.4 273.4 0 0 0 1114 256M556.6 316A941.7 941.7 0 0 0 1114 256M636.2 316A1003.4 1003.4 0 0 0 1000.2 256M477 316A590.2 590.2 0 0 0 1136.8 256M545.2 316A290.3 290.3 0 0 0 1079.9 256M556.6 316A231.5 231.5 0 0 0 1011.6 256M442.9 316A459.3 459.3 0 0 0 1125.4 256M545.2 316A953.8 953.8 0 0 0 1114 256M431.5 316A675.6 675.6 0 0 0 1148.1 256M397.4 316A1300 1300 0 0 0 1148.1 256M465.6 316A318.9 318.9 0 0 0 1057.1 256M613.5 316A300.3 300.3 0 0 0 1136.8 256M579.4 316A240.5 240.5 0 0 0 1045.8 256M488.4 316A1046.6 1046.6 0 0 0 1125.4 256M454.2 316A390.3 390.3 0 0 0 1102.6 256M568 316A639.7 639.7 0 0 0 1114 256M659 316A511 511 0 0 0 1193.6 256M556.6 316A649.6 649.6 0 0 0 1114 256"/>
<path stroke="#6fff00" d="M579.4 316A629.9 629.9 0 0 0 1114 256M522.5 316A242.7 242.7 0 0 0 1000.2 256M477 316A1059.4 1059.4 0 0 0 1125.4 256M659 316A626 626 0 0 0 1159.5 256M590.8 316A905.9 905.9 0 0 0 1114 256M488.4 316A726.7 726.7 0 0 0 1125.4 256M602.1 316A328.9 328.9 0 0 0 1136.8 256M568 316A375.2 375.2 0 0 0 1125.4 256M602.1 316A894.3 894.3 0 0 0 1114 256M408.8 316A901.2 901.2 0 0 0 1148.1 256M545.2 316A659.5 659.5 0 0 0 1114 256M636.2 316A279.5 279.5 0 0 0 1148.1 256M442.9 316A259.5 259.5 0 0 0 954.8 256M442.9 316A812.3 812.3 0 0 0 1136.8 256M636.2 316A888.6 888.6 0 0 0 1125.4 256M568 316A225.9 225.9 0 0 0 1011.6 256M533.9 316A966 966 0 0 0 1114 256M556.6 316A340.5 340.5 0 0 0 1114 256M568 316A263.4 263.4 0 0 0 1068.5 256M545.2 316A527.3 527.3 0 0 0 1125.4 256M590.8 316A421.4 421.4 0 0 0 1136.8 256M636.2 316A307.1 307.1 0 0 0 1170.9 256M647.6 316A1000.5 1000.5 0 0 0 1000.2 256M499.8 316A307.5 307.5 0 0 0 1068.5 256M454.2 316A352.8 352.8 0 0 0 1079.9 256M386 316A2223.2 2223.2 0 0 0 1136.8 256M556.6 316A518.9 518.9 0 0 0 1125.4 256M636.2 316A195.8 195.8 0 0 0 1011.6 256M624.9 316A267.6 267.6 0 0 0 1114 256M624.9 316A261.6 261.6 0 0 0 1102.6 256M465.6 316A605.8 605.8 0 0 0 1136.8 256M442.9 316A396.7 396.7 0 0 0 1102.6 256M386 316A1324.4 1324.4 0 0 0 1148.1 256M579.4 316A257.7 257.7 0 0 0 1068.5 256M647.6 316A497.1 497.1 0 0 0 1170.9 256M624.9 316A607.3 607.3 0 0 0 1125.4 256M636.2 316A223.7 223.7 0 0 0 1057.1 256M636.2 316A380.2 380.2 0 0 0 1193.6 256M397.4 316A379.3 379.3 0 0 0 1068.5 256M568 316A510.5 510.5 0 0 0 1125.4 256M533.9 316A274.7 274.7 0 0 0 1057.1 256M499.8 316A1879.1 1879.1 0 0 0 1114 256M477 316A736.9 736.9 0 0 0 1125.4 256M590.8 316A299.8 299.8 0 0 0 1114 256M556.6 316A246.1 246.1 0 0 0 1034.4 256M442.9 316A297.1 297.1 0 0 0 1011.6 256M465.6 316A291.5 291.5 0 0 0 1023 256M465.6 316A1072.3 1072.3 0 0 0 1125.4 256M556.6 316A263.3 263.3 0 0 0 1057.1 256M590.8 316A620.1 620.1 0 0 0 1114 256M613.5 316A329.4 329.4 0 0 0 1148.1 256M454.2 316A2028.7 2028.7 0 0 0 1125.4 256M454.2 316A297.2 297.2 0 0 0 1023 256M408.8 316A596.3 596.3 0 0 0 1148.1 256M545.2 316A1826.1 1826.1 0 0 0 1114 256M533.9 316A669.4 669.4 0 0 0 1114 256M431.5 316A832.1 832.1 0 0 0 1136.8 256M386 316A766.9 766.9 0 0 0 1159.5 256M431.5 316A406.6 406.6 0 0 0 1102.6 256M636.2 316A427.5 427.5 0 0 0 1182.2 256M533.9 316A1838.5 1838.5 0 0 0 1114 256M397.4 316A302.4 302.4 0 0 0 977.5 256M647.6 316A319.8 319.8 0 0 0 1205 256M420.1 316A692.6 692.6 0 0 0 1148.1 256M533.9 316A535.7 535.7 0 0 0 1125.4 256M511.1 316A301.7 301.7 0 0 0 1068.5 256M556.6 316A1814.4 1814.4 0 0 0 1114 256M408.8 316A370.4 370.4 0 0 0 1068.5 256M579.4 316A502.1 502.1 0 0 0 1125.4 256M602.1 316A273.2 273.2 0 0 0 1102.6 256M465.6 316A384 384 0 0 0 1102.6 256M602.1 316A610.4 610.4 0 0 0 1114 256M511.1 316A280.3 280.3 0 0 0 1045.8 256M568 316A1803.3 1803.3 0 0 0 1114 256M613.5 316A828.8 828.8 0 0 0 966.1 256M454.2 316A523 523 0 0 0 1136.8 256M659 316A999.5 999.5 0 0 0 1000.2 256M511.1 316A329.1 329.1 0 0 0 1091.2 256M579.4 316A1793.1 1793.1 0 0 0 1114 256M636.2 316A559.8 559.8 0 0 0 988.9 256M442.9 316A274 274 0 0 0 977.5 256M590.8 316A328.4 328.4 0 0 0 1125.4 256M647.6 316A551.7 551.7 0 0 0 988.9 256M477 316A291.6 291.6 0 0 0 1034.4 256M522.5 316A323.1 323.1 0 0 0 1091.2 256M568 316A334.2 334.2 0 0 0 1114 256M397.4 316A335.7 335.7 0 0 0 1023 256M522.5 316A544.2 544.2 0 0 0 1125.4 256M602.1 316A1775.4 1775.4 0 0 0 1114 256M386 316A534.6 534.6 0 0 0 1136.8 256M545.2 316A269 269 0 0 0 1057.1 256M522.5 316A978.4 978.4 0 0 0 1114 256M624.9 316A568.3 568.3 0 0 0 988.9 256M408.8 316A329.9 329.9 0 0 0 1023 256M488.4 316A285.9 285.9 0 0 0 1034.4 256M386 316A388.4 388.4 0 0 0 1068.5 256M397.4 316A921.7 921.7 0 0 0 1148.1 256M465.6 316A747.1 747.1 0 0 0 1125.4 256M488.4 316A371.4 371.4 0 0 0 1102.6 256M613.5 316A882.8 882.8 0 0 0 1114 256M545.2 316A251.7 251.7 0 0 0 1034.4 256M659 316A544 544 0 0 0 988.9 256M522.5 316A257.3 257.3 0 0 0 1023 256M647.6 316A313.5 313.5 0 0 0 1193.6 256M454.2 316A253.9 253.9 0 0 0 954.8 256M590.8 316A1783.7 1783.7 0 0 0 1114 256M624.9 316A823.4 823.4 0 0 0 966.1 256M477 316A268.5 268.5 0 0 0 1000.2 256M545.2 316A442 442 0 0 0 1125.4 256M511.1 316A1865.1 1865.1 0 0 0 1114 256M522.5 316A1851.5 1851.5 0 0 0 1114 256M431.5 316A471.1 471.1 0 0 0 1125.4 256M477 316A313.1 313.1 0 0 0 1057.1 256M397.4 316A611 611 0 0 0 1148.1 256M579.4 316A368.4 368.4 0 0 0 1125.4 256M522.5 316A456.9 456.9 0 0 0 1125.4 256M613.5 316A577 577 0 0 0 988.9 256M420.1 316A2078.2 2078.2 0 0 0 1125.4 256M477 316A253.9 253.9 0 0 0 977.5 256M613.5 316A218.1 218.1 0 0 0 1034.4 256M511.1 316A990.8 990.8 0 0 0 1114 256M499.8 316A1003.3 1003.3 0 0 0 1114 256M613.5 316A363.5 363.5 0 0 0 1148.1 256M613.5 316A415.6 415.6 0 0 0 1148.1 256M420.1 316A364.4 364.4 0 0 0 1068.5 256M408.8 316A2095.3 2095.3 0 0 0 1125.4 256M636.2 316A218 218 0 0 0 1045.8 256M477 316A1908.5 1908.5 0 0 0 1114 256M613.5 316A1768.1 1768.1 0 0 0 1114 256M442.9 316A536.8 536.8 0 0 0 1136.8 256M533.9 316A449.4 449.4 0 0 0 1125.4 256M488.4 316A1893.6 1893.6 0 0 0 1114 256M386 316A302.3 302.3 0 0 0 966.1 256M568 316A305.5 305.5 0 0 0 1102.6 256M602.1 316A362.6 362.6 0 0 0 1136.8 256M431.5 316A2061.4 2061.4 0 0 0 1125.4 256M522.5 316A679.4 679.4 0 0 0 1114 256M613.5 316A267.4 267.4 0 0 0 1102.6 256M613.5 316A240.7 240.7 0 0 0 1068.5 256M624.9 316A187 187 0 0 0 988.9 256M590.8 316A493.7 493.7 0 0 0 1125.4 256M511.1 316A358.8 358.8 0 0 0 1102.6 256M647.6 316A250.1 250.1 0 0 0 1102.6 256M590.8 316A214.7 214.7 0 0 0 1011.6 256M659 316A1753.5 1753.5 0 0 0 1114 256M613.5 316A488.4 488.4 0 0 0 1136.8 256M636.2 316A337.1 337.1 0 0 0 1182.2 256M420.1 316A483.2 483.2 0 0 0 1125.4 256M522.5 316A274.6 274.6 0 0 0 1045.8 256M477 316A377.7 377.7 0 0 0 1102.6 256M647.6 316A1754.6 1754.6 0 0 0 1114 256M556.6 316A434.6 434.6 0 0 0 1125.4 256M624.9 316A1762.1 1762.1 0 0 0 1114 256M636.2 316A819.1 819.1 0 0 0 966.1 256M420.1 316A1207.2 1207.2 0 0 0 1136.8 256M386 316A378.8 378.8 0 0 0 1057.1 256M488.4 316A248.2 248.2 0 0 0 977.5 256M511.1 316A552.7 552.7 0 0 0 1125.4 256M386 316A296.4 296.4 0 0 0 954.8 256M431.5 316A296.9 296.9 0 0 0 1000.2 256M590.8 316A229.3 229.3 0 0 0 1034.4 256M420.1 316A330.1 330.1 0 0 0 1034.4 256M647.6 316A256 256 0 0 0 1114 256M636.2 316A418.6 418.6 0 0 0 1170.9 256M420.1 316A416.9 416.9 0 0 0 1102.6 256M511.1 316A464.3 464.3 0 0 0 1125.4 256M442.9 316A324.5 324.5 0 0 0 1045.8 256M431.5 316A550.8 550.8 0 0 0 1136.8 256M488.4 316A307.3 307.3 0 0 0 1057.1 256M499.8 316A407.9 407.9 0 0 0 1114 256M465.6 316A346.8 346.8 0 0 0 1079.9 256M647.6 316A437.7 437.7 0 0 0 1205 256M499.8 316A471.8 471.8 0 0 0 1125.4 256M386 316A942.5 942.5 0 0 0 1148.1 256M408.8 316A427.3 427.3 0 0 0 1102.6 256M499.8 316A365.1 365.1 0 0 0 1102.6 256M511.1 316A689.4 689.4 0 0 0 1114 256M408.8 316A495.5 495.5 0 0 0 1125.4 256M454.2 316A1939.4 1939.4 0 0 0 1114 256M624.9 316A329.9 329.9 0 0 0 1159.5 256M397.4 316A437.9 437.9 0 0 0 1102.6 256M454.2 316A622 622 0 0 0 1136.8 256M386 316A626 626 0 0 0 1148.1 256M556.6 316A284.5 284.5 0 0 0 1079.9 256M624.9 316A871.5 871.5 0 0 0 1114 256M533.9 316A237.1 237.1 0 0 0 1000.2 256M647.6 316A428.9 428.9 0 0 0 1193.6 256M568 316A427.2 427.2 0 0 0 1125.4 256M477 316A340.8 340.8 0 0 0 1079.9 256M499.8 316A561.2 561.2 0 0 0 1125.4 256M613.5 316A600.8 600.8 0 0 0 1114 256M431.5 316A358.4 358.4 0 0 0 1068.5 256M499.8 316A699.4 699.4 0 0 0 1114 256M397.4 316A370 370 0 0 0 1057.1 256M602.1 316A835.3 835.3 0 0 0 966.1 256M602.1 316A414 414 0 0 0 1136.8 256M647.6 316A816.3 816.3 0 0 0 966.1 256M442.9 316A1117.7 1117.7 0 0 0 1125.4 256M454.2 316A1094.6 1094.6 0 0 0 1125.4 256M568 316A278.7 278.7 0 0 0 1079.9 256M477 316A421.5 421.5 0 0 0 1114 256M442.9 316A253.9 253.9 0 0 0 943.4 256M408.8 316A1230.9 1230.9 0 0 0 1136.8 256M420.1 316A1988.1 1988.1 0 0 0 1114 256M431.5 316A274 274 0 0 0 966.1 256M511.1 316A401.2 401.2 0 0 0 1114 256M545.2 316A380.9 380.9 0 0 0 1114 256M533.9 316A346.2 346.2 0 0 0 1102.6 256M647.6 316A604 604 0 0 0 1136.8 256M613.5 316A1079.1 1079.1 0 0 0 1011.6 256M579.4 316A299.5 299.5 0 0 0 1102.6 256M533.9 316A317.1 317.1 0 0 0 1091.2 256M397.4 316A2112.6 2112.6 0 0 0 1125.4 256M533.9 316A387.7 387.7 0 0 0 1114 256M636.2 316A1757.5 1757.5 0 0 0 1114 256M386 316A2130.1 2130.1 0 0 0 1125.4 256M408.8 316A709.7 709.7 0 0 0 1148.1 256M647.6 316A877.5 877.5 0 0 0 1125.4 256M624.9 316A300.6 300.6 0 0 0 1148.1 256M522.5 316A352.5 352.5 0 0 0 1102.6 256M488.4 316A414.7 414.7 0 0 0 1114 256M545.2 316A311.1 311.1 0 0 0 1091.2 256M499.8 316A262.9 262.9 0 0 0 1011.6 256M636.2 316A597.6 597.6 0 0 0 1125.4 256M636.2 316A483 483 0 0 0 1148.1 256M659 316A866.6 866.6 0 0 0 1125.4 256M624.9 316A417.1 417.1 0 0 0 1159.5 256M488.4 316A1015.9 1015.9 0 0 0 1114 256M579.4 316A327.9 327.9 0 0 0 1114 256M420.1 316A852 852 0 0 0 1136.8 256M636.2 316A212.3 212.3 0 0 0 1034.4 256M659 316A815.3 815.3 0 0 0 966.1 256M590.8 316A273.1 273.1 0 0 0 1091.2 256M522.5 316A394.4 394.4 0 0 0 1114 256M624.9 316A480.1 480.1 0 0 0 1136.8 256M590.8 316A361.7 361.7 0 0 0 1125.4 256M579.4 316A419.8 419.8 0 0 0 1125.4 256M442.9 316A638.3 638.3 0 0 0 1136.8 256M602.1 316A1085.9 1085.9 0 0 0 1011.6 256M568 316A900.3 900.3 0 0 0 1102.6 256M397.4 316A329.7 329.7 0 0 0 1011.6 256M579.4 316A888.6 888.6 0 0 0 1102.6 256M556.6 316A912.1 912.1 0 0 0 1102.6 256"/>
<path stroke="#7fff00" d="M454.2 316A765.7 765.7 0 0 0 1125.4 256M602.1 316A246.4 246.4 0 0 0 1068.5 256M533.9 316A290.1 290.1 0 0 0 1068.5 256M397.4 316A1254.6 1254.6 0 0 0 1136.8 256M454.2 316A435 435 0 0 0 1114 256M465.6 316A1923.8 1923.8 0 0 0 1114 256M488.4 316A479.2 479.2 0 0 0 1125.4 256M579.4 316A234.9 234.9 0 0 0 1034.4 256M522.5 316A295.9 295.9 0 0 0 1068.5 256M477 316A486.7 486.7 0 0 0 1125.4 256M602.1 316A322.1 322.1 0 0 0 1125.4 256M590.8 316A963.8 963.8 0 0 0 988.9 256M477 316A1028.5 1028.5 0 0 0 1114 256M602.1 316A586 586 0 0 0 988.9 256M602.1 316A485.3 485.3 0 0 0 1125.4 256M499.8 316A328.8 328.8 0 0 0 1079.9 256M602.1 316A267.3 267.3 0 0 0 1091.2 256M579.4 316A252 252 0 0 0 1057.1 256M465.6 316A428.2 428.2 0 0 0 1114 256M465.6 316A494.2 494.2 0 0 0 1125.4 256M613.5 316A235 235 0 0 0 1057.1 256M488.4 316A334.8 334.8 0 0 0 1079.9 256M624.9 316A1073.5 1073.5 0 0 0 1011.6 256M590.8 316A877 877 0 0 0 1102.6 256M545.2 316A924.1 924.1 0 0 0 1102.6 256M511.1 316A1778.9 1778.9 0 0 0 1102.6 256M624.9 316A595 595 0 0 0 1000.2 256M533.9 316A1752.7 1752.7 0 0 0 1102.6 256M659 316A610.1 610.1 0 0 0 1148.1 256M613.5 316A322.6 322.6 0 0 0 1136.8 256M533.9 316A936.1 936.1 0 0 0 1102.6 256M556.6 316A374.2 374.2 0 0 0 1114 256M636.2 316A372.6 372.6 0 0 0 1182.2 256M590.8 316A293.5 293.5 0 0 0 1102.6 256M636.2 316A586.3 586.3 0 0 0 1000.2 256M454.2 316A291.4 291.4 0 0 0 1011.6 256M488.4 316A569.7 569.7 0 0 0 1125.4 256M454.2 316A318.7 318.7 0 0 0 1045.8 256M613.5 316A261.5 261.5 0 0 0 1091.2 256M420.1 316A273.9 273.9 0 0 0 954.8 256M442.9 316A785 785 0 0 0 1125.4 256M624.9 316A364.3 364.3 0 0 0 1159.5 256M613.5 316A604 604 0 0 0 1000.2 256M408.8 316A364 364 0 0 0 1057.1 256M659 316A499.8 499.8 0 0 0 1182.2 256M431.5 316A654.8 654.8 0 0 0 1136.8 256M556.6 316A1728.8 1728.8 0 0 0 1102.6 256M545.2 316A1740.4 1740.4 0 0 0 1102.6 256M602.1 316A865.6 865.6 0 0 0 1102.6 256M397.4 316A726.9 726.9 0 0 0 1148.1 256M488.4 316A709.4 709.4 0 0 0 1114 256M613.5 316A294.1 294.1 0 0 0 1125.4 256M636.2 316A330.3 330.3 0 0 0 1170.9 256M647.6 316A577.9 577.9 0 0 0 1000.2 256M613.5 316A771.6 771.6 0 0 0 954.8 256M568 316A623.1 623.1 0 0 0 1102.6 256M545.2 316A339.9 339.9 0 0 0 1102.6 256M579.4 316A613.3 613.3 0 0 0 1102.6 256M556.6 316A632.8 632.8 0 0 0 1102.6 256M477 316A578.2 578.2 0 0 0 1125.4 256M511.1 316A242.7 242.7 0 0 0 988.9 256M647.6 316A307.3 307.3 0 0 0 1182.2 256M408.8 316A872 872 0 0 0 1136.8 256M568 316A1717.9 1717.9 0 0 0 1102.6 256M420.1 316A565 565 0 0 0 1136.8 256M636.2 316A1069.1 1069.1 0 0 0 1011.6 256M647.6 316A201.1 201.1 0 0 0 1023 256M602.1 316A293.8 293.8 0 0 0 1114 256M465.6 316A268.4 268.4 0 0 0 988.9 256M568 316A257.7 257.7 0 0 0 1057.1 256M624.9 316A591.1 591.1 0 0 0 1114 256M579.4 316A1707.8 1707.8 0 0 0 1102.6 256M420.1 316A296.8 296.8 0 0 0 988.9 256M533.9 316A268.9 268.9 0 0 0 1045.8 256M397.4 316A507.9 507.9 0 0 0 1125.4 256M431.5 316A324.3 324.3 0 0 0 1034.4 256M408.8 316A273.9 273.9 0 0 0 943.4 256M568 316A367.5 367.5 0 0 0 1114 256M442.9 316A1955.4 1955.4 0 0 0 1114 256M636.2 316A860.4 860.4 0 0 0 1114 256M386 316A448.6 448.6 0 0 0 1102.6 256M556.6 316A333.6 333.6 0 0 0 1102.6 256M522.5 316A1765.5 1765.5 0 0 0 1102.6 256M431.5 316A1971.6 1971.6 0 0 0 1114 256M624.9 316A408.2 408.2 0 0 0 1148.1 256M431.5 316A253.9 253.9 0 0 0 932 256M488.4 316A1807 1807 0 0 0 1102.6 256M659 316A569.9 569.9 0 0 0 1000.2 256M442.9 316A352.4 352.4 0 0 0 1068.5 256M636.2 316A300.8 300.8 0 0 0 1159.5 256M568 316A240.5 240.5 0 0 0 1034.4 256M590.8 316A603.7 603.7 0 0 0 1102.6 256M590.8 316A1698.5 1698.5 0 0 0 1102.6 256M386 316A369.6 369.6 0 0 0 1045.8 256M545.2 316A642.6 642.6 0 0 0 1102.6 256M613.5 316A477 477 0 0 0 1125.4 256M499.8 316A1792.8 1792.8 0 0 0 1102.6 256M590.8 316A412.4 412.4 0 0 0 1125.4 256M590.8 316A321.6 321.6 0 0 0 1114 256M647.6 316A849.5 849.5 0 0 0 1114 256M477 316A719.5 719.5 0 0 0 1114 256M465.6 316A586.7 586.7 0 0 0 1125.4 256M511.1 316A960.5 960.5 0 0 0 1102.6 256M488.4 316A262.8 262.8 0 0 0 1000.2 256M477 316A285.8 285.8 0 0 0 1023 256M442.9 316A389.7 389.7 0 0 0 1091.2 256M522.5 316A948.3 948.3 0 0 0 1102.6 256M545.2 316A515.6 515.6 0 0 0 1114 256M602.1 316A1690.2 1690.2 0 0 0 1102.6 256M499.8 316A280.2 280.2 0 0 0 1034.4 256M431.5 316A1140.6 1140.6 0 0 0 1125.4 256M636.2 316A365.1 365.1 0 0 0 1170.9 256M647.6 316A1066.3 1066.3 0 0 0 1011.6 256M545.2 316A263.2 263.2 0 0 0 1045.8 256M454.2 316A1852.2 1852.2 0 0 0 1102.6 256M420.1 316A324.1 324.1 0 0 0 1023 256M545.2 316A231.5 231.5 0 0 0 1000.2 256M613.5 316A854.3 854.3 0 0 0 1102.6 256M386 316A520.4 520.4 0 0 0 1125.4 256M533.9 316A652.4 652.4 0 0 0 1102.6 256M579.4 316A220.3 220.3 0 0 0 1011.6 256M556.6 316A507.2 507.2 0 0 0 1114 256M442.9 316A446.3 446.3 0 0 0 1114 256M420.1 316A405.9 405.9 0 0 0 1091.2 256M568 316A498.8 498.8 0 0 0 1114 256M408.8 316A579.3 579.3 0 0 0 1136.8 256M386 316A329.4 329.4 0 0 0 1000.2 256M465.6 316A377.1 377.1 0 0 0 1091.2 256M465.6 316A1836.8 1836.8 0 0 0 1102.6 256M431.5 316A396 396 0 0 0 1091.2 256M454.2 316A346.4 346.4 0 0 0 1068.5 256M386 316A1278.3 1278.3 0 0 0 1136.8 256M499.8 316A301.5 301.5 0 0 0 1057.1 256M636.2 316A190.2 190.2 0 0 0 1000.2 256M556.6 316A305.1 305.1 0 0 0 1091.2 256M522.5 316A316.8 316.8 0 0 0 1079.9 256M386 316A744.5 744.5 0 0 0 1148.1 256M465.6 316A312.9 312.9 0 0 0 1045.8 256M624.9 316A766.2 766.2 0 0 0 954.8 256M477 316A1821.7 1821.7 0 0 0 1102.6 256M613.5 316A1683 1683 0 0 0 1102.6 256M397.4 316A892.3 892.3 0 0 0 1136.8 256M602.1 316A594.1 594.1 0 0 0 1102.6 256M545.2 316A246 246 0 0 0 1023 256M659 316A594.3 594.3 0 0 0 1136.8 256M477 316A248.2 248.2 0 0 0 966.1 256M624.9 316A323.1 323.1 0 0 0 1148.1 256M431.5 316A458.1 458.1 0 0 0 1114 256M431.5 316A1883.9 1883.9 0 0 0 1102.6 256M659 316A245.4 245.4 0 0 0 1079.9 256M386 316A2039.2 2039.2 0 0 0 1114 256M408.8 316A2004.9 2004.9 0 0 0 1114 256M533.9 316A524 524 0 0 0 1114 256M397.4 316A2021.9 2021.9 0 0 0 1114 256M636.2 316A1672.4 1672.4 0 0 0 1102.6 256M624.9 316A294.3 294.3 0 0 0 1136.8 256M624.9 316A356.7 356.7 0 0 0 1148.1 256M454.2 316A507.3 507.3 0 0 0 1125.4 256M659 316A518.4 518.4 0 0 0 977.5 256M579.4 316A490.5 490.5 0 0 0 1114 256M590.8 316A1027.6 1027.6 0 0 0 1000.2 256M647.6 316A525.8 525.8 0 0 0 977.5 256M442.9 316A318.5 318.5 0 0 0 1034.4 256M659 316A1065.2 1065.2 0 0 0 1011.6 256M511.1 316A322.8 322.8 0 0 0 1079.9 256M420.1 316A1163.6 1163.6 0 0 0 1125.4 256M613.5 316A355.9 355.9 0 0 0 1136.8 256M465.6 316A1041.2 1041.2 0 0 0 1114 256M454.2 316A1054 1054 0 0 0 1114 256M613.5 316A212.5 212.5 0 0 0 1023 256M511.1 316A257.2 257.2 0 0 0 1011.6 256M602.1 316A613.2 613.2 0 0 0 1000.2 256M647.6 316A1669.5 1669.5 0 0 0 1102.6 256M636.2 316A762 762 0 0 0 954.8 256M568 316A299.2 299.2 0 0 0 1091.2 256M613.5 316A198 198 0 0 0 1000.2 256M533.9 316A251.7 251.7 0 0 0 1023 256M397.4 316A593.9 593.9 0 0 0 1136.8 256M602.1 316A355 355 0 0 0 1125.4 256M636.2 316A533.6 533.6 0 0 0 977.5 256M636.2 316A206.7 206.7 0 0 0 1023 256M556.6 316A240.4 240.4 0 0 0 1023 256M408.8 316A416.2 416.2 0 0 0 1091.2 256M602.1 316A778 778 0 0 0 954.8 256M579.4 316A272.9 272.9 0 0 0 1079.9 256M636.2 316A255.9 255.9 0 0 0 1102.6 256M420.1 316A469.9 469.9 0 0 0 1114 256M579.4 316A360.7 360.7 0 0 0 1114 256M442.9 316A520.9 520.9 0 0 0 1125.4 256M624.9 316A1677 1677 0 0 0 1102.6 256M545.2 316A432.8 432.8 0 0 0 1114 256M454.2 316A383.4 383.4 0 0 0 1091.2 256M397.4 316A273.8 273.8 0 0 0 932 256M522.5 316A662.3 662.3 0 0 0 1102.6 256M624.9 316A541.8 541.8 0 0 0 977.5 256M613.5 316A406.6 406.6 0 0 0 1136.8 256M636.2 316A409.7 409.7 0 0 0 1159.5 256M545.2 316A284.3 284.3 0 0 0 1068.5 256M465.6 316A340.4 340.4 0 0 0 1068.5 256M647.6 316A485.9 485.9 0 0 0 1159.5 256M408.8 316A296.7 296.7 0 0 0 977.5 256M408.8 316A1186.7 1186.7 0 0 0 1125.4 256M647.6 316A759.2 759.2 0 0 0 954.8 256M477 316A370.8 370.8 0 0 0 1091.2 256M590.8 316A267.1 267.1 0 0 0 1079.9 256M636.2 316A244.1 244.1 0 0 0 1079.9 256M568 316A327.4 327.4 0 0 0 1102.6 256M647.6 316A420 420 0 0 0 1182.2 256M499.8 316A972.8 972.8 0 0 0 1102.6 256M602.1 316A240.7 240.7 0 0 0 1057.1 256M533.9 316A440.2 440.2 0 0 0 1114 256M431.5 316A804.3 804.3 0 0 0 1125.4 256M579.4 316A293.2 293.2 0 0 0 1091.2 256M613.5 316A229.3 229.3 0 0 0 1045.8 256M511.1 316A672.2 672.2 0 0 0 1102.6 256M408.8 316A268.2 268.2 0 0 0 932 256M511.1 316A274.5 274.5 0 0 0 1034.4 256M522.5 316A532.4 532.4 0 0 0 1114 256M624.9 316A843.2 843.2 0 0 0 1102.6 256M590.8 316A482.2 482.2 0 0 0 1114 256M613.5 316A631.1 631.1 0 0 0 1011.6 256M602.1 316A261.3 261.3 0 0 0 1079.9 256M420.1 316A671.4 671.4 0 0 0 1136.8 256M556.6 316A225.9 225.9 0 0 0 1000.2 256M556.6 316A278.5 278.5 0 0 0 1068.5 256M420.1 316A358 358 0 0 0 1057.1 256M477 316A307.1 307.1 0 0 0 1045.8 256M613.5 316A584.5 584.5 0 0 0 1102.6 256M659 316A1668.4 1668.4 0 0 0 1102.6 256M590.8 316A902.1 902.1 0 0 0 977.5 256M556.6 316A425.4 425.4 0 0 0 1114 256M613.5 316A287.8 287.8 0 0 0 1114 256M488.4 316A985.2 985.2 0 0 0 1102.6 256M499.8 316A358.2 358.2 0 0 0 1091.2 256M465.6 316A729.6 729.6 0 0 0 1114 256M613.5 316A716.6 716.6 0 0 0 943.4 256M511.1 316A540.8 540.8 0 0 0 1114 256M613.5 316A550.3 550.3 0 0 0 977.5 256M636.2 316A832.3 832.3 0 0 0 1102.6 256M499.8 316A462.5 462.5 0 0 0 1114 256M659 316A758.2 758.2 0 0 0 954.8 256"/>
<path stroke="#8fff00" d="M659 316A838.8 838.8 0 0 0 1114 256M454.2 316A268.4 268.4 0 0 0 977.5 256M454.2 316A602.2 602.2 0 0 0 1125.4 256M442.9 316A291.3 291.3 0 0 0 1000.2 256M636.2 316A250 250 0 0 0 1091.2 256M568 316A418.1 418.1 0 0 0 1114 256M522.5 316A1681.7 1681.7 0 0 0 1091.2 256M647.6 316A337.5 337.5 0 0 0 1193.6 256M499.8 316A549.2 549.2 0 0 0 1114 256M579.4 316A859.6 859.6 0 0 0 1091.2 256M511.1 316A455 455 0 0 0 1114 256M624.9 316A621.9 621.9 0 0 0 1011.6 256M522.5 316A447.6 447.6 0 0 0 1114 256M602.1 316A405 405 0 0 0 1125.4 256M568 316A871.1 871.1 0 0 0 1091.2 256M624.9 316A711.2 711.2 0 0 0 943.4 256M545.2 316A1656.9 1656.9 0 0 0 1091.2 256M454.2 316A739.7 739.7 0 0 0 1114 256M397.4 316A426.6 426.6 0 0 0 1091.2 256M386 316A437.1 437.1 0 0 0 1091.2 256M624.9 316A288.1 288.1 0 0 0 1125.4 256M590.8 316A848.2 848.2 0 0 0 1091.2 256M533.9 316A310.8 310.8 0 0 0 1079.9 256M636.2 316A612.9 612.9 0 0 0 1011.6 256M442.9 316A1867.9 1867.9 0 0 0 1102.6 256M636.2 316A238.2 238.2 0 0 0 1068.5 256M602.1 316A473.9 473.9 0 0 0 1114 256M579.4 316A321.1 321.1 0 0 0 1102.6 256M613.5 316A315.9 315.9 0 0 0 1125.4 256M556.6 316A882.7 882.7 0 0 0 1091.2 256M545.2 316A304.8 304.8 0 0 0 1079.9 256M511.1 316A393.4 393.4 0 0 0 1102.6 256M420.1 316A823.8 823.8 0 0 0 1125.4 256M488.4 316A364.5 364.5 0 0 0 1091.2 256M647.6 316A195.4 195.4 0 0 0 1011.6 256M590.8 316A246.3 246.3 0 0 0 1057.1 256M602.1 316A287.5 287.5 0 0 0 1102.6 256M545.2 316A894.5 894.5 0 0 0 1091.2 256M556.6 316A1645.4 1645.4 0 0 0 1091.2 256M590.8 316A354 354 0 0 0 1114 256M397.4 316A296.6 296.6 0 0 0 966.1 256M408.8 316A323.9 323.9 0 0 0 1011.6 256M636.2 316A581.6 581.6 0 0 0 1114 256M533.9 316A379.9 379.9 0 0 0 1102.6 256M408.8 316A688.3 688.3 0 0 0 1136.8 256M568 316A1634.6 1634.6 0 0 0 1091.2 256M647.6 316A588 588 0 0 0 1125.4 256M602.1 316A640.6 640.6 0 0 0 1011.6 256M397.4 316A363.6 363.6 0 0 0 1045.8 256M647.6 316A344.2 344.2 0 0 0 1205 256M522.5 316A345.6 345.6 0 0 0 1091.2 256M636.2 316A707.1 707.1 0 0 0 943.4 256M579.4 316A1624.5 1624.5 0 0 0 1091.2 256M499.8 316A1708.5 1708.5 0 0 0 1091.2 256M442.9 316A618.2 618.2 0 0 0 1125.4 256M522.5 316A237.1 237.1 0 0 0 988.9 256M522.5 316A289.9 289.9 0 0 0 1057.1 256M386 316A912.5 912.5 0 0 0 1136.8 256M647.6 316A301.1 301.1 0 0 0 1170.9 256M488.4 316A406.9 406.9 0 0 0 1102.6 256M465.6 316A1751.9 1751.9 0 0 0 1091.2 256M533.9 316A1669 1669 0 0 0 1091.2 256M647.6 316A604.2 604.2 0 0 0 1011.6 256M408.8 316A481.9 481.9 0 0 0 1114 256M602.1 316A837 837 0 0 0 1091.2 256M454.2 316A427.1 427.1 0 0 0 1102.6 256M647.6 316A373.4 373.4 0 0 0 1193.6 256M602.1 316A315.4 315.4 0 0 0 1114 256M408.8 316A290.9 290.9 0 0 0 966.1 256M397.4 316A1933.4 1933.4 0 0 0 1102.6 256M590.8 316A1615.3 1615.3 0 0 0 1091.2 256M511.1 316A295.7 295.7 0 0 0 1057.1 256M511.1 316A351.9 351.9 0 0 0 1091.2 256M386 316A363.2 363.2 0 0 0 1034.4 256M442.9 316A1075.8 1075.8 0 0 0 1114 256M579.4 316A410.7 410.7 0 0 0 1114 256M397.4 316A1209.9 1209.9 0 0 0 1125.4 256M499.8 316A682.1 682.1 0 0 0 1102.6 256M408.8 316A1916.6 1916.6 0 0 0 1102.6 256M431.5 316A534.6 534.6 0 0 0 1125.4 256M511.1 316A1694.9 1694.9 0 0 0 1091.2 256M477 316A1737.1 1737.1 0 0 0 1091.2 256M420.1 316A1900.1 1900.1 0 0 0 1102.6 256M522.5 316A251.6 251.6 0 0 0 1011.6 256M522.5 316A386.6 386.6 0 0 0 1102.6 256M568 316A251.9 251.9 0 0 0 1045.8 256M488.4 316A469.9 469.9 0 0 0 1114 256M477 316A997.7 997.7 0 0 0 1102.6 256M624.9 316A468.7 468.7 0 0 0 1125.4 256M647.6 316A704.3 704.3 0 0 0 943.4 256M408.8 316A357.6 357.6 0 0 0 1045.8 256M624.9 316A255.7 255.7 0 0 0 1091.2 256M636.2 316A323.6 323.6 0 0 0 1159.5 256M386 316A608.4 608.4 0 0 0 1136.8 256M522.5 316A918.3 918.3 0 0 0 1091.2 256M477 316A477.3 477.3 0 0 0 1114 256M488.4 316A1722.6 1722.6 0 0 0 1091.2 256M636.2 316A471.7 471.7 0 0 0 1136.8 256M499.8 316A400.1 400.1 0 0 0 1102.6 256M590.8 316A209.2 209.2 0 0 0 1000.2 256M397.4 316A494.1 494.1 0 0 0 1114 256M477 316A334.4 334.4 0 0 0 1068.5 256M602.1 316A559.1 559.1 0 0 0 977.5 256M602.1 316A1607.1 1607.1 0 0 0 1091.2 256M465.6 316A420.4 420.4 0 0 0 1102.6 256M465.6 316A248.2 248.2 0 0 0 954.8 256M533.9 316A906.3 906.3 0 0 0 1091.2 256M442.9 316A346 346 0 0 0 1057.1 256M465.6 316A285.7 285.7 0 0 0 1011.6 256M499.8 316A242.7 242.7 0 0 0 977.5 256M408.8 316A843.4 843.4 0 0 0 1125.4 256M590.8 316A1093.6 1093.6 0 0 0 1011.6 256M545.2 316A373.2 373.2 0 0 0 1102.6 256M420.1 316A1120.9 1120.9 0 0 0 1114 256M647.6 316A380.9 380.9 0 0 0 1205 256M579.4 316A596.8 596.8 0 0 0 1091.2 256M488.4 316A692.1 692.1 0 0 0 1102.6 256M579.4 316A229.2 229.2 0 0 0 1023 256M442.9 316A1782.5 1782.5 0 0 0 1091.2 256M556.6 316A366.5 366.5 0 0 0 1102.6 256M636.2 316A357.5 357.5 0 0 0 1159.5 256M488.4 316A328.4 328.4 0 0 0 1068.5 256M602.1 316A722.9 722.9 0 0 0 943.4 256M568 316A606.4 606.4 0 0 0 1091.2 256M647.6 316A821.7 821.7 0 0 0 1102.6 256M420.1 316A395.3 395.3 0 0 0 1079.9 256M488.4 316A557.7 557.7 0 0 0 1114 256M659 316A595.9 595.9 0 0 0 1011.6 256M431.5 316A1098.4 1098.4 0 0 0 1114 256M397.4 316A705.3 705.3 0 0 0 1136.8 256M624.9 316A316.4 316.4 0 0 0 1136.8 256M386 316A1233.1 1233.1 0 0 0 1125.4 256M590.8 316A314.8 314.8 0 0 0 1102.6 256M624.9 316A575 575 0 0 0 1102.6 256M465.6 316A1010.2 1010.2 0 0 0 1102.6 256M636.2 316A294.6 294.6 0 0 0 1148.1 256M386 316A506.4 506.4 0 0 0 1114 256M613.5 316A825.9 825.9 0 0 0 1091.2 256M522.5 316A268.8 268.8 0 0 0 1034.4 256M477 316A262.8 262.8 0 0 0 988.9 256M454.2 316A1767 1767 0 0 0 1091.2 256M408.8 316A1830.4 1830.4 0 0 0 1091.2 256M556.6 316A257.6 257.6 0 0 0 1045.8 256M420.1 316A548.5 548.5 0 0 0 1125.4 256M613.5 316A1599.9 1599.9 0 0 0 1091.2 256M659 316A703.3 703.3 0 0 0 943.4 256M613.5 316A348.3 348.3 0 0 0 1125.4 256M477 316A413.6 413.6 0 0 0 1102.6 256M545.2 316A333.1 333.1 0 0 0 1091.2 256M624.9 316A399.2 399.2 0 0 0 1136.8 256M431.5 316A318.3 318.3 0 0 0 1023 256M568 316A234.8 234.8 0 0 0 1023 256M590.8 316A587.2 587.2 0 0 0 1091.2 256M624.9 316A1594 1594 0 0 0 1091.2 256M533.9 316A339.3 339.3 0 0 0 1091.2 256M442.9 316A382.7 382.7 0 0 0 1079.9 256M499.8 316A274.4 274.4 0 0 0 1023 256M442.9 316A433.9 433.9 0 0 0 1102.6 256M613.5 316A206.9 206.9 0 0 0 1011.6 256M647.6 316A572.1 572.1 0 0 0 1114 256M442.9 316A268.3 268.3 0 0 0 966.1 256M556.6 316A616 616 0 0 0 1091.2 256M454.2 316A312.7 312.7 0 0 0 1034.4 256M488.4 316A280.1 280.1 0 0 0 1023 256M431.5 316A352 352 0 0 0 1057.1 256M477 316A566.2 566.2 0 0 0 1114 256M454.2 316A1022.8 1022.8 0 0 0 1102.6 256M545.2 316A625.7 625.7 0 0 0 1091.2 256M613.5 316A397.6 397.6 0 0 0 1125.4 256M499.8 316A295.5 295.5 0 0 0 1045.8 256M636.2 316A1589.5 1589.5 0 0 0 1091.2 256M659 316A578.5 578.5 0 0 0 1125.4 256M624.9 316A815 815 0 0 0 1091.2 256M397.4 316A290.8 290.8 0 0 0 954.8 256M659 316A148.5 148.5 0 0 0 943.4 256M590.8 316A403.3 403.3 0 0 0 1114 256M636.2 316A288.3 288.3 0 0 0 1136.8 256M647.6 316A276.1 276.1 0 0 0 1125.4 256M624.9 316A349.1 349.1 0 0 0 1136.8 256M624.9 316A223.7 223.7 0 0 0 1045.8 256M568 316A272.7 272.7 0 0 0 1068.5 256M386 316A1950.3 1950.3 0 0 0 1102.6 256M408.8 316A562.6 562.6 0 0 0 1125.4 256M431.5 316A445.1 445.1 0 0 0 1102.6 256M602.1 316A577.7 577.7 0 0 0 1091.2 256M624.9 316A281.8 281.8 0 0 0 1114 256M386 316A290.6 290.6 0 0 0 943.4 256M647.6 316A232.4 232.4 0 0 0 1068.5 256M499.8 316A1626.4 1626.4 0 0 0 1079.9 256M613.5 316A465.6 465.6 0 0 0 1114 256M602.1 316A234.9 234.9 0 0 0 1045.8 256M613.5 316A281.6 281.6 0 0 0 1102.6 256M613.5 316A663.7 663.7 0 0 0 932 256M556.6 316A298.8 298.8 0 0 0 1079.9 256M579.4 316A214.7 214.7 0 0 0 1000.2 256M442.9 316A758 758 0 0 0 1114 256M511.1 316A930.3 930.3 0 0 0 1091.2 256M397.4 316A323.6 323.6 0 0 0 1000.2 256M431.5 316A291.1 291.1 0 0 0 988.9 256M488.4 316A301.3 301.3 0 0 0 1045.8 256M477 316A1654.5 1654.5 0 0 0 1079.9 256M602.1 316A218.1 218.1 0 0 0 1023 256M533.9 316A263.2 263.2 0 0 0 1034.4 256M590.8 316A261.2 261.2 0 0 0 1068.5 256M568 316A359.8 359.8 0 0 0 1102.6 256M397.4 316A415.4 415.4 0 0 0 1079.9 256M590.8 316A287.2 287.2 0 0 0 1091.2 256M545.2 316A1575.5 1575.5 0 0 0 1079.9 256M579.4 316A267 267 0 0 0 1068.5 256M408.8 316A405.2 405.2 0 0 0 1079.9 256M465.6 316A484.8 484.8 0 0 0 1114 256M556.6 316A495.5 495.5 0 0 0 1102.6 256M624.9 316A658.4 658.4 0 0 0 932 256M647.6 316A294.8 294.8 0 0 0 1159.5 256M420.1 316A351.6 351.6 0 0 0 1045.8 256M568 316A292.9 292.9 0 0 0 1079.9 256M636.2 316A565.6 565.6 0 0 0 1102.6 256M522.5 316A1599.9 1599.9 0 0 0 1079.9 256M613.5 316A1147.1 1147.1 0 0 0 1023 256M511.1 316A251.6 251.6 0 0 0 1000.2 256M602.1 316A347.3 347.3 0 0 0 1114 256M454.2 316A492.3 492.3 0 0 0 1114 256M499.8 316A322.4 322.4 0 0 0 1068.5 256M499.8 316A942.5 942.5 0 0 0 1091.2 256M647.6 316A220.6 220.6 0 0 0 1045.8 256M511.1 316A1612.9 1612.9 0 0 0 1079.9 256M511.1 316A316.4 316.4 0 0 0 1068.5 256M568 316A487.2 487.2 0 0 0 1102.6 256M659 316A251.6 251.6 0 0 0 1091.2 256M431.5 316A389 389 0 0 0 1079.9 256M659 316A430.2 430.2 0 0 0 1205 256M431.5 316A634.4 634.4 0 0 0 1125.4 256M636.2 316A654.3 654.3 0 0 0 932 256M499.8 316A257.2 257.2 0 0 0 1000.2 256M647.6 316A1586.6 1586.6 0 0 0 1091.2 256M477 316A702.1 702.1 0 0 0 1102.6 256M533.9 316A231.5 231.5 0 0 0 988.9 256M602.1 316A1153.9 1153.9 0 0 0 1023 256M647.6 316A474.7 474.7 0 0 0 1148.1 256M533.9 316A635.4 635.4 0 0 0 1091.2 256M545.2 316A503.8 503.8 0 0 0 1102.6 256M647.6 316A226.5 226.5 0 0 0 1057.1 256M636.2 316A400.8 400.8 0 0 0 1148.1 256M647.6 316A411.1 411.1 0 0 0 1170.9 256M533.9 316A246 246 0 0 0 1011.6 256M579.4 316A478.9 478.9 0 0 0 1102.6 256M647.6 316A330.7 330.7 0 0 0 1182.2 256M624.9 316A249.8 249.8 0 0 0 1079.9 256M533.9 316A512.2 512.2 0 0 0 1102.6 256M533.9 316A1587.4 1587.4 0 0 0 1079.9 256M454.2 316A376.4 376.4 0 0 0 1079.9 256M659 316A295.1 295.1 0 0 0 1170.9 256M556.6 316A326.8 326.8 0 0 0 1091.2 256M522.5 316A645.2 645.2 0 0 0 1091.2 256M659 316A1585.5 1585.5 0 0 0 1091.2 256M397.4 316A357.2 357.2 0 0 0 1034.4 256M636.2 316A275.9 275.9 0 0 0 1114 256M568 316A1553.4 1553.4 0 0 0 1079.9 256M613.5 316A255.6 255.6 0 0 0 1079.9 256M442.9 316A1699.2 1699.2 0 0 0 1079.9 256M624.9 316A1141.4 1141.4 0 0 0 1023 256M579.4 316A353.1 353.1 0 0 0 1102.6 256M556.6 316A272.6 272.6 0 0 0 1057.1 256M431.5 316A777.1 777.1 0 0 0 1114 256M659 316A307.5 307.5 0 0 0 1193.6 256M636.2 316A282.1 282.1 0 0 0 1125.4 256M420.1 316A1814.2 1814.2 0 0 0 1091.2 256M556.6 316A1564.1 1564.1 0 0 0 1079.9 256M659 316A203.2 203.2 0 0 0 1023 256M533.9 316A284.1 284.1 0 0 0 1057.1 256M613.5 316A568.3 568.3 0 0 0 1091.2 256M636.2 316A804.4 804.4 0 0 0 1091.2 256M647.6 316A651.5 651.5 0 0 0 932 256M602.1 316A669.9 669.9 0 0 0 932 256M568 316A842 842 0 0 0 1079.9 256"/>
<path stroke="#9fff00" d="M636.2 316A175.9 175.9 0 0 0 977.5 256M659 316A488.6 488.6 0 0 0 1170.9 256M659 316A650.5 650.5 0 0 0 932 256M431.5 316A1798.2 1798.2 0 0 0 1091.2 256M465.6 316A712.1 712.1 0 0 0 1102.6 256M397.4 316A863.2 863.2 0 0 0 1125.4 256M454.2 316A340 340 0 0 0 1057.1 256M454.2 316A248.2 248.2 0 0 0 943.4 256M568 316A320.5 320.5 0 0 0 1091.2 256M545.2 316A864.9 864.9 0 0 0 1079.9 256M624.9 316A275.6 275.6 0 0 0 1102.6 256M613.5 316A309.1 309.1 0 0 0 1114 256M408.8 316A1143.4 1143.4 0 0 0 1114 256M602.1 316A281.3 281.3 0 0 0 1091.2 256M465.6 316A306.9 306.9 0 0 0 1034.4 256M420.1 316A318.1 318.1 0 0 0 1011.6 256M465.6 316A574.6 574.6 0 0 0 1114 256M386 316A425.8 425.8 0 0 0 1079.9 256M602.1 316A396 396 0 0 0 1114 256M579.4 316A830.6 830.6 0 0 0 1079.9 256M590.8 316A470.6 470.6 0 0 0 1102.6 256M647.6 316A214.8 214.8 0 0 0 1034.4 256M545.2 316A278.3 278.3 0 0 0 1057.1 256M590.8 316A819.5 819.5 0 0 0 1079.9 256M488.4 316A1640.3 1640.3 0 0 0 1079.9 256M590.8 316A240.6 240.6 0 0 0 1045.8 256M420.1 316A650.7 650.7 0 0 0 1125.4 256M579.4 316A1543.5 1543.5 0 0 0 1079.9 256M420.1 316A796.1 796.1 0 0 0 1114 256M556.6 316A853.4 853.4 0 0 0 1079.9 256M431.5 316A268.3 268.3 0 0 0 954.8 256M533.9 316A431 431 0 0 0 1102.6 256M386 316A722.3 722.3 0 0 0 1136.8 256M477 316A363.9 363.9 0 0 0 1079.9 256M420.1 316A456.8 456.8 0 0 0 1102.6 256M636.2 316A1137 1137 0 0 0 1023 256M647.6 316A365.9 365.9 0 0 0 1182.2 256M454.2 316A1684 1684 0 0 0 1079.9 256M590.8 316A1534.4 1534.4 0 0 0 1079.9 256M659 316A313.7 313.7 0 0 0 1205 256M659 316A257.8 257.8 0 0 0 1102.6 256M488.4 316A954.7 954.7 0 0 0 1091.2 256M659 316A288.8 288.8 0 0 0 1159.5 256M420.1 316A1730.4 1730.4 0 0 0 1079.9 256M477 316A280 280 0 0 0 1011.6 256M465.6 316A334 334 0 0 0 1057.1 256M454.2 316A583.1 583.1 0 0 0 1114 256M442.9 316A312.5 312.5 0 0 0 1023 256M431.5 316A1056.9 1056.9 0 0 0 1102.6 256M454.2 316A722.1 722.1 0 0 0 1102.6 256M556.6 316A416.3 416.3 0 0 0 1102.6 256M522.5 316A520.5 520.5 0 0 0 1102.6 256M579.4 316A314.3 314.3 0 0 0 1091.2 256M397.4 316A1166 1166 0 0 0 1114 256M624.9 316A243.9 243.9 0 0 0 1068.5 256M386 316A323.3 323.3 0 0 0 988.9 256M602.1 316A808.5 808.5 0 0 0 1079.9 256M511.1 316A528.9 528.9 0 0 0 1102.6 256M499.8 316A351.3 351.3 0 0 0 1079.9 256M659 316A811.2 811.2 0 0 0 1102.6 256M636.2 316A184.6 184.6 0 0 0 988.9 256M465.6 316A1669.1 1669.1 0 0 0 1079.9 256M545.2 316A423.6 423.6 0 0 0 1102.6 256M408.8 316A468.6 468.6 0 0 0 1102.6 256M545.2 316A240.4 240.4 0 0 0 1011.6 256M659 316A282.6 282.6 0 0 0 1148.1 256M442.9 316A1035.5 1035.5 0 0 0 1102.6 256M465.6 316A370.1 370.1 0 0 0 1079.9 256M602.1 316A1526.2 1526.2 0 0 0 1079.9 256M431.5 316A1714.6 1714.6 0 0 0 1079.9 256M624.9 316A201.3 201.3 0 0 0 1011.6 256M386 316A1863.5 1863.5 0 0 0 1091.2 256M602.1 316A308.6 308.6 0 0 0 1102.6 256M533.9 316A876.6 876.6 0 0 0 1079.9 256M659 316A493 493 0 0 0 966.1 256M477 316A967 967 0 0 0 1091.2 256M624.9 316A558.9 558.9 0 0 0 1091.2 256M624.9 316A309.6 309.6 0 0 0 1125.4 256M397.4 316A317.5 317.5 0 0 0 988.9 256M533.9 316A304.5 304.5 0 0 0 1068.5 256M522.5 316A888.4 888.4 0 0 0 1079.9 256M590.8 316A346.4 346.4 0 0 0 1102.6 256M454.2 316A285.6 285.6 0 0 0 1000.2 256M511.1 316A445.8 445.8 0 0 0 1102.6 256M397.4 316A576.9 576.9 0 0 0 1125.4 256M386 316A883.1 883.1 0 0 0 1125.4 256M420.1 316A291 291 0 0 0 977.5 256M397.4 316A480.5 480.5 0 0 0 1102.6 256M659 316A197.4 197.4 0 0 0 1011.6 256M397.4 316A1846.9 1846.9 0 0 0 1091.2 256M442.9 316A505.3 505.3 0 0 0 1114 256M511.1 316A655 655 0 0 0 1091.2 256M579.4 316A246.2 246.2 0 0 0 1045.8 256M568 316A220.3 220.3 0 0 0 1000.2 256M386 316A1188.7 1188.7 0 0 0 1114 256M647.6 316A1134.1 1134.1 0 0 0 1023 256M647.6 316A500.1 500.1 0 0 0 966.1 256M579.4 316A972.1 972.1 0 0 0 988.9 256M590.8 316A622.7 622.7 0 0 0 1000.2 256M386 316A1778.8 1778.8 0 0 0 1079.9 256M613.5 316A1519.1 1519.1 0 0 0 1079.9 256M636.2 316A350 350 0 0 0 1148.1 256M613.5 316A797.6 797.6 0 0 0 1079.9 256M408.8 316A667.1 667.1 0 0 0 1125.4 256M659 316A301.3 301.3 0 0 0 1182.2 256M522.5 316A438.4 438.4 0 0 0 1102.6 256M488.4 316A357.6 357.6 0 0 0 1079.9 256M636.2 316A316.8 316.8 0 0 0 1148.1 256M602.1 316A462.4 462.4 0 0 0 1102.6 256M522.5 316A310.5 310.5 0 0 0 1068.5 256M465.6 316A979.3 979.3 0 0 0 1091.2 256M568 316A408.9 408.9 0 0 0 1102.6 256M590.8 316A842.6 842.6 0 0 0 966.1 256M647.6 316A282.4 282.4 0 0 0 1136.8 256M465.6 316A279.9 279.9 0 0 0 1000.2 256M522.5 316A338.7 338.7 0 0 0 1079.9 256M647.6 316A288.6 288.6 0 0 0 1148.1 256M647.6 316A189.7 189.7 0 0 0 1000.2 256M488.4 316A242.7 242.7 0 0 0 966.1 256M465.6 316A262.8 262.8 0 0 0 977.5 256M511.1 316A289.7 289.7 0 0 0 1045.8 256M636.2 316A507.7 507.7 0 0 0 966.1 256M624.9 316A218 218 0 0 0 1034.4 256M636.2 316A460.5 460.5 0 0 0 1125.4 256M613.5 316A658.4 658.4 0 0 0 1023 256M624.9 316A1513.2 1513.2 0 0 0 1079.9 256M613.5 316A275.3 275.3 0 0 0 1091.2 256M499.8 316A664.8 664.8 0 0 0 1091.2 256M624.9 316A457.4 457.4 0 0 0 1114 256M454.2 316A1603.1 1603.1 0 0 0 1068.5 256M431.5 316A518.8 518.8 0 0 0 1114 256M431.5 316A285.3 285.3 0 0 0 977.5 256M590.8 316A595.3 595.3 0 0 0 988.9 256M386 316A591.3 591.3 0 0 0 1125.4 256M477 316A328 328 0 0 0 1057.1 256M431.5 316A345.6 345.6 0 0 0 1045.8 256M442.9 316A248.2 248.2 0 0 0 932 256M659 316A1133.1 1133.1 0 0 0 1023 256M579.4 316A286.9 286.9 0 0 0 1079.9 256M488.4 316A1560 1560 0 0 0 1068.5 256M511.1 316A1533.1 1533.1 0 0 0 1068.5 256M602.1 316A203.6 203.6 0 0 0 1000.2 256M624.9 316A649 649 0 0 0 1023 256M579.4 316A401.6 401.6 0 0 0 1102.6 256M420.1 316A268.3 268.3 0 0 0 943.4 256M545.2 316A225.9 225.9 0 0 0 988.9 256M488.4 316A322.1 322.1 0 0 0 1057.1 256M568 316A589.7 589.7 0 0 0 1079.9 256M511.1 316A237.1 237.1 0 0 0 977.5 256M624.9 316A515.6 515.6 0 0 0 966.1 256M511.1 316A900.2 900.2 0 0 0 1079.9 256M647.6 316A793.9 793.9 0 0 0 1091.2 256M590.8 316A223.6 223.6 0 0 0 1023 256M647.6 316A556.2 556.2 0 0 0 1102.6 256M522.5 316A283.9 283.9 0 0 0 1045.8 256M511.1 316A345 345 0 0 0 1079.9 256M386 316A317.3 317.3 0 0 0 977.5 256M522.5 316A378.9 378.9 0 0 0 1091.2 256M465.6 316A412.5 412.5 0 0 0 1091.2 256M613.5 316A340.6 340.6 0 0 0 1114 256M579.4 316A1036 1036 0 0 0 1000.2 256M590.8 316A650.3 650.3 0 0 0 1011.6 256M499.8 316A912.2 912.2 0 0 0 1079.9 256M556.6 316A251.8 251.8 0 0 0 1034.4 256M624.9 316A787 787 0 0 0 1079.9 256M488.4 316A460.6 460.6 0 0 0 1102.6 256M499.8 316A453.2 453.2 0 0 0 1102.6 256M602.1 316A668.1 668.1 0 0 0 1023 256M488.4 316A274.3 274.3 0 0 0 1011.6 256M659 316A562.7 562.7 0 0 0 1114 256M499.8 316A537.3 537.3 0 0 0 1102.6 256M579.4 316A580.2 580.2 0 0 0 1079.9 256M499.8 316A392.3 392.3 0 0 0 1091.2 256M590.8 316A570.7 570.7 0 0 0 1079.9 256M511.1 316A268.7 268.7 0 0 0 1023 256M533.9 316A1508 1508 0 0 0 1068.5 256M420.1 316A532.4 532.4 0 0 0 1114 256M556.6 316A1485 1485 0 0 0 1068.5 256M397.4 316A404.4 404.4 0 0 0 1068.5 256M636.2 316A1508.7 1508.7 0 0 0 1079.9 256M590.8 316A1161.7 1161.7 0 0 0 1023 256M613.5 316A192.5 192.5 0 0 0 988.9 256M545.2 316A365.5 365.5 0 0 0 1091.2 256M545.2 316A608.8 608.8 0 0 0 1079.9 256M636.2 316A639.7 639.7 0 0 0 1023 256M590.8 316A281 281 0 0 0 1079.9 256M386 316A356.7 356.7 0 0 0 1023 256M613.5 316A249.7 249.7 0 0 0 1068.5 256M624.9 316A341.5 341.5 0 0 0 1125.4 256M522.5 316A1520.3 1520.3 0 0 0 1068.5 256M556.6 316A599.2 599.2 0 0 0 1079.9 256M602.1 316A255.4 255.4 0 0 0 1068.5 256M545.2 316A326.2 326.2 0 0 0 1079.9 256M431.5 316A262.6 262.6 0 0 0 943.4 256M624.9 316A390.3 390.3 0 0 0 1125.4 256M408.8 316A394.6 394.6 0 0 0 1068.5 256M488.4 316A545.7 545.7 0 0 0 1102.6 256M408.8 316A351.2 351.2 0 0 0 1034.4 256M613.5 316A523.9 523.9 0 0 0 966.1 256M602.1 316A229.2 229.2 0 0 0 1034.4 256M624.9 316A238 238 0 0 0 1057.1 256M579.4 316A1102.1 1102.1 0 0 0 1011.6 256M579.4 316A261 261 0 0 0 1057.1 256M545.2 316A257.5 257.5 0 0 0 1034.4 256M477 316A405.8 405.8 0 0 0 1091.2 256M602.1 316A561.3 561.3 0 0 0 1079.9 256M545.2 316A1496.2 1496.2 0 0 0 1068.5 256M442.9 316A598.4 598.4 0 0 0 1114 256M533.9 316A332.5 332.5 0 0 0 1079.9 256M511.1 316A385.6 385.6 0 0 0 1091.2 256M533.9 316A372.2 372.2 0 0 0 1091.2 256M442.9 316A426 426 0 0 0 1091.2 256M647.6 316A324 324 0 0 0 1170.9 256M647.6 316A1505.8 1505.8 0 0 0 1079.9 256M613.5 316A388.7 388.7 0 0 0 1114 256M590.8 316A394.3 394.3 0 0 0 1102.6 256M442.9 316A732.2 732.2 0 0 0 1102.6 256M420.1 316A388.3 388.3 0 0 0 1068.5 256M488.4 316A295.3 295.3 0 0 0 1034.4 256M454.2 316A991.7 991.7 0 0 0 1091.2 256M636.2 316A549.6 549.6 0 0 0 1091.2 256M568 316A266.8 266.8 0 0 0 1057.1 256M408.8 316A815.3 815.3 0 0 0 1114 256M408.8 316A317.8 317.8 0 0 0 1000.2 256M431.5 316A1633.2 1633.2 0 0 0 1068.5 256M659 316A421.4 421.4 0 0 0 1193.6 256M488.4 316A674.7 674.7 0 0 0 1091.2 256M613.5 316A454.2 454.2 0 0 0 1102.6 256M647.6 316A173.6 173.6 0 0 0 977.5 256M431.5 316A382 382 0 0 0 1068.5 256M420.1 316A262.6 262.6 0 0 0 932 256M420.1 316A1078.9 1078.9 0 0 0 1102.6 256M545.2 316A298.5 298.5 0 0 0 1068.5 256M397.4 316A1762.4 1762.4 0 0 0 1079.9 256M647.6 316A463.4 463.4 0 0 0 1136.8 256M465.6 316A1588.4 1588.4 0 0 0 1068.5 256M499.8 316A1546.4 1546.4 0 0 0 1068.5 256M579.4 316A1464.6 1464.6 0 0 0 1068.5 256M568 316A1474.4 1474.4 0 0 0 1068.5 256M556.6 316A292.5 292.5 0 0 0 1068.5 256M590.8 316A308 308 0 0 0 1091.2 256M488.4 316A399 399 0 0 0 1091.2 256M602.1 316A339.7 339.7 0 0 0 1102.6 256M477 316A301.1 301.1 0 0 0 1034.4 256M386 316A414.6 414.6 0 0 0 1068.5 256M556.6 316A358.8 358.8 0 0 0 1091.2 256M386 316A492.7 492.7 0 0 0 1102.6 256M408.8 316A1100.9 1100.9 0 0 0 1102.6 256M442.9 316A1004.2 1004.2 0 0 0 1091.2 256M408.8 316A1746.3 1746.3 0 0 0 1079.9 256M602.1 316A275 275 0 0 0 1079.9 256M647.6 316A630.8 630.8 0 0 0 1023 256M454.2 316A419.2 419.2 0 0 0 1091.2 256M556.6 316A234.8 234.8 0 0 0 1011.6 256M431.5 316A750.2 750.2 0 0 0 1102.6 256M442.9 316A1618 1618 0 0 0 1068.5 256M397.4 316A1680.1 1680.1 0 0 0 1068.5 256M613.5 316A302.3 302.3 0 0 0 1102.6 256M499.8 316A251.6 251.6 0 0 0 988.9 256M488.4 316A257.2 257.2 0 0 0 988.9 256M590.8 316A1455.5 1455.5 0 0 0 1068.5 256M420.1 316A285.2 285.2 0 0 0 966.1 256M477 316A1574.1 1574.1 0 0 0 1068.5 256M477 316A468 468 0 0 0 1102.6 256M568 316A352.1 352.1 0 0 0 1091.2 256M613.5 316A552 552 0 0 0 1079.9 256M533.9 316A618.4 618.4 0 0 0 1079.9 256M647.6 316A358.3 358.3 0 0 0 1170.9 256M477 316A684.6 684.6 0 0 0 1091.2 256M659 316A477.5 477.5 0 0 0 1159.5 256"/>
<path stroke="#afff00" d="M556.6 316A824.2 824.2 0 0 0 1068.5 256M579.4 316A801.9 801.9 0 0 0 1068.5 256M465.6 316A475.4 475.4 0 0 0 1102.6 256M420.1 316A312 312 0 0 0 1000.2 256M454.2 316A482.8 482.8 0 0 0 1102.6 256M636.2 316A776.6 776.6 0 0 0 1079.9 256M397.4 316A683.8 683.8 0 0 0 1125.4 256M659 316A1504.7 1504.7 0 0 0 1079.9 256M431.5 316A614.3 614.3 0 0 0 1114 256M522.5 316A263.1 263.1 0 0 0 1023 256M477 316A936.3 936.3 0 0 0 1079.9 256M431.5 316A432.8 432.8 0 0 0 1091.2 256M590.8 316A790.9 790.9 0 0 0 1068.5 256M465.6 316A300.9 300.9 0 0 0 1023 256M522.5 316A628.1 628.1 0 0 0 1079.9 256M397.4 316A1122.9 1122.9 0 0 0 1102.6 256M636.2 316A310.1 310.1 0 0 0 1136.8 256M624.9 316A302.8 302.8 0 0 0 1114 256M420.1 316A443.9 443.9 0 0 0 1091.2 256M408.8 316A1664.2 1664.2 0 0 0 1068.5 256M397.4 316A834.6 834.6 0 0 0 1114 256M488.4 316A924.2 924.2 0 0 0 1079.9 256M568 316A229.2 229.2 0 0 0 1011.6 256M442.9 316A285.5 285.5 0 0 0 988.9 256M568 316A813 813 0 0 0 1068.5 256M568 316A475.5 475.5 0 0 0 1091.2 256M579.4 316A467.3 467.3 0 0 0 1091.2 256M602.1 316A1447.4 1447.4 0 0 0 1068.5 256M647.6 316A184.1 184.1 0 0 0 988.9 256M579.4 316A345.4 345.4 0 0 0 1091.2 256M465.6 316A694.5 694.5 0 0 0 1091.2 256M533.9 316A278.2 278.2 0 0 0 1045.8 256M624.9 316A212.3 212.3 0 0 0 1023 256M636.2 316A391.9 391.9 0 0 0 1136.8 256M431.5 316A312.3 312.3 0 0 0 1011.6 256M556.6 316A319.9 319.9 0 0 0 1079.9 256M488.4 316A1481.9 1481.9 0 0 0 1057.1 256M499.8 316A316.1 316.1 0 0 0 1057.1 256M602.1 316A212.5 212.5 0 0 0 1011.6 256M454.2 316A306.7 306.7 0 0 0 1023 256M602.1 316A780.1 780.1 0 0 0 1068.5 256M659 316A783.8 783.8 0 0 0 1091.2 256M545.2 316A492 492 0 0 0 1091.2 256M522.5 316A231.5 231.5 0 0 0 977.5 256M477 316A554.1 554.1 0 0 0 1102.6 256M556.6 316A483.8 483.8 0 0 0 1091.2 256M522.5 316A246 246 0 0 0 1000.2 256M568 316A313.7 313.7 0 0 0 1079.9 256M442.9 316A339.6 339.6 0 0 0 1045.8 256M533.9 316A847 847 0 0 0 1068.5 256M465.6 316A1509.8 1509.8 0 0 0 1057.1 256M659 316A191.5 191.5 0 0 0 1000.2 256M590.8 316A234.9 234.9 0 0 0 1034.4 256M545.2 316A272.4 272.4 0 0 0 1045.8 256M408.8 316A546.2 546.2 0 0 0 1114 256M613.5 316A1440.4 1440.4 0 0 0 1068.5 256M545.2 316A835.6 835.6 0 0 0 1068.5 256M454.2 316A262.7 262.7 0 0 0 966.1 256M420.1 316A630.3 630.3 0 0 0 1114 256M454.2 316A369.5 369.5 0 0 0 1068.5 256M454.2 316A279.8 279.8 0 0 0 988.9 256M659 316A622.2 622.2 0 0 0 1023 256M602.1 316A387 387 0 0 0 1102.6 256M465.6 316A562.5 562.5 0 0 0 1102.6 256M442.9 316A375.8 375.8 0 0 0 1068.5 256M636.2 316A170.4 170.4 0 0 0 966.1 256M602.1 316A301.8 301.8 0 0 0 1091.2 256M386 316A350.3 350.3 0 0 0 1011.6 256M408.8 316A455.6 455.6 0 0 0 1091.2 256M386 316A700.6 700.6 0 0 0 1125.4 256M408.8 316A285.1 285.1 0 0 0 954.8 256M590.8 316A459.1 459.1 0 0 0 1091.2 256M579.4 316A1170.3 1170.3 0 0 0 1023 256M477 316A242.7 242.7 0 0 0 954.8 256M613.5 316A769.5 769.5 0 0 0 1068.5 256M499.8 316A1468.5 1468.5 0 0 0 1057.1 256M386 316A854.1 854.1 0 0 0 1114 256M386 316A403.7 403.7 0 0 0 1057.1 256M624.9 316A542.8 542.8 0 0 0 1079.9 256M590.8 316A785.2 785.2 0 0 0 954.8 256M647.6 316A402.3 402.3 0 0 0 1159.5 256M522.5 316A1442.8 1442.8 0 0 0 1057.1 256M386 316A284.8 284.8 0 0 0 932 256M613.5 316A243.7 243.7 0 0 0 1057.1 256M545.2 316A1419 1419 0 0 0 1057.1 256M556.6 316A1407.9 1407.9 0 0 0 1057.1 256M442.9 316A306.5 306.5 0 0 0 1011.6 256M624.9 316A1434.5 1434.5 0 0 0 1068.5 256M579.4 316A240.5 240.5 0 0 0 1034.4 256M397.4 316A560.2 560.2 0 0 0 1114 256M454.2 316A571 571 0 0 0 1102.6 256M465.6 316A363.2 363.2 0 0 0 1068.5 256M636.2 316A342.4 342.4 0 0 0 1136.8 256M511.1 316A637.8 637.8 0 0 0 1079.9 256M533.9 316A500.3 500.3 0 0 0 1091.2 256M397.4 316A284.9 284.9 0 0 0 943.4 256M522.5 316A508.6 508.6 0 0 0 1091.2 256M522.5 316A858.6 858.6 0 0 0 1068.5 256M442.9 316A490.3 490.3 0 0 0 1102.6 256M602.1 316A532.4 532.4 0 0 0 966.1 256M397.4 316A393.9 393.9 0 0 0 1057.1 256M511.1 316A870.3 870.3 0 0 0 1068.5 256M454.2 316A333.6 333.6 0 0 0 1045.8 256M659 316A264 264 0 0 0 1114 256M511.1 316A1455.5 1455.5 0 0 0 1057.1 256M647.6 316A766.4 766.4 0 0 0 1079.9 256M408.8 316A344.8 344.8 0 0 0 1023 256M499.8 316A647.5 647.5 0 0 0 1079.9 256M568 316A286.6 286.6 0 0 0 1068.5 256M590.8 316A678.1 678.1 0 0 0 1023 256M545.2 316A414.4 414.4 0 0 0 1091.2 256M442.9 316A1538.9 1538.9 0 0 0 1057.1 256M420.1 316A345.2 345.2 0 0 0 1034.4 256M408.8 316A311.7 311.7 0 0 0 988.9 256M613.5 316A223.6 223.6 0 0 0 1034.4 256M636.2 316A1430 1430 0 0 0 1068.5 256M386 316A574.4 574.4 0 0 0 1114 256M602.1 316A450.9 450.9 0 0 0 1091.2 256M533.9 316A1430.7 1430.7 0 0 0 1057.1 256M522.5 316A304.1 304.1 0 0 0 1057.1 256M568 316A1397.5 1397.5 0 0 0 1057.1 256M408.8 316A1059.2 1059.2 0 0 0 1091.2 256M408.8 316A1584.3 1584.3 0 0 0 1057.1 256M420.1 316A1648.6 1648.6 0 0 0 1068.5 256M624.9 316A759.1 759.1 0 0 0 1068.5 256M579.4 316A910.3 910.3 0 0 0 977.5 256M465.6 316A948.5 948.5 0 0 0 1079.9 256M386 316A1145 1145 0 0 0 1102.6 256M624.9 316A446 446 0 0 0 1102.6 256M636.2 316A449.2 449.2 0 0 0 1114 256M647.6 316A1427.1 1427.1 0 0 0 1068.5 256M397.4 316A350.7 350.7 0 0 0 1023 256M568 316A246.2 246.2 0 0 0 1034.4 256M431.5 316A503.2 503.2 0 0 0 1102.6 256M465.6 316A257.1 257.1 0 0 0 966.1 256M579.4 316A280.6 280.6 0 0 0 1068.5 256M613.5 316A333 333 0 0 0 1102.6 256M431.5 316A1016.7 1016.7 0 0 0 1091.2 256M636.2 316A269.6 269.6 0 0 0 1102.6 256M522.5 316A429.1 429.1 0 0 0 1091.2 256M602.1 316A249.5 249.5 0 0 0 1057.1 256M477 316A1495.7 1495.7 0 0 0 1057.1 256M624.9 316A269.4 269.4 0 0 0 1091.2 256M647.6 316A257.5 257.5 0 0 0 1091.2 256M590.8 316A338.7 338.7 0 0 0 1091.2 256M420.1 316A769 769 0 0 0 1102.6 256M624.9 316A334 334 0 0 0 1114 256M568 316A214.7 214.7 0 0 0 988.9 256M568 316A399.8 399.8 0 0 0 1091.2 256M477 316A274.2 274.2 0 0 0 1000.2 256M636.2 316A303.3 303.3 0 0 0 1125.4 256M556.6 316A407.1 407.1 0 0 0 1091.2 256M454.2 316A704.4 704.4 0 0 0 1091.2 256M408.8 316A387.6 387.6 0 0 0 1057.1 256M579.4 316A1387.8 1387.8 0 0 0 1057.1 256M499.8 316A289.5 289.5 0 0 0 1034.4 256M454.2 316A1524.2 1524.2 0 0 0 1057.1 256M590.8 316A255.2 255.2 0 0 0 1057.1 256M636.2 316A232.3 232.3 0 0 0 1057.1 256M420.1 316A1037.7 1037.7 0 0 0 1091.2 256M454.2 316A960.7 960.7 0 0 0 1079.9 256M488.4 316A350.6 350.6 0 0 0 1068.5 256M647.6 316A540.3 540.3 0 0 0 1091.2 256M602.1 316A1224.1 1224.1 0 0 0 1034.4 256M659 316A1426.1 1426.1 0 0 0 1068.5 256M579.4 316A209.2 209.2 0 0 0 988.9 256M590.8 316A218 218 0 0 0 1011.6 256M533.9 316A421.8 421.8 0 0 0 1091.2 256M590.8 316A274.7 274.7 0 0 0 1068.5 256M624.9 316A296.1 296.1 0 0 0 1102.6 256M465.6 316A327.7 327.7 0 0 0 1045.8 256M511.1 316A310.1 310.1 0 0 0 1057.1 256M579.4 316A392.5 392.5 0 0 0 1091.2 256M420.1 316A1568.9 1568.9 0 0 0 1057.1 256M590.8 316A554.3 554.3 0 0 0 1068.5 256M659 316A270.2 270.2 0 0 0 1125.4 256M579.4 316A563.6 563.6 0 0 0 1068.5 256M397.4 316A467.3 467.3 0 0 0 1091.2 256M533.9 316A240.4 240.4 0 0 0 1000.2 256M647.6 316A251.3 251.3 0 0 0 1079.9 256M579.4 316A307.5 307.5 0 0 0 1079.9 256M624.9 316A381.4 381.4 0 0 0 1114 256M442.9 316A973 973 0 0 0 1079.9 256M477 316A356.9 356.9 0 0 0 1068.5 256M647.6 316A317.3 317.3 0 0 0 1159.5 256M602.1 316A198 198 0 0 0 988.9 256M499.8 316A268.6 268.6 0 0 0 1011.6 256M659 316A546.9 546.9 0 0 0 1102.6 256M659 316A412.5 412.5 0 0 0 1182.2 256M511.1 316A338.1 338.1 0 0 0 1068.5 256M647.6 316A269.9 269.9 0 0 0 1114 256M386 316A479.1 479.1 0 0 0 1091.2 256M556.6 316A582.4 582.4 0 0 0 1068.5 256M511.1 316A516.9 516.9 0 0 0 1091.2 256M442.9 316A714.4 714.4 0 0 0 1091.2 256M386 316A1696.1 1696.1 0 0 0 1068.5 256M590.8 316A1378.9 1378.9 0 0 0 1057.1 256M522.5 316A371.1 371.1 0 0 0 1079.9 256M522.5 316A1367.5 1367.5 0 0 0 1045.8 256M488.4 316A893.9 893.9 0 0 0 1068.5 256M499.8 316A237.1 237.1 0 0 0 966.1 256M659 316A467.9 467.9 0 0 0 954.8 256M613.5 316A295.5 295.5 0 0 0 1091.2 256M431.5 316A1553.8 1553.8 0 0 0 1057.1 256M568 316A573 573 0 0 0 1068.5 256M590.8 316A568.1 568.1 0 0 0 977.5 256M624.9 316A195.7 195.7 0 0 0 1000.2 256M408.8 316A787.7 787.7 0 0 0 1102.6 256M477 316A321.7 321.7 0 0 0 1045.8 256M602.1 316A545 545 0 0 0 1068.5 256M613.5 316A1217.2 1217.2 0 0 0 1034.4 256M499.8 316A443.8 443.8 0 0 0 1091.2 256M556.6 316A795.1 795.1 0 0 0 1057.1 256M499.8 316A384.5 384.5 0 0 0 1079.9 256M613.5 316A379.7 379.7 0 0 0 1102.6 256M499.8 316A525.3 525.3 0 0 0 1091.2 256M511.1 316A436.5 436.5 0 0 0 1091.2 256M499.8 316A882 882 0 0 0 1068.5 256M636.2 316A533.6 533.6 0 0 0 1079.9 256M408.8 316A646.4 646.4 0 0 0 1114 256M442.9 316A262.7 262.7 0 0 0 954.8 256M499.8 316A344.4 344.4 0 0 0 1068.5 256M579.4 316A773.2 773.2 0 0 0 1057.1 256M511.1 316A283.7 283.7 0 0 0 1034.4 256M442.9 316A418.1 418.1 0 0 0 1079.9 256M545.2 316A357.7 357.7 0 0 0 1079.9 256M602.1 316A1370.8 1370.8 0 0 0 1057.1 256M568 316A260.8 260.8 0 0 0 1045.8 256M636.2 316A748.9 748.9 0 0 0 1068.5 256M454.2 316A1447.5 1447.5 0 0 0 1045.8 256M499.8 316A1392.7 1392.7 0 0 0 1045.8 256M613.5 316A269.1 269.1 0 0 0 1079.9 256M659 316A466.3 466.3 0 0 0 1148.1 256M545.2 316A251.7 251.7 0 0 0 1023 256M431.5 316A306.2 306.2 0 0 0 1000.2 256M477 316A1419.5 1419.5 0 0 0 1045.8 256M442.9 316A579.4 579.4 0 0 0 1102.6 256M590.8 316A1231.9 1231.9 0 0 0 1034.4 256M568 316A784.1 784.1 0 0 0 1057.1 256M590.8 316A301.2 301.2 0 0 0 1079.9 256M431.5 316A339.2 339.2 0 0 0 1034.4 256M647.6 316A263.7 263.7 0 0 0 1102.6 256M442.9 316A279.7 279.7 0 0 0 977.5 256M613.5 316A442.8 442.8 0 0 0 1091.2 256M659 316A276.4 276.4 0 0 0 1136.8 256M647.6 316A474.7 474.7 0 0 0 954.8 256M477 316A295.1 295.1 0 0 0 1023 256M568 316A1111.4 1111.4 0 0 0 1011.6 256M477 316A257.1 257.1 0 0 0 977.5 256M488.4 316A657.3 657.3 0 0 0 1079.9 256M533.9 316A325.6 325.6 0 0 0 1068.5 256M397.4 316A311.5 311.5 0 0 0 977.5 256M602.1 316A332.1 332.1 0 0 0 1091.2 256M590.8 316A762.5 762.5 0 0 0 1057.1 256"/>
<path stroke="#bfff00" d="M659 316A220.6 220.6 0 0 0 1034.4 256M477 316A667.1 667.1 0 0 0 1079.9 256M624.9 316A1211.4 1211.4 0 0 0 1034.4 256M556.6 316A286.2 286.2 0 0 0 1057.1 256M613.5 316A1363.8 1363.8 0 0 0 1057.1 256M556.6 316A266.6 266.6 0 0 0 1045.8 256M556.6 316A246.1 246.1 0 0 0 1023 256M545.2 316A1344 1344 0 0 0 1045.8 256M533.9 316A364.4 364.4 0 0 0 1079.9 256M659 316A233 233 0 0 0 1057.1 256M545.2 316A806.3 806.3 0 0 0 1057.1 256M613.5 316A535.8 535.8 0 0 0 1068.5 256M488.4 316A251.5 251.5 0 0 0 977.5 256M477 316A397.9 397.9 0 0 0 1079.9 256M465.6 316A242.7 242.7 0 0 0 943.4 256M636.2 316A296.6 296.6 0 0 0 1114 256M545.2 316A591.9 591.9 0 0 0 1068.5 256M659 316A226.8 226.8 0 0 0 1045.8 256M590.8 316A385.2 385.2 0 0 0 1091.2 256M397.4 316A806.6 806.6 0 0 0 1102.6 256M533.9 316A257.4 257.4 0 0 0 1023 256M556.6 316A220.3 220.3 0 0 0 988.9 256M602.1 316A751.9 751.9 0 0 0 1057.1 256M511.1 316A377.8 377.8 0 0 0 1079.9 256M579.4 316A660.2 660.2 0 0 0 1011.6 256M636.2 316A263.4 263.4 0 0 0 1091.2 256M647.6 316A452.2 452.2 0 0 0 1125.4 256M636.2 316A383 383 0 0 0 1125.4 256M454.2 316A300.7 300.7 0 0 0 1011.6 256M659 316A455.2 455.2 0 0 0 1136.8 256M636.2 316A226.4 226.4 0 0 0 1045.8 256M420.1 316A431.6 431.6 0 0 0 1079.9 256M533.9 316A225.9 225.9 0 0 0 977.5 256M454.2 316A411.3 411.3 0 0 0 1079.9 256M533.9 316A601.4 601.4 0 0 0 1068.5 256M511.1 316A1379.9 1379.9 0 0 0 1045.8 256M488.4 316A1405.9 1405.9 0 0 0 1045.8 256M636.2 316A482 482 0 0 0 954.8 256M659 316A374.1 374.1 0 0 0 1205 256M431.5 316A594.5 594.5 0 0 0 1102.6 256M420.1 316A516.6 516.6 0 0 0 1102.6 256M647.6 316A350.8 350.8 0 0 0 1159.5 256M420.1 316A381.3 381.3 0 0 0 1057.1 256M533.9 316A298.2 298.2 0 0 0 1057.1 256M590.8 316A730 730 0 0 0 943.4 256M602.1 316A695.9 695.9 0 0 0 1034.4 256M397.4 316A662.7 662.7 0 0 0 1114 256M488.4 316A391.2 391.2 0 0 0 1079.9 256M442.9 316A333.2 333.2 0 0 0 1034.4 256M545.2 316A292.2 292.2 0 0 0 1057.1 256M659 316A172.9 172.9 0 0 0 977.5 256M522.5 316A331.8 331.8 0 0 0 1068.5 256M613.5 316A237.8 237.8 0 0 0 1045.8 256M568 316A344.4 344.4 0 0 0 1079.9 256M659 316A756.4 756.4 0 0 0 1079.9 256M636.2 316A334.9 334.9 0 0 0 1125.4 256M556.6 316A351 351 0 0 0 1079.9 256M420.1 316A1491.3 1491.3 0 0 0 1045.8 256M636.2 316A437.9 437.9 0 0 0 1102.6 256M454.2 316A257.1 257.1 0 0 0 954.8 256M386 316A393.1 393.1 0 0 0 1045.8 256M647.6 316A393.4 393.4 0 0 0 1148.1 256M647.6 316A738.9 738.9 0 0 0 1068.5 256M624.9 316A1358 1358 0 0 0 1057.1 256M465.6 316A466 466 0 0 0 1091.2 256M613.5 316A741.5 741.5 0 0 0 1057.1 256M636.2 316A1207 1207 0 0 0 1034.4 256M477 316A458.6 458.6 0 0 0 1091.2 256M488.4 316A451.2 451.2 0 0 0 1091.2 256M533.9 316A1355.5 1355.5 0 0 0 1045.8 256M579.4 316A688.2 688.2 0 0 0 1023 256M659 316A337.9 337.9 0 0 0 1205 256M556.6 316A1333.1 1333.1 0 0 0 1045.8 256M397.4 316A344.3 344.3 0 0 0 1011.6 256M386 316A1537 1537 0 0 0 1045.8 256M579.4 316A1240.7 1240.7 0 0 0 1034.4 256M386 316A1615.5 1615.5 0 0 0 1057.1 256M431.5 316A985.4 985.4 0 0 0 1079.9 256M568 316A1179.7 1179.7 0 0 0 1023 256M568 316A1322.8 1322.8 0 0 0 1045.8 256M636.2 316A257.2 257.2 0 0 0 1079.9 256M397.4 316A1080.7 1080.7 0 0 0 1091.2 256M408.8 316A530.2 530.2 0 0 0 1102.6 256M420.1 316A997.8 997.8 0 0 0 1079.9 256M602.1 316A295 295 0 0 0 1079.9 256M499.8 316A309.7 309.7 0 0 0 1045.8 256M465.6 316A404.6 404.6 0 0 0 1079.9 256M568 316A463.8 463.8 0 0 0 1079.9 256M613.5 316A686 686 0 0 0 1034.4 256M579.4 316A223.6 223.6 0 0 0 1011.6 256M488.4 316A533.6 533.6 0 0 0 1091.2 256M613.5 316A497.7 497.7 0 0 0 954.8 256M431.5 316A424.8 424.8 0 0 0 1079.9 256M522.5 316A829 829 0 0 0 1057.1 256M624.9 316A263.1 263.1 0 0 0 1079.9 256M442.9 316A368.8 368.8 0 0 0 1057.1 256M511.1 316A263 263 0 0 0 1011.6 256M636.2 316A1353.5 1353.5 0 0 0 1057.1 256M647.6 316A441 441 0 0 0 1114 256M624.9 316A489.7 489.7 0 0 0 954.8 256M579.4 316A632.3 632.3 0 0 0 1000.2 256M454.2 316A929.8 929.8 0 0 0 1068.5 256M420.1 316A338.8 338.8 0 0 0 1023 256M533.9 316A817.6 817.6 0 0 0 1057.1 256M477 316A905.8 905.8 0 0 0 1068.5 256M431.5 316A1476.5 1476.5 0 0 0 1045.8 256M556.6 316A313.1 313.1 0 0 0 1068.5 256M545.2 316A234.8 234.8 0 0 0 1000.2 256M511.1 316A231.5 231.5 0 0 0 966.1 256M397.4 316A1599.8 1599.8 0 0 0 1057.1 256M386 316A311.2 311.2 0 0 0 966.1 256M545.2 316A480.2 480.2 0 0 0 1079.9 256M386 316A1102.2 1102.2 0 0 0 1091.2 256M386 316A679.2 679.2 0 0 0 1114 256M624.9 316A526.6 526.6 0 0 0 1068.5 256M522.5 316A278 278 0 0 0 1034.4 256M488.4 316A268.5 268.5 0 0 0 1000.2 256M397.4 316A543.8 543.8 0 0 0 1102.6 256M545.2 316A319.3 319.3 0 0 0 1068.5 256M602.1 316A377.9 377.9 0 0 0 1091.2 256M465.6 316A917.8 917.8 0 0 0 1068.5 256M477 316A542 542 0 0 0 1091.2 256M431.5 316A724.4 724.4 0 0 0 1091.2 256M636.2 316A201 201 0 0 0 1011.6 256M397.4 316A1521.6 1521.6 0 0 0 1045.8 256M511.1 316A246 246 0 0 0 988.9 256M624.9 316A676.2 676.2 0 0 0 1034.4 256M647.6 316A1204.1 1204.1 0 0 0 1034.4 256M522.5 316A611 611 0 0 0 1068.5 256M556.6 316A472 472 0 0 0 1079.9 256M579.4 316A455.7 455.7 0 0 0 1079.9 256M647.6 316A310.5 310.5 0 0 0 1148.1 256M624.9 316A434.7 434.7 0 0 0 1091.2 256M624.9 316A731.3 731.3 0 0 0 1057.1 256M465.6 316A1433.3 1433.3 0 0 0 1045.8 256M386 316A305.1 305.1 0 0 0 954.8 256M590.8 316A706 706 0 0 0 1034.4 256M647.6 316A1350.6 1350.6 0 0 0 1057.1 256M465.6 316A550.4 550.4 0 0 0 1091.2 256M590.8 316A447.5 447.5 0 0 0 1079.9 256M408.8 316A442.7 442.7 0 0 0 1079.9 256M488.4 316A315.7 315.7 0 0 0 1045.8 256M579.4 316A1313.1 1313.1 0 0 0 1045.8 256M624.9 316A326.4 326.4 0 0 0 1102.6 256M442.9 316A1461.8 1461.8 0 0 0 1045.8 256M511.1 316A620.6 620.6 0 0 0 1068.5 256M431.5 316A279.5 279.5 0 0 0 966.1 256M659 316A239.2 239.2 0 0 0 1068.5 256M397.4 316A454.2 454.2 0 0 0 1079.9 256M533.9 316A272.2 272.2 0 0 0 1034.4 256M659 316A185.7 185.7 0 0 0 988.9 256M602.1 316A243.6 243.6 0 0 0 1045.8 256M511.1 316A1306.4 1306.4 0 0 0 1034.4 256M602.1 316A268.7 268.7 0 0 0 1068.5 256M431.5 316A1401.2 1401.2 0 0 0 1034.4 256M568 316A1250.2 1250.2 0 0 0 1034.4 256M659 316A331.2 331.2 0 0 0 1193.6 256M590.8 316A1304.3 1304.3 0 0 0 1045.8 256M465.6 316A274.1 274.1 0 0 0 988.9 256M579.4 316A337.7 337.7 0 0 0 1079.9 256M465.6 316A676.9 676.9 0 0 0 1079.9 256M613.5 316A325.4 325.4 0 0 0 1091.2 256M431.5 316A375 375 0 0 0 1057.1 256M647.6 316A524.5 524.5 0 0 0 1079.9 256M511.1 316A840.4 840.4 0 0 0 1057.1 256M442.9 316A257 257 0 0 0 943.4 256M636.2 316A220.5 220.5 0 0 0 1034.4 256M420.1 316A742.2 742.2 0 0 0 1091.2 256M659 316A1203.1 1203.1 0 0 0 1034.4 256M488.4 316A863.6 863.6 0 0 0 1057.1 256M465.6 316A1358.9 1358.9 0 0 0 1034.4 256M454.2 316A242.7 242.7 0 0 0 932 256M499.8 316A852 852 0 0 0 1057.1 256M602.1 316A1296.4 1296.4 0 0 0 1045.8 256M613.5 316A217.9 217.9 0 0 0 1023 256M624.9 316A181.4 181.4 0 0 0 977.5 256M579.4 316A604.7 604.7 0 0 0 988.9 256M442.9 316A480.8 480.8 0 0 0 1091.2 256M568 316A1045.2 1045.2 0 0 0 1000.2 256M533.9 316A488.5 488.5 0 0 0 1079.9 256M454.2 316A473.4 473.4 0 0 0 1091.2 256M636.2 316A666.8 666.8 0 0 0 1034.4 256M522.5 316A496.7 496.7 0 0 0 1079.9 256M659 316A1349.6 1349.6 0 0 0 1057.1 256M590.8 316A249.3 249.3 0 0 0 1045.8 256M659 316A531.2 531.2 0 0 0 1091.2 256M488.4 316A1332 1332 0 0 0 1034.4 256M579.4 316A274.3 274.3 0 0 0 1057.1 256M659 316A729.3 729.3 0 0 0 1068.5 256M602.1 316A439.4 439.4 0 0 0 1079.9 256M556.6 316A1260.3 1260.3 0 0 0 1034.4 256M454.2 316A686.8 686.8 0 0 0 1079.9 256M636.2 316A251 251 0 0 0 1068.5 256M420.1 316A306 306 0 0 0 988.9 256M636.2 316A721.3 721.3 0 0 0 1057.1 256M568 316A280.3 280.3 0 0 0 1057.1 256M590.8 316A676.9 676.9 0 0 0 932 256M579.4 316A234.8 234.8 0 0 0 1023 256M533.9 316A1282.4 1282.4 0 0 0 1034.4 256M556.6 316A229.2 229.2 0 0 0 1000.2 256M465.6 316A356.2 356.2 0 0 0 1057.1 256M545.2 316A405.2 405.2 0 0 0 1079.9 256M386 316A825.6 825.6 0 0 0 1102.6 256M568 316A240.4 240.4 0 0 0 1023 256M590.8 316A331.1 331.1 0 0 0 1079.9 256M454.2 316A362.5 362.5 0 0 0 1057.1 256M408.8 316A760.6 760.6 0 0 0 1091.2 256M579.4 316A255.1 255.1 0 0 0 1045.8 256M499.8 316A283.5 283.5 0 0 0 1023 256M420.1 316A610.3 610.3 0 0 0 1102.6 256M647.6 316A303.8 303.8 0 0 0 1136.8 256M624.9 316A372.4 372.4 0 0 0 1102.6 256M397.4 316A386.9 386.9 0 0 0 1045.8 256M613.5 316A1289.4 1289.4 0 0 0 1045.8 256M613.5 316A262.8 262.8 0 0 0 1068.5 256M647.6 316A343.3 343.3 0 0 0 1148.1 256M579.4 316A547 547 0 0 0 1057.1 256M397.4 316A1445.5 1445.5 0 0 0 1034.4 256M568 316A306.9 306.9 0 0 0 1068.5 256M442.9 316A696.6 696.6 0 0 0 1079.9 256M488.4 316A343.7 343.7 0 0 0 1057.1 256M386 316A465.9 465.9 0 0 0 1079.9 256M647.6 316A297.1 297.1 0 0 0 1125.4 256M568 316A390.6 390.6 0 0 0 1079.9 256M568 316A755.4 755.4 0 0 0 1045.8 256M408.8 316A380.6 380.6 0 0 0 1045.8 256M624.9 316A256.9 256.9 0 0 0 1068.5 256M522.5 316A419.8 419.8 0 0 0 1079.9 256M522.5 316A257.3 257.3 0 0 0 1011.6 256M556.6 316A1189.7 1189.7 0 0 0 1023 256M579.4 316A850.7 850.7 0 0 0 966.1 256M624.9 316A190.2 190.2 0 0 0 988.9 256M636.2 316A517.6 517.6 0 0 0 1068.5 256M454.2 316A327.2 327.2 0 0 0 1034.4 256M659 316A366.6 366.6 0 0 0 1193.6 256M386 316A343.8 343.8 0 0 0 1000.2 256M499.8 316A1319.1 1319.1 0 0 0 1034.4 256M488.4 316A289.3 289.3 0 0 0 1023 256M556.6 316A565.6 565.6 0 0 0 1057.1 256M579.4 316A300.6 300.6 0 0 0 1068.5 256M511.1 316A303.8 303.8 0 0 0 1045.8 256M545.2 316A777.2 777.2 0 0 0 1045.8 256M579.4 316A716.4 716.4 0 0 0 1034.4 256M659 316A443.1 443.1 0 0 0 943.4 256M556.6 316A397.9 397.9 0 0 0 1079.9 256M590.8 316A734.2 734.2 0 0 0 1045.8 256M590.8 316A537.8 537.8 0 0 0 1057.1 256M624.9 316A289.3 289.3 0 0 0 1091.2 256M386 316A1060.3 1060.3 0 0 0 1079.9 256M522.5 316A1294.2 1294.2 0 0 0 1034.4 256M477 316A1345.3 1345.3 0 0 0 1034.4 256M602.1 316A723.8 723.8 0 0 0 1045.8 256M477 316A349.9 349.9 0 0 0 1057.1 256M522.5 316A297.8 297.8 0 0 0 1045.8 256M568 316A556.3 556.3 0 0 0 1057.1 256M579.4 316A744.7 744.7 0 0 0 1045.8 256M420.1 316A279.4 279.4 0 0 0 954.8 256M545.2 316A1271.1 1271.1 0 0 0 1034.4 256M408.8 316A1506.4 1506.4 0 0 0 1045.8 256M533.9 316A412.5 412.5 0 0 0 1079.9 256M602.1 316A528.6 528.6 0 0 0 1057.1 256M636.2 316A327.3 327.3 0 0 0 1114 256M442.9 316A941.9 941.9 0 0 0 1068.5 256M613.5 316A370.7 370.7 0 0 0 1091.2 256M408.8 316A1018.2 1018.2 0 0 0 1079.9 256M556.6 316A766.2 766.2 0 0 0 1045.8 256M499.8 316A630.2 630.2 0 0 0 1068.5 256M624.9 316A1283.6 1283.6 0 0 0 1045.8 256M488.4 316A237.1 237.1 0 0 0 954.8 256M454.2 316A558.8 558.8 0 0 0 1091.2 256M408.8 316A626.1 626.1 0 0 0 1102.6 256M442.9 316A1386.9 1386.9 0 0 0 1034.4 256M408.8 316A1430.5 1430.5 0 0 0 1034.4 256M647.6 316A657.6 657.6 0 0 0 1034.4 256M659 316A444 444 0 0 0 1125.4 256M431.5 316A954.1 954.1 0 0 0 1068.5 256"/>
<path stroke="#cfff00" d="M590.8 316A203.6 203.6 0 0 0 988.9 256M397.4 316A1039.3 1039.3 0 0 0 1079.9 256M488.4 316A639.9 639.9 0 0 0 1068.5 256M568 316A981.1 981.1 0 0 0 988.9 256M511.1 316A505 505 0 0 0 1079.9 256M590.8 316A294.4 294.4 0 0 0 1068.5 256M431.5 316A488.2 488.2 0 0 0 1091.2 256M613.5 316A431.4 431.4 0 0 0 1079.9 256M477 316A251.5 251.5 0 0 0 966.1 256M602.1 316A505.9 505.9 0 0 0 954.8 256M647.6 316A384.5 384.5 0 0 0 1136.8 256M613.5 316A713.6 713.6 0 0 0 1045.8 256M420.1 316A374.3 374.3 0 0 0 1045.8 256M522.5 316A799.4 799.4 0 0 0 1045.8 256M386 316A557.7 557.7 0 0 0 1102.6 256M442.9 316A300.4 300.4 0 0 0 1000.2 256M465.6 316A887.2 887.2 0 0 0 1057.1 256M602.1 316A324.4 324.4 0 0 0 1079.9 256M613.5 316A519.5 519.5 0 0 0 1057.1 256M647.6 316A711.6 711.6 0 0 0 1057.1 256M499.8 316A513.3 513.3 0 0 0 1079.9 256M624.9 316A232.1 232.1 0 0 0 1045.8 256M659 316A167.3 167.3 0 0 0 966.1 256M636.2 316A374.1 374.1 0 0 0 1114 256M465.6 316A294.9 294.9 0 0 0 1011.6 256M647.6 316A449.6 449.6 0 0 0 943.4 256M499.8 316A434.5 434.5 0 0 0 1079.9 256M579.4 316A383.4 383.4 0 0 0 1079.9 256M442.9 316A567.2 567.2 0 0 0 1091.2 256M659 316A324.4 324.4 0 0 0 1182.2 256M465.6 316A1286.6 1286.6 0 0 0 1023 256M636.2 316A289.8 289.8 0 0 0 1102.6 256M386 316A386 386 0 0 0 1034.4 256M613.5 316A288.8 288.8 0 0 0 1079.9 256M545.2 316A575 575 0 0 0 1057.1 256M431.5 316A257 257 0 0 0 932 256M420.1 316A501 501 0 0 0 1091.2 256M636.2 316A1279.2 1279.2 0 0 0 1045.8 256M477 316A875.4 875.4 0 0 0 1057.1 256M511.1 316A427.1 427.1 0 0 0 1079.9 256M465.6 316A321.3 321.3 0 0 0 1034.4 256M408.8 316A279.3 279.3 0 0 0 943.4 256M454.2 316A1372.8 1372.8 0 0 0 1034.4 256M431.5 316A332.8 332.8 0 0 0 1023 256M613.5 316A201.3 201.3 0 0 0 1000.2 256M522.5 316A240.3 240.3 0 0 0 988.9 256M420.1 316A1415.8 1415.8 0 0 0 1034.4 256M408.8 316A338.3 338.3 0 0 0 1011.6 256M397.4 316A642 642 0 0 0 1102.6 256M556.6 316A260.6 260.6 0 0 0 1034.4 256M442.9 316A1314.1 1314.1 0 0 0 1023 256M533.9 316A788.3 788.3 0 0 0 1045.8 256M636.2 316A426.6 426.6 0 0 0 1091.2 256M590.8 316A376.1 376.1 0 0 0 1079.9 256M602.1 316A223.5 223.5 0 0 0 1023 256M499.8 316A337.4 337.4 0 0 0 1057.1 256M636.2 316A456.6 456.6 0 0 0 943.4 256M533.9 316A251.6 251.6 0 0 0 1011.6 256M568 316A698.4 698.4 0 0 0 1023 256M533.9 316A356.6 356.6 0 0 0 1068.5 256M647.6 316A168 168 0 0 0 966.1 256M624.9 316A703.7 703.7 0 0 0 1045.8 256M647.6 316A429.8 429.8 0 0 0 1102.6 256M511.1 316A369.9 369.9 0 0 0 1068.5 256M408.8 316A305.7 305.7 0 0 0 977.5 256M545.2 316A285.9 285.9 0 0 0 1045.8 256M636.2 316A214.6 214.6 0 0 0 1023 256M647.6 316A508.6 508.6 0 0 0 1068.5 256M590.8 316A212.4 212.4 0 0 0 1000.2 256M522.5 316A1223.1 1223.1 0 0 0 1023 256M533.9 316A291.8 291.8 0 0 0 1045.8 256M568 316A670.2 670.2 0 0 0 1011.6 256M568 316A726.8 726.8 0 0 0 1034.4 256M647.6 316A1276.3 1276.3 0 0 0 1045.8 256M545.2 316A266.4 266.4 0 0 0 1034.4 256M624.9 316A510.5 510.5 0 0 0 1057.1 256M408.8 316A514.4 514.4 0 0 0 1091.2 256M431.5 316A416.8 416.8 0 0 0 1068.5 256M408.8 316A1356.8 1356.8 0 0 0 1023 256M659 316A157.1 157.1 0 0 0 954.8 256M522.5 316A324.9 324.9 0 0 0 1057.1 256M659 316A403.7 403.7 0 0 0 1170.9 256M431.5 316A706.5 706.5 0 0 0 1079.9 256M454.2 316A274 274 0 0 0 977.5 256M454.2 316A403.4 403.4 0 0 0 1068.5 256M647.6 316A335.7 335.7 0 0 0 1136.8 256M556.6 316A343.3 343.3 0 0 0 1068.5 256M499.8 316A822.1 822.1 0 0 0 1045.8 256M386 316A1460.5 1460.5 0 0 0 1034.4 256M590.8 316A268.4 268.4 0 0 0 1057.1 256M386 316A1386.1 1386.1 0 0 0 1023 256M454.2 316A1300.2 1300.2 0 0 0 1023 256M499.8 316A1247.5 1247.5 0 0 0 1023 256M659 316A648.7 648.7 0 0 0 1034.4 256M488.4 316A383.3 383.3 0 0 0 1068.5 256M511.1 316A810.7 810.7 0 0 0 1045.8 256M477 316A1273.3 1273.3 0 0 0 1023 256M511.1 316A257.2 257.2 0 0 0 1000.2 256M499.8 316A231.5 231.5 0 0 0 954.8 256M397.4 316A779.1 779.1 0 0 0 1091.2 256M477 316A449.2 449.2 0 0 0 1079.9 256M488.4 316A441.8 441.8 0 0 0 1079.9 256M465.6 316A396.7 396.7 0 0 0 1068.5 256M533.9 316A584.4 584.4 0 0 0 1057.1 256M624.9 316A318.8 318.8 0 0 0 1091.2 256M420.1 316A423.6 423.6 0 0 0 1068.5 256M624.9 316A250.6 250.6 0 0 0 1057.1 256M397.4 316A441.3 441.3 0 0 0 1068.5 256M477 316A649.6 649.6 0 0 0 1068.5 256M659 316A1275.3 1275.3 0 0 0 1045.8 256M420.1 316A716.4 716.4 0 0 0 1079.9 256M522.5 316A363.3 363.3 0 0 0 1068.5 256M579.4 316A218 218 0 0 0 1000.2 256M602.1 316A368.9 368.9 0 0 0 1079.9 256M624.9 316A464 464 0 0 0 943.4 256M408.8 316A430.3 430.3 0 0 0 1068.5 256M522.5 316A593.8 593.8 0 0 0 1057.1 256M624.9 316A423.3 423.3 0 0 0 1079.9 256M477 316A268.4 268.4 0 0 0 988.9 256M602.1 316A262.5 262.5 0 0 0 1057.1 256M613.5 316A212.2 212.2 0 0 0 1011.6 256M545.2 316A349.9 349.9 0 0 0 1068.5 256M545.2 316A246 246 0 0 0 1011.6 256M659 316A359.1 359.1 0 0 0 1182.2 256M408.8 316A978.6 978.6 0 0 0 1068.5 256M556.6 316A306.2 306.2 0 0 0 1057.1 256M499.8 316A376.6 376.6 0 0 0 1068.5 256M397.4 316A379.8 379.8 0 0 0 1034.4 256M488.4 316A521.5 521.5 0 0 0 1079.9 256M397.4 316A998.6 998.6 0 0 0 1068.5 256M545.2 316A1200.3 1200.3 0 0 0 1023 256M613.5 316A256.6 256.6 0 0 0 1057.1 256M533.9 316A1211.5 1211.5 0 0 0 1023 256M636.2 316A694 694 0 0 0 1045.8 256M522.5 316A225.9 225.9 0 0 0 966.1 256M431.5 316A368 368 0 0 0 1045.8 256M602.1 316A237.6 237.6 0 0 0 1034.4 256M499.8 316A262.9 262.9 0 0 0 1000.2 256M420.1 316A1342.3 1342.3 0 0 0 1023 256M499.8 316A245.9 245.9 0 0 0 977.5 256M556.6 316A737.4 737.4 0 0 0 1034.4 256M442.9 316A410.1 410.1 0 0 0 1068.5 256M511.1 316A331.2 331.2 0 0 0 1057.1 256M420.1 316A966.3 966.3 0 0 0 1068.5 256M659 316A702.2 702.2 0 0 0 1057.1 256M465.6 316A659.3 659.3 0 0 0 1068.5 256M556.6 316A1121.2 1121.2 0 0 0 1011.6 256M636.2 316A195.3 195.3 0 0 0 1000.2 256M488.4 316A309.3 309.3 0 0 0 1034.4 256M477 316A529.9 529.9 0 0 0 1079.9 256M397.4 316A279.1 279.1 0 0 0 932 256M579.4 316A444 444 0 0 0 1068.5 256M431.5 316A575.6 575.6 0 0 0 1091.2 256M477 316A289.1 289.1 0 0 0 1011.6 256M442.9 316A326.8 326.8 0 0 0 1023 256M659 316A515.5 515.5 0 0 0 1079.9 256M556.6 316A460.3 460.3 0 0 0 1068.5 256M647.6 316A208.9 208.9 0 0 0 1023 256M511.1 316A1235.1 1235.1 0 0 0 1023 256M488.4 316A1260.2 1260.2 0 0 0 1023 256M454.2 316A899 899 0 0 0 1057.1 256M511.1 316A277.7 277.7 0 0 0 1023 256M590.8 316A436 436 0 0 0 1068.5 256M624.9 316A363.5 363.5 0 0 0 1091.2 256M386 316A797.7 797.7 0 0 0 1091.2 256M397.4 316A1371.4 1371.4 0 0 0 1023 256M408.8 316A273.4 273.4 0 0 0 932 256M477 316A390 390 0 0 0 1068.5 256M442.9 316A910.9 910.9 0 0 0 1057.1 256M454.2 316A669 669 0 0 0 1068.5 256M636.2 316A319.7 319.7 0 0 0 1102.6 256M636.2 316A365.2 365.2 0 0 0 1102.6 256M545.2 316A312.5 312.5 0 0 0 1057.1 256M659 316A317.7 317.7 0 0 0 1170.9 256M636.2 316A501.6 501.6 0 0 0 1057.1 256M568 316A336.6 336.6 0 0 0 1068.5 256M568 316A452.1 452.1 0 0 0 1068.5 256M602.1 316A288.2 288.2 0 0 0 1068.5 256M545.2 316A220.3 220.3 0 0 0 977.5 256M624.9 316A282.6 282.6 0 0 0 1079.9 256M590.8 316A229.1 229.1 0 0 0 1023 256M533.9 316A234.7 234.7 0 0 0 988.9 256M579.4 316A330 330 0 0 0 1068.5 256M442.9 316A471.3 471.3 0 0 0 1079.9 256M613.5 316A317.8 317.8 0 0 0 1079.9 256M613.5 316A471.7 471.7 0 0 0 943.4 256M397.4 316A305.4 305.4 0 0 0 966.1 256M533.9 316A318.7 318.7 0 0 0 1057.1 256M636.2 316A283.1 283.1 0 0 0 1091.2 256M647.6 316A245.1 245.1 0 0 0 1068.5 256M408.8 316A299.6 299.6 0 0 0 966.1 256M431.5 316A1328.1 1328.1 0 0 0 1023 256M590.8 316A243.4 243.4 0 0 0 1034.4 256M477 316A845.1 845.1 0 0 0 1045.8 256M488.4 316A833.5 833.5 0 0 0 1045.8 256M454.2 316A463.9 463.9 0 0 0 1079.9 256M477 316A315.3 315.3 0 0 0 1034.4 256M420.1 316A590.5 590.5 0 0 0 1091.2 256M477 316A1203.4 1203.4 0 0 0 1011.6 256M386 316A452.8 452.8 0 0 0 1068.5 256M647.6 316A290.4 290.4 0 0 0 1114 256M568 316A274 274 0 0 0 1045.8 256M465.6 316A456.5 456.5 0 0 0 1079.9 256M386 316A1313.8 1313.8 0 0 0 1011.6 256M420.1 316A332.3 332.3 0 0 0 1011.6 256M590.8 316A323.4 323.4 0 0 0 1068.5 256M397.4 316A527.8 527.8 0 0 0 1091.2 256M579.4 316A249.1 249.1 0 0 0 1034.4 256M647.6 316A159.4 159.4 0 0 0 954.8 256M533.9 316A476.6 476.6 0 0 0 1068.5 256M545.2 316A468.4 468.4 0 0 0 1068.5 256M397.4 316A337.8 337.8 0 0 0 1000.2 256M624.9 316A226.2 226.2 0 0 0 1034.4 256M386 316A658.2 658.2 0 0 0 1102.6 256M522.5 316A272 272 0 0 0 1023 256M465.6 316A251.4 251.4 0 0 0 954.8 256M602.1 316A427.9 427.9 0 0 0 1068.5 256M431.5 316A300.2 300.2 0 0 0 988.9 256M420.1 316A1271 1271 0 0 0 1011.6 256M659 316A432.9 432.9 0 0 0 1114 256M613.5 316A454.7 454.7 0 0 0 1011.6 256"/>
<path stroke="#dfff00" d="M511.1 316A603.3 603.3 0 0 0 1057.1 256M590.8 316A541.2 541.2 0 0 0 966.1 256M533.9 316A759.1 759.1 0 0 0 1034.4 256M647.6 316A684.5 684.5 0 0 0 1045.8 256M602.1 316A512.3 512.3 0 0 0 1045.8 256M488.4 316A283.3 283.3 0 0 0 1011.6 256M602.1 316A192.5 192.5 0 0 0 977.5 256M556.6 316A279.9 279.9 0 0 0 1045.8 256M590.8 316A521.3 521.3 0 0 0 1045.8 256M568 316A223.6 223.6 0 0 0 1000.2 256M386 316A541.4 541.4 0 0 0 1091.2 256M568 316A539.6 539.6 0 0 0 1045.8 256M499.8 316A612.9 612.9 0 0 0 1057.1 256M556.6 316A708.8 708.8 0 0 0 1023 256M545.2 316A748.2 748.2 0 0 0 1034.4 256M568 316A254.9 254.9 0 0 0 1034.4 256M442.9 316A273.9 273.9 0 0 0 966.1 256M477 316A237.1 237.1 0 0 0 943.4 256M647.6 316A328.2 328.2 0 0 0 1125.4 256M647.6 316A375.7 375.7 0 0 0 1125.4 256M613.5 316A470.9 470.9 0 0 0 1023 256M454.2 316A1229.7 1229.7 0 0 0 1011.6 256M659 316A143.1 143.1 0 0 0 932 256M568 316A300 300 0 0 0 1057.1 256M579.4 316A293.8 293.8 0 0 0 1057.1 256M659 316A418.5 418.5 0 0 0 932 256M408.8 316A606.1 606.1 0 0 0 1091.2 256M613.5 316A361.7 361.7 0 0 0 1079.9 256M488.4 316A622.4 622.4 0 0 0 1057.1 256M613.5 316A503.3 503.3 0 0 0 1045.8 256M579.4 316A530.4 530.4 0 0 0 1045.8 256M442.9 316A361.8 361.8 0 0 0 1045.8 256M465.6 316A288.9 288.9 0 0 0 1000.2 256M624.9 316A462.3 462.3 0 0 0 1023 256M624.9 316A446.2 446.2 0 0 0 1011.6 256M613.5 316A282 282 0 0 0 1068.5 256M659 316A311 311 0 0 0 1159.5 256M659 316A394.9 394.9 0 0 0 1159.5 256M556.6 316A388.7 388.7 0 0 0 1068.5 256M659 316A499.7 499.7 0 0 0 1068.5 256M465.6 316A538.2 538.2 0 0 0 1079.9 256M647.6 316A238.8 238.8 0 0 0 1057.1 256M397.4 316A1299.4 1299.4 0 0 0 1011.6 256M454.2 316A294.6 294.6 0 0 0 1000.2 256M636.2 316A437.9 437.9 0 0 0 1011.6 256M556.6 316A240.3 240.3 0 0 0 1011.6 256M454.2 316A355.5 355.5 0 0 0 1045.8 256M420.1 316A935 935 0 0 0 1057.1 256M511.1 316A781.1 781.1 0 0 0 1034.4 256M431.5 316A1257 1257 0 0 0 1011.6 256M454.2 316A546.5 546.5 0 0 0 1079.9 256M613.5 316A419.9 419.9 0 0 0 1068.5 256M602.1 316A463.2 463.2 0 0 0 1011.6 256M408.8 316A373.5 373.5 0 0 0 1034.4 256M408.8 316A947 947 0 0 0 1057.1 256M602.1 316A479.6 479.6 0 0 0 1023 256M465.6 316A314.9 314.9 0 0 0 1023 256M602.1 316A495.9 495.9 0 0 0 1034.4 256M579.4 316A793.2 793.2 0 0 0 954.8 256M408.8 316A733.9 733.9 0 0 0 1079.9 256M533.9 316A403.2 403.2 0 0 0 1068.5 256M545.2 316A1131.7 1131.7 0 0 0 1011.6 256M545.2 316A558 558 0 0 0 1045.8 256M511.1 316A1165.9 1165.9 0 0 0 1011.6 256M431.5 316A922.9 922.9 0 0 0 1057.1 256M420.1 316A486 486 0 0 0 1079.9 256M397.4 316A299.3 299.3 0 0 0 954.8 256M556.6 316A548.8 548.8 0 0 0 1045.8 256M522.5 316A484.8 484.8 0 0 0 1068.5 256M442.9 316A554.9 554.9 0 0 0 1079.9 256M386 316A1019.1 1019.1 0 0 0 1068.5 256M636.2 316A453.8 453.8 0 0 0 1023 256M499.8 316A303.4 303.4 0 0 0 1034.4 256M511.1 316A493 493 0 0 0 1068.5 256M442.9 316A678.8 678.8 0 0 0 1068.5 256M647.6 316A366.8 366.8 0 0 0 1114 256M647.6 316A492.8 492.8 0 0 0 1057.1 256M431.5 316A478.7 478.7 0 0 0 1079.9 256M477 316A343 343 0 0 0 1045.8 256M568 316A234.7 234.7 0 0 0 1011.6 256M636.2 316A415.3 415.3 0 0 0 1079.9 256M522.5 316A770.1 770.1 0 0 0 1034.4 256M454.2 316A868.3 868.3 0 0 0 1045.8 256M465.6 316A349.2 349.2 0 0 0 1045.8 256M465.6 316A1216.4 1216.4 0 0 0 1011.6 256M647.6 316A283.6 283.6 0 0 0 1102.6 256M636.2 316A276.4 276.4 0 0 0 1079.9 256M579.4 316A374.3 374.3 0 0 0 1068.5 256M659 316A264 264 0 0 0 1079.9 256M647.6 316A232.6 232.6 0 0 0 1045.8 256M545.2 316A396 396 0 0 0 1068.5 256M647.6 316A429.7 429.7 0 0 0 1011.6 256M568 316A381.5 381.5 0 0 0 1068.5 256M533.9 316A1142.7 1142.7 0 0 0 1011.6 256M545.2 316A229.1 229.1 0 0 0 988.9 256M488.4 316A1190.6 1190.6 0 0 0 1011.6 256M386 316A299 299 0 0 0 943.4 256M511.1 316A297.4 297.4 0 0 0 1034.4 256M397.4 316A752.1 752.1 0 0 0 1079.9 256M431.5 316A688.6 688.6 0 0 0 1068.5 256M465.6 316A856.7 856.7 0 0 0 1045.8 256M647.6 316A418.6 418.6 0 0 0 1091.2 256M613.5 316A487.1 487.1 0 0 0 1034.4 256M624.9 316A494.4 494.4 0 0 0 1045.8 256M659 316A304.3 304.3 0 0 0 1148.1 256M590.8 316A367.1 367.1 0 0 0 1068.5 256M511.1 316A417.8 417.8 0 0 0 1068.5 256M590.8 316A504.8 504.8 0 0 0 1034.4 256M624.9 316A206.6 206.6 0 0 0 1011.6 256M659 316A675.4 675.4 0 0 0 1045.8 256M499.8 316A330.5 330.5 0 0 0 1045.8 256M556.6 316A214.7 214.7 0 0 0 977.5 256M613.5 316A231.9 231.9 0 0 0 1034.4 256M386 316A440 440 0 0 0 1057.1 256M590.8 316A198 198 0 0 0 977.5 256M454.2 316A320.8 320.8 0 0 0 1023 256M647.6 316A203 203 0 0 0 1011.6 256M602.1 316A316.8 316.8 0 0 0 1068.5 256M568 316A642.2 642.2 0 0 0 1000.2 256M579.4 316A577.3 577.3 0 0 0 977.5 256M488.4 316A231.5 231.5 0 0 0 943.4 256M624.9 316A311.2 311.2 0 0 0 1079.9 256M613.5 316A250.3 250.3 0 0 0 1045.8 256M602.1 316A206.9 206.9 0 0 0 1000.2 256M397.4 316A331.3 331.3 0 0 0 988.9 256M647.6 316A276.9 276.9 0 0 0 1091.2 256M624.9 316A275.8 275.8 0 0 0 1068.5 256M522.5 316A410.5 410.5 0 0 0 1068.5 256M408.8 316A422.3 422.3 0 0 0 1057.1 256M386 316A337.3 337.3 0 0 0 988.9 256M397.4 316A429 429 0 0 0 1057.1 256M636.2 316A422 422 0 0 0 1000.2 256M647.6 316A320.6 320.6 0 0 0 1114 256M624.9 316A478.4 478.4 0 0 0 1034.4 256M386 316A378.9 378.9 0 0 0 1023 256M568 316A919.2 919.2 0 0 0 977.5 256M647.6 316A424.7 424.7 0 0 0 932 256M386 316A770.2 770.2 0 0 0 1079.9 256M636.2 316A312.2 312.2 0 0 0 1091.2 256M624.9 316A430.2 430.2 0 0 0 1000.2 256M602.1 316A256.2 256.2 0 0 0 1045.8 256M590.8 316A262.1 262.1 0 0 0 1045.8 256M579.4 316A268.1 268.1 0 0 0 1045.8 256M556.6 316A1054.9 1054.9 0 0 0 1000.2 256M408.8 316A1285.1 1285.1 0 0 0 1011.6 256M499.8 316A1178.1 1178.1 0 0 0 1011.6 256M477 316A632 632 0 0 0 1057.1 256M522.5 316A576.7 576.7 0 0 0 1045.8 256M488.4 316A803.6 803.6 0 0 0 1034.4 256M602.1 316A479.8 479.8 0 0 0 943.4 256M647.6 316A413.9 413.9 0 0 0 1000.2 256M545.2 316A260.4 260.4 0 0 0 1023 256M533.9 316A567.3 567.3 0 0 0 1045.8 256M636.2 316A244.7 244.7 0 0 0 1057.1 256M465.6 316A268.3 268.3 0 0 0 977.5 256M522.5 316A1154.1 1154.1 0 0 0 1011.6 256M442.9 316A1243.3 1243.3 0 0 0 1011.6 256M499.8 316A792.3 792.3 0 0 0 1034.4 256M659 316A421.6 421.6 0 0 0 1011.6 256M511.1 316A240.3 240.3 0 0 0 977.5 256M602.1 316A217.8 217.8 0 0 0 1011.6 256M624.9 316A412 412 0 0 0 1068.5 256M465.6 316A641.6 641.6 0 0 0 1057.1 256M454.2 316A251.4 251.4 0 0 0 943.4 256M488.4 316A375.4 375.4 0 0 0 1057.1 256M647.6 316A445.4 445.4 0 0 0 1023 256M420.1 316A299.9 299.9 0 0 0 977.5 256M613.5 316A438.5 438.5 0 0 0 1000.2 256M556.6 316A254.7 254.7 0 0 0 1023 256M556.6 316A335.5 335.5 0 0 0 1057.1 256M636.2 316A356.2 356.2 0 0 0 1091.2 256M590.8 316A287.6 287.6 0 0 0 1057.1 256M522.5 316A251.5 251.5 0 0 0 1000.2 256M431.5 316A294.1 294.1 0 0 0 977.5 256M624.9 316A220.3 220.3 0 0 0 1023 256M442.9 316A402.2 402.2 0 0 0 1057.1 256M647.6 316A226.4 226.4 0 0 0 1034.4 256M659 316A351.6 351.6 0 0 0 1170.9 256M624.9 316A354.5 354.5 0 0 0 1079.9 256M488.4 316A245.9 245.9 0 0 0 966.1 256M408.8 316A498.8 498.8 0 0 0 1079.9 256M636.2 316A485.7 485.7 0 0 0 1045.8 256M431.5 316A273.7 273.7 0 0 0 954.8 256M397.4 316A621.7 621.7 0 0 0 1091.2 256M499.8 316A501.2 501.2 0 0 0 1068.5 256M522.5 316A291.5 291.5 0 0 0 1034.4 256M579.4 316A513.8 513.8 0 0 0 1034.4 256M488.4 316A336.7 336.7 0 0 0 1045.8 256M488.4 316A432.4 432.4 0 0 0 1068.5 256M499.8 316A257.1 257.1 0 0 0 988.9 256M579.4 316A737.8 737.8 0 0 0 943.4 256M533.9 316A285.5 285.5 0 0 0 1034.4 256M636.2 316A431.5 431.5 0 0 0 932 256M499.8 316A425.1 425.1 0 0 0 1068.5 256M590.8 316A488.3 488.3 0 0 0 1023 256M522.5 316A318 318 0 0 0 1045.8 256M636.2 316A469.7 469.7 0 0 0 1034.4 256M533.9 316A266.2 266.2 0 0 0 1023 256M431.5 316A326.4 326.4 0 0 0 1011.6 256M659 316A406 406 0 0 0 1000.2 256M488.4 316A509.4 509.4 0 0 0 1068.5 256M522.5 316A355.4 355.4 0 0 0 1057.1 256M420.1 316A903.7 903.7 0 0 0 1045.8 256M397.4 316A512 512 0 0 0 1079.9 256M420.1 316A367.3 367.3 0 0 0 1034.4 256M465.6 316A388.8 388.8 0 0 0 1057.1 256M408.8 316A331.8 331.8 0 0 0 1000.2 256M659 316A270.7 270.7 0 0 0 1091.2 256M420.1 316A415.6 415.6 0 0 0 1057.1 256M602.1 316A359.9 359.9 0 0 0 1068.5 256M659 316A277.4 277.4 0 0 0 1102.6 256M602.1 316A281.4 281.4 0 0 0 1057.1 256M647.6 316A270.2 270.2 0 0 0 1079.9 256M431.5 316A563.2 563.2 0 0 0 1079.9 256M613.5 316A310.2 310.2 0 0 0 1068.5 256M659 316A377.2 377.2 0 0 0 1136.8 256M488.4 316A262.8 262.8 0 0 0 988.9 256M545.2 316A719.4 719.4 0 0 0 1023 256M579.4 316A432.4 432.4 0 0 0 1057.1 256M545.2 316A342.2 342.2 0 0 0 1057.1 256M659 316A386 386 0 0 0 1148.1 256M511.1 316A324.2 324.2 0 0 0 1045.8 256M386 316A978.7 978.7 0 0 0 1057.1 256M397.4 316A959.2 959.2 0 0 0 1057.1 256M556.6 316A448.5 448.5 0 0 0 1057.1 256M420.1 316A325.9 325.9 0 0 0 1000.2 256M477 316A382.1 382.1 0 0 0 1057.1 256M499.8 316A368.8 368.8 0 0 0 1057.1 256M442.9 316A880.1 880.1 0 0 0 1045.8 256"/>
<path stroke="#efff00" d="M431.5 316A891.9 891.9 0 0 0 1045.8 256M420.1 316A571.6 571.6 0 0 0 1079.9 256M442.9 316A320.4 320.4 0 0 0 1011.6 256M465.6 316A237.1 237.1 0 0 0 932 256M386 316A330.8 330.8 0 0 0 977.5 256M636.2 316A269.6 269.6 0 0 0 1068.5 256M386 316A637.5 637.5 0 0 0 1091.2 256M590.8 316A223.4 223.4 0 0 0 1011.6 256M647.6 316A398.2 398.2 0 0 0 988.9 256M545.2 316A305.6 305.6 0 0 0 1045.8 256M499.8 316A277.5 277.5 0 0 0 1011.6 256M477 316A308.9 308.9 0 0 0 1023 256M659 316A297.6 297.6 0 0 0 1136.8 256M579.4 316A322.3 322.3 0 0 0 1057.1 256M636.2 316A406.1 406.1 0 0 0 988.9 256M568 316A440.4 440.4 0 0 0 1057.1 256M511.1 316A225.9 225.9 0 0 0 954.8 256M408.8 316A366.4 366.4 0 0 0 1023 256M568 316A209.2 209.2 0 0 0 977.5 256M420.1 316A698.4 698.4 0 0 0 1068.5 256M568 316A328.9 328.9 0 0 0 1057.1 256M659 316A421.7 421.7 0 0 0 1102.6 256M522.5 316A740.8 740.8 0 0 0 1023 256M465.6 316A826.3 826.3 0 0 0 1034.4 256M454.2 316A395.5 395.5 0 0 0 1057.1 256M590.8 316A424.4 424.4 0 0 0 1057.1 256M556.6 316A680.4 680.4 0 0 0 1011.6 256M613.5 316A275.2 275.2 0 0 0 1057.1 256M431.5 316A361 361 0 0 0 1034.4 256M533.9 316A348.8 348.8 0 0 0 1057.1 256M511.1 316A586 586 0 0 0 1045.8 256M477 316A814.9 814.9 0 0 0 1034.4 256M602.1 316A446.9 446.9 0 0 0 1000.2 256M624.9 316A414.2 414.2 0 0 0 988.9 256M659 316A390.5 390.5 0 0 0 988.9 256M590.8 316A471.9 471.9 0 0 0 1011.6 256M659 316A437.1 437.1 0 0 0 1023 256M533.9 316A311.8 311.8 0 0 0 1045.8 256M465.6 316A447.1 447.1 0 0 0 1068.5 256M613.5 316A195.7 195.7 0 0 0 988.9 256M659 316A484.1 484.1 0 0 0 1057.1 256M499.8 316A595.5 595.5 0 0 0 1045.8 256M386 316A525.3 525.3 0 0 0 1079.9 256M579.4 316A497.2 497.2 0 0 0 1023 256M533.9 316A245.9 245.9 0 0 0 1000.2 256M659 316A290.8 290.8 0 0 0 1125.4 256M454.2 316A454.4 454.4 0 0 0 1068.5 256M454.2 316A288.6 288.6 0 0 0 988.9 256M408.8 316A708.2 708.2 0 0 0 1068.5 256M624.9 316A438.6 438.6 0 0 0 932 256M602.1 316A416.4 416.4 0 0 0 1057.1 256M613.5 316A187 187 0 0 0 977.5 256M511.1 316A362.1 362.1 0 0 0 1057.1 256M568 316A522.8 522.8 0 0 0 1034.4 256M442.9 316A354.7 354.7 0 0 0 1034.4 256M442.9 316A294.4 294.4 0 0 0 988.9 256M386 316A371.8 371.8 0 0 0 1011.6 256M477 316A439.7 439.7 0 0 0 1068.5 256M431.5 316A408.9 408.9 0 0 0 1057.1 256M533.9 316A730.1 730.1 0 0 0 1023 256M522.5 316A234.7 234.7 0 0 0 977.5 256M647.6 316A357.9 357.9 0 0 0 1102.6 256M659 316A344.1 344.1 0 0 0 1159.5 256M636.2 316A189.6 189.6 0 0 0 988.9 256M545.2 316A456.6 456.6 0 0 0 1057.1 256M477 316A283.1 283.1 0 0 0 1000.2 256M442.9 316A251.4 251.4 0 0 0 932 256M647.6 316A313.1 313.1 0 0 0 1102.6 256M613.5 316A352.7 352.7 0 0 0 1068.5 256M647.6 316A461.2 461.2 0 0 0 1034.4 256M636.2 316A238.5 238.5 0 0 0 1045.8 256M454.2 316A651.3 651.3 0 0 0 1057.1 256M659 316A284.1 284.1 0 0 0 1114 256M624.9 316A175.9 175.9 0 0 0 966.1 256M556.6 316A273.6 273.6 0 0 0 1034.4 256M397.4 316A725.4 725.4 0 0 0 1068.5 256M420.1 316A273.6 273.6 0 0 0 943.4 256M647.6 316A477 477 0 0 0 1045.8 256M397.4 316A372.7 372.7 0 0 0 1023 256M556.6 316A531.9 531.9 0 0 0 1034.4 256M579.4 316A243.2 243.2 0 0 0 1023 256M613.5 316A422.3 422.3 0 0 0 988.9 256M568 316A248.9 248.9 0 0 0 1023 256M442.9 316A660.9 660.9 0 0 0 1057.1 256M568 316A614.3 614.3 0 0 0 988.9 256M636.2 316A404 404 0 0 0 1068.5 256M477 316A517.7 517.7 0 0 0 1068.5 256M477 316A231.5 231.5 0 0 0 932 256M647.6 316A407.3 407.3 0 0 0 1079.9 256M624.9 316A269.1 269.1 0 0 0 1057.1 256M636.2 316A304.6 304.6 0 0 0 1079.9 256M613.5 316A408.5 408.5 0 0 0 1057.1 256M568 316A293.2 293.2 0 0 0 1045.8 256M386 316A939.5 939.5 0 0 0 1045.8 256M420.1 316A293.8 293.8 0 0 0 966.1 256M465.6 316A526 526 0 0 0 1068.5 256M511.1 316A271.8 271.8 0 0 0 1011.6 256M431.5 316A267.9 267.9 0 0 0 943.4 256M568 316A218 218 0 0 0 988.9 256M624.9 316A303.6 303.6 0 0 0 1068.5 256M533.9 316A220.3 220.3 0 0 0 966.1 256M397.4 316A927.5 927.5 0 0 0 1045.8 256M579.4 316A203.6 203.6 0 0 0 977.5 256M556.6 316A379.5 379.5 0 0 0 1057.1 256M579.4 316A229 229 0 0 0 1011.6 256M499.8 316A762.7 762.7 0 0 0 1023 256M431.5 316A469.1 469.1 0 0 0 1068.5 256M636.2 316A179.1 179.1 0 0 0 977.5 256M386 316A427.6 427.6 0 0 0 1045.8 256M454.2 316A534.2 534.2 0 0 0 1068.5 256M613.5 316A446.1 446.1 0 0 0 932 256M431.5 316A1188 1188 0 0 0 1000.2 256M545.2 316A279.6 279.6 0 0 0 1034.4 256M590.8 316A315.7 315.7 0 0 0 1057.1 256M408.8 316A1215.4 1215.4 0 0 0 1000.2 256M454.2 316A314.4 314.4 0 0 0 1011.6 256M556.6 316A299.4 299.4 0 0 0 1045.8 256M511.1 316A751.7 751.7 0 0 0 1023 256M624.9 316A244.4 244.4 0 0 0 1045.8 256M579.4 316A212.4 212.4 0 0 0 988.9 256M488.4 316A1123 1123 0 0 0 1000.2 256M499.8 316A297 297 0 0 0 1023 256M408.8 316A915.6 915.6 0 0 0 1045.8 256M442.9 316A461.7 461.7 0 0 0 1068.5 256M431.5 316A860.9 860.9 0 0 0 1034.4 256M533.9 316A464.7 464.7 0 0 0 1057.1 256M522.5 316A472.8 472.8 0 0 0 1057.1 256M408.8 316A586.4 586.4 0 0 0 1079.9 256M579.4 316A365.1 365.1 0 0 0 1057.1 256M659 316A336.5 336.5 0 0 0 1148.1 256M454.2 316A268.2 268.2 0 0 0 966.1 256M613.5 316A226 226 0 0 0 1023 256M442.9 316A849.3 849.3 0 0 0 1034.4 256M420.1 316A267.8 267.8 0 0 0 932 256M647.6 316A197.2 197.2 0 0 0 1000.2 256M454.2 316A837.8 837.8 0 0 0 1034.4 256M408.8 316A325.4 325.4 0 0 0 988.9 256M488.4 316A604.9 604.9 0 0 0 1045.8 256M602.1 316A309.1 309.1 0 0 0 1057.1 256M568 316A372.3 372.3 0 0 0 1057.1 256M590.8 316A514.5 514.5 0 0 0 954.8 256M659 316A329 329 0 0 0 1136.8 256M511.1 316A1098.8 1098.8 0 0 0 1000.2 256M465.6 316A1148.3 1148.3 0 0 0 1000.2 256M636.2 316A347.3 347.3 0 0 0 1079.9 256M545.2 316A386.7 386.7 0 0 0 1057.1 256M659 316A368.4 368.4 0 0 0 1125.4 256M431.5 316A319.9 319.9 0 0 0 1000.2 256M477 316A614.4 614.4 0 0 0 1045.8 256M545.2 316A240.2 240.2 0 0 0 1000.2 256M533.9 316A1076 1076 0 0 0 1000.2 256M454.2 316A348.5 348.5 0 0 0 1034.4 256M602.1 316A250 250 0 0 0 1034.4 256M533.9 316A550.2 550.2 0 0 0 1034.4 256M545.2 316A541.1 541.1 0 0 0 1034.4 256M420.1 316A360.2 360.2 0 0 0 1023 256M465.6 316A796.1 796.1 0 0 0 1023 256M624.9 316A400.6 400.6 0 0 0 1057.1 256M488.4 316A303 303 0 0 0 1023 256M442.9 316A1174.6 1174.6 0 0 0 1000.2 256M397.4 316A601.8 601.8 0 0 0 1079.9 256M477 316A245.8 245.8 0 0 0 954.8 256M420.1 316A476.4 476.4 0 0 0 1068.5 256M579.4 316A684.6 684.6 0 0 0 932 256M659 316A214.4 214.4 0 0 0 1023 256M602.1 316A430.6 430.6 0 0 0 988.9 256M624.9 316A345.5 345.5 0 0 0 1068.5 256M386 316A1243.5 1243.5 0 0 0 1000.2 256M556.6 316A223.6 223.6 0 0 0 988.9 256M590.8 316A255.9 255.9 0 0 0 1034.4 256M488.4 316A277.3 277.3 0 0 0 1000.2 256M602.1 316A201.3 201.3 0 0 0 988.9 256M477 316A784.9 784.9 0 0 0 1023 256M522.5 316A401.2 401.2 0 0 0 1057.1 256M408.8 316A293.5 293.5 0 0 0 954.8 256M465.6 316A342.2 342.2 0 0 0 1034.4 256M545.2 316A690.7 690.7 0 0 0 1011.6 256M522.5 316A266 266 0 0 0 1011.6 256M579.4 316A261.8 261.8 0 0 0 1034.4 256M647.6 316A305.6 305.6 0 0 0 1091.2 256M408.8 316A414.2 414.2 0 0 0 1045.8 256M659 316A452.7 452.7 0 0 0 1034.4 256M568 316A506.1 506.1 0 0 0 1023 256M420.1 316A407.5 407.5 0 0 0 1045.8 256M488.4 316A773.8 773.8 0 0 0 1023 256M397.4 316A420.9 420.9 0 0 0 1045.8 256M408.8 316A483.8 483.8 0 0 0 1068.5 256M499.8 316A1110.7 1110.7 0 0 0 1000.2 256M659 316A410.6 410.6 0 0 0 1091.2 256M636.2 316A232.3 232.3 0 0 0 1034.4 256M579.4 316A287 287 0 0 0 1045.8 256M465.6 316A262.5 262.5 0 0 0 966.1 256M590.8 316A280.8 280.8 0 0 0 1045.8 256M590.8 316A358 358 0 0 0 1057.1 256M397.4 316A496.4 496.4 0 0 0 1068.5 256M613.5 316A302.6 302.6 0 0 0 1057.1 256M602.1 316A231.7 231.7 0 0 0 1023 256M397.4 316A896 896 0 0 0 1034.4 256M624.9 316A200.9 200.9 0 0 0 1000.2 256M533.9 316A393.9 393.9 0 0 0 1057.1 256M477 316A1135.5 1135.5 0 0 0 1000.2 256M431.5 316A670.6 670.6 0 0 0 1057.1 256M590.8 316A455.4 455.4 0 0 0 1000.2 256M568 316A267.7 267.7 0 0 0 1034.4 256"/>
<path stroke="#ffff00" d="M522.5 316A1087.2 1087.2 0 0 0 1000.2 256M568 316A859.4 859.4 0 0 0 966.1 256M386 316A743.3 743.3 0 0 0 1068.5 256M602.1 316A274.6 274.6 0 0 0 1045.8 256M442.9 316A542.5 542.5 0 0 0 1068.5 256M659 316A468.4 468.4 0 0 0 1045.8 256M397.4 316A365.6 365.6 0 0 0 1011.6 256M556.6 316A234.6 234.6 0 0 0 1000.2 256M488.4 316A329.8 329.8 0 0 0 1034.4 256M408.8 316A884.3 884.3 0 0 0 1034.4 256M420.1 316A680.3 680.3 0 0 0 1057.1 256M488.4 316A423 423 0 0 0 1057.1 256M511.1 316A480.9 480.9 0 0 0 1057.1 256M431.5 316A550.8 550.8 0 0 0 1068.5 256M454.2 316A1161.3 1161.3 0 0 0 1000.2 256M556.6 316A990.7 990.7 0 0 0 988.9 256M533.9 316A229.1 229.1 0 0 0 977.5 256M386 316A617.2 617.2 0 0 0 1079.9 256M499.8 316A489.1 489.1 0 0 0 1057.1 256M408.8 316A690.1 690.1 0 0 0 1057.1 256M488.4 316A257 257 0 0 0 977.5 256M442.9 316A288.3 288.3 0 0 0 977.5 256M488.4 316A497.3 497.3 0 0 0 1057.1 256M602.1 316A453.9 453.9 0 0 0 932 256M499.8 316A240.3 240.3 0 0 0 966.1 256M579.4 316A480.6 480.6 0 0 0 1011.6 256M602.1 316A350.8 350.8 0 0 0 1057.1 256M386 316A292.9 292.9 0 0 0 932 256M397.4 316A293.2 293.2 0 0 0 943.4 256M420.1 316A872.6 872.6 0 0 0 1034.4 256M613.5 316A268.4 268.4 0 0 0 1045.8 256M420.1 316A1201.7 1201.7 0 0 0 1000.2 256M477 316A262.6 262.6 0 0 0 977.5 256M647.6 316A349.1 349.1 0 0 0 1091.2 256M397.4 316A1229.4 1229.4 0 0 0 1000.2 256M511.1 316A251.4 251.4 0 0 0 988.9 256M647.6 316A396.1 396.1 0 0 0 1068.5 256M499.8 316A415.7 415.7 0 0 0 1057.1 256M533.9 316A260.2 260.2 0 0 0 1011.6 256M636.2 316A297.1 297.1 0 0 0 1068.5 256M659 316A321.5 321.5 0 0 0 1125.4 256M522.5 316A559.5 559.5 0 0 0 1034.4 256M533.9 316A701.2 701.2 0 0 0 1011.6 256M659 316A208.3 208.3 0 0 0 1011.6 256M511.1 316A568.7 568.7 0 0 0 1034.4 256M545.2 316A1065.2 1065.2 0 0 0 1000.2 256M499.8 316A360.9 360.9 0 0 0 1045.8 256M545.2 316A334.4 334.4 0 0 0 1045.8 256M442.9 316A818.7 818.7 0 0 0 1023 256M465.6 316A623.9 623.9 0 0 0 1045.8 256M511.1 316A408.4 408.4 0 0 0 1057.1 256M556.6 316A515.1 515.1 0 0 0 1023 256M431.5 316A400.9 400.9 0 0 0 1045.8 256M522.5 316A347.6 347.6 0 0 0 1045.8 256M397.4 316A324.8 324.8 0 0 0 977.5 256M590.8 316A237.4 237.4 0 0 0 1023 256M511.1 316A291.1 291.1 0 0 0 1023 256M454.2 316A807.4 807.4 0 0 0 1023 256M454.2 316A633.5 633.5 0 0 0 1045.8 256M545.2 316A254.5 254.5 0 0 0 1011.6 256M568 316A428.7 428.7 0 0 0 1045.8 256M647.6 316A263.5 263.5 0 0 0 1068.5 256M477 316A374.2 374.2 0 0 0 1045.8 256M590.8 316A412.8 412.8 0 0 0 1045.8 256M602.1 316A404.9 404.9 0 0 0 1045.8 256M477 316A336 336 0 0 0 1034.4 256M613.5 316A343.7 343.7 0 0 0 1057.1 256M636.2 316A392.7 392.7 0 0 0 1057.1 256M465.6 316A308.5 308.5 0 0 0 1011.6 256M568 316A321.2 321.2 0 0 0 1045.8 256M522.5 316A285.1 285.1 0 0 0 1023 256M465.6 316A282.8 282.8 0 0 0 988.9 256M624.9 316A296 296 0 0 0 1057.1 256M499.8 316A225.9 225.9 0 0 0 943.4 256M647.6 316A191.3 191.3 0 0 0 988.9 256M386 316A509.6 509.6 0 0 0 1068.5 256M511.1 316A722.5 722.5 0 0 0 1011.6 256M556.6 316A652.1 652.1 0 0 0 1000.2 256M579.4 316A550.1 550.1 0 0 0 966.1 256M636.2 316A208.7 208.7 0 0 0 1011.6 256M533.9 316A341 341 0 0 0 1045.8 256M477 316A430.3 430.3 0 0 0 1057.1 256M465.6 316A437.6 437.6 0 0 0 1057.1 256M659 316A359.5 359.5 0 0 0 1114 256M431.5 316A353.9 353.9 0 0 0 1023 256M579.4 316A420.7 420.7 0 0 0 1045.8 256M511.1 316A317.3 317.3 0 0 0 1034.4 256M545.2 316A214.7 214.7 0 0 0 966.1 256M624.9 316A238.2 238.2 0 0 0 1034.4 256M647.6 316A298 298 0 0 0 1079.9 256M442.9 316A268.1 268.1 0 0 0 954.8 256M647.6 316A178.4 178.4 0 0 0 977.5 256M511.1 316A354.2 354.2 0 0 0 1045.8 256M613.5 316A397 397 0 0 0 1045.8 256M499.8 316A323.5 323.5 0 0 0 1034.4 256M636.2 316A262.9 262.9 0 0 0 1057.1 256M545.2 316A444.7 444.7 0 0 0 1045.8 256M454.2 316A387.5 387.5 0 0 0 1045.8 256M408.8 316A853.1 853.1 0 0 0 1023 256M522.5 316A711.8 711.8 0 0 0 1011.6 256M465.6 316A380.8 380.8 0 0 0 1045.8 256M386 316A419.5 419.5 0 0 0 1034.4 256M556.6 316A327.8 327.8 0 0 0 1045.8 256M420.1 316A559.2 559.2 0 0 0 1068.5 256M511.1 316A234.7 234.7 0 0 0 966.1 256M613.5 316A244.1 244.1 0 0 0 1034.4 256M533.9 316A304.9 304.9 0 0 0 1034.4 256M556.6 316A436.7 436.7 0 0 0 1045.8 256M386 316A907.8 907.8 0 0 0 1034.4 256M442.9 316A394.2 394.2 0 0 0 1045.8 256M659 316A250.6 250.6 0 0 0 1057.1 256M636.2 316A338.4 338.4 0 0 0 1068.5 256M477 316A505.5 505.5 0 0 0 1057.1 256M488.4 316A367.5 367.5 0 0 0 1045.8 256M420.1 316A841.6 841.6 0 0 0 1023 256M659 316A314 314 0 0 0 1114 256M659 316A257.3 257.3 0 0 0 1068.5 256M613.5 316A220.1 220.1 0 0 0 1011.6 256M511.1 316A265.8 265.8 0 0 0 1000.2 256M465.6 316A245.8 245.8 0 0 0 943.4 256M420.1 316A319.4 319.4 0 0 0 988.9 256M397.4 316A699.8 699.8 0 0 0 1057.1 256M590.8 316A217.7 217.7 0 0 0 1000.2 256M465.6 316A513.7 513.7 0 0 0 1057.1 256M522.5 316A311.1 311.1 0 0 0 1034.4 256M442.9 316A452.2 452.2 0 0 0 1057.1 256M454.2 316A262.4 262.4 0 0 0 954.8 256M477 316A755 755 0 0 0 1011.6 256M568 316A489.4 489.4 0 0 0 1011.6 256M442.9 316A314 314 0 0 0 1000.2 256M499.8 316A578.1 578.1 0 0 0 1034.4 256M442.9 316A347.7 347.7 0 0 0 1023 256M408.8 316A567.5 567.5 0 0 0 1068.5 256M636.2 316A226.1 226.1 0 0 0 1023 256M477 316A302.5 302.5 0 0 0 1011.6 256M488.4 316A587.4 587.4 0 0 0 1034.4 256M397.4 316A412.8 412.8 0 0 0 1034.4 256M590.8 316A308 308 0 0 0 1045.8 256M613.5 316A181.4 181.4 0 0 0 966.1 256M636.2 316A173.5 173.5 0 0 0 966.1 256M579.4 316A314.6 314.6 0 0 0 1045.8 256M386 316A716.7 716.7 0 0 0 1057.1 256M386 316A324.3 324.3 0 0 0 966.1 256M522.5 316A245.8 245.8 0 0 0 988.9 256M579.4 316A223.3 223.3 0 0 0 1000.2 256M647.6 316A382.6 382.6 0 0 0 977.5 256M556.6 316A267.3 267.3 0 0 0 1023 256M488.4 316A744.1 744.1 0 0 0 1011.6 256M659 316A375 375 0 0 0 977.5 256M659 316A399.4 399.4 0 0 0 1079.9 256M454.2 316A444.9 444.9 0 0 0 1057.1 256M431.5 316A830.1 830.1 0 0 0 1023 256M545.2 316A273.2 273.2 0 0 0 1023 256M659 316A243.9 243.9 0 0 0 1045.8 256M624.9 316A336.6 336.6 0 0 0 1057.1 256M602.1 316A301.5 301.5 0 0 0 1045.8 256M408.8 316A359.3 359.3 0 0 0 1011.6 256M590.8 316A206.8 206.8 0 0 0 988.9 256M431.5 316A288.1 288.1 0 0 0 966.1 256M386 316A364.7 364.7 0 0 0 1000.2 256M397.4 316A582.1 582.1 0 0 0 1068.5 256M556.6 316A248.7 248.7 0 0 0 1011.6 256M556.6 316A292.5 292.5 0 0 0 1034.4 256M613.5 316A206.5 206.5 0 0 0 1000.2 256M499.8 316A733.2 733.2 0 0 0 1011.6 256M545.2 316A524.1 524.1 0 0 0 1023 256M386 316A1175.2 1175.2 0 0 0 988.9 256M522.5 316A460.8 460.8 0 0 0 1045.8 256M647.6 316A256.7 256.7 0 0 0 1057.1 256M442.9 316A643 643 0 0 0 1045.8 256M533.9 316A452.7 452.7 0 0 0 1045.8 256M499.8 316A271.5 271.5 0 0 0 1000.2 256M386 316A317.7 317.7 0 0 0 954.8 256M647.6 316A340.2 340.2 0 0 0 1079.9 256M636.2 316A390.3 390.3 0 0 0 977.5 256M408.8 316A474.1 474.1 0 0 0 1057.1 256M431.5 316A652.6 652.6 0 0 0 1045.8 256M568 316A243 243 0 0 0 1011.6 256M420.1 316A662.2 662.2 0 0 0 1045.8 256M659 316A151.6 151.6 0 0 0 943.4 256M659 316A237.2 237.2 0 0 0 1034.4 256M568 316A363.1 363.1 0 0 0 1045.8 256M465.6 316A335.2 335.2 0 0 0 1023 256M488.4 316A296.6 296.6 0 0 0 1011.6 256M624.9 316A389.2 389.2 0 0 0 1045.8 256M545.2 316A377.4 377.4 0 0 0 1045.8 256M659 316A306.5 306.5 0 0 0 1102.6 256M613.5 316A294.9 294.9 0 0 0 1045.8 256M386 316A876.2 876.2 0 0 0 1023 256M659 316A202.1 202.1 0 0 0 1000.2 256M556.6 316A209.2 209.2 0 0 0 966.1 256M522.5 316A220.3 220.3 0 0 0 954.8 256"/>
<path stroke="#ffef00" d="M624.9 316A195.2 195.2 0 0 0 988.9 256M624.9 316A262.3 262.3 0 0 0 1045.8 256M420.1 316A1134.4 1134.4 0 0 0 988.9 256M624.9 316A398.2 398.2 0 0 0 977.5 256M533.9 316A279.2 279.2 0 0 0 1023 256M545.2 316A298.7 298.7 0 0 0 1034.4 256M420.1 316A466.8 466.8 0 0 0 1057.1 256M454.2 316A777.1 777.1 0 0 0 1011.6 256M568 316A801.7 801.7 0 0 0 954.8 256M386 316A494 494 0 0 0 1057.1 256M647.6 316A384.9 384.9 0 0 0 1057.1 256M397.4 316A864.6 864.6 0 0 0 1023 256M397.4 316A481.5 481.5 0 0 0 1057.1 256M442.9 316A530.2 530.2 0 0 0 1057.1 256M556.6 316A370.3 370.3 0 0 0 1045.8 256M477 316A277.1 277.1 0 0 0 988.9 256M602.1 316A267.8 267.8 0 0 0 1034.4 256M568 316A228.9 228.9 0 0 0 1000.2 256M522.5 316A391.8 391.8 0 0 0 1045.8 256M590.8 316A348.8 348.8 0 0 0 1045.8 256M590.8 316A274 274 0 0 0 1034.4 256M454.2 316A521.9 521.9 0 0 0 1057.1 256M579.4 316A464 464 0 0 0 1000.2 256M465.6 316A766 766 0 0 0 1011.6 256M408.8 316A406.2 406.2 0 0 0 1034.4 256M579.4 316A280.1 280.1 0 0 0 1034.4 256M579.4 316A356 356 0 0 0 1045.8 256M431.5 316A459.5 459.5 0 0 0 1057.1 256M477 316A1069.8 1069.8 0 0 0 988.9 256M477 316A256.9 256.9 0 0 0 966.1 256M442.9 316A262.3 262.3 0 0 0 943.4 256M602.1 316A341.7 341.7 0 0 0 1045.8 256M579.4 316A255.5 255.5 0 0 0 1023 256M636.2 316A256.2 256.2 0 0 0 1045.8 256M659 316A350.7 350.7 0 0 0 1102.6 256M533.9 316A240.1 240.1 0 0 0 988.9 256M533.9 316A384.6 384.6 0 0 0 1045.8 256M465.6 316A606.2 606.2 0 0 0 1034.4 256M590.8 316A488.1 488.1 0 0 0 943.4 256M522.5 316A542.3 542.3 0 0 0 1023 256M568 316A261.4 261.4 0 0 0 1023 256M397.4 316A1161.5 1161.5 0 0 0 988.9 256M659 316A299 299 0 0 0 1091.2 256M590.8 316A438.9 438.9 0 0 0 988.9 256M533.9 316A533.2 533.2 0 0 0 1023 256M420.1 316A353.1 353.1 0 0 0 1011.6 256M477 316A596.8 596.8 0 0 0 1034.4 256M647.6 316A250 250 0 0 0 1045.8 256M499.8 316A477 477 0 0 0 1045.8 256M659 316A388.3 388.3 0 0 0 1068.5 256M511.1 316A468.9 468.9 0 0 0 1045.8 256M454.2 316A341.5 341.5 0 0 0 1023 256M454.2 316A245.7 245.7 0 0 0 932 256M420.1 316A810.7 810.7 0 0 0 1011.6 256M624.9 316A232 232 0 0 0 1023 256M568 316A286.3 286.3 0 0 0 1034.4 256M613.5 316A406.2 406.2 0 0 0 977.5 256M499.8 316A1045.5 1045.5 0 0 0 988.9 256M602.1 316A225.8 225.8 0 0 0 1011.6 256M624.9 316A184.6 184.6 0 0 0 977.5 256M522.5 316A1022.4 1022.4 0 0 0 988.9 256M568 316A586.7 586.7 0 0 0 977.5 256M488.4 316A240.2 240.2 0 0 0 954.8 256M636.2 316A289.5 289.5 0 0 0 1057.1 256M499.8 316A406.3 406.3 0 0 0 1045.8 256M659 316A291.5 291.5 0 0 0 1079.9 256M454.2 316A282.6 282.6 0 0 0 977.5 256M454.2 316A1095 1095 0 0 0 988.9 256M420.1 316A287.8 287.8 0 0 0 954.8 256M636.2 316A164.9 164.9 0 0 0 954.8 256M636.2 316A381.4 381.4 0 0 0 1045.8 256M556.6 316A928.6 928.6 0 0 0 977.5 256M465.6 316A302.1 302.1 0 0 0 1000.2 256M613.5 316A334.7 334.7 0 0 0 1045.8 256M386 316A597.3 597.3 0 0 0 1068.5 256M647.6 316A290.5 290.5 0 0 0 1068.5 256M408.8 316A318.9 318.9 0 0 0 977.5 256M431.5 316A799.5 799.5 0 0 0 1011.6 256M408.8 316A671.9 671.9 0 0 0 1045.8 256M499.8 316A251.3 251.3 0 0 0 977.5 256M511.1 316A399.1 399.1 0 0 0 1045.8 256M590.8 316A231.5 231.5 0 0 0 1011.6 256M431.5 316A1121.1 1121.1 0 0 0 988.9 256M386 316A844.7 844.7 0 0 0 1011.6 256M602.1 316A393.3 393.3 0 0 0 1034.4 256M477 316A329 329 0 0 0 1023 256M602.1 316A414.3 414.3 0 0 0 977.5 256M545.2 316A1000.8 1000.8 0 0 0 988.9 256M488.4 316A1057.5 1057.5 0 0 0 988.9 256M488.4 316A225.9 225.9 0 0 0 932 256M647.6 316A220.3 220.3 0 0 0 1023 256M590.8 316A401.2 401.2 0 0 0 1034.4 256M386 316A691.2 691.2 0 0 0 1045.8 256M545.2 316A223.5 223.5 0 0 0 977.5 256M397.4 316A681.5 681.5 0 0 0 1045.8 256M624.9 316A214.4 214.4 0 0 0 1011.6 256M636.2 316A202.8 202.8 0 0 0 1000.2 256M454.2 316A308 308 0 0 0 1000.2 256M408.8 316A1147.9 1147.9 0 0 0 988.9 256M442.9 316A788.3 788.3 0 0 0 1011.6 256M636.2 316A329.5 329.5 0 0 0 1057.1 256M511.1 316A1033.8 1033.8 0 0 0 988.9 256M522.5 316A229.1 229.1 0 0 0 966.1 256M420.1 316A399.5 399.5 0 0 0 1034.4 256M431.5 316A392.8 392.8 0 0 0 1034.4 256M522.5 316A260 260 0 0 0 1000.2 256M465.6 316A1082.3 1082.3 0 0 0 988.9 256M647.6 316A154 154 0 0 0 943.4 256M442.9 316A386.2 386.2 0 0 0 1034.4 256M397.4 316A833.4 833.4 0 0 0 1011.6 256M647.6 316A331.3 331.3 0 0 0 1068.5 256M579.4 316A409 409 0 0 0 1034.4 256M556.6 316A498.2 498.2 0 0 0 1011.6 256M545.2 316A234.5 234.5 0 0 0 988.9 256M397.4 316A358.5 358.5 0 0 0 1000.2 256M568 316A203.6 203.6 0 0 0 966.1 256M477 316A420.8 420.8 0 0 0 1045.8 256M431.5 316A313.5 313.5 0 0 0 988.9 256M499.8 316A290.6 290.6 0 0 0 1011.6 256M408.8 316A554.9 554.9 0 0 0 1057.1 256M499.8 316A316.6 316.6 0 0 0 1023 256M613.5 316A237.8 237.8 0 0 0 1023 256M499.8 316A560.6 560.6 0 0 0 1023 256M602.1 316A212.1 212.1 0 0 0 1000.2 256M511.1 316A551.4 551.4 0 0 0 1023 256M408.8 316A287.4 287.4 0 0 0 943.4 256M533.9 316A1011.4 1011.4 0 0 0 988.9 256M420.1 316A546.7 546.7 0 0 0 1057.1 256M431.5 316A538.4 538.4 0 0 0 1057.1 256M624.9 316A288.4 288.4 0 0 0 1045.8 256M454.2 316A615.6 615.6 0 0 0 1034.4 256M499.8 316A234.6 234.6 0 0 0 954.8 256M442.9 316A625.1 625.1 0 0 0 1034.4 256M442.9 316A1108 1108 0 0 0 988.9 256M533.9 316A333.2 333.2 0 0 0 1034.4 256M647.6 316A243.3 243.3 0 0 0 1034.4 256M431.5 316A262.1 262.1 0 0 0 932 256M602.1 316A243.7 243.7 0 0 0 1023 256M579.4 316A237.2 237.2 0 0 0 1011.6 256M477 316A493.2 493.2 0 0 0 1045.8 256M488.4 316A485.1 485.1 0 0 0 1045.8 256M488.4 316A359.6 359.6 0 0 0 1034.4 256M556.6 316A424.8 424.8 0 0 0 1034.4 256M659 316A341.9 341.9 0 0 0 1091.2 256M556.6 316A320 320 0 0 0 1034.4 256M533.9 316A672.5 672.5 0 0 0 1000.2 256M408.8 316A822 822 0 0 0 1011.6 256M488.4 316A413.5 413.5 0 0 0 1045.8 256M613.5 316A385.6 385.6 0 0 0 1034.4 256M386 316A411.4 411.4 0 0 0 1023 256M613.5 316A261.7 261.7 0 0 0 1034.4 256M431.5 316A634.6 634.6 0 0 0 1034.4 256M568 316A416.9 416.9 0 0 0 1034.4 256M511.1 316A346.4 346.4 0 0 0 1034.4 256M511.1 316A284.7 284.7 0 0 0 1011.6 256M533.9 316A254.3 254.3 0 0 0 1000.2 256M465.6 316A372.9 372.9 0 0 0 1034.4 256M590.8 316A300.3 300.3 0 0 0 1034.4 256M602.1 316A293.8 293.8 0 0 0 1034.4 256M545.2 316A662.3 662.3 0 0 0 1000.2 256M408.8 316A312.4 312.4 0 0 0 966.1 256M624.9 316A255.5 255.5 0 0 0 1034.4 256M590.8 316A249.6 249.6 0 0 0 1023 256M636.2 316A249.4 249.4 0 0 0 1034.4 256M431.5 316A346.9 346.9 0 0 0 1011.6 256M579.4 316A306.9 306.9 0 0 0 1034.4 256M408.8 316A398.1 398.1 0 0 0 1023 256M511.1 316A693.4 693.4 0 0 0 1000.2 256M602.1 316A195.7 195.7 0 0 0 977.5 256M442.9 316A340.7 340.7 0 0 0 1011.6 256M522.5 316A339.8 339.8 0 0 0 1034.4 256M420.1 316A457.2 457.2 0 0 0 1045.8 256M454.2 316A379.5 379.5 0 0 0 1034.4 256M624.9 316A377.8 377.8 0 0 0 1034.4 256M488.4 316A322.8 322.8 0 0 0 1023 256M647.6 316A373.7 373.7 0 0 0 1045.8 256"/>
<path stroke="#ffdf00" d="M397.4 316A318.3 318.3 0 0 0 966.1 256M465.6 316A428 428 0 0 0 1045.8 256M624.9 316A327.6 327.6 0 0 0 1045.8 256M545.2 316A507.1 507.1 0 0 0 1011.6 256M499.8 316A265.5 265.5 0 0 0 988.9 256M659 316A179.9 179.9 0 0 0 977.5 256M386 316A479.1 479.1 0 0 0 1045.8 256M545.2 316A326.6 326.6 0 0 0 1034.4 256M454.2 316A435.3 435.3 0 0 0 1045.8 256M499.8 316A353 353 0 0 0 1034.4 256M442.9 316A282.3 282.3 0 0 0 966.1 256M659 316A195.9 195.9 0 0 0 988.9 256M579.4 316A198 198 0 0 0 966.1 256M647.6 316A283 283 0 0 0 1057.1 256M533.9 316A440.8 440.8 0 0 0 1034.4 256M568 316A746.2 746.2 0 0 0 943.4 256M397.4 316A563.2 563.2 0 0 0 1057.1 256M556.6 316A217.9 217.9 0 0 0 977.5 256M522.5 316A682.9 682.9 0 0 0 1000.2 256M659 316A377.1 377.1 0 0 0 1057.1 256M568 316A313.4 313.4 0 0 0 1034.4 256M408.8 316A281.3 281.3 0 0 0 932 256M522.5 316A304.2 304.2 0 0 0 1023 256M465.6 316A588.4 588.4 0 0 0 1023 256M545.2 316A432.8 432.8 0 0 0 1034.4 256M636.2 316A281.9 281.9 0 0 0 1045.8 256M386 316A577.7 577.7 0 0 0 1057.1 256M556.6 316A624.1 624.1 0 0 0 988.9 256M465.6 316A256.7 256.7 0 0 0 954.8 256M522.5 316A278.8 278.8 0 0 0 1011.6 256M511.1 316A310.4 310.4 0 0 0 1023 256M408.8 316A464.4 464.4 0 0 0 1045.8 256M397.4 316A287.1 287.1 0 0 0 932 256M431.5 316A449.9 449.9 0 0 0 1045.8 256M590.8 316A201.2 201.2 0 0 0 977.5 256M477 316A366.2 366.2 0 0 0 1034.4 256M556.6 316A285.6 285.6 0 0 0 1023 256M488.4 316A569.9 569.9 0 0 0 1023 256M488.4 316A271.3 271.3 0 0 0 988.9 256M477 316A579.1 579.1 0 0 0 1023 256M533.9 316A214.7 214.7 0 0 0 954.8 256M397.4 316A351.3 351.3 0 0 0 988.9 256M477 316A296.1 296.1 0 0 0 1000.2 256M511.1 316A245.7 245.7 0 0 0 977.5 256M397.4 316A663.1 663.1 0 0 0 1034.4 256M465.6 316A501.4 501.4 0 0 0 1045.8 256M454.2 316A334.4 334.4 0 0 0 1011.6 256M647.6 316A214.1 214.1 0 0 0 1011.6 256M579.4 316A447.4 447.4 0 0 0 988.9 256M488.4 316A714.6 714.6 0 0 0 1000.2 256M397.4 316A471.8 471.8 0 0 0 1045.8 256M420.1 316A346 346 0 0 0 1000.2 256M579.4 316A523.2 523.2 0 0 0 954.8 256M545.2 316A291.8 291.8 0 0 0 1023 256M590.8 316A339.7 339.7 0 0 0 1034.4 256M397.4 316A1095.6 1095.6 0 0 0 977.5 256M408.8 316A653.6 653.6 0 0 0 1034.4 256M533.9 316A272.8 272.8 0 0 0 1011.6 256M602.1 316A332.7 332.7 0 0 0 1034.4 256M659 316A333.1 333.1 0 0 0 1079.9 256M465.6 316A276.8 276.8 0 0 0 977.5 256M408.8 316A352.2 352.2 0 0 0 1000.2 256M545.2 316A248.5 248.5 0 0 0 1000.2 256M545.2 316A266.9 266.9 0 0 0 1011.6 256M636.2 316A370.1 370.1 0 0 0 1034.4 256M386 316A357.5 357.5 0 0 0 988.9 256M397.4 316A404.7 404.7 0 0 0 1023 256M420.1 316A644.1 644.1 0 0 0 1034.4 256M442.9 316A442.6 442.6 0 0 0 1045.8 256M556.6 316A361 361 0 0 0 1034.4 256M568 316A472.6 472.6 0 0 0 1000.2 256M511.1 316A220.3 220.3 0 0 0 943.4 256M454.2 316A509.6 509.6 0 0 0 1045.8 256M579.4 316A346.8 346.8 0 0 0 1034.4 256M499.8 316A703.9 703.9 0 0 0 1000.2 256M397.4 316A311.8 311.8 0 0 0 954.8 256M386 316A403.2 403.2 0 0 0 1011.6 256M533.9 316A516 516 0 0 0 1011.6 256M602.1 316A187 187 0 0 0 966.1 256M477 316A240.2 240.2 0 0 0 943.4 256M431.5 316A307 307 0 0 0 977.5 256M647.6 316A322.4 322.4 0 0 0 1057.1 256M420.1 316A391.4 391.4 0 0 0 1023 256M659 316A284 284 0 0 0 1068.5 256M568 316A223.2 223.2 0 0 0 988.9 256M659 316A359.6 359.6 0 0 0 966.1 256M579.4 316A273.3 273.3 0 0 0 1023 256M590.8 316A192.5 192.5 0 0 0 966.1 256M522.5 316A448.8 448.8 0 0 0 1034.4 256M533.9 316A375.3 375.3 0 0 0 1034.4 256M556.6 316A242.8 242.8 0 0 0 1000.2 256M613.5 316A287.3 287.3 0 0 0 1034.4 256M636.2 316A320.6 320.6 0 0 0 1045.8 256M454.2 316A301.6 301.6 0 0 0 988.9 256M613.5 316A200.8 200.8 0 0 0 988.9 256M511.1 316A456.8 456.8 0 0 0 1034.4 256M420.1 316A312.9 312.9 0 0 0 977.5 256M431.5 316A1056.2 1056.2 0 0 0 977.5 256M579.4 316A217.6 217.6 0 0 0 988.9 256M590.8 316A462 462 0 0 0 932 256M568 316A279.4 279.4 0 0 0 1023 256M568 316A353.9 353.9 0 0 0 1034.4 256M647.6 316A367 367 0 0 0 966.1 256M647.6 316A172.8 172.8 0 0 0 966.1 256M568 316A212.4 212.4 0 0 0 977.5 256M533.9 316A298 298 0 0 0 1023 256M488.4 316A290.2 290.2 0 0 0 1000.2 256M465.6 316A736.1 736.1 0 0 0 1000.2 256M386 316A311.2 311.2 0 0 0 943.4 256M488.4 316A251.2 251.2 0 0 0 966.1 256M522.5 316A240 240 0 0 0 977.5 256M442.9 316A307.5 307.5 0 0 0 988.9 256M545.2 316A368.2 368.2 0 0 0 1034.4 256M420.1 316A534.1 534.1 0 0 0 1045.8 256M408.8 316A1082.4 1082.4 0 0 0 977.5 256M636.2 316A374.5 374.5 0 0 0 966.1 256M647.6 316A275.4 275.4 0 0 0 1045.8 256M613.5 316A231.6 231.6 0 0 0 1011.6 256M442.9 316A607.1 607.1 0 0 0 1023 256M386 316A672.7 672.7 0 0 0 1034.4 256M568 316A255.1 255.1 0 0 0 1011.6 256M624.9 316A280.8 280.8 0 0 0 1034.4 256M556.6 316A261 261 0 0 0 1011.6 256M431.5 316A525.9 525.9 0 0 0 1045.8 256M477 316A725.3 725.3 0 0 0 1000.2 256M454.2 316A597.7 597.7 0 0 0 1023 256M636.2 316A242.7 242.7 0 0 0 1023 256M545.2 316A209.2 209.2 0 0 0 954.8 256M431.5 316A769 769 0 0 0 1000.2 256M442.9 316A517.7 517.7 0 0 0 1045.8 256M511.1 316A389.6 389.6 0 0 0 1034.4 256M613.5 316A325.6 325.6 0 0 0 1034.4 256M431.5 316A339.8 339.8 0 0 0 1000.2 256M488.4 316A234.6 234.6 0 0 0 943.4 256M386 316A350.3 350.3 0 0 0 977.5 256M659 316A276.5 276.5 0 0 0 1057.1 256M522.5 316A382.5 382.5 0 0 0 1034.4 256M386 316A1109 1109 0 0 0 977.5 256M556.6 316A228.8 228.8 0 0 0 988.9 256M522.5 316A525 525 0 0 0 1011.6 256M579.4 316A397.3 397.3 0 0 0 1023 256M624.9 316A248.8 248.8 0 0 0 1023 256M488.4 316A994.1 994.1 0 0 0 977.5 256M431.5 316A282 282 0 0 0 954.8 256M647.6 316A362.5 362.5 0 0 0 1034.4 256M511.1 316A534.1 534.1 0 0 0 1011.6 256M659 316A366 366 0 0 0 1045.8 256M590.8 316A422.5 422.5 0 0 0 977.5 256M465.6 316A328.2 328.2 0 0 0 1011.6 256M624.9 316A208.5 208.5 0 0 0 1000.2 256M465.6 316A1018.3 1018.3 0 0 0 977.5 256M659 316A174 174 0 0 0 966.1 256M613.5 316A374.1 374.1 0 0 0 1023 256M602.1 316A381.8 381.8 0 0 0 1023 256M636.2 316A197 197 0 0 0 988.9 256M579.4 316A206.8 206.8 0 0 0 977.5 256M431.5 316A384.8 384.8 0 0 0 1023 256M624.9 316A382.2 382.2 0 0 0 966.1 256M659 316A324.2 324.2 0 0 0 1068.5 256M488.4 316A472.9 472.9 0 0 0 1034.4 256M488.4 316A404 404 0 0 0 1034.4 256M602.1 316A261 261 0 0 0 1023 256M602.1 316A206.4 206.4 0 0 0 988.9 256M465.6 316A364.9 364.9 0 0 0 1023 256M499.8 316A464.8 464.8 0 0 0 1034.4 256M613.5 316A254.9 254.9 0 0 0 1023 256M511.1 316A970.9 970.9 0 0 0 977.5 256M454.2 316A256.6 256.6 0 0 0 943.4 256M636.2 316A274.4 274.4 0 0 0 1034.4 256M590.8 316A225.6 225.6 0 0 0 1000.2 256M556.6 316A413 413 0 0 0 1023 256M408.8 316A635.3 635.3 0 0 0 1023 256M442.9 316A378.1 378.1 0 0 0 1023 256M624.9 316A318.6 318.6 0 0 0 1034.4 256M397.4 316A396.6 396.6 0 0 0 1011.6 256M420.1 316A1069.2 1069.2 0 0 0 977.5 256M442.9 316A758 758 0 0 0 1000.2 256M624.9 316A366.4 366.4 0 0 0 1023 256"/>
<path stroke="#ffcf00" d="M442.9 316A1043.4 1043.4 0 0 0 977.5 256M477 316A322 322 0 0 0 1011.6 256M590.8 316A389.5 389.5 0 0 0 1023 256M511.1 316A229 229 0 0 0 954.8 256M590.8 316A267.1 267.1 0 0 0 1023 256M408.8 316A542.4 542.4 0 0 0 1045.8 256M533.9 316A948.9 948.9 0 0 0 977.5 256M579.4 316A231.3 231.3 0 0 0 1000.2 256M511.1 316A259.8 259.8 0 0 0 988.9 256M613.5 316A190.1 190.1 0 0 0 977.5 256M397.4 316A462 462 0 0 0 1034.4 256M511.1 316A278.3 278.3 0 0 0 1000.2 256M602.1 316A237.4 237.4 0 0 0 1011.6 256M568 316A692.8 692.8 0 0 0 932 256M568 316A405.1 405.1 0 0 0 1023 256M636.2 316A219.9 219.9 0 0 0 1011.6 256M499.8 316A396.8 396.8 0 0 0 1034.4 256M420.1 316A625.9 625.9 0 0 0 1023 256M386 316A558.8 558.8 0 0 0 1045.8 256M386 316A469.3 469.3 0 0 0 1034.4 256M556.6 316A312.2 312.2 0 0 0 1023 256M408.8 316A345.1 345.1 0 0 0 988.9 256M488.4 316A315.8 315.8 0 0 0 1011.6 256M454.2 316A747 747 0 0 0 1000.2 256M533.9 316A223.5 223.5 0 0 0 966.1 256M568 316A559.3 559.3 0 0 0 966.1 256M590.8 316A243.3 243.3 0 0 0 1011.6 256M431.5 316A616.5 616.5 0 0 0 1023 256M499.8 316A982.3 982.3 0 0 0 977.5 256M613.5 316A390 390 0 0 0 966.1 256M556.6 316A481.3 481.3 0 0 0 1000.2 256M420.1 316A306.5 306.5 0 0 0 966.1 256M408.8 316A791.1 791.1 0 0 0 1000.2 256M659 316A269 269 0 0 0 1045.8 256M647.6 316A313.6 313.6 0 0 0 1045.8 256M397.4 316A550.6 550.6 0 0 0 1045.8 256M477 316A1006.1 1006.1 0 0 0 977.5 256M556.6 316A868.7 868.7 0 0 0 966.1 256M579.4 316A299.2 299.2 0 0 0 1023 256M420.1 316A780 780 0 0 0 1000.2 256M499.8 316A345.1 345.1 0 0 0 1023 256M647.6 316A207.9 207.9 0 0 0 1000.2 256M533.9 316A234.4 234.4 0 0 0 977.5 256M465.6 316A418.5 418.5 0 0 0 1034.4 256M488.4 316A552.3 552.3 0 0 0 1011.6 256M636.2 316A358.8 358.8 0 0 0 1023 256M659 316A230.6 230.6 0 0 0 1023 256M522.5 316A959.7 959.7 0 0 0 977.5 256M499.8 316A543.2 543.2 0 0 0 1011.6 256M647.6 316A267.9 267.9 0 0 0 1034.4 256M545.2 316A318.8 318.8 0 0 0 1023 256M477 316A358.3 358.3 0 0 0 1023 256M488.4 316A265.3 265.3 0 0 0 977.5 256M454.2 316A1030.8 1030.8 0 0 0 977.5 256M613.5 316A214.2 214.2 0 0 0 1000.2 256M442.9 316A432.9 432.9 0 0 0 1034.4 256M465.6 316A240.1 240.1 0 0 0 932 256M545.2 316A420.9 420.9 0 0 0 1023 256M477 316A561.4 561.4 0 0 0 1011.6 256M408.8 316A454.7 454.7 0 0 0 1034.4 256M568 316A305.7 305.7 0 0 0 1023 256M454.2 316A276.5 276.5 0 0 0 966.1 256M522.5 316A331.9 331.9 0 0 0 1023 256M499.8 316A284.2 284.2 0 0 0 1000.2 256M545.2 316A938.5 938.5 0 0 0 977.5 256M568 316A237 237 0 0 0 1000.2 256M636.2 316A311.6 311.6 0 0 0 1034.4 256M454.2 316A371.5 371.5 0 0 0 1023 256M386 316A813.4 813.4 0 0 0 1000.2 256M579.4 316A249.2 249.2 0 0 0 1011.6 256M579.4 316A496.6 496.6 0 0 0 943.4 256M477 316A411.2 411.2 0 0 0 1034.4 256M431.5 316A440.2 440.2 0 0 0 1034.4 256M465.6 316A295.6 295.6 0 0 0 988.9 256M659 316A161.7 161.7 0 0 0 954.8 256M420.1 316A281.7 281.7 0 0 0 943.4 256M465.6 316A489 489 0 0 0 1034.4 256M431.5 316A275.9 275.9 0 0 0 943.4 256M477 316A271 271 0 0 0 977.5 256M522.5 316A254 254 0 0 0 988.9 256M477 316A481 481 0 0 0 1034.4 256M442.9 316A301.1 301.1 0 0 0 977.5 256M613.5 316A175.9 175.9 0 0 0 954.8 256M647.6 316A162.5 162.5 0 0 0 954.8 256M386 316A654.2 654.2 0 0 0 1023 256M442.9 316A333.6 333.6 0 0 0 1000.2 256M659 316A315.4 315.4 0 0 0 1057.1 256M636.2 316A184 184 0 0 0 977.5 256M454.2 316A425.7 425.7 0 0 0 1034.4 256M465.6 316A270.8 270.8 0 0 0 966.1 256M624.9 316A225.7 225.7 0 0 0 1011.6 256M545.2 316A634 634 0 0 0 988.9 256M659 316A261.5 261.5 0 0 0 1034.4 256M511.1 316A338.5 338.5 0 0 0 1023 256M602.1 316A286.2 286.2 0 0 0 1023 256M442.9 316A256.4 256.4 0 0 0 932 256M624.9 316A179 179 0 0 0 966.1 256M408.8 316A389.9 389.9 0 0 0 1011.6 256M556.6 316A351.7 351.7 0 0 0 1023 256M579.4 316A337.6 337.6 0 0 0 1023 256M659 316A354.9 354.9 0 0 0 1034.4 256M499.8 316A220.3 220.3 0 0 0 932 256M613.5 316A279.7 279.7 0 0 0 1023 256M397.4 316A802.2 802.2 0 0 0 1000.2 256M420.1 316A447.4 447.4 0 0 0 1034.4 256M590.8 316A212 212 0 0 0 988.9 256M397.4 316A644.7 644.7 0 0 0 1023 256M590.8 316A292.6 292.6 0 0 0 1023 256M488.4 316A351.7 351.7 0 0 0 1023 256M477 316A234.5 234.5 0 0 0 932 256M568 316A455.9 455.9 0 0 0 988.9 256M499.8 316A245.5 245.5 0 0 0 966.1 256M533.9 316A325.3 325.3 0 0 0 1023 256M647.6 316A236.6 236.6 0 0 0 1023 256M624.9 316A273.2 273.2 0 0 0 1023 256M499.8 316A309.6 309.6 0 0 0 1011.6 256M454.2 316A579.8 579.8 0 0 0 1011.6 256M511.1 316A303.4 303.4 0 0 0 1011.6 256M477 316A251.1 251.1 0 0 0 954.8 256M408.8 316A305.9 305.9 0 0 0 954.8 256M522.5 316A654.2 654.2 0 0 0 988.9 256M522.5 316A436.7 436.7 0 0 0 1023 256M556.6 316A203.6 203.6 0 0 0 954.8 256M397.4 316A344.1 344.1 0 0 0 977.5 256M465.6 316A570.6 570.6 0 0 0 1011.6 256M659 316A223.9 223.9 0 0 0 1011.6 256M602.1 316A398 398 0 0 0 966.1 256M442.9 316A505.3 505.3 0 0 0 1034.4 256M533.9 316A428.8 428.8 0 0 0 1023 256M568 316A344.7 344.7 0 0 0 1023 256M420.1 316A275.6 275.6 0 0 0 932 256M545.2 316A284.9 284.9 0 0 0 1011.6 256M602.1 316A323.6 323.6 0 0 0 1023 256M420.1 316A383.3 383.3 0 0 0 1011.6 256M420.1 316A338.9 338.9 0 0 0 988.9 256M636.2 316A266.8 266.8 0 0 0 1023 256M522.5 316A272.4 272.4 0 0 0 1000.2 256M556.6 316A596.3 596.3 0 0 0 977.5 256M533.9 316A248.3 248.3 0 0 0 988.9 256M613.5 316A316.6 316.6 0 0 0 1023 256M533.9 316A291 291 0 0 0 1011.6 256M545.2 316A358.8 358.8 0 0 0 1023 256M522.5 316A297.2 297.2 0 0 0 1011.6 256M454.2 316A497.2 497.2 0 0 0 1034.4 256M522.5 316A214.7 214.7 0 0 0 943.4 256M533.9 316A644.1 644.1 0 0 0 988.9 256M590.8 316A330.6 330.6 0 0 0 1023 256M602.1 316A219.9 219.9 0 0 0 1000.2 256M465.6 316A321.2 321.2 0 0 0 1000.2 256M647.6 316A351.3 351.3 0 0 0 1023 256M624.9 316A202.6 202.6 0 0 0 988.9 256M431.5 316A513.4 513.4 0 0 0 1034.4 256M386 316A395 395 0 0 0 1000.2 256M545.2 316A217.9 217.9 0 0 0 966.1 256M647.6 316A304.7 304.7 0 0 0 1034.4 256M386 316A1044.9 1044.9 0 0 0 966.1 256M499.8 316A674.8 674.8 0 0 0 988.9 256M533.9 316A266.5 266.5 0 0 0 1000.2 256M477 316A289.7 289.7 0 0 0 988.9 256M568 316A272.6 272.6 0 0 0 1011.6 256M613.5 316A248.1 248.1 0 0 0 1011.6 256M624.9 316A309.6 309.6 0 0 0 1023 256M647.6 316A201.7 201.7 0 0 0 988.9 256M511.1 316A239.9 239.9 0 0 0 966.1 256M397.4 316A537.9 537.9 0 0 0 1034.4 256M613.5 316A362.6 362.6 0 0 0 1011.6 256M397.4 316A305.3 305.3 0 0 0 943.4 256M533.9 316A498.9 498.9 0 0 0 1000.2 256M545.2 316A490.1 490.1 0 0 0 1000.2 256M556.6 316A278.7 278.7 0 0 0 1011.6 256"/>
<path stroke="#ffbf00" d="M522.5 316A373.1 373.1 0 0 0 1023 256M499.8 316A452.6 452.6 0 0 0 1023 256M511.1 316A664.5 664.5 0 0 0 988.9 256M659 316A306.6 306.6 0 0 0 1045.8 256M602.1 316A370.2 370.2 0 0 0 1011.6 256M420.1 316A607.6 607.6 0 0 0 1011.6 256M408.8 316A444.9 444.9 0 0 0 1023 256M442.9 316A589.1 589.1 0 0 0 1011.6 256M545.2 316A242.5 242.5 0 0 0 988.9 256M386 316A304.6 304.6 0 0 0 932 256M511.1 316A444.7 444.7 0 0 0 1023 256M636.2 316A213.7 213.7 0 0 0 1000.2 256M408.8 316A529.7 529.7 0 0 0 1034.4 256M442.9 316A981 981 0 0 0 966.1 256M386 316A635.6 635.6 0 0 0 1011.6 256M454.2 316A327.4 327.4 0 0 0 1000.2 256M602.1 316A254.2 254.2 0 0 0 1011.6 256M420.1 316A1006.1 1006.1 0 0 0 966.1 256M499.8 316A387.4 387.4 0 0 0 1023 256M431.5 316A598.3 598.3 0 0 0 1011.6 256M590.8 316A377.9 377.9 0 0 0 1011.6 256M442.9 316A276.2 276.2 0 0 0 954.8 256M386 316A459.4 459.4 0 0 0 1023 256M533.9 316A365.9 365.9 0 0 0 1023 256M545.2 316A260.6 260.6 0 0 0 1000.2 256M636.2 316A302.7 302.7 0 0 0 1023 256M659 316A344.2 344.2 0 0 0 954.8 256M590.8 316A260.3 260.3 0 0 0 1011.6 256M386 316A546.1 546.1 0 0 0 1034.4 256M420.1 316A521.6 521.6 0 0 0 1034.4 256M465.6 316A408.9 408.9 0 0 0 1023 256M477 316A695.8 695.8 0 0 0 988.9 256M556.6 316A254.7 254.7 0 0 0 1000.2 256M442.9 316A370.1 370.1 0 0 0 1011.6 256M556.6 316A810.8 810.8 0 0 0 954.8 256M568 316A393.3 393.3 0 0 0 1011.6 256M431.5 316A300.5 300.5 0 0 0 966.1 256M397.4 316A626.3 626.3 0 0 0 1011.6 256M386 316A343.1 343.1 0 0 0 966.1 256M499.8 316A229 229 0 0 0 943.4 256M397.4 316A1031.8 1031.8 0 0 0 966.1 256M579.4 316A430.8 430.8 0 0 0 977.5 256M454.2 316A270.5 270.5 0 0 0 954.8 256M431.5 316A376.7 376.7 0 0 0 1011.6 256M454.2 316A363.5 363.5 0 0 0 1011.6 256M511.1 316A516.7 516.7 0 0 0 1000.2 256M624.9 316A355 355 0 0 0 1011.6 256M511.1 316A380.2 380.2 0 0 0 1023 256M556.6 316A212.3 212.3 0 0 0 966.1 256M488.4 316A685.3 685.3 0 0 0 988.9 256M420.1 316A437.7 437.7 0 0 0 1023 256M499.8 316A259.5 259.5 0 0 0 977.5 256M522.5 316A507.8 507.8 0 0 0 1000.2 256M647.6 316A229.9 229.9 0 0 0 1011.6 256M568 316A198 198 0 0 0 954.8 256M647.6 316A185.5 185.5 0 0 0 977.5 256M647.6 316A351.4 351.4 0 0 0 954.8 256M579.4 316A385.6 385.6 0 0 0 1011.6 256M659 316A217.2 217.2 0 0 0 1000.2 256M465.6 316A476.7 476.7 0 0 0 1023 256M624.9 316A170.4 170.4 0 0 0 954.8 256M545.2 316A228.7 228.7 0 0 0 977.5 256M386 316A335.9 335.9 0 0 0 954.8 256M579.4 316A266.4 266.4 0 0 0 1011.6 256M408.8 316A616.9 616.9 0 0 0 1011.6 256M659 316A343.8 343.8 0 0 0 1023 256M613.5 316A184.6 184.6 0 0 0 966.1 256M477 316A401.7 401.7 0 0 0 1023 256M454.2 316A295.1 295.1 0 0 0 977.5 256M477 316A315 315 0 0 0 1000.2 256M499.8 316A277.9 277.9 0 0 0 988.9 256M477 316A265 265 0 0 0 966.1 256M636.2 316A347.5 347.5 0 0 0 1011.6 256M454.2 316A717.1 717.1 0 0 0 988.9 256M477 316A944.5 944.5 0 0 0 966.1 256M499.8 316A921.3 921.3 0 0 0 966.1 256M397.4 316A388.4 388.4 0 0 0 1000.2 256M431.5 316A993.5 993.5 0 0 0 966.1 256M477 316A468.6 468.6 0 0 0 1023 256M636.2 316A159.4 159.4 0 0 0 943.4 256M442.9 316A423.3 423.3 0 0 0 1023 256M659 316A146.1 146.1 0 0 0 932 256M545.2 316A408.9 408.9 0 0 0 1011.6 256M397.4 316A452.2 452.2 0 0 0 1023 256M590.8 316A237 237 0 0 0 1000.2 256M636.2 316A236 236 0 0 0 1011.6 256M465.6 316A250.9 250.9 0 0 0 943.4 256M624.9 316A189.5 189.5 0 0 0 977.5 256M488.4 316A460.6 460.6 0 0 0 1023 256M659 316A297.8 297.8 0 0 0 1034.4 256M431.5 316A332.7 332.7 0 0 0 988.9 256M420.1 316A749.5 749.5 0 0 0 988.9 256M556.6 316A401.1 401.1 0 0 0 1011.6 256M636.2 316A358.7 358.7 0 0 0 954.8 256M454.2 316A968.6 968.6 0 0 0 966.1 256M408.8 316A1018.9 1018.9 0 0 0 966.1 256M613.5 316A272 272 0 0 0 1011.6 256M522.5 316A223.4 223.4 0 0 0 954.8 256M636.2 316A178.3 178.3 0 0 0 966.1 256M488.4 316A394.5 394.5 0 0 0 1023 256M579.4 316A242.9 242.9 0 0 0 1000.2 256M568 316A532.2 532.2 0 0 0 954.8 256M488.4 316A308.8 308.8 0 0 0 1000.2 256M408.8 316A337.9 337.9 0 0 0 977.5 256M568 316A297.9 297.9 0 0 0 1011.6 256M545.2 316A310.9 310.9 0 0 0 1011.6 256M522.5 316A899.2 899.2 0 0 0 966.1 256M465.6 316A706.4 706.4 0 0 0 988.9 256M568 316A231.1 231.1 0 0 0 988.9 256M431.5 316A430.5 430.5 0 0 0 1023 256M579.4 316A225.4 225.4 0 0 0 988.9 256M624.9 316A242 242 0 0 0 1011.6 256M477 316A350.3 350.3 0 0 0 1011.6 256M488.4 316A343.7 343.7 0 0 0 1011.6 256M647.6 316A260.4 260.4 0 0 0 1023 256M386 316A782.3 782.3 0 0 0 988.9 256M602.1 316A278.5 278.5 0 0 0 1011.6 256M397.4 316A771.3 771.3 0 0 0 988.9 256M465.6 316A356.9 356.9 0 0 0 1011.6 256M386 316A449.5 449.5 0 0 0 1011.6 256M488.4 316A283.8 283.8 0 0 0 988.9 256M454.2 316A416.1 416.1 0 0 0 1023 256M602.1 316A200.7 200.7 0 0 0 977.5 256M522.5 316A234.3 234.3 0 0 0 966.1 256M431.5 316A738.6 738.6 0 0 0 988.9 256M624.9 316A219.5 219.5 0 0 0 1000.2 256M590.8 316A284.9 284.9 0 0 0 1011.6 256M488.4 316A534.7 534.7 0 0 0 1000.2 256M545.2 316A878.4 878.4 0 0 0 966.1 256M647.6 316A340 340 0 0 0 1011.6 256M556.6 316A304.4 304.4 0 0 0 1011.6 256M420.1 316A375.2 375.2 0 0 0 1000.2 256M511.1 316A296.4 296.4 0 0 0 1000.2 256M613.5 316A208.3 208.3 0 0 0 988.9 256M488.4 316A932.8 932.8 0 0 0 966.1 256M613.5 316A307.5 307.5 0 0 0 1011.6 256M533.9 316A317.5 317.5 0 0 0 1011.6 256M556.6 316A223.1 223.1 0 0 0 977.5 256M579.4 316A192.5 192.5 0 0 0 954.8 256M499.8 316A525.7 525.7 0 0 0 1000.2 256M613.5 316A373.9 373.9 0 0 0 954.8 256M408.8 316A517 517 0 0 0 1023 256M568 316A206.8 206.8 0 0 0 966.1 256M465.6 316A956.5 956.5 0 0 0 966.1 256M488.4 316A245.4 245.4 0 0 0 954.8 256M602.1 316A314.5 314.5 0 0 0 1011.6 256M408.8 316A381.8 381.8 0 0 0 1000.2 256M420.1 316A299.9 299.9 0 0 0 954.8 256M624.9 316A366.3 366.3 0 0 0 954.8 256M533.9 316A416.7 416.7 0 0 0 1011.6 256M442.9 316A270.2 270.2 0 0 0 943.4 256M511.1 316A330.6 330.6 0 0 0 1011.6 256M511.1 316A910.1 910.1 0 0 0 966.1 256M442.9 316A492.8 492.8 0 0 0 1023 256M590.8 316A206.3 206.3 0 0 0 977.5 256M579.4 316A470.3 470.3 0 0 0 932 256M568 316A248.8 248.8 0 0 0 1000.2 256M613.5 316A225.3 225.3 0 0 0 1000.2 256M408.8 316A760.4 760.4 0 0 0 988.9 256M568 316A335.4 335.4 0 0 0 1011.6 256M511.1 316A253.8 253.8 0 0 0 977.5 256M533.9 316A888.6 888.6 0 0 0 966.1 256M556.6 316A236.8 236.8 0 0 0 988.9 256M522.5 316A324 324 0 0 0 1011.6 256M590.8 316A321.4 321.4 0 0 0 1011.6 256M579.4 316A291.4 291.4 0 0 0 1011.6 256M397.4 316A970.1 970.1 0 0 0 954.8 256M647.6 316A295.8 295.8 0 0 0 1023 256M659 316A254 254 0 0 0 1023 256M454.2 316A484.7 484.7 0 0 0 1023 256M397.4 316A380.2 380.2 0 0 0 988.9 256M442.9 316A727.8 727.8 0 0 0 988.9 256M454.2 316A320.3 320.3 0 0 0 988.9 256M499.8 316A337.1 337.1 0 0 0 1011.6 256M590.8 316A406 406 0 0 0 966.1 256"/>
<path stroke="#ffaf00" d="M420.1 316A508.9 508.9 0 0 0 1023 256M556.6 316A464.5 464.5 0 0 0 988.9 256M602.1 316A214 214 0 0 0 988.9 256M545.2 316A349.5 349.5 0 0 0 1011.6 256M431.5 316A368.6 368.6 0 0 0 1000.2 256M465.6 316A552.8 552.8 0 0 0 1000.2 256M408.8 316A330.8 330.8 0 0 0 966.1 256M465.6 316A289.2 289.2 0 0 0 977.5 256M397.4 316A442.3 442.3 0 0 0 1011.6 256M602.1 316A181.4 181.4 0 0 0 954.8 256M499.8 316A239.8 239.8 0 0 0 954.8 256M590.8 316A187 187 0 0 0 954.8 256M556.6 316A342.5 342.5 0 0 0 1011.6 256M499.8 316A302.6 302.6 0 0 0 1000.2 256M579.4 316A328.4 328.4 0 0 0 1011.6 256M431.5 316A500.8 500.8 0 0 0 1023 256M386 316A386.7 386.7 0 0 0 988.9 256M477 316A543.7 543.7 0 0 0 1000.2 256M624.9 316A265.6 265.6 0 0 0 1011.6 256M579.4 316A201.2 201.2 0 0 0 966.1 256M568 316A217.5 217.5 0 0 0 977.5 256M522.5 316A248 248 0 0 0 977.5 256M442.9 316A294.6 294.6 0 0 0 966.1 256M386 316A533.2 533.2 0 0 0 1023 256M454.2 316A250.8 250.8 0 0 0 932 256M511.1 316A271.9 271.9 0 0 0 988.9 256M659 316A332.7 332.7 0 0 0 1011.6 256M602.1 316A231.2 231.2 0 0 0 1000.2 256M431.5 316A325.6 325.6 0 0 0 977.5 256M522.5 316A424.6 424.6 0 0 0 1011.6 256M636.2 316A207.5 207.5 0 0 0 988.9 256M636.2 316A259.2 259.2 0 0 0 1011.6 256M397.4 316A336.9 336.9 0 0 0 966.1 256M647.6 316A223.2 223.2 0 0 0 1000.2 256M511.1 316A214.7 214.7 0 0 0 932 256M442.9 316A326.5 326.5 0 0 0 988.9 256M659 316A210.5 210.5 0 0 0 988.9 256M556.6 316A755.1 755.1 0 0 0 943.4 256M624.9 316A300.6 300.6 0 0 0 1011.6 256M408.8 316A299.3 299.3 0 0 0 943.4 256M511.1 316A432.5 432.5 0 0 0 1011.6 256M386 316A982.8 982.8 0 0 0 954.8 256M533.9 316A356.6 356.6 0 0 0 1011.6 256M522.5 316A290.3 290.3 0 0 0 1000.2 256M533.9 316A284.1 284.1 0 0 0 1000.2 256M431.5 316A580.2 580.2 0 0 0 1000.2 256M488.4 316A228.9 228.9 0 0 0 932 256M408.8 316A957.5 957.5 0 0 0 954.8 256M533.9 316A615.8 615.8 0 0 0 977.5 256M431.5 316A932.7 932.7 0 0 0 954.8 256M397.4 316A525.1 525.1 0 0 0 1023 256M556.6 316A271.8 271.8 0 0 0 1000.2 256M579.4 316A211.9 211.9 0 0 0 977.5 256M590.8 316A366.2 366.2 0 0 0 1000.2 256M602.1 316A381.7 381.7 0 0 0 954.8 256M522.5 316A266 266 0 0 0 988.9 256M647.6 316A252.8 252.8 0 0 0 1011.6 256M659 316A328.9 328.9 0 0 0 943.4 256M465.6 316A264.7 264.7 0 0 0 954.8 256M420.1 316A331.7 331.7 0 0 0 977.5 256M636.2 316A293.8 293.8 0 0 0 1011.6 256M431.5 316A269.8 269.8 0 0 0 932 256M442.9 316A571 571 0 0 0 1000.2 256M545.2 316A278 278 0 0 0 1000.2 256M613.5 316A351.1 351.1 0 0 0 1000.2 256M590.8 316A219.7 219.7 0 0 0 988.9 256M624.9 316A343.6 343.6 0 0 0 1000.2 256M636.2 316A229.2 229.2 0 0 0 1000.2 256M420.1 316A427.9 427.9 0 0 0 1011.6 256M408.8 316A435.1 435.1 0 0 0 1011.6 256M590.8 316A253.5 253.5 0 0 0 1000.2 256M545.2 316A203.6 203.6 0 0 0 943.4 256M659 316A246.5 246.5 0 0 0 1011.6 256M545.2 316A473.1 473.1 0 0 0 988.9 256M533.9 316A217.9 217.9 0 0 0 954.8 256M522.5 316A363.6 363.6 0 0 0 1011.6 256M659 316A289 289 0 0 0 1023 256M511.1 316A370.7 370.7 0 0 0 1011.6 256M545.2 316A606 606 0 0 0 977.5 256M636.2 316A168 168 0 0 0 954.8 256M442.9 316A362 362 0 0 0 1000.2 256M454.2 316A561.9 561.9 0 0 0 1000.2 256M488.4 316A448.3 448.3 0 0 0 1011.6 256M636.2 316A336.2 336.2 0 0 0 1000.2 256M488.4 316A259.3 259.3 0 0 0 966.1 256M590.8 316A195.6 195.6 0 0 0 966.1 256M511.1 316A635.8 635.8 0 0 0 977.5 256M568 316A439.1 439.1 0 0 0 977.5 256M386 316A922.7 922.7 0 0 0 943.4 256M454.2 316A406.4 406.4 0 0 0 1011.6 256M397.4 316A329.7 329.7 0 0 0 954.8 256M488.4 316A385 385 0 0 0 1011.6 256M602.1 316A190.1 190.1 0 0 0 966.1 256M533.9 316A242.3 242.3 0 0 0 977.5 256M579.4 316A259.6 259.6 0 0 0 1000.2 256M533.9 316A209.2 209.2 0 0 0 943.4 256M386 316A378.5 378.5 0 0 0 977.5 256M408.8 316A292.8 292.8 0 0 0 932 256M465.6 316A348.8 348.8 0 0 0 1000.2 256M602.1 316A358.6 358.6 0 0 0 1000.2 256M579.4 316A373.8 373.8 0 0 0 1000.2 256M408.8 316A373.6 373.6 0 0 0 988.9 256M420.1 316A589.3 589.3 0 0 0 1000.2 256M477 316A392.1 392.1 0 0 0 1011.6 256M533.9 316A260.1 260.1 0 0 0 988.9 256M499.8 316A440.4 440.4 0 0 0 1011.6 256M522.5 316A625.7 625.7 0 0 0 977.5 256M465.6 316A314.1 314.1 0 0 0 988.9 256M477 316A456.3 456.3 0 0 0 1011.6 256M613.5 316A195.1 195.1 0 0 0 977.5 256M647.6 316A335.9 335.9 0 0 0 943.4 256M442.9 316A413.6 413.6 0 0 0 1011.6 256M624.9 316A213.3 213.3 0 0 0 988.9 256M420.1 316A945 945 0 0 0 954.8 256M659 316A189.8 189.8 0 0 0 977.5 256M488.4 316A277.4 277.4 0 0 0 977.5 256M397.4 316A298.7 298.7 0 0 0 932 256M408.8 316A598.5 598.5 0 0 0 1000.2 256M647.6 316A286.9 286.9 0 0 0 1011.6 256M442.9 316A920.5 920.5 0 0 0 954.8 256M488.4 316A656.2 656.2 0 0 0 977.5 256M545.2 316A254.2 254.2 0 0 0 988.9 256M624.9 316A235.3 235.3 0 0 0 1000.2 256M465.6 316A896.7 896.7 0 0 0 954.8 256M499.8 316A377.8 377.8 0 0 0 1011.6 256M386 316A520.4 520.4 0 0 0 1011.6 256M556.6 316A568.7 568.7 0 0 0 966.1 256M511.1 316A851.4 851.4 0 0 0 954.8 256M386 316A617 617 0 0 0 1000.2 256M488.4 316A873.6 873.6 0 0 0 954.8 256M647.6 316A328.8 328.8 0 0 0 1000.2 256M556.6 316A389.2 389.2 0 0 0 1000.2 256M431.5 316A420.7 420.7 0 0 0 1011.6 256M613.5 316A241.3 241.3 0 0 0 1000.2 256M465.6 316A399.2 399.2 0 0 0 1011.6 256M533.9 316A481.8 481.8 0 0 0 988.9 256M386 316A328.6 328.6 0 0 0 943.4 256M522.5 316A490.5 490.5 0 0 0 988.9 256M568 316A265.7 265.7 0 0 0 1000.2 256M454.2 316A472.2 472.2 0 0 0 1011.6 256M511.1 316A223.4 223.4 0 0 0 943.4 256M556.6 316A701.6 701.6 0 0 0 932 256M636.2 316A343 343 0 0 0 943.4 256M499.8 316A645.9 645.9 0 0 0 977.5 256M533.9 316A228.6 228.6 0 0 0 966.1 256M568 316A381.5 381.5 0 0 0 1000.2 256M511.1 316A322.6 322.6 0 0 0 1000.2 256M477 316A245.3 245.3 0 0 0 943.4 256M545.2 316A212.3 212.3 0 0 0 954.8 256M477 316A307.9 307.9 0 0 0 988.9 256M431.5 316A708.5 708.5 0 0 0 977.5 256M647.6 316A216.5 216.5 0 0 0 988.9 256M568 316A505.3 505.3 0 0 0 943.4 256M590.8 316A277.2 277.2 0 0 0 1000.2 256M397.4 316A740.5 740.5 0 0 0 977.5 256M477 316A283.3 283.3 0 0 0 977.5 256M533.9 316A830.4 830.4 0 0 0 954.8 256M454.2 316A355.4 355.4 0 0 0 1000.2 256M659 316A156.1 156.1 0 0 0 943.4 256M579.4 316A414.2 414.2 0 0 0 966.1 256M488.4 316A335.7 335.7 0 0 0 1000.2 256M465.6 316A464.2 464.2 0 0 0 1011.6 256M397.4 316A607.8 607.8 0 0 0 1000.2 256M431.5 316A294 294 0 0 0 954.8 256M420.1 316A324.6 324.6 0 0 0 966.1 256M442.9 316A319.4 319.4 0 0 0 977.5 256M397.4 316A910.4 910.4 0 0 0 943.4 256M647.6 316A179.6 179.6 0 0 0 966.1 256M477 316A342.3 342.3 0 0 0 1000.2 256M386 316A439.6 439.6 0 0 0 1000.2 256M602.1 316A247.4 247.4 0 0 0 1000.2 256M397.4 316A512.3 512.3 0 0 0 1011.6 256M499.8 316A862.4 862.4 0 0 0 954.8 256M556.6 316A296.6 296.6 0 0 0 1000.2 256M590.8 316A312.3 312.3 0 0 0 1000.2 256M579.4 316A236.6 236.6 0 0 0 988.9 256M420.1 316A496.2 496.2 0 0 0 1011.6 256M465.6 316A676.9 676.9 0 0 0 977.5 256M420.1 316A367 367 0 0 0 988.9 256M579.4 316A283.7 283.7 0 0 0 1000.2 256M477 316A885 885 0 0 0 954.8 256M511.1 316A234.1 234.1 0 0 0 954.8 256M568 316A242.5 242.5 0 0 0 988.9 256M636.2 316A191.1 191.1 0 0 0 977.5 256M545.2 316A396.9 396.9 0 0 0 1000.2 256M454.2 316A908.5 908.5 0 0 0 954.8 256M533.9 316A309.6 309.6 0 0 0 1000.2 256M533.9 316A404.7 404.7 0 0 0 1000.2 256M499.8 316A508.2 508.2 0 0 0 988.9 256M659 316A321.6 321.6 0 0 0 1000.2 256M488.4 316A239.6 239.6 0 0 0 943.4 256M659 316A280.2 280.2 0 0 0 1011.6 256M659 316A239 239 0 0 0 1000.2 256M442.9 316A480.2 480.2 0 0 0 1011.6 256M420.1 316A886 886 0 0 0 943.4 256M454.2 316A288.7 288.7 0 0 0 966.1 256M499.8 316A295.6 295.6 0 0 0 988.9 256M636.2 316A251.6 251.6 0 0 0 1000.2 256M522.5 316A840.7 840.7 0 0 0 954.8 256M613.5 316A264.4 264.4 0 0 0 1000.2 256M545.2 316A303.1 303.1 0 0 0 1000.2 256M613.5 316A219.1 219.1 0 0 0 988.9 256M624.9 316A258 258 0 0 0 1000.2 256M465.6 316A282.8 282.8 0 0 0 966.1 256M579.4 316A319.2 319.2 0 0 0 1000.2 256M386 316A751.3 751.3 0 0 0 977.5 256M397.4 316A371.9 371.9 0 0 0 977.5 256M511.1 316A499.3 499.3 0 0 0 988.9 256M408.8 316A729.8 729.8 0 0 0 977.5 256M613.5 316A298.5 298.5 0 0 0 1000.2 256M477 316A666.5 666.5 0 0 0 977.5 256M454.2 316A264.4 264.4 0 0 0 943.4 256M442.9 316A697.9 697.9 0 0 0 977.5 256M431.5 316A488.2 488.2 0 0 0 1011.6 256M545.2 316A820.4 820.4 0 0 0 954.8 256M647.6 316A245.3 245.3 0 0 0 1000.2 256M408.8 316A504.3 504.3 0 0 0 1011.6 256M624.9 316A350.3 350.3 0 0 0 943.4 256M522.5 316A316.1 316.1 0 0 0 1000.2 256M624.9 316A291.6 291.6 0 0 0 1000.2 256M499.8 316A253.5 253.5 0 0 0 966.1 256M647.6 316A157 157 0 0 0 943.4 256M556.6 316A333.1 333.1 0 0 0 1000.2 256M636.2 316A284.8 284.8 0 0 0 1000.2 256M431.5 316A874.1 874.1 0 0 0 943.4 256M602.1 316A224.9 224.9 0 0 0 988.9 256M499.8 316A329.2 329.2 0 0 0 1000.2 256M511.1 316A420.3 420.3 0 0 0 1000.2 256M602.1 316A270.8 270.8 0 0 0 1000.2 256M602.1 316A305.4 305.4 0 0 0 1000.2 256M568 316A290.1 290.1 0 0 0 1000.2 256M624.9 316A183.8 183.8 0 0 0 966.1 256M556.6 316A248.4 248.4 0 0 0 988.9 256M408.8 316A898.1 898.1 0 0 0 943.4 256M454.2 316A850.5 850.5 0 0 0 943.4 256M454.2 316A687.4 687.4 0 0 0 977.5 256M386 316A864.7 864.7 0 0 0 932 256M545.2 316A223 223 0 0 0 966.1 256M397.4 316A432.4 432.4 0 0 0 1000.2 256M420.1 316A418.1 418.1 0 0 0 1000.2 256M397.4 316A852.7 852.7 0 0 0 932 256M522.5 316A412.5 412.5 0 0 0 1000.2 256M420.1 316A719.1 719.1 0 0 0 977.5 256M659 316A183.7 183.7 0 0 0 966.1 256M545.2 316A236.6 236.6 0 0 0 977.5 256M511.1 316A247.8 247.8 0 0 0 966.1 256M431.5 316A410.9 410.9 0 0 0 1000.2 256M533.9 316A347.2 347.2 0 0 0 1000.2 256M511.1 316A361.2 361.2 0 0 0 1000.2 256M488.4 316A301.8 301.8 0 0 0 988.9 256M568 316A326.2 326.2 0 0 0 1000.2 256M636.2 316A222.5 222.5 0 0 0 988.9 256M499.8 316A271.5 271.5 0 0 0 977.5 256M556.6 316A447.6 447.6 0 0 0 977.5 256M613.5 316A357.8 357.8 0 0 0 943.4 256M647.6 316A278.1 278.1 0 0 0 1000.2 256M545.2 316A340.1 340.1 0 0 0 1000.2 256M624.9 316A332.2 332.2 0 0 0 988.9 256M431.5 316A287.5 287.5 0 0 0 943.4 256M499.8 316A805.5 805.5 0 0 0 943.4 256M477 316A526 526 0 0 0 988.9 256M408.8 316A840.8 840.8 0 0 0 932 256M408.8 316A323.5 323.5 0 0 0 954.8 256M590.8 316A389.6 389.6 0 0 0 954.8 256M602.1 316A208.1 208.1 0 0 0 977.5 256M408.8 316A425.2 425.2 0 0 0 1000.2 256M477 316A827.6 827.6 0 0 0 943.4 256M420.1 316A293.4 293.4 0 0 0 943.4 256M477 316A259 259 0 0 0 954.8 256M636.2 316A324.9 324.9 0 0 0 988.9 256M431.5 316A360.4 360.4 0 0 0 988.9 256M613.5 316A339.6 339.6 0 0 0 988.9 256M556.6 316A206.7 206.7 0 0 0 954.8 256M624.9 316A196.7 196.7 0 0 0 977.5 256M488.4 316A517.1 517.1 0 0 0 988.9 256M465.6 316A389.6 389.6 0 0 0 1000.2 256M613.5 316A179 179 0 0 0 954.8 256M442.9 316A862.2 862.2 0 0 0 943.4 256M454.2 316A543.9 543.9 0 0 0 988.9 256M624.9 316A228.5 228.5 0 0 0 988.9 256M590.8 316A213.7 213.7 0 0 0 977.5 256M590.8 316A230.8 230.8 0 0 0 988.9 256M511.1 316A289.5 289.5 0 0 0 988.9 256M556.6 316A230.8 230.8 0 0 0 977.5 256M454.2 316A313.2 313.2 0 0 0 977.5 256M522.5 316A354.2 354.2 0 0 0 1000.2 256M659 316A313.7 313.7 0 0 0 932 256M602.1 316A347 347 0 0 0 988.9 256M647.6 316A317.6 317.6 0 0 0 988.9 256M522.5 316A784.4 784.4 0 0 0 943.4 256M488.4 316A436 436 0 0 0 1000.2 256M488.4 316A375.4 375.4 0 0 0 1000.2 256M522.5 316A283.3 283.3 0 0 0 988.9 256M454.2 316A347.3 347.3 0 0 0 988.9 256M556.6 316A217.4 217.4 0 0 0 966.1 256M647.6 316A195.5 195.5 0 0 0 977.5 256M431.5 316A817.5 817.5 0 0 0 932 256M659 316A271.3 271.3 0 0 0 1000.2 256M488.4 316A816.5 816.5 0 0 0 943.4 256M465.6 316A245.1 245.1 0 0 0 932 256M545.2 316A764.5 764.5 0 0 0 943.4 256M579.4 316A362.1 362.1 0 0 0 988.9 256M442.9 316A403.8 403.8 0 0 0 1000.2 256M431.5 316A318.4 318.4 0 0 0 966.1 256M386 316A370.1 370.1 0 0 0 966.1 256M397.4 316A589.2 589.2 0 0 0 988.9 256M442.9 316A264.1 264.1 0 0 0 932 256M499.8 316A428.1 428.1 0 0 0 1000.2 256M511.1 316A265.6 265.6 0 0 0 977.5 256M511.1 316A794.8 794.8 0 0 0 943.4 256M465.6 316A839 839 0 0 0 943.4 256M420.1 316A571 571 0 0 0 988.9 256M477 316A276.9 276.9 0 0 0 966.1 256M465.6 316A534.9 534.9 0 0 0 988.9 256M397.4 316A422.4 422.4 0 0 0 988.9 256M659 316A231.5 231.5 0 0 0 988.9 256M545.2 316A271 271 0 0 0 988.9 256M613.5 316A189.4 189.4 0 0 0 966.1 256M408.8 316A365.3 365.3 0 0 0 977.5 256M420.1 316A286.9 286.9 0 0 0 932 256M533.9 316A277.2 277.2 0 0 0 988.9 256M465.6 316A451.7 451.7 0 0 0 1000.2 256M477 316A382.5 382.5 0 0 0 1000.2 256M579.4 316A252.7 252.7 0 0 0 988.9 256M397.4 316A322.4 322.4 0 0 0 943.4 256M647.6 316A237.8 237.8 0 0 0 988.9 256M499.8 316A368.3 368.3 0 0 0 1000.2 256M477 316A239.5 239.5 0 0 0 932 256M590.8 316A354.5 354.5 0 0 0 988.9 256M420.1 316A829.1 829.1 0 0 0 932 256M568 316A225.1 225.1 0 0 0 977.5 256M386 316A361.8 361.8 0 0 0 954.8 256M386 316A598.3 598.3 0 0 0 988.9 256M499.8 316A223.4 223.4 0 0 0 932 256M522.5 316A259.7 259.7 0 0 0 977.5 256M522.5 316A242 242 0 0 0 966.1 256M522.5 316A217.8 217.8 0 0 0 943.4 256M568 316A258.8 258.8 0 0 0 988.9 256M613.5 316A234.5 234.5 0 0 0 988.9 256M568 316A369.6 369.6 0 0 0 988.9 256M442.9 316A288.1 288.1 0 0 0 954.8 256M533.9 316A774.3 774.3 0 0 0 943.4 256M454.2 316A282.2 282.2 0 0 0 954.8 256M477 316A443.8 443.8 0 0 0 1000.2 256M431.5 316A475.5 475.5 0 0 0 1000.2 256M659 316A310.5 310.5 0 0 0 988.9 256M522.5 316A209.2 209.2 0 0 0 932 256M431.5 316A561.9 561.9 0 0 0 988.9 256M647.6 316A167.1 167.1 0 0 0 954.8 256M408.8 316A580.1 580.1 0 0 0 988.9 256M556.6 316A541.3 541.3 0 0 0 954.8 256M386 316A429.6 429.6 0 0 0 988.9 256M386 316A507.4 507.4 0 0 0 1000.2 256M386 316A321.3 321.3 0 0 0 932 256M636.2 316A185.2 185.2 0 0 0 966.1 256M533.9 316A203.6 203.6 0 0 0 932 256M556.6 316A198 198 0 0 0 943.4 256M454.2 316A396.7 396.7 0 0 0 1000.2 256M602.1 316A240.6 240.6 0 0 0 988.9 256M545.2 316A578.1 578.1 0 0 0 966.1 256M579.4 316A219.4 219.4 0 0 0 977.5 256M442.9 316A353.9 353.9 0 0 0 988.9 256M636.2 316A244.1 244.1 0 0 0 988.9 256M465.6 316A307 307 0 0 0 977.5 256M602.1 316A365.4 365.4 0 0 0 943.4 256M568 316A211.8 211.8 0 0 0 966.1 256M624.9 316A250.4 250.4 0 0 0 988.9 256M420.1 316A483.5 483.5 0 0 0 1000.2 256M568 316A422.4 422.4 0 0 0 966.1 256M624.9 316A282.6 282.6 0 0 0 988.9 256M522.5 316A597.5 597.5 0 0 0 966.1 256M568 316A201.2 201.2 0 0 0 954.8 256M442.9 316A805.9 805.9 0 0 0 932 256M442.9 316A552.9 552.9 0 0 0 988.9 256M636.2 316A275.9 275.9 0 0 0 988.9 256M659 316A168.2 168.2 0 0 0 954.8 256M533.9 316A253.8 253.8 0 0 0 977.5 256M465.6 316A340.8 340.8 0 0 0 988.9 256M431.5 316A352.3 352.3 0 0 0 977.5 256M442.9 316A467.6 467.6 0 0 0 1000.2 256M647.6 316A269.2 269.2 0 0 0 988.9 256M647.6 316A320.4 320.4 0 0 0 932 256M533.9 316A464.7 464.7 0 0 0 977.5 256M624.9 316A164.9 164.9 0 0 0 943.4 256M613.5 316A289.4 289.4 0 0 0 988.9 256M499.8 316A234 234 0 0 0 943.4 256M545.2 316A384.9 384.9 0 0 0 988.9 256M568 316A478.7 478.7 0 0 0 932 256M499.8 316A321.2 321.2 0 0 0 988.9 256M522.5 316A228.5 228.5 0 0 0 954.8 256M579.4 316A275.9 275.9 0 0 0 988.9 256M465.6 316A783.3 783.3 0 0 0 932 256M408.8 316A491.4 491.4 0 0 0 1000.2 256M477 316A334.2 334.2 0 0 0 988.9 256M613.5 316A256.7 256.7 0 0 0 988.9 256M488.4 316A761.4 761.4 0 0 0 932 256M408.8 316A415.3 415.3 0 0 0 988.9 256M579.4 316A310 310 0 0 0 988.9 256M556.6 316A264.9 264.9 0 0 0 988.9 256M602.1 316A296.2 296.2 0 0 0 988.9 256"/>
<path stroke="#ff9f00" d="M613.5 316A202.4 202.4 0 0 0 977.5 256M545.2 316A456.1 456.1 0 0 0 977.5 256M579.4 316A206.2 206.2 0 0 0 966.1 256M397.4 316A499.4 499.4 0 0 0 1000.2 256M533.9 316A587.8 587.8 0 0 0 966.1 256M602.1 316A263.1 263.1 0 0 0 988.9 256M590.8 316A246.6 246.6 0 0 0 988.9 256M556.6 316A377.3 377.3 0 0 0 988.9 256M454.2 316A459.7 459.7 0 0 0 1000.2 256M499.8 316A617.3 617.3 0 0 0 966.1 256M579.4 316A187 187 0 0 0 943.4 256M408.8 316A357.1 357.1 0 0 0 966.1 256M488.4 316A294.7 294.7 0 0 0 977.5 256M511.1 316A740.3 740.3 0 0 0 932 256M511.1 316A607.3 607.3 0 0 0 966.1 256M568 316A282.3 282.3 0 0 0 988.9 256M442.9 316A312.3 312.3 0 0 0 966.1 256M488.4 316A253.2 253.2 0 0 0 954.8 256M465.6 316A258.7 258.7 0 0 0 943.4 256M420.1 316A317.4 317.4 0 0 0 954.8 256M386 316A720.5 720.5 0 0 0 966.1 256M545.2 316A295.2 295.2 0 0 0 988.9 256M659 316A262.5 262.5 0 0 0 988.9 256M454.2 316A794.6 794.6 0 0 0 932 256M420.1 316A408.2 408.2 0 0 0 988.9 256M636.2 316A327.3 327.3 0 0 0 932 256M624.9 316A173.5 173.5 0 0 0 954.8 256M568 316A316.9 316.9 0 0 0 988.9 256M477 316A637.4 637.4 0 0 0 966.1 256M533.9 316A720.3 720.3 0 0 0 932 256M386 316A419.5 419.5 0 0 0 977.5 256M579.4 316A195.6 195.6 0 0 0 954.8 256M420.1 316A358.8 358.8 0 0 0 977.5 256M420.1 316A689 689 0 0 0 966.1 256M477 316A772.3 772.3 0 0 0 932 256M397.4 316A363.6 363.6 0 0 0 966.1 256M522.5 316A473.3 473.3 0 0 0 977.5 256M533.9 316A392.6 392.6 0 0 0 988.9 256M522.5 316A308.2 308.2 0 0 0 988.9 256M590.8 316A303.1 303.1 0 0 0 988.9 256M533.9 316A301.7 301.7 0 0 0 988.9 256M511.1 316A481.9 481.9 0 0 0 977.5 256M442.9 316A668.2 668.2 0 0 0 966.1 256M522.5 316A400.3 400.3 0 0 0 988.9 256M499.8 316A247.5 247.5 0 0 0 954.8 256M499.8 316A750.8 750.8 0 0 0 932 256M590.8 316A269.5 269.5 0 0 0 988.9 256M511.1 316A314.7 314.7 0 0 0 988.9 256M579.4 316A397.6 397.6 0 0 0 954.8 256M442.9 316A281.6 281.6 0 0 0 943.4 256M590.8 316A200.6 200.6 0 0 0 966.1 256M659 316A203.9 203.9 0 0 0 977.5 256M636.2 316A201.3 201.3 0 0 0 977.5 256M602.1 316A195 195 0 0 0 966.1 256M545.2 316A330.7 330.7 0 0 0 988.9 256M488.4 316A327.7 327.7 0 0 0 988.9 256M488.4 316A271 271 0 0 0 966.1 256M488.4 316A627.3 627.3 0 0 0 966.1 256M522.5 316A730.2 730.2 0 0 0 932 256M602.1 316A218.7 218.7 0 0 0 977.5 256M408.8 316A699.4 699.4 0 0 0 966.1 256M477 316A300.9 300.9 0 0 0 977.5 256M499.8 316A415.8 415.8 0 0 0 988.9 256M442.9 316A345.7 345.7 0 0 0 977.5 256M397.4 316A709.9 709.9 0 0 0 966.1 256M590.8 316A190.1 190.1 0 0 0 954.8 256M431.5 316A678.5 678.5 0 0 0 966.1 256M556.6 316A288.8 288.8 0 0 0 988.9 256M488.4 316A499.4 499.4 0 0 0 977.5 256M454.2 316A386.9 386.9 0 0 0 988.9 256M545.2 316A710.7 710.7 0 0 0 932 256M602.1 316A184.5 184.5 0 0 0 954.8 256M454.2 316A657.8 657.8 0 0 0 966.1 256M397.4 316A486.5 486.5 0 0 0 988.9 256M590.8 316A224.5 224.5 0 0 0 977.5 256M397.4 316A355.3 355.3 0 0 0 954.8 256M465.6 316A647.6 647.6 0 0 0 966.1 256M499.8 316A358.7 358.7 0 0 0 988.9 256M602.1 316A335.4 335.4 0 0 0 977.5 256M613.5 316A170.4 170.4 0 0 0 943.4 256M465.6 316A276.3 276.3 0 0 0 954.8 256M533.9 316A337.7 337.7 0 0 0 988.9 256M545.2 316A247.9 247.9 0 0 0 977.5 256M522.5 316A344.7 344.7 0 0 0 988.9 256M431.5 316A401.1 401.1 0 0 0 988.9 256M556.6 316A323.8 323.8 0 0 0 988.9 256M397.4 316A412.4 412.4 0 0 0 977.5 256M533.9 316A236.3 236.3 0 0 0 966.1 256M568 316A192.5 192.5 0 0 0 943.4 256M647.6 316A148.5 148.5 0 0 0 932 256M511.1 316A408 408 0 0 0 988.9 256M499.8 316A490.7 490.7 0 0 0 977.5 256M408.8 316A316.3 316.3 0 0 0 943.4 256M624.9 316A320.8 320.8 0 0 0 977.5 256M624.9 316A207.1 207.1 0 0 0 977.5 256M624.9 316A334.5 334.5 0 0 0 932 256M431.5 316A543.7 543.7 0 0 0 977.5 256M397.4 316A570.6 570.6 0 0 0 977.5 256M636.2 316A313.6 313.6 0 0 0 977.5 256M636.2 316A162.5 162.5 0 0 0 943.4 256M533.9 316A222.9 222.9 0 0 0 954.8 256M556.6 316A242 242 0 0 0 977.5 256M499.8 316A288.6 288.6 0 0 0 977.5 256M590.8 316A342.8 342.8 0 0 0 977.5 256M647.6 316A306.4 306.4 0 0 0 977.5 256M386 316A579.6 579.6 0 0 0 977.5 256M420.1 316A350.6 350.6 0 0 0 966.1 256M647.6 316A209.8 209.8 0 0 0 977.5 256M386 316A494.4 494.4 0 0 0 988.9 256M477 316A372.8 372.8 0 0 0 988.9 256M613.5 316A328.1 328.1 0 0 0 977.5 256M647.6 316A189.4 189.4 0 0 0 966.1 256M511.1 316A351.7 351.7 0 0 0 988.9 256M465.6 316A379.9 379.9 0 0 0 988.9 256M420.1 316A470.7 470.7 0 0 0 988.9 256M477 316A431.4 431.4 0 0 0 988.9 256M408.8 316A478.6 478.6 0 0 0 988.9 256M454.2 316A258.3 258.3 0 0 0 932 256M568 316A236.2 236.2 0 0 0 977.5 256M465.6 316A300 300 0 0 0 966.1 256M454.2 316A447 447 0 0 0 988.9 256M511.1 316A282.5 282.5 0 0 0 977.5 256M590.8 316A373.2 373.2 0 0 0 943.4 256M499.8 316A265.1 265.1 0 0 0 966.1 256M442.9 316A534.8 534.8 0 0 0 977.5 256M465.6 316A517 517 0 0 0 977.5 256M386 316A353.4 353.4 0 0 0 943.4 256M454.2 316A306.1 306.1 0 0 0 966.1 256M408.8 316A309 309 0 0 0 932 256M579.4 316A230.3 230.3 0 0 0 977.5 256M431.5 316A281 281 0 0 0 932 256M624.9 316A190.9 190.9 0 0 0 966.1 256M556.6 316A430.7 430.7 0 0 0 966.1 256M442.9 316A394 394 0 0 0 988.9 256M636.2 316A172.7 172.7 0 0 0 954.8 256M408.8 316A561.6 561.6 0 0 0 977.5 256M613.5 316A341.8 341.8 0 0 0 932 256M545.2 316A230.6 230.6 0 0 0 966.1 256M545.2 316A217.3 217.3 0 0 0 954.8 256M522.5 316A276.3 276.3 0 0 0 977.5 256M659 316A299.4 299.4 0 0 0 977.5 256M556.6 316A514.2 514.2 0 0 0 943.4 256M545.2 316A206.7 206.7 0 0 0 943.4 256M511.1 316A259.2 259.2 0 0 0 966.1 256M488.4 316A423.6 423.6 0 0 0 988.9 256M431.5 316A311.2 311.2 0 0 0 954.8 256M488.4 316A233.9 233.9 0 0 0 932 256M454.2 316A339.2 339.2 0 0 0 977.5 256M488.4 316A365.8 365.8 0 0 0 988.9 256M511.1 316A241.8 241.8 0 0 0 954.8 256M511.1 316A217.8 217.8 0 0 0 932 256M477 316A508.2 508.2 0 0 0 977.5 256M533.9 316A270.2 270.2 0 0 0 977.5 256M579.4 316A350.3 350.3 0 0 0 977.5 256M465.6 316A439.2 439.2 0 0 0 988.9 256M454.2 316A525.9 525.9 0 0 0 977.5 256M397.4 316A679.6 679.6 0 0 0 954.8 256M659 316A197.2 197.2 0 0 0 966.1 256M397.4 316A315.1 315.1 0 0 0 932 256M602.1 316A233.8 233.8 0 0 0 977.5 256M408.8 316A405.4 405.4 0 0 0 977.5 256M533.9 316A212.2 212.2 0 0 0 943.4 256M613.5 316A212.9 212.9 0 0 0 977.5 256M602.1 316A287.1 287.1 0 0 0 977.5 256M431.5 316A391.2 391.2 0 0 0 977.5 256M386 316A689.9 689.9 0 0 0 954.8 256M431.5 316A462.8 462.8 0 0 0 988.9 256M556.6 316A224.9 224.9 0 0 0 966.1 256M636.2 316A215.8 215.8 0 0 0 977.5 256M420.1 316A552.6 552.6 0 0 0 977.5 256M590.8 316A239.8 239.8 0 0 0 977.5 256M568 316A405.7 405.7 0 0 0 954.8 256M613.5 316A196.5 196.5 0 0 0 966.1 256M465.6 316A332.7 332.7 0 0 0 977.5 256M477 316A252.9 252.9 0 0 0 943.4 256M511.1 316A228.4 228.4 0 0 0 943.4 256M386 316A481.3 481.3 0 0 0 977.5 256M386 316A409.4 409.4 0 0 0 966.1 256M568 316A357.8 357.8 0 0 0 977.5 256M624.9 316A273.6 273.6 0 0 0 977.5 256M488.4 316A319.7 319.7 0 0 0 977.5 256M556.6 316A365.3 365.3 0 0 0 977.5 256M590.8 316A293.9 293.9 0 0 0 977.5 256M602.1 316A255.4 255.4 0 0 0 977.5 256M624.9 316A221.7 221.7 0 0 0 977.5 256M647.6 316A230.3 230.3 0 0 0 977.5 256M533.9 316A560 560 0 0 0 954.8 256M659 316A150.5 150.5 0 0 0 932 256M602.1 316A349.2 349.2 0 0 0 932 256M477 316A293.8 293.8 0 0 0 966.1 256M636.2 316A266.9 266.9 0 0 0 977.5 256M659 316A224.1 224.1 0 0 0 977.5 256M647.6 316A260.3 260.3 0 0 0 977.5 256M511.1 316A579.1 579.1 0 0 0 954.8 256M522.5 316A253.3 253.3 0 0 0 966.1 256M545.2 316A550.6 550.6 0 0 0 954.8 256M636.2 316A195.1 195.1 0 0 0 966.1 256M488.4 316A247.2 247.2 0 0 0 943.4 256M408.8 316A348.8 348.8 0 0 0 954.8 256M431.5 316A344 344 0 0 0 966.1 256M442.9 316A454.9 454.9 0 0 0 988.9 256M533.9 316A380.5 380.5 0 0 0 977.5 256M454.2 316A275.7 275.7 0 0 0 943.4 256M590.8 316A261.7 261.7 0 0 0 977.5 256M397.4 316A473.5 473.5 0 0 0 977.5 256M408.8 316A669.3 669.3 0 0 0 954.8 256M568 316A219.2 219.2 0 0 0 966.1 256M545.2 316A198 198 0 0 0 932 256M613.5 316A280.3 280.3 0 0 0 977.5 256M386 316A399.2 399.2 0 0 0 954.8 256M590.8 316A181.4 181.4 0 0 0 943.4 256M636.2 316A236.5 236.5 0 0 0 977.5 256M545.2 316A439.1 439.1 0 0 0 966.1 256M624.9 316A242.8 242.8 0 0 0 977.5 256M477 316A270.4 270.4 0 0 0 954.8 256M556.6 316A211.6 211.6 0 0 0 954.8 256M613.5 316A183.7 183.7 0 0 0 954.8 256M556.6 316A258 258 0 0 0 977.5 256M659 316A253.7 253.7 0 0 0 977.5 256M522.5 316A569.5 569.5 0 0 0 954.8 256M545.2 316A264.1 264.1 0 0 0 977.5 256M431.5 316A304 304 0 0 0 943.4 256M545.2 316A372.9 372.9 0 0 0 977.5 256M579.4 316A381 381 0 0 0 943.4 256M579.4 316A245.9 245.9 0 0 0 977.5 256M420.1 316A398.3 398.3 0 0 0 977.5 256M431.5 316A648.8 648.8 0 0 0 954.8 256M442.9 316A384.2 384.2 0 0 0 977.5 256M579.4 316A213.5 213.5 0 0 0 966.1 256M488.4 316A598.7 598.7 0 0 0 954.8 256M499.8 316A588.8 588.8 0 0 0 954.8 256M568 316A251.9 251.9 0 0 0 977.5 256M386 316A659.6 659.6 0 0 0 943.4 256M613.5 316A227.7 227.7 0 0 0 977.5 256M408.8 316A395.3 395.3 0 0 0 966.1 256M636.2 316A302.2 302.2 0 0 0 966.1 256M579.4 316A300.7 300.7 0 0 0 977.5 256M533.9 316A293.8 293.8 0 0 0 977.5 256M522.5 316A456 456 0 0 0 966.1 256M465.6 316A618.5 618.5 0 0 0 954.8 256M420.1 316A310.2 310.2 0 0 0 943.4 256M522.5 316A388.1 388.1 0 0 0 977.5 256M522.5 316A300.2 300.2 0 0 0 977.5 256M477 316A326.2 326.2 0 0 0 977.5 256M511.1 316A306.7 306.7 0 0 0 977.5 256M499.8 316A313.2 313.2 0 0 0 977.5 256M431.5 316A450 450 0 0 0 977.5 256M613.5 316A249.1 249.1 0 0 0 977.5 256M624.9 316A309.3 309.3 0 0 0 966.1 256M647.6 316A295.2 295.2 0 0 0 966.1 256M420.1 316A659 659 0 0 0 954.8 256M602.1 316A175.9 175.9 0 0 0 943.4 256M454.2 316A299 299 0 0 0 954.8 256M533.9 316A447.5 447.5 0 0 0 966.1 256M511.1 316A395.8 395.8 0 0 0 977.5 256M579.4 316A268.1 268.1 0 0 0 977.5 256M442.9 316A337.5 337.5 0 0 0 966.1 256M613.5 316A316.5 316.5 0 0 0 966.1 256M533.9 316A328.2 328.2 0 0 0 977.5 256M568 316A307.5 307.5 0 0 0 977.5 256M408.8 316A465.6 465.6 0 0 0 977.5 256M386 316A560.8 560.8 0 0 0 966.1 256M556.6 316A314.4 314.4 0 0 0 977.5 256M590.8 316A207.8 207.8 0 0 0 966.1 256M397.4 316A346.9 346.9 0 0 0 943.4 256M488.4 316A411.1 411.1 0 0 0 977.5 256M442.9 316A305.1 305.1 0 0 0 954.8 256M602.1 316A202.1 202.1 0 0 0 966.1 256M659 316A288.3 288.3 0 0 0 966.1 256M488.4 316A356.1 356.1 0 0 0 977.5 256M442.9 316A638.7 638.7 0 0 0 954.8 256M556.6 316A280.9 280.9 0 0 0 977.5 256M397.4 316A402.4 402.4 0 0 0 966.1 256M556.6 316A487.4 487.4 0 0 0 932 256M477 316A608.5 608.5 0 0 0 954.8 256M568 316A274.5 274.5 0 0 0 977.5 256M568 316A206 206 0 0 0 954.8 256M454.2 316A628.6 628.6 0 0 0 954.8 256M647.6 316A203.1 203.1 0 0 0 966.1 256M659 316A162.5 162.5 0 0 0 943.4 256M511.1 316A464.5 464.5 0 0 0 966.1 256M522.5 316A335.2 335.2 0 0 0 977.5 256M454.2 316A377.1 377.1 0 0 0 977.5 256M488.4 316A287.7 287.7 0 0 0 966.1 256M545.2 316A287.3 287.3 0 0 0 977.5 256M420.1 316A534.2 534.2 0 0 0 966.1 256M420.1 316A302.9 302.9 0 0 0 932 256"/>
<path stroke="#ff8f00" d="M647.6 316A161.5 161.5 0 0 0 943.4 256M499.8 316A473.1 473.1 0 0 0 966.1 256M465.6 316A370.1 370.1 0 0 0 977.5 256M408.8 316A543 543 0 0 0 966.1 256M386 316A344.9 344.9 0 0 0 932 256M511.1 316A342.1 342.1 0 0 0 977.5 256M522.5 316A236 236 0 0 0 954.8 256M420.1 316A388.3 388.3 0 0 0 966.1 256M499.8 316A403.4 403.4 0 0 0 977.5 256M397.4 316A649.4 649.4 0 0 0 943.4 256M442.9 316A442.2 442.2 0 0 0 977.5 256M545.2 316A321.3 321.3 0 0 0 977.5 256M659 316A216.6 216.6 0 0 0 966.1 256M533.9 316A247.4 247.4 0 0 0 966.1 256M602.1 316A323.8 323.8 0 0 0 966.1 256M647.6 316A173.8 173.8 0 0 0 954.8 256M624.9 316A200.8 200.8 0 0 0 966.1 256M397.4 316A392.2 392.2 0 0 0 954.8 256M477 316A490.4 490.4 0 0 0 966.1 256M545.2 316A523.3 523.3 0 0 0 943.4 256M442.9 316A275.1 275.1 0 0 0 932 256M420.1 316A342.3 342.3 0 0 0 954.8 256M442.9 316A516.6 516.6 0 0 0 966.1 256M386 316A468.2 468.2 0 0 0 966.1 256M636.2 316A209 209 0 0 0 966.1 256M499.8 316A349.1 349.1 0 0 0 977.5 256M488.4 316A264.5 264.5 0 0 0 954.8 256M522.5 316A222.7 222.7 0 0 0 943.4 256M465.6 316A426.6 426.6 0 0 0 977.5 256M420.1 316A457.8 457.8 0 0 0 977.5 256M465.6 316A252.6 252.6 0 0 0 932 256M397.4 316A551.9 551.9 0 0 0 966.1 256M579.4 316A200.4 200.4 0 0 0 954.8 256M636.2 316A258 258 0 0 0 966.1 256M499.8 316A258.6 258.6 0 0 0 954.8 256M556.6 316A413.8 413.8 0 0 0 954.8 256M659 316A177.5 177.5 0 0 0 954.8 256M579.4 316A338.4 338.4 0 0 0 966.1 256M590.8 316A331.1 331.1 0 0 0 966.1 256M659 316A244.9 244.9 0 0 0 966.1 256M477 316A246.9 246.9 0 0 0 932 256M499.8 316A281.6 281.6 0 0 0 966.1 256M499.8 316A241.5 241.5 0 0 0 943.4 256M545.2 316A241.5 241.5 0 0 0 966.1 256M522.5 316A541.7 541.7 0 0 0 943.4 256M431.5 316A525.4 525.4 0 0 0 966.1 256M431.5 316A619.3 619.3 0 0 0 943.4 256M613.5 316A206.6 206.6 0 0 0 966.1 256M488.4 316A481.7 481.7 0 0 0 966.1 256M647.6 316A251.4 251.4 0 0 0 966.1 256M465.6 316A324.6 324.6 0 0 0 966.1 256M454.2 316A434.4 434.4 0 0 0 977.5 256M590.8 316A356.8 356.8 0 0 0 932 256M499.8 316A560.7 560.7 0 0 0 943.4 256M636.2 316A154 154 0 0 0 932 256M511.1 316A275.4 275.4 0 0 0 966.1 256M465.6 316A499.1 499.1 0 0 0 966.1 256M556.6 316A201.1 201.1 0 0 0 943.4 256M624.9 316A178.2 178.2 0 0 0 954.8 256M477 316A363.1 363.1 0 0 0 977.5 256M420.1 316A629.3 629.3 0 0 0 943.4 256M647.6 316A222.7 222.7 0 0 0 966.1 256M454.2 316A507.8 507.8 0 0 0 966.1 256M408.8 316A452.6 452.6 0 0 0 966.1 256M454.2 316A331 331 0 0 0 966.1 256M477 316A418.9 418.9 0 0 0 977.5 256M624.9 316A264.6 264.6 0 0 0 966.1 256M465.6 316A292.8 292.8 0 0 0 954.8 256M590.8 316A194.9 194.9 0 0 0 954.8 256M386 316A454.9 454.9 0 0 0 954.8 256M636.2 316A228.9 228.9 0 0 0 966.1 256M556.6 316A235.7 235.7 0 0 0 966.1 256M386 316A541.9 541.9 0 0 0 954.8 256M408.8 316A639.4 639.4 0 0 0 943.4 256M499.8 316A228.2 228.2 0 0 0 932 256M602.1 316A189.3 189.3 0 0 0 954.8 256M465.6 316A269.8 269.8 0 0 0 943.4 256M613.5 316A271.2 271.2 0 0 0 966.1 256M568 316A345.8 345.8 0 0 0 966.1 256M408.8 316A609.7 609.7 0 0 0 932 256M442.9 316A297.9 297.9 0 0 0 943.4 256M522.5 316A269.3 269.3 0 0 0 966.1 256M386 316A629.4 629.4 0 0 0 932 256M533.9 316A532.4 532.4 0 0 0 943.4 256M511.1 316A551.2 551.2 0 0 0 943.4 256M477 316A318.1 318.1 0 0 0 966.1 256M431.5 316A381.3 381.3 0 0 0 966.1 256M568 316A229.9 229.9 0 0 0 966.1 256M386 316A389 389 0 0 0 943.4 256M454.2 316A599.5 599.5 0 0 0 943.4 256M533.9 316A230.3 230.3 0 0 0 954.8 256M533.9 316A206.6 206.6 0 0 0 932 256M488.4 316A570.3 570.3 0 0 0 943.4 256M420.1 316A444.8 444.8 0 0 0 966.1 256M556.6 316A192.5 192.5 0 0 0 932 256M397.4 316A533.2 533.2 0 0 0 954.8 256M579.4 316A224 224 0 0 0 966.1 256M579.4 316A190 190 0 0 0 943.4 256M477 316A579.9 579.9 0 0 0 943.4 256M522.5 316A212.2 212.2 0 0 0 932 256M442.9 316A609.4 609.4 0 0 0 943.4 256M397.4 316A619.5 619.5 0 0 0 932 256M397.4 316A460.4 460.4 0 0 0 966.1 256M624.9 316A215 215 0 0 0 966.1 256M624.9 316A168 168 0 0 0 943.4 256M556.6 316A353.3 353.3 0 0 0 966.1 256M408.8 316A340.4 340.4 0 0 0 943.4 256M624.9 316A235.1 235.1 0 0 0 966.1 256M511.1 316A252.8 252.8 0 0 0 954.8 256M431.5 316A335.8 335.8 0 0 0 954.8 256M408.8 316A385.2 385.2 0 0 0 954.8 256M545.2 316A224.6 224.6 0 0 0 954.8 256M545.2 316A360.8 360.8 0 0 0 966.1 256M613.5 316A220.9 220.9 0 0 0 966.1 256M442.9 316A374.3 374.3 0 0 0 966.1 256M568 316A388.9 388.9 0 0 0 943.4 256M590.8 316A218.2 218.2 0 0 0 966.1 256M602.1 316A277.9 277.9 0 0 0 966.1 256M602.1 316A212.4 212.4 0 0 0 966.1 256M636.2 316A179.4 179.4 0 0 0 954.8 256M397.4 316A447.2 447.2 0 0 0 954.8 256M613.5 316A241.4 241.4 0 0 0 966.1 256M465.6 316A589.7 589.7 0 0 0 943.4 256M522.5 316A375.8 375.8 0 0 0 966.1 256M431.5 316A590.1 590.1 0 0 0 932 256M579.4 316A291.4 291.4 0 0 0 966.1 256M420.1 316A599.9 599.9 0 0 0 932 256M613.5 316A305 305 0 0 0 954.8 256M408.8 316A332 332 0 0 0 932 256M590.8 316A284.7 284.7 0 0 0 966.1 256M545.2 316A422.1 422.1 0 0 0 954.8 256M408.8 316A524.5 524.5 0 0 0 954.8 256M613.5 316A190.6 190.6 0 0 0 954.8 256M533.9 316A368.3 368.3 0 0 0 966.1 256M431.5 316A437.1 437.1 0 0 0 966.1 256M533.9 316A430.4 430.4 0 0 0 954.8 256M488.4 316A311.6 311.6 0 0 0 966.1 256M442.9 316A429.4 429.4 0 0 0 966.1 256M465.6 316A360.3 360.3 0 0 0 966.1 256M636.2 316A290.9 290.9 0 0 0 954.8 256M533.9 316A263.2 263.2 0 0 0 966.1 256M511.1 316A383.4 383.4 0 0 0 966.1 256M568 316A195.6 195.6 0 0 0 943.4 256M613.5 316A173.4 173.4 0 0 0 943.4 256M511.1 316A298.7 298.7 0 0 0 966.1 256M568 316A298.2 298.2 0 0 0 966.1 256M636.2 316A167 167 0 0 0 943.4 256M477 316A406.3 406.3 0 0 0 966.1 256M386 316A523.1 523.1 0 0 0 943.4 256M647.6 316A284 284 0 0 0 954.8 256M431.5 316A296.8 296.8 0 0 0 932 256M522.5 316A292.3 292.3 0 0 0 966.1 256M477 316A353.4 353.4 0 0 0 966.1 256M545.2 316A257.1 257.1 0 0 0 966.1 256M579.4 316A239 239 0 0 0 966.1 256M511.1 316A447.1 447.1 0 0 0 954.8 256M556.6 316A218.9 218.9 0 0 0 954.8 256M659 316A277.2 277.2 0 0 0 954.8 256M602.1 316A247.7 247.7 0 0 0 966.1 256M533.9 316A505.2 505.2 0 0 0 932 256M499.8 316A305.2 305.2 0 0 0 966.1 256M477 316A286.7 286.7 0 0 0 954.8 256M602.1 316A226.9 226.9 0 0 0 966.1 256M556.6 316A251.1 251.1 0 0 0 966.1 256M568 316A245 245 0 0 0 966.1 256M397.4 316A338.4 338.4 0 0 0 932 256M499.8 316A391 391 0 0 0 966.1 256M545.2 316A211.5 211.5 0 0 0 943.4 256M579.4 316A260.3 260.3 0 0 0 966.1 256M624.9 316A297.9 297.9 0 0 0 954.8 256M454.2 316A367.3 367.3 0 0 0 966.1 256M465.6 316A414 414 0 0 0 966.1 256M522.5 316A325.6 325.6 0 0 0 966.1 256M602.1 316A312.1 312.1 0 0 0 954.8 256M590.8 316A232.9 232.9 0 0 0 966.1 256M590.8 316A254 254 0 0 0 966.1 256M579.4 316A364.5 364.5 0 0 0 932 256M442.9 316A580.4 580.4 0 0 0 932 256M454.2 316A269.2 269.2 0 0 0 932 256M454.2 316A322.9 322.9 0 0 0 954.8 256M397.4 316A382 382 0 0 0 943.4 256M556.6 316A305 305 0 0 0 966.1 256M386 316A441.6 441.6 0 0 0 943.4 256M488.4 316A542.1 542.1 0 0 0 932 256M522.5 316A438.7 438.7 0 0 0 954.8 256M408.8 316A439.5 439.5 0 0 0 954.8 256"/>
<path stroke="#ff7f00" d="M431.5 316A327.5 327.5 0 0 0 943.4 256M568 316A266.7 266.7 0 0 0 966.1 256M511.1 316A523.5 523.5 0 0 0 932 256M511.1 316A332.5 332.5 0 0 0 966.1 256M477 316A264 264 0 0 0 943.4 256M545.2 316A496.2 496.2 0 0 0 932 256M545.2 316A311.9 311.9 0 0 0 966.1 256M420.1 316A378.3 378.3 0 0 0 954.8 256M431.5 316A507.1 507.1 0 0 0 954.8 256M454.2 316A291.8 291.8 0 0 0 943.4 256M488.4 316A398.7 398.7 0 0 0 966.1 256M454.2 316A421.7 421.7 0 0 0 966.1 256M420.1 316A515.7 515.7 0 0 0 954.8 256M488.4 316A258.1 258.1 0 0 0 943.4 256M499.8 316A455.6 455.6 0 0 0 954.8 256M511.1 316A235.8 235.8 0 0 0 943.4 256M568 316A213.2 213.2 0 0 0 954.8 256M533.9 316A217.1 217.1 0 0 0 943.4 256M488.4 316A241.2 241.2 0 0 0 932 256M590.8 316A319.3 319.3 0 0 0 954.8 256M442.9 316A329.3 329.3 0 0 0 954.8 256M556.6 316A273 273 0 0 0 966.1 256M499.8 316A339.5 339.5 0 0 0 966.1 256M545.2 316A279.4 279.4 0 0 0 966.1 256M465.6 316A481.2 481.2 0 0 0 954.8 256M659 316A190.6 190.6 0 0 0 954.8 256M477 316A551.6 551.6 0 0 0 932 256M488.4 316A346.4 346.4 0 0 0 966.1 256M488.4 316A464.1 464.1 0 0 0 954.8 256M454.2 316A489.8 489.8 0 0 0 954.8 256M533.9 316A285.8 285.8 0 0 0 966.1 256M420.1 316A334 334 0 0 0 943.4 256M533.9 316A318.7 318.7 0 0 0 966.1 256M647.6 316A183.2 183.2 0 0 0 954.8 256M522.5 316A514.3 514.3 0 0 0 932 256M499.8 316A532.8 532.8 0 0 0 932 256M522.5 316A246.9 246.9 0 0 0 954.8 256M465.6 316A561.1 561.1 0 0 0 932 256M511.1 316A222.6 222.6 0 0 0 932 256M397.4 316A514.4 514.4 0 0 0 943.4 256M499.8 316A274.5 274.5 0 0 0 954.8 256M386 316A378.7 378.7 0 0 0 932 256M488.4 316A280.6 280.6 0 0 0 954.8 256M579.4 316A207.6 207.6 0 0 0 954.8 256M579.4 316A326.6 326.6 0 0 0 954.8 256M442.9 316A498.4 498.4 0 0 0 954.8 256M568 316A333.9 333.9 0 0 0 954.8 256M613.5 316A262.1 262.1 0 0 0 954.8 256M477 316A472.6 472.6 0 0 0 954.8 256M465.6 316A316.4 316.4 0 0 0 954.8 256M454.2 316A570.7 570.7 0 0 0 932 256M659 316A236.1 236.1 0 0 0 954.8 256M556.6 316A397 397 0 0 0 943.4 256M431.5 316A371.3 371.3 0 0 0 954.8 256M590.8 316A201.9 201.9 0 0 0 954.8 256M602.1 316A196.2 196.2 0 0 0 954.8 256M624.9 316A185 185 0 0 0 954.8 256M420.1 316A431.8 431.8 0 0 0 954.8 256M579.4 316A181.4 181.4 0 0 0 932 256M590.8 316A184.5 184.5 0 0 0 943.4 256M636.2 316A249 249 0 0 0 954.8 256M647.6 316A242.5 242.5 0 0 0 954.8 256M420.1 316A325.6 325.6 0 0 0 932 256M556.6 316A341.2 341.2 0 0 0 954.8 256M533.9 316A241 241 0 0 0 954.8 256M636.2 316A188.9 188.9 0 0 0 954.8 256M397.4 316A434 434 0 0 0 943.4 256M647.6 316A151.5 151.5 0 0 0 932 256M659 316A171.4 171.4 0 0 0 943.4 256M659 316A209.1 209.1 0 0 0 954.8 256M613.5 316A200.4 200.4 0 0 0 954.8 256M545.2 316A405 405 0 0 0 943.4 256M511.1 316A268.4 268.4 0 0 0 954.8 256M431.5 316A488.7 488.7 0 0 0 943.4 256M408.8 316A375.1 375.1 0 0 0 943.4 256M545.2 316A235.2 235.2 0 0 0 954.8 256M624.9 316A255.5 255.5 0 0 0 954.8 256M386 316A504.1 504.1 0 0 0 932 256M431.5 316A424.2 424.2 0 0 0 954.8 256M408.8 316A505.8 505.8 0 0 0 943.4 256M545.2 316A201.1 201.1 0 0 0 932 256M602.1 316A179 179 0 0 0 943.4 256M647.6 316A168 168 0 0 0 943.4 256M602.1 316A268.7 268.7 0 0 0 954.8 256M499.8 316A252.2 252.2 0 0 0 943.4 256M454.2 316A357.4 357.4 0 0 0 954.8 256M545.2 316A348.6 348.6 0 0 0 954.8 256M659 316A266.2 266.2 0 0 0 943.4 256M522.5 316A230 230 0 0 0 943.4 256M442.9 316A321.1 321.1 0 0 0 943.4 256M636.2 316A279.6 279.6 0 0 0 943.4 256M408.8 316A487.2 487.2 0 0 0 932 256M442.9 316A290.7 290.7 0 0 0 932 256M659 316A156.7 156.7 0 0 0 932 256M647.6 316A272.8 272.8 0 0 0 943.4 256M408.8 316A364.9 364.9 0 0 0 932 256M647.6 316A196.4 196.4 0 0 0 954.8 256M613.5 316A233.7 233.7 0 0 0 954.8 256M568 316A187 187 0 0 0 932 256M420.1 316A497.3 497.3 0 0 0 943.4 256M511.1 316A371 371 0 0 0 954.8 256M533.9 316A356.1 356.1 0 0 0 954.8 256M465.6 316A285.7 285.7 0 0 0 943.4 256M556.6 316A229.4 229.4 0 0 0 954.8 256M647.6 316A215.2 215.2 0 0 0 954.8 256M454.2 316A408.9 408.9 0 0 0 954.8 256M590.8 316A275.4 275.4 0 0 0 954.8 256M465.6 316A401.3 401.3 0 0 0 954.8 256M613.5 316A214.1 214.1 0 0 0 954.8 256M636.2 316A221.3 221.3 0 0 0 954.8 256M442.9 316A364.3 364.3 0 0 0 954.8 256M477 316A309.9 309.9 0 0 0 954.8 256M386 316A428.2 428.2 0 0 0 932 256M465.6 316A350.5 350.5 0 0 0 954.8 256M522.5 316A421.4 421.4 0 0 0 943.4 256M499.8 316A438 438 0 0 0 943.4 256M636.2 316A202.3 202.3 0 0 0 954.8 256M624.9 316A286.5 286.5 0 0 0 943.4 256M431.5 316A361.3 361.3 0 0 0 943.4 256M499.8 316A378.6 378.6 0 0 0 954.8 256M556.6 316A205.9 205.9 0 0 0 943.4 256M568 316A223.5 223.5 0 0 0 954.8 256M477 316A257.5 257.5 0 0 0 932 256M454.2 316A471.7 471.7 0 0 0 943.4 256M442.9 316A480.2 480.2 0 0 0 943.4 256M465.6 316A263.3 263.3 0 0 0 932 256M397.4 316A495.6 495.6 0 0 0 932 256M568 316A372.2 372.2 0 0 0 932 256M590.8 316A175.9 175.9 0 0 0 932 256M522.5 316A363.5 363.5 0 0 0 954.8 256"/>
<path stroke="#ff6f00" d="M579.4 316A282.1 282.1 0 0 0 954.8 256M579.4 316A194.7 194.7 0 0 0 943.4 256M442.9 316A416.5 416.5 0 0 0 954.8 256M499.8 316A297.1 297.1 0 0 0 954.8 256M613.5 316A293.4 293.4 0 0 0 943.4 256M568 316A288.8 288.8 0 0 0 954.8 256M397.4 316A371.8 371.8 0 0 0 932 256M533.9 316A413.2 413.2 0 0 0 943.4 256M408.8 316A426.4 426.4 0 0 0 943.4 256M488.4 316A446.4 446.4 0 0 0 943.4 256M488.4 316A386.1 386.1 0 0 0 954.8 256M579.4 316A217.7 217.7 0 0 0 954.8 256M511.1 316A429.7 429.7 0 0 0 943.4 256M488.4 316A303.5 303.5 0 0 0 954.8 256M602.1 316A206.1 206.1 0 0 0 954.8 256M624.9 316A159.4 159.4 0 0 0 932 256M420.1 316A368.2 368.2 0 0 0 943.4 256M511.1 316A290.7 290.7 0 0 0 954.8 256M477 316A393.7 393.7 0 0 0 954.8 256M590.8 316A211.9 211.9 0 0 0 954.8 256M624.9 316A194.6 194.6 0 0 0 954.8 256M522.5 316A262.3 262.3 0 0 0 954.8 256M408.8 316A413.1 413.1 0 0 0 932 256M624.9 316A172.5 172.5 0 0 0 943.4 256M624.9 316A227.5 227.5 0 0 0 954.8 256M602.1 316A240 240 0 0 0 954.8 256M477 316A454.8 454.8 0 0 0 943.4 256M556.6 316A295.6 295.6 0 0 0 954.8 256M420.1 316A478.7 478.7 0 0 0 932 256M511.1 316A322.9 322.9 0 0 0 954.8 256M431.5 316A411.2 411.2 0 0 0 943.4 256M499.8 316A235.4 235.4 0 0 0 932 256M499.8 316A329.8 329.8 0 0 0 954.8 256M454.2 316A314.6 314.6 0 0 0 943.4 256M636.2 316A173.5 173.5 0 0 0 943.4 256M431.5 316A319.2 319.2 0 0 0 932 256M590.8 316A246.2 246.2 0 0 0 954.8 256M477 316A343.6 343.6 0 0 0 954.8 256M602.1 316A170.4 170.4 0 0 0 932 256M465.6 316A463.2 463.2 0 0 0 943.4 256M533.9 316A256.2 256.2 0 0 0 954.8 256M613.5 316A164.9 164.9 0 0 0 932 256M545.2 316A250.2 250.2 0 0 0 954.8 256M602.1 316A220.1 220.1 0 0 0 954.8 256M545.2 316A302.4 302.4 0 0 0 954.8 256M624.9 316A208.2 208.2 0 0 0 954.8 256M533.9 316A211.4 211.4 0 0 0 932 256M488.4 316A336.6 336.6 0 0 0 954.8 256M602.1 316A300.4 300.4 0 0 0 943.4 256M488.4 316A273.5 273.5 0 0 0 943.4 256M579.4 316A314.7 314.7 0 0 0 943.4 256M431.5 316A470.3 470.3 0 0 0 932 256M545.2 316A218.6 218.6 0 0 0 943.4 256M659 316A227.4 227.4 0 0 0 943.4 256M568 316A258.8 258.8 0 0 0 954.8 256M556.6 316A244.1 244.1 0 0 0 954.8 256M568 316A238.1 238.1 0 0 0 954.8 256M579.4 316A252.5 252.5 0 0 0 954.8 256M613.5 316A178.1 178.1 0 0 0 943.4 256M590.8 316A226.1 226.1 0 0 0 954.8 256M477 316A279.6 279.6 0 0 0 943.4 256M556.6 316A380.1 380.1 0 0 0 932 256M568 316A200.3 200.3 0 0 0 943.4 256M533.9 316A309.2 309.2 0 0 0 954.8 256M397.4 316A420.7 420.7 0 0 0 932 256M420.1 316A418.8 418.8 0 0 0 943.4 256M579.4 316A232.1 232.1 0 0 0 954.8 256M420.1 316A358 358 0 0 0 932 256M556.6 316A265.2 265.2 0 0 0 954.8 256M522.5 316A217 217 0 0 0 932 256M659 316A183.9 183.9 0 0 0 943.4 256M442.9 316A354.3 354.3 0 0 0 943.4 256M511.1 316A246.3 246.3 0 0 0 943.4 256M545.2 316A271.5 271.5 0 0 0 954.8 256M590.8 316A307.5 307.5 0 0 0 943.4 256M522.5 316A316 316 0 0 0 954.8 256M556.6 316A195.5 195.5 0 0 0 932 256M647.6 316A233.7 233.7 0 0 0 943.4 256M636.2 316A240 240 0 0 0 943.4 256M522.5 316A284.3 284.3 0 0 0 954.8 256M533.9 316A277.9 277.9 0 0 0 954.8 256M636.2 316A157 157 0 0 0 932 256M454.2 316A284.6 284.6 0 0 0 932 256M533.9 316A224.3 224.3 0 0 0 943.4 256M442.9 316A403.6 403.6 0 0 0 943.4 256M659 316A255.1 255.1 0 0 0 932 256M659 316A201.7 201.7 0 0 0 943.4 256M533.9 316A396.1 396.1 0 0 0 932 256M442.9 316A461.9 461.9 0 0 0 932 256M647.6 316A177.1 177.1 0 0 0 943.4 256M420.1 316A405.6 405.6 0 0 0 932 256M488.4 316A251.6 251.6 0 0 0 932 256M545.2 316A336.5 336.5 0 0 0 943.4 256M454.2 316A396.1 396.1 0 0 0 943.4 256M568 316A321.9 321.9 0 0 0 943.4 256M499.8 316A267.4 267.4 0 0 0 943.4 256M454.2 316A347.5 347.5 0 0 0 943.4 256M624.9 316A246.5 246.5 0 0 0 943.4 256"/>
<path stroke="#ff5f00" d="M465.6 316A308.2 308.2 0 0 0 943.4 256M545.2 316A388 388 0 0 0 932 256M488.4 316A428.6 428.6 0 0 0 932 256M613.5 316A253 253 0 0 0 943.4 256M590.8 316A189.2 189.2 0 0 0 943.4 256M522.5 316A240.5 240.5 0 0 0 943.4 256M499.8 316A366.1 366.1 0 0 0 943.4 256M477 316A436.9 436.9 0 0 0 932 256M556.6 316A329.2 329.2 0 0 0 943.4 256M488.4 316A373.5 373.5 0 0 0 943.4 256M511.1 316A412.2 412.2 0 0 0 932 256M431.5 316A351.1 351.1 0 0 0 932 256M442.9 316A312.7 312.7 0 0 0 932 256M647.6 316A207.7 207.7 0 0 0 943.4 256M511.1 316A229.7 229.7 0 0 0 932 256M647.6 316A261.6 261.6 0 0 0 932 256M636.2 316A268.3 268.3 0 0 0 932 256M522.5 316A351.2 351.2 0 0 0 943.4 256M636.2 316A182.7 182.7 0 0 0 943.4 256M454.2 316A453.5 453.5 0 0 0 932 256M636.2 316A213.8 213.8 0 0 0 943.4 256M602.1 316A183.6 183.6 0 0 0 943.4 256M431.5 316A398.1 398.1 0 0 0 932 256M579.4 316A201.6 201.6 0 0 0 943.4 256M488.4 316A295.4 295.4 0 0 0 943.4 256M647.6 316A189.7 189.7 0 0 0 943.4 256M465.6 316A388.5 388.5 0 0 0 943.4 256M465.6 316A445.2 445.2 0 0 0 932 256M499.8 316A420.4 420.4 0 0 0 932 256M477 316A381 381 0 0 0 943.4 256M522.5 316A404.1 404.1 0 0 0 932 256M511.1 316A358.6 358.6 0 0 0 943.4 256M556.6 316A213 213 0 0 0 943.4 256M579.4 316A272.8 272.8 0 0 0 943.4 256M659 316A165.3 165.3 0 0 0 932 256M624.9 316A179.1 179.1 0 0 0 943.4 256M477 316A301.8 301.8 0 0 0 943.4 256M533.9 316A343.8 343.8 0 0 0 943.4 256M636.2 316A195.6 195.6 0 0 0 943.4 256M602.1 316A259.5 259.5 0 0 0 943.4 256M465.6 316A340.6 340.6 0 0 0 943.4 256M477 316A272.4 272.4 0 0 0 932 256M624.9 316A275 275 0 0 0 932 256M488.4 316A326.9 326.9 0 0 0 943.4 256M545.2 316A228.8 228.8 0 0 0 943.4 256M499.8 316A289 289 0 0 0 943.4 256M465.6 316A278.5 278.5 0 0 0 932 256M613.5 316A184.7 184.7 0 0 0 943.4 256M499.8 316A320 320 0 0 0 943.4 256M613.5 316A281.8 281.8 0 0 0 932 256M659 316A218.6 218.6 0 0 0 932 256M579.4 316A184.4 184.4 0 0 0 932 256M590.8 316A266.1 266.1 0 0 0 943.4 256M511.1 316A261.3 261.3 0 0 0 943.4 256M602.1 316A288.8 288.8 0 0 0 932 256M624.9 316A219.9 219.9 0 0 0 943.4 256M545.2 316A205.8 205.8 0 0 0 932 256M477 316A333.7 333.7 0 0 0 943.4 256M568 316A207.3 207.3 0 0 0 943.4 256M647.6 316A155.9 155.9 0 0 0 932 256M545.2 316A292.9 292.9 0 0 0 943.4 256M613.5 316A226 226 0 0 0 943.4 256M442.9 316A390.6 390.6 0 0 0 932 256M442.9 316A344.3 344.3 0 0 0 932 256"/>
<path stroke="#ff4f00" d="M590.8 316A295.7 295.7 0 0 0 932 256M533.9 316A234.7 234.7 0 0 0 943.4 256M568 316A279.4 279.4 0 0 0 943.4 256M499.8 316A245.8 245.8 0 0 0 932 256M522.5 316A255.3 255.3 0 0 0 943.4 256M454.2 316A306.3 306.3 0 0 0 932 256M579.4 316A244.7 244.7 0 0 0 943.4 256M579.4 316A211.4 211.4 0 0 0 943.4 256M568 316A190 190 0 0 0 932 256M511.1 316A313.2 313.2 0 0 0 943.4 256M624.9 316A188.4 188.4 0 0 0 943.4 256M522.5 316A306.4 306.4 0 0 0 943.4 256M624.9 316A201.4 201.4 0 0 0 943.4 256M556.6 316A286.1 286.1 0 0 0 943.4 256M579.4 316A302.8 302.8 0 0 0 932 256M533.9 316A218.3 218.3 0 0 0 932 256M511.1 316A282.6 282.6 0 0 0 943.4 256M590.8 316A178.9 178.9 0 0 0 932 256M545.2 316A243.2 243.2 0 0 0 943.4 256M590.8 316A196 196 0 0 0 943.4 256M659 316A194.2 194.2 0 0 0 932 256M659 316A177.3 177.3 0 0 0 932 256M613.5 316A194.1 194.1 0 0 0 943.4 256M488.4 316A266.4 266.4 0 0 0 932 256M613.5 316A207.3 207.3 0 0 0 943.4 256M545.2 316A263.6 263.6 0 0 0 943.4 256M522.5 316A276.2 276.2 0 0 0 943.4 256M579.4 316A225.2 225.2 0 0 0 943.4 256M602.1 316A190.3 190.3 0 0 0 943.4 256M477 316A368.3 368.3 0 0 0 932 256M602.1 316A232.2 232.2 0 0 0 943.4 256M556.6 316A223 223 0 0 0 943.4 256M454.2 316A383.1 383.1 0 0 0 932 256M522.5 316A224 224 0 0 0 932 256M488.4 316A360.9 360.9 0 0 0 932 256M533.9 316A331.5 331.5 0 0 0 932 256M533.9 316A299.6 299.6 0 0 0 943.4 256M647.6 316A224.8 224.8 0 0 0 932 256M590.8 316A238.4 238.4 0 0 0 943.4 256M624.9 316A162.4 162.4 0 0 0 932 256M636.2 316A231.1 231.1 0 0 0 932 256M477 316A293.6 293.6 0 0 0 932 256M602.1 316A173.4 173.4 0 0 0 932 256M556.6 316A317.1 317.1 0 0 0 932 256M556.6 316A200.2 200.2 0 0 0 932 256M454.2 316A337.4 337.4 0 0 0 932 256M613.5 316A167.9 167.9 0 0 0 932 256M465.6 316A375.7 375.7 0 0 0 932 256M568 316A217.2 217.2 0 0 0 943.4 256M636.2 316A161.4 161.4 0 0 0 932 256M568 316A250.9 250.9 0 0 0 943.4 256M545.2 316A324.3 324.3 0 0 0 932 256M533.9 316A249.2 249.2 0 0 0 943.4 256M465.6 316A300 300 0 0 0 932 256M556.6 316A257.2 257.2 0 0 0 943.4 256M568 316A309.9 309.9 0 0 0 932 256M511.1 316A239.9 239.9 0 0 0 932 256M511.1 316A346.1 346.1 0 0 0 932 256M477 316A323.8 323.8 0 0 0 932 256M499.8 316A353.5 353.5 0 0 0 932 256"/>
<path stroke="#ff3f00" d="M533.9 316A269.9 269.9 0 0 0 943.4 256M602.1 316A213.3 213.3 0 0 0 943.4 256M556.6 316A237.2 237.2 0 0 0 943.4 256M590.8 316A205.6 205.6 0 0 0 943.4 256M602.1 316A199.9 199.9 0 0 0 943.4 256M590.8 316A219.2 219.2 0 0 0 943.4 256M568 316A231.2 231.2 0 0 0 943.4 256M624.9 316A237.4 237.4 0 0 0 932 256M465.6 316A330.6 330.6 0 0 0 932 256M488.4 316A287.2 287.2 0 0 0 932 256M613.5 316A243.8 243.8 0 0 0 932 256M522.5 316A338.8 338.8 0 0 0 932 256M488.4 316A317 317 0 0 0 932 256M602.1 316A250.3 250.3 0 0 0 932 256M499.8 316A260.3 260.3 0 0 0 932 256M590.8 316A256.8 256.8 0 0 0 932 256M545.2 316A212.7 212.7 0 0 0 932 256M647.6 316A162.2 162.2 0 0 0 932 256M579.4 316A189 189 0 0 0 932 256M533.9 316A228.3 228.3 0 0 0 932 256M647.6 316A200.2 200.2 0 0 0 932 256M579.4 316A263.4 263.4 0 0 0 932 256M636.2 316A206.2 206.2 0 0 0 932 256M533.9 316A290 290 0 0 0 932 256M499.8 316A310.2 310.2 0 0 0 932 256"/>
<path stroke="#ff2f00" d="M511.1 316A303.5 303.5 0 0 0 932 256M511.1 316A254.3 254.3 0 0 0 932 256M499.8 316A280.8 280.8 0 0 0 932 256M522.5 316A234.1 234.1 0 0 0 932 256M556.6 316A276.6 276.6 0 0 0 932 256M590.8 316A183.5 183.5 0 0 0 932 256M636.2 316A167.7 167.7 0 0 0 932 256M568 316A194.6 194.6 0 0 0 932 256M545.2 316A283.3 283.3 0 0 0 932 256M556.6 316A207 207 0 0 0 932 256M647.6 316A183.1 183.1 0 0 0 932 256M511.1 316A274.5 274.5 0 0 0 932 256M624.9 316A212.2 212.2 0 0 0 932 256M647.6 316A170.9 170.9 0 0 0 932 256M602.1 316A177.9 177.9 0 0 0 932 256M533.9 316A242.2 242.2 0 0 0 932 256M624.9 316A166.9 166.9 0 0 0 932 256M533.9 316A261.9 261.9 0 0 0 932 256M568 316A270 270 0 0 0 932 256M613.5 316A172.4 172.4 0 0 0 932 256M636.2 316A188.9 188.9 0 0 0 932 256M613.5 316A218.3 218.3 0 0 0 932 256M522.5 316A296.7 296.7 0 0 0 932 256M602.1 316A224.5 224.5 0 0 0 932 256M636.2 316A176.5 176.5 0 0 0 932 256M545.2 316A222.4 222.4 0 0 0 932 256M590.8 316A230.6 230.6 0 0 0 932 256M579.4 316A236.8 236.8 0 0 0 932 256M579.4 316A195.7 195.7 0 0 0 932 256"/>
<path stroke="#ff1f00" d="M522.5 316A248.2 248.2 0 0 0 932 256M545.2 316A255.6 255.6 0 0 0 932 256M556.6 316A249.3 249.3 0 0 0 932 256M522.5 316A268.2 268.2 0 0 0 932 256M556.6 316A216.7 216.7 0 0 0 932 256M545.2 316A236.2 236.2 0 0 0 932 256M590.8 316A190.1 190.1 0 0 0 932 256M624.9 316A194.7 194.7 0 0 0 932 256M613.5 316A200.5 200.5 0 0 0 932 256M602.1 316A184.4 184.4 0 0 0 932 256M602.1 316A206.4 206.4 0 0 0 932 256M624.9 316A173.3 173.3 0 0 0 932 256M556.6 316A230.2 230.2 0 0 0 932 256M613.5 316A178.8 178.8 0 0 0 932 256M590.8 316A212.3 212.3 0 0 0 932 256M579.4 316A218.3 218.3 0 0 0 932 256M568 316A201.3 201.3 0 0 0 932 256M568 316A243.1 243.1 0 0 0 932 256M579.4 316A205.1 205.1 0 0 0 932 256M624.9 316A182.2 182.2 0 0 0 932 256M590.8 316A199.3 199.3 0 0 0 932 256M602.1 316A193.6 193.6 0 0 0 932 256M613.5 316A187.9 187.9 0 0 0 932 256"/>
<path stroke="#ff0f00" d="M568 316A210.9 210.9 0 0 0 932 256M568 316A224.2 224.2 0 0 0 932 256"/>
</g>
<g fill="none" clip-path="url(#cp)" stroke-width="0.7">
<path stroke="#ffd600" d="M498.4 380A332 332 0 0 0 748.5 528.6"/>
<path stroke="#ffcf00" d="M583.7 475.3A313.8 313.8 0 0 0 729.5 539.3"/>
<path stroke="#ffce00" d="M497.7 394.7A326.1 326.1 0 0 0 665.9 511.9"/>
<path stroke="#ffcd00" d="M579.6 476.5A302.4 302.4 0 0 0 641.1 510.6"/>
<path stroke="#ffc900" d="M509.8 375A374.3 374.3 0 0 0 792 537.8"/>
<path stroke="#ffc900" d="M559 463.3A287.5 287.5 0 0 0 730.9 542.2"/>
<path stroke="#ffc900" d="M555 465.3A276.3 276.3 0 0 0 642.5 516.2"/>
<path stroke="#ffc600" d="M576.6 480A296.7 296.7 0 0 0 667.7 519.6"/>
<path stroke="#ffc500" d="M570.7 460.5A302.4 302.4 0 0 0 674.3 518.4"/>
<path stroke="#ffc400" d="M560.6 486.7A276.3 276.3 0 0 0 641.6 523"/>
<path stroke="#ffc400" d="M521.3 424.2A350.9 350.9 0 0 0 666.4 520"/>
<path stroke="#ffc200" d="M535.4 417.6A390.4 390.4 0 0 0 703.6 521.7"/>
<path stroke="#ffc100" d="M547.5 447.4A276.3 276.3 0 0 0 675.7 523"/>
<path stroke="#ffbc00" d="M509.6 397.6A343.5 343.5 0 0 0 694.4 526"/>
<path stroke="#ffbc00" d="M549.7 452A390.3 390.3 0 0 0 702.7 528"/>
<path stroke="#ffbb00" d="M484.6 418.7A302.3 302.3 0 0 0 672.5 529.5"/>
<path stroke="#ffb700" d="M464.3 398.1A276.3 276.3 0 0 0 673.9 530.9"/>
<path stroke="#ffb700" d="M520.7 437.5A343.4 343.4 0 0 0 693.6 531.8"/>
<path stroke="#ffb500" d="M534.9 432.4A374.2 374.2 0 0 0 725.6 532.3"/>
<path stroke="#ffb400" d="M612.7 482.3A351 351 0 0 0 732.8 531.6"/>
<path stroke="#ffb400" d="M597.4 490.2A325.1 325.1 0 0 0 675.4 532.5"/>
<path stroke="#ffb200" d="M593.4 490.7A313.8 313.8 0 0 0 696.3 535.2"/>
<path stroke="#ffb000" d="M550.7 461.8A390.2 390.2 0 0 0 735.1 536.3"/>
<path stroke="#ffae00" d="M450.9 412.7A276.3 276.3 0 0 0 585.6 516.2"/>
<path stroke="#ffad00" d="M496.7 422.2A313.7 313.7 0 0 0 695.4 539.7"/>
<path stroke="#ffad00" d="M565.9 458.9A415.6 415.6 0 0 0 762 536.1"/>
<path stroke="#ffad00" d="M567.3 480.5A287.5 287.5 0 0 0 697.7 539.3"/>
<path stroke="#ffad00" d="M522 408A366.3 366.3 0 0 0 753.6 535.7"/>
<path stroke="#ffad00" d="M508.2 422.2A331.8 331.8 0 0 0 638.4 509.7"/>
<path stroke="#ffaa00" d="M520.6 448.6A343.3 343.3 0 0 0 725.9 538.3"/>
<path stroke="#ffa800" d="M475.6 400.7A287.5 287.5 0 0 0 696.8 542.2"/>
<path stroke="#ffa800" d="M534.6 444.9A366.2 366.2 0 0 0 752.7 538.3"/>
<path stroke="#ffa700" d="M495.5 431.8A325.8 325.8 0 0 0 653.7 518.2"/>
<path stroke="#ffa700" d="M564.1 484.1A281.9 281.9 0 0 0 615 513.5"/>
<path stroke="#ffa500" d="M549.6 440.4A398.7 398.7 0 0 0 784.8 538"/>
<path stroke="#ffa500" d="M540.3 470.9A390 390 0 0 0 646.9 522.5"/>
<path stroke="#ffa500" d="M462.5 414.6A281.9 281.9 0 0 0 602.8 522.1"/>
<path stroke="#ffa500" d="M450.1 417.3A296.5 296.5 0 0 0 632.7 524.8"/>
<path stroke="#ffa400" d="M485.8 405A302.4 302.4 0 0 0 640.2 518.8"/>
<path stroke="#ffa300" d="M553.1 469.9A398.4 398.4 0 0 0 663.4 522.6"/>
<path stroke="#ffa100" d="M495.9 435.2A313.7 313.7 0 0 0 618.5 521.9"/>
<path stroke="#ffa000" d="M567.4 468.1A415.5 415.5 0 0 0 685.1 523"/>
<path stroke="#ffa000" d="M509.1 458.9A343.2 343.2 0 0 0 637.7 527.1"/>
<path stroke="#ffa000" d="M507.7 433.7A331.7 331.7 0 0 0 670.8 522.7"/>
<path stroke="#ffa000" d="M508.9 425.7A325.1 325.1 0 0 0 718.2 549.8"/>
<path stroke="#ff9f00" d="M472.8 417.1A296.6 296.6 0 0 0 655.5 524.5"/>
<path stroke="#ff9f00" d="M450.2 419.7A319.7 319.7 0 0 0 570.3 501.2"/>
<path stroke="#ff9f00" d="M418.8 398.1A276.3 276.3 0 0 0 628.4 530.9"/>
<path stroke="#ff9d00" d="M521.5 457.7A350.6 350.6 0 0 0 654.2 527.3"/>
<path stroke="#ff9d00" d="M507.7 462.9A325 325 0 0 0 705.9 552.8"/>
<path stroke="#ff9c00" d="M474.1 416.4A287.5 287.5 0 0 0 619.9 528.1"/>
<path stroke="#ff9b00" d="M535.1 455.3A366.1 366.1 0 0 0 675.9 527.6"/>
<path stroke="#ff9900" d="M487 403.3A298.8 298.8 0 0 0 719.7 553.5"/>
<path stroke="#ff9900" d="M472.4 447.1A313.6 313.6 0 0 0 628.1 535.9"/>
<path stroke="#ff9900" d="M546.2 476.9A415.1 415.1 0 0 0 694.7 533.6"/>
<path stroke="#ff9800" d="M484.4 444.6A331.5 331.5 0 0 0 680.4 530"/>
<path stroke="#ff9700" d="M483.6 447.6A298.8 298.8 0 0 0 598.2 531.9"/>
<path stroke="#ff9700" d="M483.7 447A313.6 313.6 0 0 0 639.5 535.8"/>
<path stroke="#ff9600" d="M557.5 476.7A415.2 415.2 0 0 0 706.1 533.4"/>
<path stroke="#ff9600" d="M503.9 463.4A381.6 381.6 0 0 0 684.5 537.1"/>
<path stroke="#ff9500" d="M474.1 447.1A337.2 337.2 0 0 0 674.8 534.8"/>
<path stroke="#ff9500" d="M495.8 444.4A331.6 331.6 0 0 0 691.8 529.7"/>
<path stroke="#ff9400" d="M570.5 475.8A424 424 0 0 0 722.6 533.3"/>
<path stroke="#ff9300" d="M512.8 465.2A365.8 365.8 0 0 0 685.5 536.8"/>
<path stroke="#ff9200" d="M461.2 430.2A287.5 287.5 0 0 0 640.8 539.3"/>
<path stroke="#ff9100" d="M524.1 465A365.9 365.9 0 0 0 696.9 536.6"/>
<path stroke="#ff8e00" d="M536.8 463.8A373.9 373.9 0 0 0 713.4 536.4"/>
<path stroke="#ff8d00" d="M472 431.1A302.3 302.3 0 0 0 584.3 511.2"/>
<path stroke="#ff8c00" d="M418.8 363.7A459.6 459.6 0 0 0 753.1 538.8"/>
<path stroke="#ff8a00" d="M430.1 365.6A441.5 441.5 0 0 0 754 538.7"/>
<path stroke="#ff8700" d="M441.5 365.5A441.6 441.6 0 0 0 765.4 538.5"/>
<path stroke="#ff8700" d="M520.5 469.5A406.4 406.4 0 0 0 634.5 523.5"/>
<path stroke="#ff8600" d="M439.8 414.6A281.9 281.9 0 0 0 580 522.1"/>
<path stroke="#ff8400" d="M528.9 471.1A389.9 389.9 0 0 0 635.5 522.7"/>
<path stroke="#ff8300" d="M428.6 416.4A287.5 287.5 0 0 0 574.4 528.1"/>
<path stroke="#ff8100" d="M488.5 457.1A358 358 0 0 0 625.3 528.2"/>
<path stroke="#ff7f00" d="M497.7 459.1A343.1 343.1 0 0 0 626.3 527.3"/>
<path stroke="#ff7e00" d="M439.1 419.2A302.2 302.2 0 0 0 627.1 530.1"/>
<path stroke="#ff7900" d="M460.9 447.6A298.8 298.8 0 0 0 575.4 531.9"/>
<path stroke="#ff7700" d="M538.1 475.6A432.4 432.4 0 0 0 693.8 533.9"/>
<path stroke="#ff7200" d="M461.8 449.7A319.2 319.2 0 0 0 622.5 541.3"/>
</g>
<polyline points="386,316 386,589 1205,589 1205,255.9" fill="none" stroke="#000" stroke-width="2.2" stroke-linejoin="round" stroke-linecap="round"/>
<polyline points="932,255.9 737.1,255.9 659,316" fill="none" stroke="#000" stroke-width="2.2" stroke-linejoin="round" stroke-linecap="round"/>
<line x1="386" y1="316" x2="659" y2="316" stroke="#000" stroke-width="1.4" stroke-dasharray="7.8 3.575" stroke-dashoffset="-1.8"/>
<line x1="932" y1="255.9" x2="1205" y2="255.9" stroke="#000" stroke-width="1.4" stroke-dasharray="7.8 3.575" stroke-dashoffset="-1.8"/>
<g stroke="#d21919" stroke-width="1" fill="none">
<path d="M737.6 254.9V235.4H847.3V254.9M792.5 235.4V254.9"/>
<path d="M790 251.4L792.5 254.9L795 251.4"/>
<path d="M844.8 251.4L847.3 254.9L849.8 251.4"/>
<line x1="737.1" y1="255.3" x2="846.8" y2="255.3" stroke-width="1.2"/>
</g>
<text x="791" y="231.9" class="tah" font-size="11" fill="#c81e1e" text-anchor="middle">50 kPa</text>
<circle cx="386" cy="589" r="2.6" fill="#fff" stroke="#000" stroke-width="0.9"/>
<circle cx="1205" cy="589" r="2.6" fill="#fff" stroke="#000" stroke-width="0.9"/>
<circle cx="1205" cy="286" r="2.6" fill="#fff" stroke="#000" stroke-width="0.9"/>
<circle cx="1205" cy="255.9" r="2.6" fill="#fff" stroke="#000" stroke-width="0.9"/>
<circle cx="737.1" cy="255.9" r="2.6" fill="#fff" stroke="#000" stroke-width="0.9"/>
<circle cx="698" cy="286" r="2.6" fill="#fff" stroke="#000" stroke-width="0.9"/>
<circle cx="659" cy="316" r="2.6" fill="#fff" stroke="#000" stroke-width="0.9"/>
<circle cx="386" cy="316" r="2.6" fill="#fff" stroke="#000" stroke-width="0.9"/>
<path d="M385 314.5v-11.5h2v11.5zM386.5 309.8l-6.5 -4.6v9.2z" fill="#0b3f2b"/>
<path d="M658 314.5v-11.5h2v11.5zM659.5 309.8l6.5 -4.6v9.2z" fill="#0b3f2b"/>
<path d="M931 254.4v-11.5h2v11.5zM932.5 249.7l-6.5 -4.6v9.2z" fill="#0b3f2b"/>
<path d="M1204 254.4v-11.5h2v11.5zM1205.5 249.7l6.5 -4.6v9.2z" fill="#0b3f2b"/>
<path d="M477 316L675.1 63.4L931.9 255.9" fill="none" stroke="#1f6f1f" stroke-width="1"/>
<circle cx="675.1" cy="63.4" r="2.7" fill="#0f640f"/>
<text x="675.4" y="53.7" class="tah" font-size="16" fill="#0a640a" text-anchor="middle">1.762</text>
<polyline points="1172,66 1179.4,66 1182.1,62.9 1184.4,69.1 1187.8,57.2 1190.9,78.4 1195.7,40.4 1199.6,91.6 1204.9,53.6 1208,75.3 1210.8,63.4 1213.1,69.6 1215.7,66 1223.2,66" fill="none" stroke="#e60a0a" stroke-width="1.3" stroke-linejoin="miter"/>
<path d="M1208.9 50.6l5.8 -2.2v5.2z" fill="#e60a0a"/>
<text x="1222.7" y="49.8" class="tah" font-size="10.8" fill="#c81e1e" textLength="21.6" lengthAdjust="spacing">0.15</text>
<g stroke="#000" stroke-width="1" shape-rendering="crispEdges">
<line x1="323.5" y1="0" x2="323.5" y2="635"/>
<line x1="323" y1="634.5" x2="1270" y2="634.5"/>
<line x1="303" y1="654.5" x2="1270" y2="654.5"/>
<line x1="1269.5" y1="0" x2="1269.5" y2="655"/>
<line x1="303.5" y1="0" x2="303.5" y2="655"/>
<line x1="315" y1="589.5" x2="323" y2="589.5"/>
<line x1="315" y1="507.5" x2="323" y2="507.5"/>
<line x1="315" y1="425.5" x2="323" y2="425.5"/>
<line x1="315" y1="343.5" x2="323" y2="343.5"/>
<line x1="315" y1="261.5" x2="323" y2="261.5"/>
<line x1="315" y1="179.5" x2="323" y2="179.5"/>
<line x1="315" y1="97.5" x2="323" y2="97.5"/>
<line x1="315" y1="15.5" x2="323" y2="15.5"/>
<line x1="304.5" y1="634" x2="304.5" y2="642" />
<line x1="386.5" y1="634" x2="386.5" y2="642"/>
<line x1="468.5" y1="634" x2="468.5" y2="642"/>
<line x1="550.5" y1="634" x2="550.5" y2="642"/>
<line x1="632.5" y1="634" x2="632.5" y2="642"/>
<line x1="714.5" y1="634" x2="714.5" y2="642"/>
<line x1="796.5" y1="634" x2="796.5" y2="642"/>
<line x1="877.5" y1="634" x2="877.5" y2="642"/>
<line x1="959.5" y1="634" x2="959.5" y2="642"/>
<line x1="1041.5" y1="634" x2="1041.5" y2="642"/>
<line x1="1123.5" y1="634" x2="1123.5" y2="642"/>
<line x1="1205.5" y1="634" x2="1205.5" y2="642"/>
</g>
<g class="ari" font-size="10">
<text transform="translate(305.5 588.5) rotate(90)" textLength="4.4" lengthAdjust="spacingAndGlyphs">0</text>
<text transform="translate(305.5 506.5) rotate(90)" textLength="4.4" lengthAdjust="spacingAndGlyphs">3</text>
<text transform="translate(305.5 424.5) rotate(90)" textLength="4.4" lengthAdjust="spacingAndGlyphs">6</text>
<text transform="translate(305.5 342.5) rotate(90)" textLength="4.4" lengthAdjust="spacingAndGlyphs">9</text>
<text transform="translate(305.5 260.5) rotate(90)" textLength="8.8" lengthAdjust="spacingAndGlyphs">12</text>
<text transform="translate(305.5 178.5) rotate(90)" textLength="8.8" lengthAdjust="spacingAndGlyphs">15</text>
<text transform="translate(305.5 96.5) rotate(90)" textLength="8.8" lengthAdjust="spacingAndGlyphs">18</text>
<text transform="translate(305.5 14.5) rotate(90)" textLength="8.8" lengthAdjust="spacingAndGlyphs">21</text>
<text x="305.5" y="651.8" textLength="7.2" lengthAdjust="spacingAndGlyphs">-3</text>
<text x="386.3" y="651.8" textLength="4.5" lengthAdjust="spacingAndGlyphs">0</text>
<text x="468.3" y="651.8" textLength="4.5" lengthAdjust="spacingAndGlyphs">3</text>
<text x="550.3" y="651.8" textLength="4.5" lengthAdjust="spacingAndGlyphs">6</text>
<text x="632.3" y="651.8" textLength="4.5" lengthAdjust="spacingAndGlyphs">9</text>
<text x="714.3" y="651.8" textLength="9.0" lengthAdjust="spacingAndGlyphs">12</text>
<text x="796.3" y="651.8" textLength="9.0" lengthAdjust="spacingAndGlyphs">15</text>
<text x="877.3" y="651.8" textLength="9.0" lengthAdjust="spacingAndGlyphs">18</text>
<text x="959.3" y="651.8" textLength="9.0" lengthAdjust="spacingAndGlyphs">21</text>
<text x="1041.3" y="651.8" textLength="9.0" lengthAdjust="spacingAndGlyphs">24</text>
<text x="1123.3" y="651.8" textLength="9.0" lengthAdjust="spacingAndGlyphs">27</text>
<text x="1205.3" y="651.8" textLength="9.0" lengthAdjust="spacingAndGlyphs">30</text>
</g>
<g shape-rendering="crispEdges"><rect x="1271" y="0" width="1" height="659" fill="#ddd"/><rect x="534" y="635" width="1" height="19" fill="#999"/><rect x="304" y="634" width="19" height="1" fill="#999"/></g>
<polygon points="226,1257 1045,1257 1045,954 538,954 499,984 226,984" fill="#add8e6"/>
<polygon points="538,954 1045,954 1045,923.9 577.1,923.9" fill="#f08080"/>

<polygon points="226,1257 1045,1257 1045,923.9 577.1,923.9 499,984 226,984" fill="none" stroke="#000" stroke-width="2.2" stroke-linejoin="round"/>
<g stroke="#d21919" stroke-width="1" fill="none">
<path d="M577.6 922.9V903.4H687.3V922.9M632.5 903.4V922.9"/>
<path d="M630 919.4L632.5 922.9L635 919.4"/>
<path d="M684.8 919.4L687.3 922.9L689.8 919.4"/>
<line x1="577.1" y1="923.3" x2="686.8" y2="923.3" stroke-width="1.2"/>
</g>
<text x="631" y="899.9" class="tah" font-size="11" fill="#c81e1e" text-anchor="middle">50 kPa</text>
<circle cx="226" cy="1257" r="2.6" fill="#fff" stroke="#000" stroke-width="0.9"/>
<circle cx="1045" cy="1257" r="2.6" fill="#fff" stroke="#000" stroke-width="0.9"/>
<circle cx="1045" cy="954" r="2.6" fill="#fff" stroke="#000" stroke-width="0.9"/>
<circle cx="1045" cy="923.9" r="2.6" fill="#fff" stroke="#000" stroke-width="0.9"/>
<circle cx="577.1" cy="923.9" r="2.6" fill="#fff" stroke="#000" stroke-width="0.9"/>
<circle cx="538" cy="954" r="2.6" fill="#fff" stroke="#000" stroke-width="0.9"/>
<circle cx="499" cy="984" r="2.6" fill="#fff" stroke="#000" stroke-width="0.9"/>
<circle cx="226" cy="984" r="2.6" fill="#fff" stroke="#000" stroke-width="0.9"/>
<path d="M225 982.5v-11.5h2v11.5zM226.5 977.8l-6.5 -4.6v9.2z" fill="#0b3f2b"/>
<path d="M498 982.5v-11.5h2v11.5zM499.5 977.8l6.5 -4.6v9.2z" fill="#0b3f2b"/>
<path d="M771 922.4v-11.5h2v11.5zM772.5 917.7l-6.5 -4.6v9.2z" fill="#0b3f2b"/>
<path d="M1044 922.4v-11.5h2v11.5zM1045.5 917.7l6.5 -4.6v9.2z" fill="#0b3f2b"/>
<path d="M317 984L515.1 731.4L771.9 923.9" fill="none" stroke="#1f6f1f" stroke-width="1"/>
<path d="M317 984A321 321 0 0 0 771.9 923.9" fill="none" stroke="#1f6f1f" stroke-width="1.1"/>
<circle cx="515.1" cy="731.4" r="2.7" fill="#0f640f"/>
<text x="515.4" y="721.7" class="tah" font-size="16" fill="#0a640a" text-anchor="middle">1.762</text>
<polyline points="1012,734 1019.4,734 1022.1,730.9 1024.4,737.1 1027.8,725.2 1030.9,746.4 1035.7,708.4 1039.6,759.6 1044.9,721.6 1048,743.3 1050.8,731.4 1053.1,737.6 1055.7,734 1063.2,734" fill="none" stroke="#e60a0a" stroke-width="1.3" stroke-linejoin="miter"/>
<path d="M1048.9 718.6l5.8 -2.2v5.2z" fill="#e60a0a"/>
<text x="1062.7" y="717.8" class="tah" font-size="10.8" fill="#c81e1e" textLength="21.6" lengthAdjust="spacing">0.15</text>
<g stroke="#000" stroke-width="1" shape-rendering="crispEdges">
<line x1="163.5" y1="667" x2="163.5" y2="1303"/>
<line x1="163" y1="1302.5" x2="1110" y2="1302.5"/>
<line x1="143" y1="1322.5" x2="1110" y2="1322.5"/>
<line x1="1109.5" y1="667" x2="1109.5" y2="1323"/>
<line x1="143" y1="667.5" x2="1110" y2="667.5"/>
<line x1="155" y1="1257.5" x2="163" y2="1257.5"/>
<line x1="155" y1="1175.5" x2="163" y2="1175.5"/>
<line x1="155" y1="1093.5" x2="163" y2="1093.5"/>
<line x1="155" y1="1011.5" x2="163" y2="1011.5"/>
<line x1="155" y1="929.5" x2="163" y2="929.5"/>
<line x1="155" y1="847.5" x2="163" y2="847.5"/>
<line x1="155" y1="765.5" x2="163" y2="765.5"/>
<line x1="155" y1="683.5" x2="163" y2="683.5"/>
<line x1="144.5" y1="1302" x2="144.5" y2="1310" />
<line x1="226.5" y1="1302" x2="226.5" y2="1310"/>
<line x1="308.5" y1="1302" x2="308.5" y2="1310"/>
<line x1="390.5" y1="1302" x2="390.5" y2="1310"/>
<line x1="472.5" y1="1302" x2="472.5" y2="1310"/>
<line x1="554.5" y1="1302" x2="554.5" y2="1310"/>
<line x1="636.5" y1="1302" x2="636.5" y2="1310"/>
<line x1="717.5" y1="1302" x2="717.5" y2="1310"/>
<line x1="799.5" y1="1302" x2="799.5" y2="1310"/>
<line x1="881.5" y1="1302" x2="881.5" y2="1310"/>
<line x1="963.5" y1="1302" x2="963.5" y2="1310"/>
<line x1="1045.5" y1="1302" x2="1045.5" y2="1310"/>
</g>
<g class="ari" font-size="10">
<text transform="translate(145.5 1256.5) rotate(90)" textLength="4.4" lengthAdjust="spacingAndGlyphs">0</text>
<text transform="translate(145.5 1174.5) rotate(90)" textLength="4.4" lengthAdjust="spacingAndGlyphs">3</text>
<text transform="translate(145.5 1092.5) rotate(90)" textLength="4.4" lengthAdjust="spacingAndGlyphs">6</text>
<text transform="translate(145.5 1010.5) rotate(90)" textLength="4.4" lengthAdjust="spacingAndGlyphs">9</text>
<text transform="translate(145.5 928.5) rotate(90)" textLength="8.8" lengthAdjust="spacingAndGlyphs">12</text>
<text transform="translate(145.5 846.5) rotate(90)" textLength="8.8" lengthAdjust="spacingAndGlyphs">15</text>
<text transform="translate(145.5 764.5) rotate(90)" textLength="8.8" lengthAdjust="spacingAndGlyphs">18</text>
<text transform="translate(145.5 682.5) rotate(90)" textLength="8.8" lengthAdjust="spacingAndGlyphs">21</text>
<text x="145.5" y="1319.8" textLength="7.2" lengthAdjust="spacingAndGlyphs">-3</text>
<text x="226.3" y="1319.8" textLength="4.5" lengthAdjust="spacingAndGlyphs">0</text>
<text x="308.3" y="1319.8" textLength="4.5" lengthAdjust="spacingAndGlyphs">3</text>
<text x="390.3" y="1319.8" textLength="4.5" lengthAdjust="spacingAndGlyphs">6</text>
<text x="472.3" y="1319.8" textLength="4.5" lengthAdjust="spacingAndGlyphs">9</text>
<text x="554.3" y="1319.8" textLength="9.0" lengthAdjust="spacingAndGlyphs">12</text>
<text x="636.3" y="1319.8" textLength="9.0" lengthAdjust="spacingAndGlyphs">15</text>
<text x="717.3" y="1319.8" textLength="9.0" lengthAdjust="spacingAndGlyphs">18</text>
<text x="799.3" y="1319.8" textLength="9.0" lengthAdjust="spacingAndGlyphs">21</text>
<text x="881.3" y="1319.8" textLength="9.0" lengthAdjust="spacingAndGlyphs">24</text>
<text x="963.3" y="1319.8" textLength="9.0" lengthAdjust="spacingAndGlyphs">27</text>
<text x="1045.3" y="1319.8" textLength="9.0" lengthAdjust="spacingAndGlyphs">30</text>
</g>
<g shape-rendering="crispEdges"><rect x="1111" y="666" width="2" height="657" fill="#e2e2e2"/><rect x="1114" y="666" width="1" height="657" fill="#777"/><rect x="144" y="711" width="19" height="1" fill="#888"/><rect x="167" y="1303" width="1" height="19" fill="#999"/></g>
</svg></body></html>
